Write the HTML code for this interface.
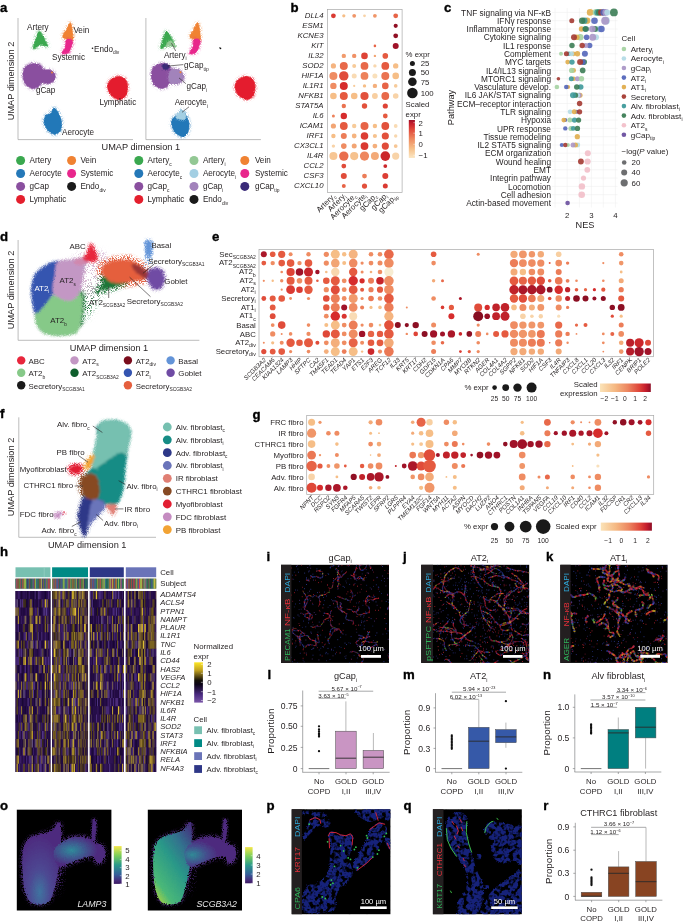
<!DOCTYPE html>
<html><head><meta charset="utf-8"><title>Figure</title>
<style>html,body{margin:0;padding:0;background:#fff}svg{display:block;will-change:transform}text{font-family:"Liberation Sans",sans-serif}</style>
</head><body>
<svg width="685" height="922" viewBox="0 0 685 922" fill="#231f20">
<defs>
<filter id="rough" x="-5%" y="-5%" width="110%" height="110%"><feTurbulence type="fractalNoise" baseFrequency="0.9" numOctaves="2" seed="3" result="n"/><feDisplacementMap in="SourceGraphic" in2="n" scale="2.2" xChannelSelector="R" yChannelSelector="G"/></filter>
<filter id="rough2" x="-5%" y="-5%" width="110%" height="110%"><feTurbulence type="fractalNoise" baseFrequency="0.9" numOctaves="2" seed="8" result="n"/><feDisplacementMap in="SourceGraphic" in2="n" scale="3.2" xChannelSelector="R" yChannelSelector="G" result="d"/><feGaussianBlur in="d" stdDeviation="0.35"/></filter>
<filter id="rough3" x="-5%" y="-5%" width="110%" height="110%"><feTurbulence type="fractalNoise" baseFrequency="0.9" numOctaves="2" seed="8" result="n"/><feDisplacementMap in="SourceGraphic" in2="n" scale="3.5" xChannelSelector="R" yChannelSelector="G" result="d"/><feGaussianBlur in="d" stdDeviation="0.8"/></filter>
<filter id="dust" x="-30%" y="-30%" width="160%" height="160%"><feTurbulence type="fractalNoise" baseFrequency="1.3" numOctaves="1" seed="5" result="n"/><feColorMatrix in="n" type="matrix" values="0 0 0 0 0 0 0 0 0 0 0 0 0 0 0 9 0 0 0 -4.1" result="m"/><feGaussianBlur in="SourceGraphic" stdDeviation="1.6" result="b"/><feComposite in="b" in2="m" operator="in"/></filter>
<filter id="dust2" x="-30%" y="-30%" width="160%" height="160%"><feTurbulence type="fractalNoise" baseFrequency="1.4" numOctaves="1" seed="11" result="n"/><feColorMatrix in="n" type="matrix" values="0 0 0 0 0 0 0 0 0 0 0 0 0 0 0 9 0 0 0 -4.9" result="m"/><feGaussianBlur in="SourceGraphic" stdDeviation="3" result="b"/><feComposite in="b" in2="m" operator="in"/></filter>
<filter id="rough4" x="-5%" y="-5%" width="110%" height="110%"><feTurbulence type="fractalNoise" baseFrequency="0.9" numOctaves="2" seed="8" result="n"/><feGaussianBlur in="SourceGraphic" stdDeviation="1.3" result="b"/><feDisplacementMap in="b" in2="n" scale="3" xChannelSelector="R" yChannelSelector="G" result="d"/><feGaussianBlur in="d" stdDeviation="0.5"/></filter>
<filter id="patch" x="-5%" y="-5%" width="110%" height="110%"><feTurbulence type="fractalNoise" baseFrequency="0.22" numOctaves="2" seed="2" result="n"/><feColorMatrix in="n" type="matrix" values="0 0 0 0 0 0 0 0 0 0 0 0 0 0 0 6 0 0 0 -2.1" result="m"/><feTurbulence type="fractalNoise" baseFrequency="0.9" numOctaves="2" seed="8" result="n2"/><feDisplacementMap in="SourceGraphic" in2="n2" scale="3" xChannelSelector="R" yChannelSelector="G" result="d"/><feComposite in="d" in2="m" operator="in" result="c"/><feGaussianBlur in="c" stdDeviation="0.4"/></filter>
<filter id="blur1" x="-10%" y="-10%" width="120%" height="120%"><feTurbulence type="fractalNoise" baseFrequency="0.9" numOctaves="2" seed="4" result="n"/><feDisplacementMap in="SourceGraphic" in2="n" scale="3" xChannelSelector="R" yChannelSelector="G" result="d"/><feGaussianBlur in="d" stdDeviation="0.7"/></filter>
<linearGradient id="orrdV" x1="0" y1="1" x2="0" y2="0"><stop offset="0" stop-color="#fbe7c4"/><stop offset="0.25" stop-color="#f6be87"/><stop offset="0.5" stop-color="#ee8a60"/><stop offset="0.75" stop-color="#e0483a"/><stop offset="0.9" stop-color="#c8202e"/><stop offset="1" stop-color="#9c1028"/></linearGradient>
<linearGradient id="orrdH" x1="0" y1="0" x2="1" y2="0"><stop offset="0" stop-color="#fbe3b8"/><stop offset="0.3" stop-color="#f5b882"/><stop offset="0.55" stop-color="#ec8560"/><stop offset="0.78" stop-color="#de4238"/><stop offset="0.9" stop-color="#c41c2c"/><stop offset="1" stop-color="#8e0e26"/></linearGradient>
<linearGradient id="heatV" x1="0" y1="0" x2="0" y2="1"><stop offset="0" stop-color="#fde725"/><stop offset="0.2" stop-color="#c0a020"/><stop offset="0.45" stop-color="#141008"/><stop offset="0.55" stop-color="#0c0418"/><stop offset="0.8" stop-color="#4a2a80"/><stop offset="1" stop-color="#7a55a8"/></linearGradient>
<linearGradient id="virV" x1="0" y1="0" x2="0" y2="1"><stop offset="0" stop-color="#f4e64a"/><stop offset="0.25" stop-color="#7ccf5a"/><stop offset="0.5" stop-color="#2a9a8a"/><stop offset="0.75" stop-color="#35609a"/><stop offset="0.92" stop-color="#482a7a"/><stop offset="1" stop-color="#3a1a62"/></linearGradient>
<radialGradient id="oA" cx="0.45" cy="0.85" r="0.7"><stop offset="0" stop-color="#3f74a0"/><stop offset="0.4" stop-color="#4d4892"/><stop offset="1" stop-color="#4e2a7e"/></radialGradient>
<radialGradient id="oB" cx="0.35" cy="0.45" r="0.5"><stop offset="0" stop-color="#2f8a9a"/><stop offset="0.5" stop-color="#3f5a90"/><stop offset="1" stop-color="#4e2a7e"/></radialGradient>
<linearGradient id="oC" x1="0.9" y1="0" x2="0.2" y2="1"><stop offset="0" stop-color="#45327e"/><stop offset="0.25" stop-color="#32708e"/><stop offset="0.5" stop-color="#2a9888"/><stop offset="0.85" stop-color="#4ab878"/><stop offset="1" stop-color="#a0d048"/></linearGradient>
<radialGradient id="oD" cx="0.15" cy="0.6" r="0.5"><stop offset="0" stop-color="#2f8a96"/><stop offset="0.6" stop-color="#454a8c"/><stop offset="1" stop-color="#4e2a7e"/></radialGradient>
</defs>
<text x="0" y="11.5" font-size="13.2" font-weight="bold" fill="#000" stroke="#000" stroke-width="0.35">a</text>
<line x1="18.0" y1="18.0" x2="18.0" y2="139.6" stroke="#a0a0a0" stroke-width="0.7"/>
<line x1="18.0" y1="139.6" x2="133.0" y2="139.6" stroke="#a0a0a0" stroke-width="0.7"/>
<line x1="145.9" y1="18.0" x2="145.9" y2="139.6" stroke="#a0a0a0" stroke-width="0.7"/>
<line x1="145.9" y1="139.6" x2="260.9" y2="139.6" stroke="#a0a0a0" stroke-width="0.7"/>
<g>
<polygon points="38.8,31.5 36.2,38.0 33.2,48.3 36.8,46.8 40.5,44.6 44.5,45.6 47.8,46.2 45.0,40.5 41.8,34.5" fill="#3aa84f" stroke="#3aa84f" stroke-width="2.2" stroke-linejoin="round" filter="url(#dust)"/>
<path d="M38.8 31.5C37.9 32.1 37.1 35.2 36.2 38.0C35.3 40.8 33.1 46.8 33.2 48.3C33.3 49.8 35.6 47.4 36.8 46.8C38.0 46.2 39.2 44.8 40.5 44.6C41.8 44.4 43.3 45.3 44.5 45.6C45.7 45.9 47.7 47.1 47.8 46.2C47.9 45.4 46.0 42.5 45.0 40.5C44.0 38.5 42.8 36.0 41.8 34.5C40.8 33.0 39.7 30.9 38.8 31.5Z" fill="#3aa84f" filter="url(#rough)" stroke="#3aa84f" stroke-width="0.6"/>
<polygon points="69.8,22.8 67.0,29.0 62.5,36.5 66.0,39.0 72.5,40.5 72.5,33.0 71.5,26.0" fill="#f08232" stroke="#f08232" stroke-width="2.2" stroke-linejoin="round" filter="url(#dust)"/>
<path d="M69.8 22.8C69.0 23.3 68.2 26.7 67.0 29.0C65.8 31.3 62.7 34.8 62.5 36.5C62.3 38.2 64.3 38.3 66.0 39.0C67.7 39.7 71.4 41.5 72.5 40.5C73.6 39.5 72.7 35.4 72.5 33.0C72.3 30.6 72.0 27.7 71.5 26.0C71.0 24.3 70.5 22.3 69.8 22.8Z" fill="#f08232" filter="url(#rough)" stroke="#f08232" stroke-width="0.6"/>
<polygon points="66.5,39.5 72.5,40.5 71.5,46.0 68.5,52.5 62.0,53.5 65.5,47.0" fill="#e8268c" stroke="#e8268c" stroke-width="2.2" stroke-linejoin="round" filter="url(#dust)"/>
<path d="M66.5 39.5C67.7 38.4 71.7 39.4 72.5 40.5C73.3 41.6 72.2 44.0 71.5 46.0C70.8 48.0 70.1 51.2 68.5 52.5C66.9 53.8 62.5 54.4 62.0 53.5C61.5 52.6 64.8 49.3 65.5 47.0C66.2 44.7 65.3 40.6 66.5 39.5Z" fill="#e8268c" filter="url(#rough)" stroke="#e8268c" stroke-width="0.6"/>
<polygon points="118.0,76.5 125.0,79.0 127.5,87.0 125.5,96.0 119.0,99.5 111.0,95.0 107.5,87.0 110.5,80.0" fill="#e41f2d" stroke="#e41f2d" stroke-width="2.2" stroke-linejoin="round" filter="url(#dust)"/>
<path d="M118.0 76.5C120.4 76.3 123.4 77.2 125.0 79.0C126.6 80.8 127.4 84.2 127.5 87.0C127.6 89.8 126.9 93.9 125.5 96.0C124.1 98.1 121.4 99.7 119.0 99.5C116.6 99.3 112.9 97.1 111.0 95.0C109.1 92.9 107.6 89.5 107.5 87.0C107.4 84.5 108.8 81.8 110.5 80.0C112.2 78.2 115.6 76.7 118.0 76.5Z" fill="#e41f2d" filter="url(#rough)" stroke="#e41f2d" stroke-width="0.6"/>
<polygon points="54.0,108.0 58.5,113.0 61.5,122.0 60.0,131.0 54.5,134.2 47.5,130.0 44.0,121.0 46.5,115.0 50.5,113.5" fill="#2478b8" stroke="#2478b8" stroke-width="2.2" stroke-linejoin="round" filter="url(#dust)"/>
<path d="M54.0 108.0C55.3 107.9 57.2 110.7 58.5 113.0C59.8 115.3 61.2 119.0 61.5 122.0C61.8 125.0 61.2 129.0 60.0 131.0C58.8 133.0 56.6 134.4 54.5 134.2C52.4 134.0 49.2 132.2 47.5 130.0C45.8 127.8 44.2 123.5 44.0 121.0C43.8 118.5 45.4 116.2 46.5 115.0C47.6 113.8 49.2 114.7 50.5 113.5C51.8 112.3 52.7 108.1 54.0 108.0Z" fill="#2478b8" filter="url(#rough)" stroke="#2478b8" stroke-width="0.6"/>
<polygon points="23.0,75.0 25.5,67.0 33.0,63.5 40.0,65.0 43.0,69.5 50.0,70.0 54.8,74.0 54.0,80.5 48.0,83.5 42.0,82.5 38.0,87.0 32.0,88.3 25.5,84.0" fill="#8a4f9f" stroke="#8a4f9f" stroke-width="2.2" stroke-linejoin="round" filter="url(#dust)"/>
<path d="M23.0 75.0C23.0 72.2 23.8 68.9 25.5 67.0C27.2 65.1 30.6 63.8 33.0 63.5C35.4 63.2 38.3 64.0 40.0 65.0C41.7 66.0 41.3 68.7 43.0 69.5C44.7 70.3 48.0 69.2 50.0 70.0C52.0 70.8 54.1 72.2 54.8 74.0C55.5 75.8 55.1 78.9 54.0 80.5C52.9 82.1 50.0 83.2 48.0 83.5C46.0 83.8 43.7 81.9 42.0 82.5C40.3 83.1 39.7 86.0 38.0 87.0C36.3 88.0 34.1 88.8 32.0 88.3C29.9 87.8 27.0 86.2 25.5 84.0C24.0 81.8 23.0 77.8 23.0 75.0Z" fill="#8a4f9f" filter="url(#rough)" stroke="#8a4f9f" stroke-width="0.6"/>
<circle cx="52.0" cy="72.5" r="0.90" fill="#f08232"/>
<polygon points="166.3,31.5 163.7,38.0 160.7,48.3 164.3,46.8 168.0,44.6 172.0,45.6 175.3,46.2 172.5,40.5 169.3,34.5" fill="#3aa84f" stroke="#3aa84f" stroke-width="2.2" stroke-linejoin="round" filter="url(#dust)"/>
<path d="M166.3 31.5C165.4 32.1 164.6 35.2 163.7 38.0C162.8 40.8 160.6 46.8 160.7 48.3C160.8 49.8 163.1 47.4 164.3 46.8C165.5 46.2 166.7 44.8 168.0 44.6C169.3 44.4 170.8 45.3 172.0 45.6C173.2 45.9 175.2 47.1 175.3 46.2C175.4 45.4 173.5 42.5 172.5 40.5C171.5 38.5 170.3 36.0 169.3 34.5C168.3 33.0 167.2 30.9 166.3 31.5Z" fill="#3aa84f" filter="url(#rough)" stroke="#3aa84f" stroke-width="0.6"/>
<polygon points="168.0,42.5 171.5,41.0 175.3,46.2 170.5,45.0 166.5,47.0" fill="#93c894" stroke="#93c894" stroke-width="2.2" stroke-linejoin="round" filter="url(#dust)"/>
<path d="M168.0 42.5C168.8 41.5 170.3 40.4 171.5 41.0C172.7 41.6 175.5 45.5 175.3 46.2C175.1 46.9 172.0 44.9 170.5 45.0C169.0 45.1 166.9 47.4 166.5 47.0C166.1 46.6 167.2 43.5 168.0 42.5Z" fill="#93c894" filter="url(#rough)" stroke="#93c894" stroke-width="0.6"/>
<polygon points="197.3,22.8 194.5,29.0 190.0,36.5 193.5,39.0 200.0,40.5 200.0,33.0 199.0,26.0" fill="#f08232" stroke="#f08232" stroke-width="2.2" stroke-linejoin="round" filter="url(#dust)"/>
<path d="M197.3 22.8C196.5 23.3 195.7 26.7 194.5 29.0C193.3 31.3 190.2 34.8 190.0 36.5C189.8 38.2 191.8 38.3 193.5 39.0C195.2 39.7 198.9 41.5 200.0 40.5C201.1 39.5 200.2 35.4 200.0 33.0C199.8 30.6 199.4 27.7 199.0 26.0C198.6 24.3 198.0 22.3 197.3 22.8Z" fill="#f08232" filter="url(#rough)" stroke="#f08232" stroke-width="0.6"/>
<polygon points="194.0,39.5 200.0,40.5 199.0,46.0 196.0,52.5 189.5,53.5 193.0,47.0" fill="#e8268c" stroke="#e8268c" stroke-width="2.2" stroke-linejoin="round" filter="url(#dust)"/>
<path d="M194.0 39.5C195.2 38.4 199.2 39.4 200.0 40.5C200.8 41.6 199.7 44.0 199.0 46.0C198.3 48.0 197.6 51.2 196.0 52.5C194.4 53.8 190.0 54.4 189.5 53.5C189.0 52.6 192.2 49.3 193.0 47.0C193.8 44.7 192.8 40.6 194.0 39.5Z" fill="#e8268c" filter="url(#rough)" stroke="#e8268c" stroke-width="0.6"/>
<polygon points="245.5,76.5 252.5,79.0 255.0,87.0 253.0,96.0 246.5,99.5 238.5,95.0 235.0,87.0 238.0,80.0" fill="#e41f2d" stroke="#e41f2d" stroke-width="2.2" stroke-linejoin="round" filter="url(#dust)"/>
<path d="M245.5 76.5C247.9 76.3 250.9 77.2 252.5 79.0C254.1 80.8 254.9 84.2 255.0 87.0C255.1 89.8 254.4 93.9 253.0 96.0C251.6 98.1 248.9 99.7 246.5 99.5C244.1 99.3 240.4 97.1 238.5 95.0C236.6 92.9 235.1 89.5 235.0 87.0C234.9 84.5 236.2 81.8 238.0 80.0C239.8 78.2 243.1 76.7 245.5 76.5Z" fill="#e41f2d" filter="url(#rough)" stroke="#e41f2d" stroke-width="0.6"/>
<polygon points="181.5,110.3 186.0,115.3 189.0,124.3 187.5,133.3 182.0,136.5 175.0,132.3 171.5,123.3 174.0,117.3 178.0,115.8" fill="#2478b8" stroke="#2478b8" stroke-width="2.2" stroke-linejoin="round" filter="url(#dust)"/>
<path d="M181.5 110.3C182.8 110.2 184.8 113.0 186.0 115.3C187.2 117.6 188.8 121.3 189.0 124.3C189.2 127.3 188.7 131.3 187.5 133.3C186.3 135.3 184.1 136.7 182.0 136.5C179.9 136.3 176.8 134.5 175.0 132.3C173.2 130.1 171.7 125.8 171.5 123.3C171.3 120.8 172.9 118.5 174.0 117.3C175.1 116.0 176.8 117.0 178.0 115.8C179.2 114.6 180.2 110.4 181.5 110.3Z" fill="#2478b8" filter="url(#rough)" stroke="#2478b8" stroke-width="0.6"/>
<polygon points="181.5,110.3 185.5,114.8 184.5,119.3 178.5,118.8 176.5,116.8" fill="#a3cfe3" stroke="#a3cfe3" stroke-width="2.2" stroke-linejoin="round" filter="url(#dust)"/>
<path d="M181.5 110.3C183.0 110.0 185.0 113.3 185.5 114.8C186.0 116.3 185.7 118.6 184.5 119.3C183.3 120.0 179.8 119.2 178.5 118.8C177.2 118.4 176.0 118.2 176.5 116.8C177.0 115.4 180.0 110.6 181.5 110.3Z" fill="#a3cfe3" filter="url(#rough)" stroke="#a3cfe3" stroke-width="0.6"/>
<polygon points="151.3,75.0 153.8,67.0 161.3,63.5 168.3,65.0 171.3,69.5 178.3,70.0 183.1,74.0 182.3,80.5 176.3,83.5 170.3,82.5 166.3,87.0 160.3,88.3 153.8,84.0" fill="#8a4f9f" stroke="#8a4f9f" stroke-width="2.2" stroke-linejoin="round" filter="url(#dust)"/>
<path d="M151.3 75.0C151.3 72.2 152.1 68.9 153.8 67.0C155.5 65.1 158.9 63.8 161.3 63.5C163.7 63.2 166.6 64.0 168.3 65.0C170.0 66.0 169.6 68.7 171.3 69.5C173.0 70.3 176.3 69.2 178.3 70.0C180.3 70.8 182.4 72.2 183.1 74.0C183.8 75.8 183.4 78.9 182.3 80.5C181.2 82.1 178.3 83.2 176.3 83.5C174.3 83.8 172.0 81.9 170.3 82.5C168.6 83.1 168.0 86.0 166.3 87.0C164.6 88.0 162.4 88.8 160.3 88.3C158.2 87.8 155.3 86.2 153.8 84.0C152.3 81.8 151.3 77.8 151.3 75.0Z" fill="#8a4f9f" filter="url(#rough)" stroke="#8a4f9f" stroke-width="0.6"/>
<polygon points="171.3,70.0 178.3,70.0 183.1,74.0 182.3,80.5 176.3,83.5 170.3,82.5 168.8,76.0" fill="#a283bb" stroke="#a283bb" stroke-width="2.2" stroke-linejoin="round" filter="url(#dust)"/>
<path d="M171.3 70.0C172.9 69.0 176.3 69.3 178.3 70.0C180.3 70.7 182.4 72.2 183.1 74.0C183.8 75.8 183.4 78.9 182.3 80.5C181.2 82.1 178.3 83.2 176.3 83.5C174.3 83.8 171.6 83.8 170.3 82.5C169.1 81.2 168.6 78.1 168.8 76.0C169.0 73.9 169.7 71.0 171.3 70.0Z" fill="#a283bb" filter="url(#rough)" stroke="#a283bb" stroke-width="0.6"/>
<polygon points="163.3,64.5 167.8,64.8 168.8,68.0 165.3,69.5 162.8,67.5" fill="#3a2a78" stroke="#3a2a78" stroke-width="2.2" stroke-linejoin="round" filter="url(#dust)"/>
<path d="M163.3 64.5C164.1 64.0 166.9 64.2 167.8 64.8C168.7 65.4 169.2 67.2 168.8 68.0C168.4 68.8 166.3 69.6 165.3 69.5C164.3 69.4 163.1 68.3 162.8 67.5C162.5 66.7 162.5 65.0 163.3 64.5Z" fill="#3a2a78" filter="url(#rough)" stroke="#3a2a78" stroke-width="0.6"/>
<circle cx="180.5" cy="72.2" r="1.00" fill="#f08232"/>
</g>
<circle cx="92.5" cy="48.2" r="0.80" fill="#111"/>
<circle cx="220.5" cy="48.4" r="0.80" fill="#111"/>
<circle cx="219.7" cy="47.7" r="0.50" fill="#111"/>
<text x="27.0" y="29.8" font-size="8.15" >Artery</text>
<text x="73.4" y="32.8" font-size="8.15" >Vein</text>
<text x="52.0" y="60.2" font-size="8.15" >Systemic</text>
<text x="94.0" y="51.9" font-size="8.15" >Endo<tspan font-size="4.9" dy="2.4">div</tspan></text>
<text x="35.9" y="92.8" font-size="8.15" >gCap</text>
<text x="99.5" y="105.4" font-size="8.15" >Lymphatic</text>
<text x="62.0" y="135.3" font-size="8.15" >Aerocyte</text>
<text x="163.9" y="57.7" font-size="8.15" >Artery<tspan font-size="4.9" dy="2.4">i</tspan></text>
<text x="184.0" y="68.2" font-size="8.15" >gCap<tspan font-size="4.9" dy="2.4">tip</tspan></text>
<text x="186.5" y="89.1" font-size="8.15" >gCap<tspan font-size="4.9" dy="2.4">i</tspan></text>
<text x="174.7" y="105.4" font-size="8.15" >Aerocyte<tspan font-size="4.9" dy="2.4">i</tspan></text>
<line x1="171.5" y1="43.2" x2="175.7" y2="51.0" stroke="#231f20" stroke-width="0.6"/>
<line x1="167.7" y1="66.1" x2="183.3" y2="64.6" stroke="#231f20" stroke-width="0.6"/>
<line x1="179.0" y1="77.9" x2="185.8" y2="83.7" stroke="#231f20" stroke-width="0.6"/>
<line x1="189.0" y1="106.8" x2="182.0" y2="112.3" stroke="#231f20" stroke-width="0.6"/>
<text x="10.6" y="0.4" font-size="1" ></text>
<text transform="translate(13.6 81) rotate(-90)" text-anchor="middle" font-size="9.2">UMAP dimension 2</text>
<text x="140.8" y="149.8" text-anchor="middle" font-size="9.2">UMAP dimension 1</text>
<circle cx="20.6" cy="160.5" r="4.50" fill="#3aa84f"/>
<text x="29.6" y="163.4" font-size="8.15" >Artery</text>
<circle cx="71.6" cy="160.5" r="4.50" fill="#f08232"/>
<text x="80.4" y="163.4" font-size="8.15" >Vein</text>
<circle cx="20.6" cy="173.5" r="4.50" fill="#2478b8"/>
<text x="29.6" y="176.4" font-size="8.15" >Aerocyte</text>
<circle cx="71.6" cy="173.5" r="4.50" fill="#e8268c"/>
<text x="80.4" y="176.4" font-size="8.15" >Systemic</text>
<circle cx="20.6" cy="186.4" r="4.50" fill="#8a4f9f"/>
<text x="29.6" y="189.3" font-size="8.15" >gCap</text>
<circle cx="71.6" cy="186.4" r="4.50" fill="#1a1a1a"/>
<text x="80.4" y="189.3" font-size="8.15" >Endo<tspan font-size="4.9" dy="2.4">div</tspan></text>
<circle cx="20.6" cy="199.4" r="4.50" fill="#e41f2d"/>
<text x="29.6" y="202.3" font-size="8.15" >Lymphatic</text>
<circle cx="138.8" cy="160.5" r="4.50" fill="#3aa84f"/>
<text x="147.6" y="163.4" font-size="8.15" >Artery<tspan font-size="4.9" dy="2.4">c</tspan></text>
<circle cx="194.0" cy="160.5" r="4.50" fill="#93c894"/>
<text x="202.9" y="163.4" font-size="8.15" >Artery<tspan font-size="4.9" dy="2.4">i</tspan></text>
<circle cx="244.8" cy="160.5" r="4.50" fill="#f08232"/>
<text x="254.9" y="163.4" font-size="8.15" >Vein</text>
<circle cx="138.8" cy="173.5" r="4.50" fill="#2478b8"/>
<text x="147.6" y="176.4" font-size="8.15" >Aerocyte<tspan font-size="4.9" dy="2.4">c</tspan></text>
<circle cx="194.0" cy="173.5" r="4.50" fill="#a3cfe3"/>
<text x="202.9" y="176.4" font-size="8.15" >Aerocyte<tspan font-size="4.9" dy="2.4">i</tspan></text>
<circle cx="244.8" cy="173.5" r="4.50" fill="#e8268c"/>
<text x="254.9" y="176.4" font-size="8.15" >Systemic</text>
<circle cx="138.8" cy="186.4" r="4.50" fill="#8a4f9f"/>
<text x="147.6" y="189.3" font-size="8.15" >gCap<tspan font-size="4.9" dy="2.4">c</tspan></text>
<circle cx="194.0" cy="186.4" r="4.50" fill="#a283bb"/>
<text x="202.9" y="189.3" font-size="8.15" >gCap<tspan font-size="4.9" dy="2.4">i</tspan></text>
<circle cx="244.8" cy="186.4" r="4.50" fill="#3a2a78"/>
<text x="254.9" y="189.3" font-size="8.15" >gCap<tspan font-size="4.9" dy="2.4">tip</tspan></text>
<circle cx="138.8" cy="199.4" r="4.50" fill="#e41f2d"/>
<text x="147.6" y="202.3" font-size="8.15" >Lymphatic</text>
<circle cx="194.0" cy="199.4" r="4.50" fill="#1a1a1a"/>
<text x="202.9" y="202.3" font-size="8.15" >Endo<tspan font-size="4.9" dy="2.4">div</tspan></text>
<text x="290.5" y="11.5" font-size="13.2" font-weight="bold" fill="#000" stroke="#000" stroke-width="0.35">b</text>
<rect x="327.5" y="9.4" width="74.6" height="183.0" fill="none" stroke="#a8a8a8" stroke-width="0.7" />
<text x="323.5" y="18.0" font-size="7.8" text-anchor="end" font-style="italic" >DLL4</text>
<circle cx="333.4" cy="15.8" r="2.40" fill="#da3a32"/>
<circle cx="343.8" cy="15.8" r="1.60" fill="#f6be87"/>
<circle cx="354.2" cy="15.8" r="1.90" fill="#f09669"/>
<circle cx="364.5" cy="15.8" r="1.40" fill="#f8d3a8"/>
<circle cx="374.9" cy="15.8" r="1.90" fill="#f09669"/>
<circle cx="395.7" cy="15.8" r="2.40" fill="#e76447"/>
<text x="323.5" y="28.0" font-size="7.8" text-anchor="end" font-style="italic" >ESM1</text>
<circle cx="395.7" cy="25.8" r="2.10" fill="#911024"/>
<text x="323.5" y="38.0" font-size="7.8" text-anchor="end" font-style="italic" >KCNE3</text>
<circle cx="395.7" cy="35.8" r="2.40" fill="#911024"/>
<text x="323.5" y="48.1" font-size="7.8" text-anchor="end" font-style="italic" >KIT</text>
<circle cx="374.9" cy="45.9" r="1.30" fill="#e76447"/>
<circle cx="395.7" cy="45.9" r="3.00" fill="#a01228"/>
<text x="323.5" y="58.1" font-size="7.8" text-anchor="end" font-style="italic" >IL32</text>
<circle cx="343.8" cy="55.9" r="2.20" fill="#f19b6d"/>
<circle cx="354.2" cy="55.9" r="2.20" fill="#f09166"/>
<circle cx="364.5" cy="55.9" r="3.30" fill="#de4336"/>
<circle cx="374.9" cy="55.9" r="1.20" fill="#f2a574"/>
<circle cx="385.3" cy="55.9" r="2.80" fill="#e55a40"/>
<text x="323.5" y="68.1" font-size="7.8" text-anchor="end" font-style="italic" >SOD2</text>
<circle cx="333.4" cy="65.9" r="2.60" fill="#f5b480"/>
<circle cx="343.8" cy="65.9" r="4.00" fill="#e8694a"/>
<circle cx="354.2" cy="65.9" r="2.00" fill="#f7cb9a"/>
<circle cx="364.5" cy="65.9" r="3.90" fill="#e8694a"/>
<circle cx="374.9" cy="65.9" r="1.70" fill="#f8d7ae"/>
<circle cx="385.3" cy="65.9" r="3.90" fill="#e55a40"/>
<circle cx="395.7" cy="65.9" r="2.70" fill="#f6be87"/>
<text x="323.5" y="78.1" font-size="7.8" text-anchor="end" font-style="italic" >HIF1A</text>
<circle cx="333.4" cy="75.9" r="4.00" fill="#ef8c62"/>
<circle cx="343.8" cy="75.9" r="4.70" fill="#e04c3a"/>
<circle cx="354.2" cy="75.9" r="2.50" fill="#f9dbb4"/>
<circle cx="364.5" cy="75.9" r="3.90" fill="#ed825b"/>
<circle cx="374.9" cy="75.9" r="2.50" fill="#f9e0bb"/>
<circle cx="385.3" cy="75.9" r="4.00" fill="#ea7351"/>
<circle cx="395.7" cy="75.9" r="3.30" fill="#f6be87"/>
<text x="323.5" y="88.1" font-size="7.8" text-anchor="end" font-style="italic" >IL1R1</text>
<circle cx="333.4" cy="85.9" r="3.20" fill="#ef8c62"/>
<circle cx="343.8" cy="85.9" r="4.00" fill="#d62c2c"/>
<circle cx="354.2" cy="85.9" r="1.10" fill="#f7cb9a"/>
<circle cx="364.5" cy="85.9" r="1.70" fill="#f6be87"/>
<circle cx="374.9" cy="85.9" r="2.20" fill="#f4af7c"/>
<circle cx="385.3" cy="85.9" r="3.30" fill="#e76447"/>
<circle cx="395.7" cy="85.9" r="1.80" fill="#f7cb9a"/>
<text x="323.5" y="98.2" font-size="7.8" text-anchor="end" font-style="italic" >NFKB1</text>
<circle cx="333.4" cy="96.0" r="3.30" fill="#f6be87"/>
<circle cx="343.8" cy="96.0" r="4.00" fill="#e55a40"/>
<circle cx="354.2" cy="96.0" r="3.30" fill="#f6be87"/>
<circle cx="364.5" cy="96.0" r="4.10" fill="#e2513c"/>
<circle cx="374.9" cy="96.0" r="2.90" fill="#f8cfa1"/>
<circle cx="385.3" cy="96.0" r="3.90" fill="#e8694a"/>
<circle cx="395.7" cy="96.0" r="2.80" fill="#f8d3a8"/>
<text x="323.5" y="108.2" font-size="7.8" text-anchor="end" font-style="italic" >STAT5A</text>
<circle cx="343.8" cy="106.0" r="2.20" fill="#ea7351"/>
<circle cx="364.5" cy="106.0" r="2.70" fill="#e2513c"/>
<circle cx="385.3" cy="106.0" r="2.60" fill="#de4336"/>
<text x="323.5" y="118.2" font-size="7.8" text-anchor="end" font-style="italic" >IL6</text>
<circle cx="333.4" cy="116.0" r="1.50" fill="#ed825b"/>
<circle cx="343.8" cy="116.0" r="3.20" fill="#d62c2c"/>
<circle cx="385.3" cy="116.0" r="2.40" fill="#e55a40"/>
<text x="323.5" y="128.2" font-size="7.8" text-anchor="end" font-style="italic" >ICAM1</text>
<circle cx="333.4" cy="126.0" r="2.60" fill="#f2a574"/>
<circle cx="343.8" cy="126.0" r="3.90" fill="#e55a40"/>
<circle cx="354.2" cy="126.0" r="2.20" fill="#f7cb9a"/>
<circle cx="364.5" cy="126.0" r="4.00" fill="#e76447"/>
<circle cx="374.9" cy="126.0" r="2.20" fill="#f6be87"/>
<circle cx="385.3" cy="126.0" r="3.90" fill="#e2513c"/>
<circle cx="395.7" cy="126.0" r="1.90" fill="#f9dbb4"/>
<text x="323.5" y="138.2" font-size="7.8" text-anchor="end" font-style="italic" >IRF1</text>
<circle cx="333.4" cy="136.0" r="2.20" fill="#f6be87"/>
<circle cx="343.8" cy="136.0" r="3.00" fill="#ec7d58"/>
<circle cx="354.2" cy="136.0" r="2.40" fill="#f5b480"/>
<circle cx="364.5" cy="136.0" r="3.80" fill="#dc3e34"/>
<circle cx="374.9" cy="136.0" r="2.10" fill="#f6c28e"/>
<circle cx="385.3" cy="136.0" r="3.60" fill="#e2513c"/>
<circle cx="395.7" cy="136.0" r="1.70" fill="#f8d7ae"/>
<text x="323.5" y="148.3" font-size="7.8" text-anchor="end" font-style="italic" >CX3CL1</text>
<circle cx="333.4" cy="146.1" r="1.70" fill="#f8d3a8"/>
<circle cx="343.8" cy="146.1" r="2.80" fill="#ef8c62"/>
<circle cx="354.2" cy="146.1" r="2.50" fill="#f2a574"/>
<circle cx="364.5" cy="146.1" r="3.90" fill="#da3a32"/>
<circle cx="374.9" cy="146.1" r="2.40" fill="#f4af7c"/>
<circle cx="385.3" cy="146.1" r="3.60" fill="#e04c3a"/>
<circle cx="395.7" cy="146.1" r="1.90" fill="#f7c694"/>
<text x="323.5" y="158.3" font-size="7.8" text-anchor="end" font-style="italic" >IL4R</text>
<circle cx="333.4" cy="156.1" r="4.00" fill="#f7c694"/>
<circle cx="343.8" cy="156.1" r="4.70" fill="#e96e4e"/>
<circle cx="354.2" cy="156.1" r="4.10" fill="#f6c28e"/>
<circle cx="364.5" cy="156.1" r="4.60" fill="#ee875f"/>
<circle cx="374.9" cy="156.1" r="4.00" fill="#f3aa78"/>
<circle cx="385.3" cy="156.1" r="4.80" fill="#cb272b"/>
<circle cx="395.7" cy="156.1" r="3.60" fill="#f8d3a8"/>
<text x="323.5" y="168.3" font-size="7.8" text-anchor="end" font-style="italic" >CCL2</text>
<circle cx="343.8" cy="166.1" r="2.40" fill="#e04c3a"/>
<circle cx="385.3" cy="166.1" r="1.90" fill="#cb272b"/>
<text x="323.5" y="178.3" font-size="7.8" text-anchor="end" font-style="italic" >CSF3</text>
<circle cx="343.8" cy="176.1" r="3.00" fill="#e04c3a"/>
<circle cx="364.5" cy="176.1" r="2.40" fill="#ec7d58"/>
<circle cx="385.3" cy="176.1" r="3.00" fill="#dc3e34"/>
<text x="323.5" y="188.3" font-size="7.8" text-anchor="end" font-style="italic" >CXCL10</text>
<circle cx="343.8" cy="186.1" r="2.00" fill="#e76447"/>
<circle cx="364.5" cy="186.1" r="2.60" fill="#e2513c"/>
<circle cx="385.3" cy="186.1" r="2.50" fill="#da3a32"/>
<text transform="translate(335.9 196.5) rotate(-45)" text-anchor="end" font-size="7.8">Artery<tspan font-size="4.7" dy="1.7">c</tspan></text>
<text transform="translate(346.3 196.5) rotate(-45)" text-anchor="end" font-size="7.8">Artery<tspan font-size="4.7" dy="1.7">i</tspan></text>
<text transform="translate(356.7 196.5) rotate(-45)" text-anchor="end" font-size="7.8">Aerocyte<tspan font-size="4.7" dy="1.7">c</tspan></text>
<text transform="translate(367.0 196.5) rotate(-45)" text-anchor="end" font-size="7.8">Aerocyte<tspan font-size="4.7" dy="1.7">i</tspan></text>
<text transform="translate(377.4 196.5) rotate(-45)" text-anchor="end" font-size="7.8">gCap<tspan font-size="4.7" dy="1.7">c</tspan></text>
<text transform="translate(387.8 196.5) rotate(-45)" text-anchor="end" font-size="7.8">gCap<tspan font-size="4.7" dy="1.7">i</tspan></text>
<text transform="translate(398.2 196.5) rotate(-45)" text-anchor="end" font-size="7.8">gCap<tspan font-size="4.7" dy="1.7">tip</tspan></text>
<text x="405.6" y="56.8" font-size="7.8" >% expr</text>
<circle cx="412.4" cy="63.6" r="2.50" fill="#1a1a1a"/>
<text x="420.7" y="66.4" font-size="7.8" >25</text>
<circle cx="412.4" cy="72.6" r="3.50" fill="#1a1a1a"/>
<text x="420.7" y="75.4" font-size="7.8" >50</text>
<circle cx="412.4" cy="81.7" r="4.30" fill="#1a1a1a"/>
<text x="420.7" y="84.5" font-size="7.8" >75</text>
<circle cx="412.4" cy="93.0" r="5.30" fill="#1a1a1a"/>
<text x="420.7" y="95.8" font-size="7.8" >100</text>
<text x="405.6" y="107.3" font-size="7.8" >Scaled</text>
<text x="405.6" y="117.3" font-size="7.8" >expr</text>
<rect x="408.8" y="120.0" width="6.1" height="38.0" fill="url(#orrdV)" />
<line x1="413.4" y1="122.7" x2="414.9" y2="122.7" stroke="#fff" stroke-width="0.5"/>
<text x="418.6" y="125.5" font-size="7.8" >2</text>
<line x1="413.4" y1="133.2" x2="414.9" y2="133.2" stroke="#fff" stroke-width="0.5"/>
<text x="418.6" y="136.0" font-size="7.8" >1</text>
<line x1="413.4" y1="144.3" x2="414.9" y2="144.3" stroke="#fff" stroke-width="0.5"/>
<text x="418.6" y="147.1" font-size="7.8" >0</text>
<line x1="413.4" y1="155.3" x2="414.9" y2="155.3" stroke="#fff" stroke-width="0.5"/>
<text x="418.6" y="158.1" font-size="7.8" >−1</text>
<text x="444" y="11.5" font-size="13.2" font-weight="bold" fill="#000" stroke="#000" stroke-width="0.35">c</text>
<line x1="555.1" y1="8.0" x2="555.1" y2="207.5" stroke="#ececec" stroke-width="0.5"/>
<line x1="567.2" y1="8.0" x2="567.2" y2="207.5" stroke="#ececec" stroke-width="0.5"/>
<line x1="579.4" y1="8.0" x2="579.4" y2="207.5" stroke="#ececec" stroke-width="0.5"/>
<line x1="591.4" y1="8.0" x2="591.4" y2="207.5" stroke="#ececec" stroke-width="0.5"/>
<line x1="603.3" y1="8.0" x2="603.3" y2="207.5" stroke="#ececec" stroke-width="0.5"/>
<line x1="615.4" y1="8.0" x2="615.4" y2="207.5" stroke="#ececec" stroke-width="0.5"/>
<line x1="552.0" y1="12.4" x2="617.5" y2="12.4" stroke="#ececec" stroke-width="0.5"/>
<text x="551.0" y="15.5" font-size="8.3" text-anchor="end" >TNF signaling via NF-κB</text>
<line x1="552.0" y1="20.7" x2="617.5" y2="20.7" stroke="#ececec" stroke-width="0.5"/>
<text x="551.0" y="23.8" font-size="8.3" text-anchor="end" >IFNγ response</text>
<line x1="552.0" y1="29.0" x2="617.5" y2="29.0" stroke="#ececec" stroke-width="0.5"/>
<text x="551.0" y="32.1" font-size="8.3" text-anchor="end" >Inflammatory response</text>
<line x1="552.0" y1="37.3" x2="617.5" y2="37.3" stroke="#ececec" stroke-width="0.5"/>
<text x="551.0" y="40.3" font-size="8.3" text-anchor="end" >Cytokine signaling</text>
<line x1="552.0" y1="45.5" x2="617.5" y2="45.5" stroke="#ececec" stroke-width="0.5"/>
<text x="551.0" y="48.6" font-size="8.3" text-anchor="end" >IL1 response</text>
<line x1="552.0" y1="53.8" x2="617.5" y2="53.8" stroke="#ececec" stroke-width="0.5"/>
<text x="551.0" y="56.9" font-size="8.3" text-anchor="end" >Complement</text>
<line x1="552.0" y1="62.1" x2="617.5" y2="62.1" stroke="#ececec" stroke-width="0.5"/>
<text x="551.0" y="65.2" font-size="8.3" text-anchor="end" >MYC targets</text>
<line x1="552.0" y1="70.4" x2="617.5" y2="70.4" stroke="#ececec" stroke-width="0.5"/>
<text x="551.0" y="73.5" font-size="8.3" text-anchor="end" >IL4/IL13 signaling</text>
<line x1="552.0" y1="78.7" x2="617.5" y2="78.7" stroke="#ececec" stroke-width="0.5"/>
<text x="551.0" y="81.8" font-size="8.3" text-anchor="end" >MTORC1 signaling</text>
<line x1="552.0" y1="87.0" x2="617.5" y2="87.0" stroke="#ececec" stroke-width="0.5"/>
<text x="551.0" y="90.1" font-size="8.3" text-anchor="end" >Vasculature develop.</text>
<line x1="552.0" y1="95.2" x2="617.5" y2="95.2" stroke="#ececec" stroke-width="0.5"/>
<text x="551.0" y="98.3" font-size="8.3" text-anchor="end" >IL6 JAK/STAT signaling</text>
<line x1="552.0" y1="103.5" x2="617.5" y2="103.5" stroke="#ececec" stroke-width="0.5"/>
<text x="551.0" y="106.6" font-size="8.3" text-anchor="end" >ECM–receptor interaction</text>
<line x1="552.0" y1="111.8" x2="617.5" y2="111.8" stroke="#ececec" stroke-width="0.5"/>
<text x="551.0" y="114.9" font-size="8.3" text-anchor="end" >TLR signaling</text>
<line x1="552.0" y1="120.1" x2="617.5" y2="120.1" stroke="#ececec" stroke-width="0.5"/>
<text x="551.0" y="123.2" font-size="8.3" text-anchor="end" >Hypoxia</text>
<line x1="552.0" y1="128.4" x2="617.5" y2="128.4" stroke="#ececec" stroke-width="0.5"/>
<text x="551.0" y="131.5" font-size="8.3" text-anchor="end" >UPR response</text>
<line x1="552.0" y1="136.7" x2="617.5" y2="136.7" stroke="#ececec" stroke-width="0.5"/>
<text x="551.0" y="139.8" font-size="8.3" text-anchor="end" >Tissue remodeling</text>
<line x1="552.0" y1="145.0" x2="617.5" y2="145.0" stroke="#ececec" stroke-width="0.5"/>
<text x="551.0" y="148.0" font-size="8.3" text-anchor="end" >IL2 STAT5 signaling</text>
<line x1="552.0" y1="153.2" x2="617.5" y2="153.2" stroke="#ececec" stroke-width="0.5"/>
<text x="551.0" y="156.3" font-size="8.3" text-anchor="end" >ECM organization</text>
<line x1="552.0" y1="161.5" x2="617.5" y2="161.5" stroke="#ececec" stroke-width="0.5"/>
<text x="551.0" y="164.6" font-size="8.3" text-anchor="end" >Wound healing</text>
<line x1="552.0" y1="169.8" x2="617.5" y2="169.8" stroke="#ececec" stroke-width="0.5"/>
<text x="551.0" y="172.9" font-size="8.3" text-anchor="end" >EMT</text>
<line x1="552.0" y1="178.1" x2="617.5" y2="178.1" stroke="#ececec" stroke-width="0.5"/>
<text x="551.0" y="181.2" font-size="8.3" text-anchor="end" >Integrin pathway</text>
<line x1="552.0" y1="186.4" x2="617.5" y2="186.4" stroke="#ececec" stroke-width="0.5"/>
<text x="551.0" y="189.5" font-size="8.3" text-anchor="end" >Locomotion</text>
<line x1="552.0" y1="194.7" x2="617.5" y2="194.7" stroke="#ececec" stroke-width="0.5"/>
<text x="551.0" y="197.8" font-size="8.3" text-anchor="end" >Cell adhesion</text>
<line x1="552.0" y1="203.0" x2="617.5" y2="203.0" stroke="#ececec" stroke-width="0.5"/>
<text x="551.0" y="206.0" font-size="8.3" text-anchor="end" >Actin-based movement</text>
<circle cx="590.1" cy="12.4" r="3.30" fill="#e0ad4d" fill-opacity="0.9"/>
<circle cx="596.0" cy="12.4" r="3.30" fill="#a5d3a2" fill-opacity="0.9"/>
<circle cx="597.5" cy="12.4" r="3.20" fill="#3f9a9b" fill-opacity="0.9"/>
<circle cx="599.2" cy="12.4" r="3.20" fill="#3c7d55" fill-opacity="0.9"/>
<circle cx="601.3" cy="12.4" r="3.20" fill="#a43a32" fill-opacity="0.9"/>
<circle cx="603.6" cy="12.4" r="3.30" fill="#5466ba" fill-opacity="0.9"/>
<circle cx="605.7" cy="12.4" r="3.30" fill="#ab97c6" fill-opacity="0.9"/>
<circle cx="607.3" cy="12.4" r="3.00" fill="#b4dbe6" fill-opacity="0.9"/>
<circle cx="613.9" cy="12.4" r="3.90" fill="#3c7d55" fill-opacity="0.9"/>
<circle cx="571.8" cy="20.7" r="2.50" fill="#a43a32" fill-opacity="0.9"/>
<circle cx="586.0" cy="20.7" r="3.00" fill="#a5d3a2" fill-opacity="0.9"/>
<circle cx="587.3" cy="20.7" r="3.10" fill="#e0ad4d" fill-opacity="0.9"/>
<circle cx="584.4" cy="20.7" r="3.10" fill="#3f9a9b" fill-opacity="0.9"/>
<circle cx="582.2" cy="20.7" r="3.20" fill="#3c7d55" fill-opacity="0.9"/>
<circle cx="594.5" cy="20.7" r="3.30" fill="#5466ba" fill-opacity="0.9"/>
<circle cx="606.0" cy="20.7" r="3.90" fill="#b4dbe6" fill-opacity="0.9"/>
<circle cx="605.2" cy="20.7" r="4.00" fill="#ab97c6" fill-opacity="0.9"/>
<circle cx="581.5" cy="29.0" r="2.70" fill="#e0ad4d" fill-opacity="0.9"/>
<circle cx="586.8" cy="29.0" r="2.20" fill="#a43a32" fill-opacity="0.9"/>
<circle cx="585.8" cy="29.0" r="3.00" fill="#3f9a9b" fill-opacity="0.9"/>
<circle cx="585.3" cy="29.0" r="2.80" fill="#3c7d55" fill-opacity="0.9"/>
<circle cx="599.0" cy="29.0" r="3.20" fill="#b4dbe6" fill-opacity="0.9"/>
<circle cx="595.0" cy="29.0" r="3.00" fill="#3c7d55" fill-opacity="0.9"/>
<circle cx="592.4" cy="29.0" r="3.30" fill="#ab97c6" fill-opacity="0.9"/>
<circle cx="601.4" cy="29.0" r="3.30" fill="#5466ba" fill-opacity="0.9"/>
<circle cx="596.0" cy="37.3" r="3.00" fill="#b4dbe6" fill-opacity="0.9"/>
<circle cx="580.3" cy="37.3" r="3.20" fill="#a5d3a2" fill-opacity="0.9"/>
<circle cx="576.8" cy="37.3" r="2.80" fill="#e0ad4d" fill-opacity="0.9"/>
<circle cx="574.0" cy="37.3" r="3.00" fill="#a43a32" fill-opacity="0.9"/>
<circle cx="586.6" cy="37.3" r="2.80" fill="#5466ba" fill-opacity="0.9"/>
<circle cx="592.7" cy="37.3" r="3.50" fill="#ab97c6" fill-opacity="0.9"/>
<circle cx="572.0" cy="45.5" r="2.70" fill="#3c7d55" fill-opacity="0.9"/>
<circle cx="589.6" cy="45.5" r="2.80" fill="#5466ba" fill-opacity="0.9"/>
<circle cx="585.8" cy="45.5" r="2.50" fill="#ab97c6" fill-opacity="0.9"/>
<circle cx="582.2" cy="45.5" r="2.70" fill="#a43a32" fill-opacity="0.9"/>
<circle cx="561.0" cy="53.8" r="2.00" fill="#a5d3a2" fill-opacity="0.9"/>
<circle cx="568.9" cy="53.8" r="2.30" fill="#3f9a9b" fill-opacity="0.9"/>
<circle cx="566.4" cy="53.8" r="2.50" fill="#a43a32" fill-opacity="0.9"/>
<circle cx="573.5" cy="53.8" r="2.40" fill="#e0ad4d" fill-opacity="0.9"/>
<circle cx="571.5" cy="53.8" r="2.50" fill="#b4dbe6" fill-opacity="0.9"/>
<circle cx="577.4" cy="53.8" r="2.70" fill="#e0ad4d" fill-opacity="0.9"/>
<circle cx="584.9" cy="53.8" r="3.00" fill="#5466ba" fill-opacity="0.9"/>
<circle cx="567.7" cy="62.1" r="2.40" fill="#e0ad4d" fill-opacity="0.9"/>
<circle cx="572.0" cy="62.1" r="2.70" fill="#3f9a9b" fill-opacity="0.9"/>
<circle cx="584.2" cy="62.1" r="2.80" fill="#3c7d55" fill-opacity="0.9"/>
<circle cx="582.9" cy="62.1" r="2.80" fill="#5466ba" fill-opacity="0.9"/>
<circle cx="580.1" cy="62.1" r="3.00" fill="#a43a32" fill-opacity="0.9"/>
<circle cx="573.7" cy="70.4" r="2.30" fill="#e0ad4d" fill-opacity="0.9"/>
<circle cx="571.7" cy="70.4" r="2.70" fill="#a5d3a2" fill-opacity="0.9"/>
<circle cx="582.7" cy="70.4" r="2.80" fill="#3c7d55" fill-opacity="0.9"/>
<circle cx="558.4" cy="78.7" r="1.80" fill="#a43a32" fill-opacity="0.9"/>
<circle cx="573.7" cy="78.7" r="2.20" fill="#e0ad4d" fill-opacity="0.9"/>
<circle cx="571.3" cy="78.7" r="2.50" fill="#3f9a9b" fill-opacity="0.9"/>
<circle cx="577.4" cy="78.7" r="2.50" fill="#ab97c6" fill-opacity="0.9"/>
<circle cx="581.5" cy="78.7" r="2.70" fill="#a5d3a2" fill-opacity="0.9"/>
<circle cx="556.9" cy="87.0" r="2.30" fill="#a5d3a2" fill-opacity="0.9"/>
<circle cx="568.2" cy="87.0" r="2.00" fill="#e0ad4d" fill-opacity="0.9"/>
<circle cx="566.3" cy="87.0" r="2.30" fill="#5466ba" fill-opacity="0.9"/>
<circle cx="580.7" cy="87.0" r="2.80" fill="#3f9a9b" fill-opacity="0.9"/>
<circle cx="576.8" cy="87.0" r="2.80" fill="#3c7d55" fill-opacity="0.9"/>
<circle cx="580.1" cy="95.2" r="2.50" fill="#e0ad4d" fill-opacity="0.9"/>
<circle cx="579.1" cy="95.2" r="2.50" fill="#ab97c6" fill-opacity="0.9"/>
<circle cx="577.6" cy="95.2" r="2.50" fill="#b4dbe6" fill-opacity="0.9"/>
<circle cx="575.5" cy="95.2" r="2.60" fill="#3c7d55" fill-opacity="0.9"/>
<circle cx="573.0" cy="95.2" r="3.00" fill="#3f9a9b" fill-opacity="0.9"/>
<circle cx="579.6" cy="103.5" r="2.70" fill="#a43a32" fill-opacity="0.9"/>
<circle cx="570.1" cy="111.8" r="2.40" fill="#b4dbe6" fill-opacity="0.9"/>
<circle cx="576.8" cy="111.8" r="2.00" fill="#5466ba" fill-opacity="0.9"/>
<circle cx="574.3" cy="111.8" r="2.50" fill="#e0ad4d" fill-opacity="0.9"/>
<circle cx="579.6" cy="111.8" r="2.60" fill="#a43a32" fill-opacity="0.9"/>
<circle cx="565.3" cy="120.1" r="2.00" fill="#5466ba" fill-opacity="0.9"/>
<circle cx="563.8" cy="120.1" r="2.40" fill="#e0ad4d" fill-opacity="0.9"/>
<circle cx="569.9" cy="120.1" r="2.50" fill="#a5d3a2" fill-opacity="0.9"/>
<circle cx="574.5" cy="120.1" r="2.70" fill="#3f9a9b" fill-opacity="0.9"/>
<circle cx="578.6" cy="120.1" r="2.60" fill="#3c7d55" fill-opacity="0.9"/>
<circle cx="565.3" cy="128.4" r="2.20" fill="#5466ba" fill-opacity="0.9"/>
<circle cx="570.9" cy="128.4" r="2.50" fill="#a5d3a2" fill-opacity="0.9"/>
<circle cx="573.2" cy="128.4" r="2.40" fill="#3f9a9b" fill-opacity="0.9"/>
<circle cx="577.4" cy="128.4" r="2.70" fill="#3c7d55" fill-opacity="0.9"/>
<circle cx="577.3" cy="136.7" r="2.60" fill="#e0ad4d" fill-opacity="0.9"/>
<circle cx="561.8" cy="145.0" r="2.10" fill="#5466ba" fill-opacity="0.9"/>
<circle cx="567.9" cy="145.0" r="2.00" fill="#a5d3a2" fill-opacity="0.9"/>
<circle cx="565.3" cy="145.0" r="2.20" fill="#a43a32" fill-opacity="0.9"/>
<circle cx="577.8" cy="145.0" r="2.40" fill="#b4dbe6" fill-opacity="0.9"/>
<circle cx="575.5" cy="145.0" r="2.50" fill="#e0ad4d" fill-opacity="0.9"/>
<circle cx="573.0" cy="145.0" r="2.50" fill="#ab97c6" fill-opacity="0.9"/>
<circle cx="587.8" cy="153.2" r="3.00" fill="#f2bfc9" fill-opacity="0.9"/>
<circle cx="580.9" cy="161.5" r="2.90" fill="#a43a32" fill-opacity="0.9"/>
<circle cx="587.6" cy="161.5" r="3.10" fill="#f2bfc9" fill-opacity="0.9"/>
<circle cx="587.3" cy="169.8" r="2.90" fill="#f2bfc9" fill-opacity="0.9"/>
<circle cx="583.5" cy="178.1" r="2.60" fill="#f2bfc9" fill-opacity="0.9"/>
<circle cx="581.9" cy="186.4" r="3.20" fill="#f2bfc9" fill-opacity="0.9"/>
<circle cx="581.7" cy="194.7" r="3.30" fill="#f2bfc9" fill-opacity="0.9"/>
<circle cx="567.6" cy="203.0" r="2.30" fill="#6a4f9f" fill-opacity="0.9"/>
<text x="567.2" y="217.8" font-size="7.8" text-anchor="middle" >2</text>
<text x="591.3" y="217.8" font-size="7.8" text-anchor="middle" >3</text>
<text x="615.3" y="217.8" font-size="7.8" text-anchor="middle" >4</text>
<text x="585.0" y="228.3" font-size="9.2" text-anchor="middle" >NES</text>
<text transform="translate(453.6 107.5) rotate(-90)" text-anchor="middle" font-size="9.2">Pathway</text>
<text x="621.6" y="40.8" font-size="7.9" >Cell</text>
<circle cx="623.9" cy="49.0" r="2.30" fill="#a5d3a2" fill-opacity="0.95"/>
<text x="630.7" y="51.9" font-size="8.1" >Artery<tspan font-size="4.9" dy="2.4">i</tspan></text>
<circle cx="623.9" cy="58.5" r="2.30" fill="#b4dbe6" fill-opacity="0.95"/>
<text x="630.7" y="61.4" font-size="8.1" >Aerocyte<tspan font-size="4.9" dy="2.4">i</tspan></text>
<circle cx="623.9" cy="68.0" r="2.30" fill="#ab97c6" fill-opacity="0.95"/>
<text x="630.7" y="71.0" font-size="8.1" >gCap<tspan font-size="4.9" dy="2.4">i</tspan></text>
<circle cx="623.9" cy="77.6" r="2.30" fill="#5466ba" fill-opacity="0.95"/>
<text x="630.7" y="80.5" font-size="8.1" >AT2<tspan font-size="4.9" dy="2.4">i</tspan></text>
<circle cx="623.9" cy="87.1" r="2.30" fill="#e0ad4d" fill-opacity="0.95"/>
<text x="630.7" y="90.0" font-size="8.1" >AT1<tspan font-size="4.9" dy="2.4">i</tspan></text>
<circle cx="623.9" cy="96.6" r="2.30" fill="#a43a32" fill-opacity="0.95"/>
<text x="630.7" y="99.5" font-size="8.1" >Secretory<tspan font-size="4.9" dy="2.4">i</tspan></text>
<circle cx="623.9" cy="106.1" r="2.30" fill="#3f9a9b" fill-opacity="0.95"/>
<text x="630.7" y="109.0" font-size="8.1" >Alv. fibroblast<tspan font-size="4.9" dy="2.4">i</tspan></text>
<circle cx="623.9" cy="115.6" r="2.30" fill="#3c7d55" fill-opacity="0.95"/>
<text x="630.7" y="118.6" font-size="8.1" >Adv. fibroblast<tspan font-size="4.9" dy="2.4">i</tspan></text>
<circle cx="623.9" cy="125.2" r="2.30" fill="#f2bfc9" fill-opacity="0.95"/>
<text x="630.7" y="128.1" font-size="8.1" >AT2<tspan font-size="4.9" dy="2.4">s</tspan></text>
<circle cx="623.9" cy="134.7" r="2.30" fill="#6a4f9f" fill-opacity="0.95"/>
<text x="630.7" y="137.6" font-size="8.1" >gCap<tspan font-size="4.9" dy="2.4">tip</tspan></text>
<text x="621.6" y="154.2" font-size="7.9">−log(<tspan font-style="italic">P</tspan> value)</text>
<circle cx="624.2" cy="162.5" r="2.30" fill="#6d6e70"/>
<text x="631.5" y="165.3" font-size="7.9" >20</text>
<circle cx="624.2" cy="172.6" r="3.00" fill="#6d6e70"/>
<text x="631.5" y="175.4" font-size="7.9" >40</text>
<circle cx="624.2" cy="182.8" r="3.60" fill="#6d6e70"/>
<text x="631.5" y="185.6" font-size="7.9" >60</text>
<text x="0" y="241" font-size="13.2" font-weight="bold" fill="#000" stroke="#000" stroke-width="0.35">d</text>
<line x1="18.1" y1="240.0" x2="18.1" y2="340.3" stroke="#a0a0a0" stroke-width="0.7"/>
<line x1="18.1" y1="340.3" x2="199.4" y2="340.3" stroke="#a0a0a0" stroke-width="0.7"/>
<path d="M78.9 259.4L100.7 256.9L107.4 268.6L94.0 292.1L83.9 297.1L80.5 280.4Z" fill="#c397c4" stroke="#c397c4" stroke-width="10" stroke-linejoin="round" filter="url(#dust2)"/>
<path d="M80.5 292.1L94.0 280.4L100.7 292.1L87.2 315.6L81.9 315.6Z" fill="#1c7638" stroke="#1c7638" stroke-width="4" stroke-linejoin="round" filter="url(#dust2)"/>
<path d="M83.9 261.1L99.0 261.1L100.7 275.3L87.2 292.1L82.2 280.4Z" fill="#d8b8d0" stroke="#d8b8d0" stroke-width="12" stroke-linejoin="round" filter="url(#dust2)"/>
<path d="M57.4 262.6L70.5 259.9L78.9 259.1L84.6 260.2L82.6 275.3L79.5 292.4L72.1 300.2L63.8 300.0L55.0 295.5L52.5 288.8L54.7 275.3Z" fill="#c397c4" stroke="#c397c4" stroke-width="3" stroke-linejoin="round" filter="url(#dust)"/>
<path d="M36.1 312.2L48.7 299.7L56.2 294.6L63.8 298.8L72.1 299.2L78.5 292.4L82.2 298.8L81.2 319.0L76.2 332.4L58.7 335.4L43.6 332.7L36.6 324.0Z" fill="#86c988" stroke="#86c988" stroke-width="1.5" stroke-linejoin="round" filter="url(#dust)"/>
<path d="M76.3 292.1L84.2 293.8L83.9 308.9L82.2 324.0L78.9 325.7L77.2 308.9Z" fill="#1c7638" stroke="#1c7638" stroke-width="1.5" stroke-linejoin="round" filter="url(#dust)"/>
<path d="M38.9 270.3L50.3 262.9L59.7 262.2L57.0 275.3L54.7 288.8L49.0 299.8L36.1 313.3L32.4 300.5L31.5 288.8L34.1 277.0Z" fill="#3454b0" stroke="#3454b0" stroke-width="1.2" stroke-linejoin="round" filter="url(#dust)"/>
<path d="M90.1 244.8L92.6 245.5L95.0 251.8L97.7 258.6L94.0 261.2L86.4 260.6L83.9 258.6L87.6 252.7Z" fill="#e8263c" stroke="#e8263c" stroke-width="3" stroke-linejoin="round" filter="url(#dust)"/>
<path d="M104.0 265.2L113.5 261.1L128.6 259.9L140.0 265.2L148.0 273.4L144.2 278.9L134.7 280.8L123.0 282.9L111.6 281.9L104.0 276.6L101.3 270.5Z" fill="#e55f3e" stroke="#e55f3e" stroke-width="10" stroke-linejoin="round" filter="url(#dust)"/>
<path d="M102.1 278.5L109.7 276.6L123.9 282.5L113.5 287.2L104.0 289.5L98.7 290.7L103.6 282.9Z" fill="#1c7638" stroke="#1c7638" stroke-width="8" stroke-linejoin="round" filter="url(#dust)"/>
<path d="M156.2 267.9L162.4 271.3L164.7 278.5L161.7 286.9L155.6 289.5L150.7 285.3L147.2 277.8L149.5 270.5Z" fill="#6f4ba4" stroke="#6f4ba4" stroke-width="3" stroke-linejoin="round" filter="url(#dust)"/>
<path d="M145.3 242.5L149.1 240.9L151.8 242.5L151.0 253.5L148.4 258.4L146.1 251.6Z" fill="#6394d8" stroke="#6394d8" stroke-width="4" stroke-linejoin="round" filter="url(#dust)"/>
<path d="M146.1 253.5L150.5 255.4L149.5 268.6L145.3 269.6Z" fill="#6394d8" stroke="#6394d8" stroke-width="4" stroke-linejoin="round" filter="url(#dust2)"/>
<g filter="url(#rough4)">
<path d="M76.3 292.1C77.5 289.6 83.0 291.0 84.2 293.8C85.5 296.6 84.2 303.9 83.9 308.9C83.6 313.9 83.1 321.2 82.2 324.0C81.4 326.8 79.7 328.2 78.9 325.7C78.0 323.2 77.6 314.5 77.2 308.9C76.8 303.3 75.2 294.6 76.3 292.1Z" fill="#1c7638" fill-opacity="0.6"/>
<path d="M38.9 270.3C41.6 268.0 45.1 264.7 50.3 262.9C55.6 261.2 64.8 260.3 70.5 259.9C76.2 259.5 82.6 257.7 84.6 260.2C86.6 262.8 83.4 270.0 82.6 275.3C81.7 280.7 79.6 288.5 79.5 292.4C79.5 296.4 81.9 294.4 82.2 298.8C82.5 303.2 82.2 313.4 81.2 319.0C80.2 324.6 79.9 329.6 76.2 332.4C72.4 335.1 64.1 335.3 58.7 335.4C53.3 335.5 47.3 334.6 43.6 332.7C39.9 330.8 38.5 329.4 36.6 324.0C34.7 318.6 33.2 306.4 32.4 300.5C31.5 294.6 31.3 292.7 31.5 288.8C31.8 284.8 32.8 280.1 34.1 277.0C35.3 273.9 36.2 272.7 38.9 270.3Z" fill="#9fa8c0" />
<path d="M36.1 312.2C38.1 308.2 45.3 302.6 48.7 299.7C52.0 296.7 53.7 294.8 56.2 294.6C58.7 294.5 61.1 298.1 63.8 298.8C66.4 299.6 69.7 300.2 72.1 299.2C74.6 298.1 76.8 292.5 78.5 292.4C80.2 292.4 81.8 294.4 82.2 298.8C82.7 303.2 82.2 313.4 81.2 319.0C80.2 324.6 79.9 329.6 76.2 332.4C72.4 335.1 64.1 335.3 58.7 335.4C53.3 335.5 47.3 334.6 43.6 332.7C39.9 330.8 37.8 327.4 36.6 324.0C35.3 320.6 34.1 316.3 36.1 312.2Z" fill="#86c988" />
<path d="M38.9 270.3C41.6 268.0 46.9 264.3 50.3 262.9C53.8 261.6 58.6 260.2 59.7 262.2C60.9 264.3 57.9 270.9 57.0 275.3C56.2 279.8 56.0 284.7 54.7 288.8C53.4 292.8 52.1 295.7 49.0 299.8C45.9 303.9 38.8 313.1 36.1 313.3C33.3 313.4 33.1 304.6 32.4 300.5C31.6 296.4 31.3 292.7 31.5 288.8C31.8 284.8 32.8 280.1 34.1 277.0C35.3 273.9 36.2 272.7 38.9 270.3Z" fill="#3454b0" />
<path d="M57.4 262.6C60.0 260.0 66.9 260.5 70.5 259.9C74.0 259.3 76.5 259.0 78.9 259.1C81.2 259.1 83.9 257.5 84.6 260.2C85.2 262.9 83.4 270.0 82.6 275.3C81.7 280.7 81.3 288.3 79.5 292.4C77.8 296.6 74.8 298.9 72.1 300.2C69.5 301.4 66.6 300.8 63.8 300.0C60.9 299.2 56.9 297.3 55.0 295.5C53.2 293.6 52.6 292.1 52.5 288.8C52.5 285.4 53.9 279.7 54.7 275.3C55.5 271.0 54.8 265.2 57.4 262.6Z" fill="#c397c4" />
<path d="M73.8 260.6C74.9 259.3 81.3 257.4 83.9 257.2C86.5 257.0 88.9 258.1 89.3 259.2C89.6 260.3 87.9 263.0 85.9 263.9C83.9 264.9 79.2 265.5 77.2 264.9C75.2 264.4 72.7 261.9 73.8 260.6Z" fill="#d088ae" />
</g>
<g filter="url(#rough3)">
<path d="M90.1 244.8C90.9 243.6 91.8 244.3 92.6 245.5C93.4 246.6 94.1 249.7 95.0 251.8C95.8 254.0 97.8 257.0 97.7 258.6C97.5 260.1 95.8 260.9 94.0 261.2C92.1 261.6 88.1 261.0 86.4 260.6C84.7 260.1 83.7 259.9 83.9 258.6C84.1 257.2 86.5 255.0 87.6 252.7C88.6 250.4 89.3 246.0 90.1 244.8Z" fill="#e8263c" />
<path d="M102.1 278.5C103.1 277.5 106.0 275.9 109.7 276.6C113.3 277.3 123.3 280.7 123.9 282.5C124.5 284.3 116.8 286.1 113.5 287.2C110.1 288.4 106.4 288.9 104.0 289.5C101.5 290.1 98.7 291.8 98.7 290.7C98.6 289.5 103.0 284.9 103.6 282.9C104.2 280.9 101.1 279.6 102.1 278.5Z" fill="#1c7638" />
<path d="M104.0 265.2C106.0 263.6 109.4 261.9 113.5 261.1C117.6 260.2 124.2 259.2 128.6 259.9C133.1 260.6 136.8 263.0 140.0 265.2C143.3 267.5 147.3 271.1 148.0 273.4C148.7 275.7 146.4 277.7 144.2 278.9C142.0 280.1 138.3 280.1 134.7 280.8C131.2 281.5 126.8 282.7 123.0 282.9C119.1 283.1 114.7 283.0 111.6 281.9C108.4 280.9 105.7 278.5 104.0 276.6C102.3 274.7 101.3 272.4 101.3 270.5C101.3 268.6 102.0 266.8 104.0 265.2Z" fill="#e55f3e" />
<path d="M132.4 263.9C133.9 263.6 139.1 265.4 141.9 267.1C144.7 268.8 148.4 272.1 149.1 274.0C149.8 275.9 147.8 278.4 146.1 278.5C144.4 278.6 141.2 276.3 139.1 274.7C137.0 273.1 134.5 270.8 133.4 269.0C132.3 267.2 131.0 264.2 132.4 263.9Z" fill="#7a2430" fill-opacity="0.7"/>
<path d="M145.3 242.5C145.8 240.7 148.1 240.9 149.1 240.9C150.2 240.9 151.5 240.4 151.8 242.5C152.1 244.5 151.6 250.8 151.0 253.5C150.5 256.1 149.2 258.7 148.4 258.4C147.6 258.1 146.6 254.2 146.1 251.6C145.6 248.9 144.8 244.2 145.3 242.5Z" fill="#6394d8" />
<path d="M156.2 267.9C158.3 268.0 161.0 269.5 162.4 271.3C163.8 273.1 164.8 275.9 164.7 278.5C164.6 281.1 163.2 285.0 161.7 286.9C160.1 288.7 157.4 289.8 155.6 289.5C153.8 289.3 152.0 287.3 150.7 285.3C149.3 283.4 147.4 280.2 147.2 277.8C147.0 275.3 148.0 272.2 149.5 270.5C151.0 268.9 154.0 267.8 156.2 267.9Z" fill="#6f4ba4" />
</g>
<text x="69.6" y="249.1" font-size="7.9" >ABC</text>
<text x="59.6" y="283.4" font-size="7.9" >AT2<tspan font-size="4.7" dy="2.4">s</tspan></text>
<text x="34.4" y="290.8" font-size="7.9" fill="#fff" >AT2<tspan font-size="4.7" dy="2.4">i</tspan></text>
<text x="50.3" y="323.2" font-size="7.9" >AT2<tspan font-size="4.7" dy="2.4">b</tspan></text>
<text x="88.9" y="304.6" font-size="7.9" >AT2<tspan font-size="4.9" dy="2.4">SCGB3A2</tspan></text>
<text x="151.4" y="247.7" font-size="7.9" >Basal</text>
<text x="148.2" y="263.6" font-size="7.9" >Secretory<tspan font-size="4.9" dy="2.4">SCGB3A1</tspan></text>
<text x="164.3" y="284.3" font-size="7.9" >Goblet</text>
<text x="126.7" y="304.0" font-size="7.9" >Secretory<tspan font-size="4.9" dy="2.4">SCGB3A2</tspan></text>
<line x1="108.7" y1="286.7" x2="108.7" y2="298.0" stroke="#231f20" stroke-width="0.6"/>
<line x1="129.6" y1="277.2" x2="150.5" y2="296.7" stroke="#231f20" stroke-width="0.6"/>
<line x1="154.3" y1="263.9" x2="142.9" y2="273.4" stroke="#231f20" stroke-width="0.6"/>
<text transform="translate(13.6 290) rotate(-90)" text-anchor="middle" font-size="9.2">UMAP dimension 2</text>
<text x="109" y="350.7" text-anchor="middle" font-size="9.2">UMAP dimension 1</text>
<circle cx="21.2" cy="360.4" r="4.20" fill="#e8263c"/>
<text x="28.5" y="364.0" font-size="7.9" >ABC</text>
<circle cx="74.5" cy="360.4" r="4.20" fill="#c397c4"/>
<text x="82.3" y="364.0" font-size="7.9" >AT2<tspan font-size="5.0" dy="2.4">s</tspan></text>
<circle cx="127.9" cy="360.4" r="4.20" fill="#7a0c1c"/>
<text x="135.7" y="364.0" font-size="7.9" >AT2<tspan font-size="5.0" dy="2.4">div</tspan></text>
<circle cx="170.6" cy="360.4" r="4.20" fill="#6394d8"/>
<text x="178.3" y="364.0" font-size="7.9" >Basal</text>
<circle cx="21.2" cy="372.8" r="4.20" fill="#86c988"/>
<text x="28.5" y="376.4" font-size="7.9" >AT2<tspan font-size="5.0" dy="2.4">b</tspan></text>
<circle cx="74.5" cy="372.8" r="4.20" fill="#0f5f2d"/>
<text x="82.3" y="376.4" font-size="7.9" >AT2<tspan font-size="4.9" dy="2.4">SCGB3A2</tspan></text>
<circle cx="127.9" cy="372.8" r="4.20" fill="#3454b0"/>
<text x="135.7" y="376.4" font-size="7.9" >AT2<tspan font-size="5.0" dy="2.4">i</tspan></text>
<circle cx="170.6" cy="372.8" r="4.20" fill="#6f4ba4"/>
<text x="178.3" y="376.4" font-size="7.9" >Goblet</text>
<circle cx="21.2" cy="385.2" r="4.20" fill="#1a1a1a"/>
<text x="28.5" y="388.8" font-size="7.9" >Secretory<tspan font-size="4.9" dy="2.4">SCGB3A1</tspan></text>
<circle cx="127.9" cy="385.2" r="4.20" fill="#e55f3e"/>
<text x="135.7" y="388.8" font-size="7.9" >Secretory<tspan font-size="4.9" dy="2.4">SCGB3A2</tspan></text>
<text x="212" y="241" font-size="13.2" font-weight="bold" fill="#000" stroke="#000" stroke-width="0.35">e</text>
<rect x="259.0" y="249.5" width="394.6" height="107.2" fill="none" stroke="#a8a8a8" stroke-width="0.7" />
<text x="255.8" y="256.5" font-size="7.8" text-anchor="end" >Sec<tspan font-size="5.0" dy="2.3">SCGB3A2</tspan></text>
<text x="255.8" y="265.4" font-size="7.8" text-anchor="end" >AT2<tspan font-size="5.0" dy="2.3">SCGB3A2</tspan></text>
<text x="255.8" y="274.2" font-size="7.8" text-anchor="end" >AT2<tspan font-size="5.3" dy="2.3">b</tspan></text>
<text x="255.8" y="283.0" font-size="7.8" text-anchor="end" >AT2<tspan font-size="5.3" dy="2.3">s</tspan></text>
<text x="255.8" y="291.9" font-size="7.8" text-anchor="end" >AT2<tspan font-size="5.3" dy="2.3">i</tspan></text>
<text x="255.8" y="300.7" font-size="7.8" text-anchor="end" >Secretory<tspan font-size="5.3" dy="2.3">i</tspan></text>
<text x="255.8" y="309.6" font-size="7.8" text-anchor="end" >AT1<tspan font-size="5.3" dy="2.3">i</tspan></text>
<text x="255.8" y="318.4" font-size="7.8" text-anchor="end" >AT1<tspan font-size="5.3" dy="2.3">c</tspan></text>
<text x="255.8" y="327.9" font-size="7.8" text-anchor="end" >Basal</text>
<text x="255.8" y="336.7" font-size="7.8" text-anchor="end" >ABC</text>
<text x="255.8" y="345.0" font-size="7.8" text-anchor="end" >AT2<tspan font-size="5.3" dy="2.3">div</tspan></text>
<text x="255.8" y="353.8" font-size="7.8" text-anchor="end" >Secretory<tspan font-size="5.3" dy="2.3">div</tspan></text>
<circle cx="263.8" cy="254.3" r="3.00" fill="#ab1729"/>
<circle cx="263.8" cy="263.1" r="2.40" fill="#e55a40"/>
<circle cx="263.8" cy="280.8" r="1.10" fill="#ef8c62"/>
<circle cx="263.8" cy="298.5" r="2.40" fill="#e04c3a"/>
<circle cx="263.8" cy="342.8" r="1.00" fill="#ef8c62"/>
<circle cx="263.8" cy="351.6" r="2.60" fill="#e04c3a"/>
<circle cx="272.7" cy="254.3" r="2.80" fill="#e55a40"/>
<circle cx="272.7" cy="263.1" r="2.20" fill="#ef8c62"/>
<circle cx="272.7" cy="280.8" r="1.20" fill="#f6be87"/>
<circle cx="272.7" cy="298.5" r="3.00" fill="#e55a40"/>
<circle cx="272.7" cy="307.4" r="2.90" fill="#e55a40"/>
<circle cx="272.7" cy="316.2" r="2.90" fill="#e04c3a"/>
<circle cx="272.7" cy="325.1" r="1.90" fill="#ef8c62"/>
<circle cx="272.7" cy="333.9" r="2.60" fill="#ef8c62"/>
<circle cx="272.7" cy="342.8" r="1.60" fill="#f6be87"/>
<circle cx="272.7" cy="351.6" r="2.90" fill="#e55a40"/>
<circle cx="281.7" cy="254.3" r="3.60" fill="#e55a40"/>
<circle cx="281.7" cy="263.1" r="3.30" fill="#e55a40"/>
<circle cx="281.7" cy="272.0" r="1.30" fill="#ef8c62"/>
<circle cx="281.7" cy="280.8" r="1.70" fill="#ef8c62"/>
<circle cx="281.7" cy="289.7" r="1.10" fill="#ef8c62"/>
<circle cx="281.7" cy="298.5" r="3.30" fill="#e55a40"/>
<circle cx="281.7" cy="325.1" r="3.80" fill="#e04c3a"/>
<circle cx="281.7" cy="333.9" r="1.00" fill="#ef8c62"/>
<circle cx="281.7" cy="342.8" r="2.00" fill="#ef8c62"/>
<circle cx="281.7" cy="351.6" r="3.30" fill="#e55a40"/>
<circle cx="290.6" cy="254.3" r="2.00" fill="#ef8c62"/>
<circle cx="290.6" cy="263.1" r="3.80" fill="#e55a40"/>
<circle cx="290.6" cy="272.0" r="4.10" fill="#de4336"/>
<circle cx="290.6" cy="280.8" r="4.00" fill="#e55a40"/>
<circle cx="290.6" cy="289.7" r="4.40" fill="#da3a32"/>
<circle cx="290.6" cy="298.5" r="1.40" fill="#ef8c62"/>
<circle cx="290.6" cy="333.9" r="1.80" fill="#ef8c62"/>
<circle cx="290.6" cy="342.8" r="4.20" fill="#e55a40"/>
<circle cx="290.6" cy="351.6" r="1.60" fill="#ef8c62"/>
<circle cx="299.5" cy="263.1" r="2.20" fill="#ef8c62"/>
<circle cx="299.5" cy="272.0" r="3.80" fill="#a01228"/>
<circle cx="299.5" cy="280.8" r="2.80" fill="#ef8c62"/>
<circle cx="299.5" cy="289.7" r="3.30" fill="#da3a32"/>
<circle cx="299.5" cy="342.8" r="3.30" fill="#e55a40"/>
<circle cx="308.5" cy="254.3" r="2.20" fill="#ef8c62"/>
<circle cx="308.5" cy="263.1" r="3.80" fill="#e55a40"/>
<circle cx="308.5" cy="272.0" r="4.50" fill="#c6242b"/>
<circle cx="308.5" cy="280.8" r="4.00" fill="#e55a40"/>
<circle cx="308.5" cy="289.7" r="4.20" fill="#e55a40"/>
<circle cx="308.5" cy="298.5" r="1.60" fill="#ef8c62"/>
<circle cx="308.5" cy="325.1" r="1.80" fill="#ef8c62"/>
<circle cx="308.5" cy="333.9" r="2.10" fill="#ef8c62"/>
<circle cx="308.5" cy="342.8" r="4.50" fill="#e55a40"/>
<circle cx="308.5" cy="351.6" r="1.80" fill="#ef8c62"/>
<circle cx="317.4" cy="272.0" r="2.20" fill="#a01228"/>
<circle cx="317.4" cy="280.8" r="1.30" fill="#e55a40"/>
<circle cx="317.4" cy="342.8" r="2.00" fill="#e04c3a"/>
<circle cx="326.3" cy="254.3" r="2.60" fill="#ef8c62"/>
<circle cx="326.3" cy="263.1" r="2.60" fill="#ef8c62"/>
<circle cx="326.3" cy="272.0" r="1.30" fill="#f6be87"/>
<circle cx="326.3" cy="280.8" r="3.30" fill="#e55a40"/>
<circle cx="326.3" cy="289.7" r="2.60" fill="#ef8c62"/>
<circle cx="326.3" cy="298.5" r="3.30" fill="#e04c3a"/>
<circle cx="326.3" cy="307.4" r="3.20" fill="#e55a40"/>
<circle cx="326.3" cy="316.2" r="2.40" fill="#ef8c62"/>
<circle cx="326.3" cy="325.1" r="2.00" fill="#f6be87"/>
<circle cx="326.3" cy="333.9" r="3.70" fill="#df4838"/>
<circle cx="326.3" cy="342.8" r="2.40" fill="#ef8c62"/>
<circle cx="326.3" cy="351.6" r="2.40" fill="#f4af7c"/>
<circle cx="335.3" cy="254.3" r="4.50" fill="#f6be87"/>
<circle cx="335.3" cy="263.1" r="4.30" fill="#f2a574"/>
<circle cx="335.3" cy="272.0" r="4.20" fill="#f8d7ae"/>
<circle cx="335.3" cy="280.8" r="4.50" fill="#e55a40"/>
<circle cx="335.3" cy="289.7" r="4.50" fill="#e04c3a"/>
<circle cx="335.3" cy="298.5" r="4.50" fill="#ec7d58"/>
<circle cx="335.3" cy="307.4" r="4.50" fill="#ec7d58"/>
<circle cx="335.3" cy="316.2" r="4.70" fill="#d62c2c"/>
<circle cx="335.3" cy="325.1" r="4.50" fill="#f6be87"/>
<circle cx="335.3" cy="333.9" r="4.50" fill="#e55a40"/>
<circle cx="335.3" cy="342.8" r="4.50" fill="#f4af7c"/>
<circle cx="335.3" cy="351.6" r="4.50" fill="#f6be87"/>
<circle cx="344.2" cy="254.3" r="2.20" fill="#f6be87"/>
<circle cx="344.2" cy="263.1" r="2.00" fill="#f6be87"/>
<circle cx="344.2" cy="280.8" r="2.40" fill="#ef8c62"/>
<circle cx="344.2" cy="289.7" r="2.40" fill="#ef8c62"/>
<circle cx="344.2" cy="298.5" r="2.40" fill="#ef8c62"/>
<circle cx="344.2" cy="307.4" r="3.00" fill="#a01228"/>
<circle cx="344.2" cy="316.2" r="2.50" fill="#d93530"/>
<circle cx="344.2" cy="325.1" r="2.40" fill="#ef8c62"/>
<circle cx="344.2" cy="333.9" r="2.40" fill="#ef8c62"/>
<circle cx="344.2" cy="342.8" r="2.40" fill="#ef8c62"/>
<circle cx="344.2" cy="351.6" r="2.40" fill="#ec7d58"/>
<circle cx="353.2" cy="254.3" r="4.50" fill="#f5b480"/>
<circle cx="353.2" cy="263.1" r="4.30" fill="#ef8c62"/>
<circle cx="353.2" cy="272.0" r="4.20" fill="#e55a40"/>
<circle cx="353.2" cy="280.8" r="4.70" fill="#d62c2c"/>
<circle cx="353.2" cy="289.7" r="4.40" fill="#e55a40"/>
<circle cx="353.2" cy="298.5" r="4.50" fill="#f19b6d"/>
<circle cx="353.2" cy="307.4" r="4.30" fill="#ef8c62"/>
<circle cx="353.2" cy="316.2" r="4.00" fill="#f9dbb4"/>
<circle cx="353.2" cy="325.1" r="4.50" fill="#ec7d58"/>
<circle cx="353.2" cy="333.9" r="4.50" fill="#ef8c62"/>
<circle cx="353.2" cy="342.8" r="4.50" fill="#e76447"/>
<circle cx="353.2" cy="351.6" r="4.50" fill="#f6be87"/>
<circle cx="362.1" cy="263.1" r="1.60" fill="#ef8c62"/>
<circle cx="362.1" cy="272.0" r="1.50" fill="#ef8c62"/>
<circle cx="362.1" cy="280.8" r="2.60" fill="#d62c2c"/>
<circle cx="362.1" cy="289.7" r="2.00" fill="#e55a40"/>
<circle cx="362.1" cy="298.5" r="1.60" fill="#ef8c62"/>
<circle cx="362.1" cy="307.4" r="2.00" fill="#ec7d58"/>
<circle cx="362.1" cy="325.1" r="1.60" fill="#ef8c62"/>
<circle cx="362.1" cy="333.9" r="3.20" fill="#a01228"/>
<circle cx="362.1" cy="342.8" r="2.00" fill="#ef8c62"/>
<circle cx="362.1" cy="351.6" r="1.20" fill="#f6be87"/>
<circle cx="371.0" cy="254.3" r="2.30" fill="#ef8c62"/>
<circle cx="371.0" cy="263.1" r="2.40" fill="#ef8c62"/>
<circle cx="371.0" cy="272.0" r="1.30" fill="#f4af7c"/>
<circle cx="371.0" cy="280.8" r="3.00" fill="#ec7d58"/>
<circle cx="371.0" cy="289.7" r="2.60" fill="#ec7d58"/>
<circle cx="371.0" cy="298.5" r="2.80" fill="#eb7854"/>
<circle cx="371.0" cy="307.4" r="1.60" fill="#f6be87"/>
<circle cx="371.0" cy="325.1" r="2.30" fill="#ef8c62"/>
<circle cx="371.0" cy="333.9" r="3.20" fill="#e76447"/>
<circle cx="371.0" cy="342.8" r="3.30" fill="#e55a40"/>
<circle cx="371.0" cy="351.6" r="3.30" fill="#cb272b"/>
<circle cx="380.0" cy="254.3" r="2.30" fill="#ef8c62"/>
<circle cx="380.0" cy="263.1" r="2.50" fill="#ef8c62"/>
<circle cx="380.0" cy="272.0" r="2.30" fill="#ef8c62"/>
<circle cx="380.0" cy="280.8" r="3.80" fill="#c6242b"/>
<circle cx="380.0" cy="289.7" r="3.10" fill="#e55a40"/>
<circle cx="380.0" cy="298.5" r="2.30" fill="#ef8c62"/>
<circle cx="380.0" cy="307.4" r="1.80" fill="#f6be87"/>
<circle cx="380.0" cy="325.1" r="1.30" fill="#f6be87"/>
<circle cx="380.0" cy="333.9" r="3.20" fill="#e55a40"/>
<circle cx="380.0" cy="342.8" r="3.40" fill="#e55a40"/>
<circle cx="380.0" cy="351.6" r="2.10" fill="#ef8c62"/>
<circle cx="388.9" cy="254.3" r="4.80" fill="#e8694a"/>
<circle cx="388.9" cy="263.1" r="4.80" fill="#ef8c62"/>
<circle cx="388.9" cy="272.0" r="4.60" fill="#f7ecd2"/>
<circle cx="388.9" cy="280.8" r="4.80" fill="#ef8c62"/>
<circle cx="388.9" cy="289.7" r="4.80" fill="#ef8c62"/>
<circle cx="388.9" cy="298.5" r="4.80" fill="#e55a40"/>
<circle cx="388.9" cy="307.4" r="4.70" fill="#ec7d58"/>
<circle cx="388.9" cy="316.2" r="4.60" fill="#f5b480"/>
<circle cx="388.9" cy="325.1" r="4.80" fill="#e2513c"/>
<circle cx="388.9" cy="333.9" r="4.80" fill="#e55a40"/>
<circle cx="388.9" cy="342.8" r="4.80" fill="#f3aa78"/>
<circle cx="388.9" cy="351.6" r="4.80" fill="#eb7854"/>
<circle cx="397.8" cy="325.1" r="3.00" fill="#8c0f23"/>
<circle cx="406.8" cy="307.4" r="1.00" fill="#ef8c62"/>
<circle cx="406.8" cy="325.1" r="2.10" fill="#8c0f23"/>
<circle cx="406.8" cy="333.9" r="1.20" fill="#ef8c62"/>
<circle cx="415.7" cy="325.1" r="3.20" fill="#8c0f23"/>
<circle cx="415.7" cy="333.9" r="2.30" fill="#de4336"/>
<circle cx="424.6" cy="333.9" r="3.00" fill="#8c0f23"/>
<circle cx="433.6" cy="254.3" r="2.80" fill="#e55a40"/>
<circle cx="433.6" cy="263.1" r="2.30" fill="#ef8c62"/>
<circle cx="433.6" cy="280.8" r="1.70" fill="#f3aa78"/>
<circle cx="433.6" cy="298.5" r="2.30" fill="#ef8c62"/>
<circle cx="433.6" cy="325.1" r="2.50" fill="#ef8c62"/>
<circle cx="433.6" cy="333.9" r="3.60" fill="#a01228"/>
<circle cx="433.6" cy="342.8" r="2.30" fill="#ef8c62"/>
<circle cx="433.6" cy="351.6" r="2.50" fill="#ec7d58"/>
<circle cx="442.5" cy="280.8" r="1.50" fill="#e8694a"/>
<circle cx="442.5" cy="307.4" r="1.80" fill="#da3a32"/>
<circle cx="442.5" cy="333.9" r="2.50" fill="#a01228"/>
<circle cx="442.5" cy="342.8" r="1.80" fill="#e8694a"/>
<circle cx="451.4" cy="307.4" r="2.60" fill="#e55a40"/>
<circle cx="451.4" cy="316.2" r="3.00" fill="#d62c2c"/>
<circle cx="451.4" cy="333.9" r="3.70" fill="#ab1729"/>
<circle cx="460.4" cy="298.5" r="1.50" fill="#ab1729"/>
<circle cx="460.4" cy="333.9" r="1.80" fill="#cb272b"/>
<circle cx="460.4" cy="351.6" r="1.40" fill="#da3a32"/>
<circle cx="469.3" cy="333.9" r="2.80" fill="#8c0f23"/>
<circle cx="469.3" cy="351.6" r="1.60" fill="#e55a40"/>
<circle cx="478.2" cy="254.3" r="1.50" fill="#ef8c62"/>
<circle cx="478.2" cy="307.4" r="4.00" fill="#e04c3a"/>
<circle cx="478.2" cy="316.2" r="5.00" fill="#870e22"/>
<circle cx="478.2" cy="325.1" r="1.60" fill="#ef8c62"/>
<circle cx="478.2" cy="333.9" r="3.00" fill="#ec7d58"/>
<circle cx="478.2" cy="342.8" r="1.80" fill="#ef8c62"/>
<circle cx="478.2" cy="351.6" r="1.60" fill="#ef8c62"/>
<circle cx="487.2" cy="307.4" r="2.60" fill="#d62c2c"/>
<circle cx="487.2" cy="316.2" r="2.80" fill="#961026"/>
<circle cx="487.2" cy="333.9" r="1.30" fill="#ef8c62"/>
<circle cx="496.1" cy="307.4" r="3.80" fill="#c0222a"/>
<circle cx="496.1" cy="316.2" r="3.90" fill="#c0222a"/>
<circle cx="496.1" cy="333.9" r="3.00" fill="#e55a40"/>
<circle cx="505.0" cy="307.4" r="4.30" fill="#c0222a"/>
<circle cx="505.0" cy="316.2" r="4.50" fill="#c0222a"/>
<circle cx="505.0" cy="333.9" r="3.60" fill="#e55a40"/>
<circle cx="514.0" cy="254.3" r="3.60" fill="#f3aa78"/>
<circle cx="514.0" cy="263.1" r="4.20" fill="#ec7d58"/>
<circle cx="514.0" cy="272.0" r="3.50" fill="#f3aa78"/>
<circle cx="514.0" cy="280.8" r="4.40" fill="#e55a40"/>
<circle cx="514.0" cy="289.7" r="4.70" fill="#c0222a"/>
<circle cx="514.0" cy="298.5" r="4.20" fill="#e55a40"/>
<circle cx="514.0" cy="307.4" r="2.80" fill="#f6be87"/>
<circle cx="514.0" cy="325.1" r="3.90" fill="#ef8c62"/>
<circle cx="514.0" cy="333.9" r="4.20" fill="#ef8c62"/>
<circle cx="514.0" cy="342.8" r="4.00" fill="#ef8c62"/>
<circle cx="514.0" cy="351.6" r="3.60" fill="#f3aa78"/>
<circle cx="522.9" cy="254.3" r="3.90" fill="#f09669"/>
<circle cx="522.9" cy="263.1" r="3.90" fill="#ef8c62"/>
<circle cx="522.9" cy="272.0" r="3.20" fill="#f6be87"/>
<circle cx="522.9" cy="280.8" r="4.00" fill="#e76447"/>
<circle cx="522.9" cy="289.7" r="4.50" fill="#ab1729"/>
<circle cx="522.9" cy="298.5" r="4.20" fill="#e04c3a"/>
<circle cx="522.9" cy="307.4" r="3.50" fill="#ef8c62"/>
<circle cx="522.9" cy="316.2" r="2.80" fill="#f8d3a8"/>
<circle cx="522.9" cy="325.1" r="3.70" fill="#f09669"/>
<circle cx="522.9" cy="333.9" r="4.20" fill="#f09669"/>
<circle cx="522.9" cy="342.8" r="4.00" fill="#ef8c62"/>
<circle cx="522.9" cy="351.6" r="3.60" fill="#f3aa78"/>
<circle cx="531.9" cy="254.3" r="3.20" fill="#f09669"/>
<circle cx="531.9" cy="263.1" r="3.80" fill="#ef8c62"/>
<circle cx="531.9" cy="272.0" r="3.30" fill="#ef8c62"/>
<circle cx="531.9" cy="280.8" r="4.20" fill="#e55a40"/>
<circle cx="531.9" cy="289.7" r="4.70" fill="#ab1729"/>
<circle cx="531.9" cy="298.5" r="3.80" fill="#eb7854"/>
<circle cx="531.9" cy="307.4" r="3.00" fill="#f4af7c"/>
<circle cx="531.9" cy="316.2" r="1.80" fill="#f8d3a8"/>
<circle cx="531.9" cy="325.1" r="3.50" fill="#f09669"/>
<circle cx="531.9" cy="333.9" r="3.80" fill="#f09669"/>
<circle cx="531.9" cy="342.8" r="4.00" fill="#ec7d58"/>
<circle cx="531.9" cy="351.6" r="3.20" fill="#f3aa78"/>
<circle cx="540.8" cy="254.3" r="3.20" fill="#f3aa78"/>
<circle cx="540.8" cy="263.1" r="3.60" fill="#ef8c62"/>
<circle cx="540.8" cy="272.0" r="3.40" fill="#ef8c62"/>
<circle cx="540.8" cy="280.8" r="4.20" fill="#e04c3a"/>
<circle cx="540.8" cy="289.7" r="4.70" fill="#ab1729"/>
<circle cx="540.8" cy="298.5" r="3.50" fill="#f3aa78"/>
<circle cx="540.8" cy="307.4" r="3.40" fill="#f09669"/>
<circle cx="540.8" cy="316.2" r="2.20" fill="#f8d3a8"/>
<circle cx="540.8" cy="325.1" r="3.40" fill="#f09669"/>
<circle cx="540.8" cy="333.9" r="4.00" fill="#eb7854"/>
<circle cx="540.8" cy="342.8" r="4.00" fill="#eb7854"/>
<circle cx="540.8" cy="351.6" r="3.20" fill="#f3aa78"/>
<circle cx="549.7" cy="263.1" r="1.00" fill="#e55a40"/>
<circle cx="549.7" cy="280.8" r="1.80" fill="#e55a40"/>
<circle cx="549.7" cy="289.7" r="2.90" fill="#8c0f23"/>
<circle cx="549.7" cy="298.5" r="1.80" fill="#e04c3a"/>
<circle cx="549.7" cy="342.8" r="0.80" fill="#e55a40"/>
<circle cx="558.7" cy="254.3" r="2.80" fill="#f8cfa1"/>
<circle cx="558.7" cy="263.1" r="3.30" fill="#ef8c62"/>
<circle cx="558.7" cy="272.0" r="3.00" fill="#ec7d58"/>
<circle cx="558.7" cy="280.8" r="3.80" fill="#eb7854"/>
<circle cx="558.7" cy="289.7" r="4.20" fill="#d62c2c"/>
<circle cx="558.7" cy="298.5" r="3.20" fill="#ef8c62"/>
<circle cx="558.7" cy="307.4" r="3.00" fill="#ef8c62"/>
<circle cx="558.7" cy="316.2" r="1.60" fill="#f9e0bb"/>
<circle cx="558.7" cy="325.1" r="3.60" fill="#e8694a"/>
<circle cx="558.7" cy="333.9" r="3.60" fill="#ec7d58"/>
<circle cx="558.7" cy="342.8" r="3.60" fill="#ec7d58"/>
<circle cx="558.7" cy="351.6" r="3.00" fill="#f3aa78"/>
<circle cx="567.6" cy="263.1" r="1.70" fill="#ec7d58"/>
<circle cx="567.6" cy="280.8" r="1.90" fill="#ec7d58"/>
<circle cx="567.6" cy="289.7" r="2.60" fill="#c0222a"/>
<circle cx="567.6" cy="298.5" r="2.50" fill="#c0222a"/>
<circle cx="567.6" cy="307.4" r="1.60" fill="#ec7d58"/>
<circle cx="567.6" cy="333.9" r="2.20" fill="#ec7d58"/>
<circle cx="567.6" cy="342.8" r="1.20" fill="#ef8c62"/>
<circle cx="576.5" cy="280.8" r="1.30" fill="#ef8c62"/>
<circle cx="576.5" cy="289.7" r="1.80" fill="#e55a40"/>
<circle cx="576.5" cy="298.5" r="3.30" fill="#8c0f23"/>
<circle cx="576.5" cy="325.1" r="1.60" fill="#e8694a"/>
<circle cx="576.5" cy="333.9" r="0.90" fill="#ef8c62"/>
<circle cx="585.5" cy="289.7" r="1.60" fill="#e76447"/>
<circle cx="585.5" cy="298.5" r="3.00" fill="#8c0f23"/>
<circle cx="585.5" cy="325.1" r="2.00" fill="#e55a40"/>
<circle cx="594.4" cy="289.7" r="1.60" fill="#d62c2c"/>
<circle cx="594.4" cy="298.5" r="2.00" fill="#961026"/>
<circle cx="603.3" cy="263.1" r="1.10" fill="#ef8c62"/>
<circle cx="603.3" cy="280.8" r="1.30" fill="#ef8c62"/>
<circle cx="603.3" cy="289.7" r="2.10" fill="#e55a40"/>
<circle cx="603.3" cy="298.5" r="2.50" fill="#8c0f23"/>
<circle cx="603.3" cy="333.9" r="1.40" fill="#ef8c62"/>
<circle cx="603.3" cy="342.8" r="1.40" fill="#ef8c62"/>
<circle cx="603.3" cy="351.6" r="0.90" fill="#ef8c62"/>
<circle cx="612.3" cy="307.4" r="2.70" fill="#8c0f23"/>
<circle cx="612.3" cy="316.2" r="1.60" fill="#e04c3a"/>
<circle cx="612.3" cy="333.9" r="2.00" fill="#e76447"/>
<circle cx="621.2" cy="254.3" r="2.30" fill="#ef8c62"/>
<circle cx="621.2" cy="263.1" r="2.30" fill="#f09669"/>
<circle cx="621.2" cy="272.0" r="1.40" fill="#f6be87"/>
<circle cx="621.2" cy="280.8" r="2.50" fill="#f3aa78"/>
<circle cx="621.2" cy="289.7" r="2.60" fill="#ec7d58"/>
<circle cx="621.2" cy="298.5" r="3.00" fill="#e55a40"/>
<circle cx="621.2" cy="307.4" r="3.40" fill="#8c0f23"/>
<circle cx="621.2" cy="316.2" r="1.60" fill="#f6be87"/>
<circle cx="621.2" cy="325.1" r="2.50" fill="#ec7d58"/>
<circle cx="621.2" cy="333.9" r="2.80" fill="#ef8c62"/>
<circle cx="621.2" cy="342.8" r="2.30" fill="#f3aa78"/>
<circle cx="621.2" cy="351.6" r="2.30" fill="#f09669"/>
<circle cx="630.1" cy="342.8" r="4.00" fill="#bb1f2a"/>
<circle cx="630.1" cy="351.6" r="4.00" fill="#b61c2a"/>
<circle cx="639.1" cy="342.8" r="4.60" fill="#cb272b"/>
<circle cx="639.1" cy="351.6" r="4.70" fill="#a01228"/>
<circle cx="648.0" cy="342.8" r="3.00" fill="#df4838"/>
<circle cx="648.0" cy="351.6" r="3.50" fill="#a01228"/>
<text transform="translate(266.4 360.3) rotate(-45)" text-anchor="end" font-size="6.2" font-style="italic">SCGB3A2</text>
<text transform="translate(275.3 360.3) rotate(-45)" text-anchor="end" font-size="6.2" font-style="italic">CEACAM6</text>
<text transform="translate(284.3 360.3) rotate(-45)" text-anchor="end" font-size="6.2" font-style="italic">KIAA1324</text>
<text transform="translate(293.2 360.3) rotate(-45)" text-anchor="end" font-size="6.2" font-style="italic">LAMP3</text>
<text transform="translate(302.1 360.3) rotate(-45)" text-anchor="end" font-size="6.2" font-style="italic">HHIP</text>
<text transform="translate(311.1 360.3) rotate(-45)" text-anchor="end" font-size="6.2" font-style="italic">SFTPC</text>
<text transform="translate(320.0 360.3) rotate(-45)" text-anchor="end" font-size="6.2" font-style="italic">CA2</text>
<text transform="translate(328.9 360.3) rotate(-45)" text-anchor="end" font-size="6.2" font-style="italic">TM4SF1</text>
<text transform="translate(337.9 360.3) rotate(-45)" text-anchor="end" font-size="6.2" font-style="italic">TEAD1</text>
<text transform="translate(346.8 360.3) rotate(-45)" text-anchor="end" font-size="6.2" font-style="italic">TEAD4</text>
<text transform="translate(355.8 360.3) rotate(-45)" text-anchor="end" font-size="6.2" font-style="italic">YAP1</text>
<text transform="translate(364.7 360.3) rotate(-45)" text-anchor="end" font-size="6.2" font-style="italic">ETS1</text>
<text transform="translate(373.6 360.3) rotate(-45)" text-anchor="end" font-size="6.2" font-style="italic">E2F3</text>
<text transform="translate(382.6 360.3) rotate(-45)" text-anchor="end" font-size="6.2" font-style="italic">AREG</text>
<text transform="translate(391.5 360.3) rotate(-45)" text-anchor="end" font-size="6.2" font-style="italic">TCF12</text>
<text transform="translate(400.4 360.3) rotate(-45)" text-anchor="end" font-size="6.2" font-style="italic">IL33</text>
<text transform="translate(409.4 360.3) rotate(-45)" text-anchor="end" font-size="6.2" font-style="italic">KRT5</text>
<text transform="translate(418.3 360.3) rotate(-45)" text-anchor="end" font-size="6.2" font-style="italic">KRT17</text>
<text transform="translate(427.2 360.3) rotate(-45)" text-anchor="end" font-size="6.2" font-style="italic">CDH2</text>
<text transform="translate(436.2 360.3) rotate(-45)" text-anchor="end" font-size="6.2" font-style="italic">GDF15</text>
<text transform="translate(445.1 360.3) rotate(-45)" text-anchor="end" font-size="6.2" font-style="italic">CDKN1A</text>
<text transform="translate(454.0 360.3) rotate(-45)" text-anchor="end" font-size="6.2" font-style="italic">CPA6</text>
<text transform="translate(463.0 360.3) rotate(-45)" text-anchor="end" font-size="6.2" font-style="italic">MMP7</text>
<text transform="translate(471.9 360.3) rotate(-45)" text-anchor="end" font-size="6.2" font-style="italic">MYO3B</text>
<text transform="translate(480.8 360.3) rotate(-45)" text-anchor="end" font-size="6.2" font-style="italic">RTKN2</text>
<text transform="translate(489.8 360.3) rotate(-45)" text-anchor="end" font-size="6.2" font-style="italic">AGER</text>
<text transform="translate(498.7 360.3) rotate(-45)" text-anchor="end" font-size="6.2" font-style="italic">COL4A1</text>
<text transform="translate(507.6 360.3) rotate(-45)" text-anchor="end" font-size="6.2" font-style="italic">COL4A2</text>
<text transform="translate(516.6 360.3) rotate(-45)" text-anchor="end" font-size="6.2" font-style="italic">SGPP2</text>
<text transform="translate(525.5 360.3) rotate(-45)" text-anchor="end" font-size="6.2" font-style="italic">NFKB1</text>
<text transform="translate(534.5 360.3) rotate(-45)" text-anchor="end" font-size="6.2" font-style="italic">SOD2</text>
<text transform="translate(543.4 360.3) rotate(-45)" text-anchor="end" font-size="6.2" font-style="italic">HIF1A</text>
<text transform="translate(552.3 360.3) rotate(-45)" text-anchor="end" font-size="6.2" font-style="italic">CSF3</text>
<text transform="translate(561.3 360.3) rotate(-45)" text-anchor="end" font-size="6.2" font-style="italic">IL4R</text>
<text transform="translate(570.2 360.3) rotate(-45)" text-anchor="end" font-size="6.2" font-style="italic">TNFAIP3</text>
<text transform="translate(579.1 360.3) rotate(-45)" text-anchor="end" font-size="6.2" font-style="italic">CXCL8</text>
<text transform="translate(588.1 360.3) rotate(-45)" text-anchor="end" font-size="6.2" font-style="italic">CXCL1</text>
<text transform="translate(597.0 360.3) rotate(-45)" text-anchor="end" font-size="6.2" font-style="italic">CCL20</text>
<text transform="translate(605.9 360.3) rotate(-45)" text-anchor="end" font-size="6.2" font-style="italic">CXCL3</text>
<text transform="translate(614.9 360.3) rotate(-45)" text-anchor="end" font-size="6.2" font-style="italic">IL32</text>
<text transform="translate(623.8 360.3) rotate(-45)" text-anchor="end" font-size="6.2" font-style="italic">IRF1</text>
<text transform="translate(632.7 360.3) rotate(-45)" text-anchor="end" font-size="6.2" font-style="italic">CENPK</text>
<text transform="translate(641.7 360.3) rotate(-45)" text-anchor="end" font-size="6.2" font-style="italic">BRIP1</text>
<text transform="translate(650.6 360.3) rotate(-45)" text-anchor="end" font-size="6.2" font-style="italic">POLE2</text>
<text x="464.4" y="390.4" font-size="7.8" >% expr</text>
<circle cx="494.6" cy="387.6" r="2.30" fill="#1a1a1a"/>
<text x="494.6" y="401.1" font-size="6.7" text-anchor="middle" >25</text>
<circle cx="505.7" cy="387.6" r="3.40" fill="#1a1a1a"/>
<text x="505.7" y="401.1" font-size="6.7" text-anchor="middle" >50</text>
<circle cx="517.5" cy="387.6" r="4.20" fill="#1a1a1a"/>
<text x="517.5" y="401.1" font-size="6.7" text-anchor="middle" >75</text>
<circle cx="531.6" cy="387.6" r="5.00" fill="#1a1a1a"/>
<text x="531.6" y="401.1" font-size="6.7" text-anchor="middle" >100</text>
<text x="597.7" y="387.4" font-size="7.8" text-anchor="end" >Scaled</text>
<text x="597.7" y="396.2" font-size="7.8" text-anchor="end" >expression</text>
<rect x="600.0" y="383.5" width="50.8" height="8.5" fill="url(#orrdH)" />
<text x="604.4" y="401.1" font-size="6.7" text-anchor="middle" >−2</text>
<text x="614.8" y="401.1" font-size="6.7" text-anchor="middle" >−1</text>
<text x="624.9" y="401.1" font-size="6.7" text-anchor="middle" >0</text>
<text x="635.0" y="401.1" font-size="6.7" text-anchor="middle" >1</text>
<text x="645.0" y="401.1" font-size="6.7" text-anchor="middle" >2</text>
<text x="0" y="417.5" font-size="13.2" font-weight="bold" fill="#000" stroke="#000" stroke-width="0.35">f</text>
<line x1="18.8" y1="417.3" x2="18.8" y2="537.3" stroke="#a0a0a0" stroke-width="0.7"/>
<line x1="18.8" y1="537.3" x2="156.0" y2="537.3" stroke="#a0a0a0" stroke-width="0.7"/>
<path d="M98.9 423.9L103.3 420.5L116.5 420.2L125.3 423.2L130.0 429.0L130.4 436.4L128.2 448.1L125.6 455.7L119.4 453.9L113.6 456.9L104.8 462.7L97.5 468.9L92.3 465.6L93.4 453.9L96.7 439.3L98.2 429.0Z" fill="#76c0b0" stroke="#76c0b0" stroke-width="1.2" stroke-linejoin="round" filter="url(#dust)"/>
<path d="M125.6 455.1L125.0 468.6L123.8 483.2L120.9 496.4L116.5 504.0L110.6 504.0L104.8 499.6L99.8 495.2L96.9 486.1L95.4 475.9L97.2 468.3L104.8 462.1L113.6 456.3L119.4 453.3Z" fill="#168c85" stroke="#168c85" stroke-width="1.2" stroke-linejoin="round" filter="url(#dust)"/>
<path d="M81.4 478.8L85.7 474.4L93.4 474.1L97.8 478.8L99.5 489.1L98.6 496.7L94.5 499.6L87.2 498.4L82.8 493.7L80.6 486.1Z" fill="#874a24" stroke="#874a24" stroke-width="6" stroke-linejoin="round" filter="url(#dust)"/>
<path d="M68.9 468.6L72.6 465.6L78.4 464.9L82.1 467.8L79.9 472.2L74.8 473.7L71.1 472.2Z" fill="#e21f32" stroke="#e21f32" stroke-width="5" stroke-linejoin="round" filter="url(#dust)"/>
<path d="M84.0 497.6L91.9 499.0L89.7 509.6L88.2 521.3L86.5 531.5L84.3 535.9L81.4 530.1L79.2 522.7L78.4 515.4L80.6 505.2Z" fill="#2d3888" stroke="#2d3888" stroke-width="3" stroke-linejoin="round" filter="url(#dust)"/>
<path d="M90.1 498.7L98.9 499.9L105.1 503.7L103.3 509.6L97.5 515.4L91.6 522.7L87.5 527.1L87.8 518.3L89.0 509.6Z" fill="#6a74ba" stroke="#6a74ba" stroke-width="3" stroke-linejoin="round" filter="url(#dust)"/>
<path d="M107.0 505.2L115.8 504.9L115.0 511.0L112.8 514.7L109.9 511.0Z" fill="#e07f74" stroke="#e07f74" stroke-width="3" stroke-linejoin="round" filter="url(#dust)"/>
<path d="M92.3 455.4L94.8 456.9L91.9 464.5L87.9 468.9L84.3 467.8L86.5 462.7L89.4 458.3Z" fill="#f2a334" stroke="#f2a334" stroke-width="4" stroke-linejoin="round" filter="url(#dust)"/>
<path d="M55.0 514.2L59.4 512.5L62.3 513.4L59.4 516.9L55.7 517.8Z" fill="#c58cc1" stroke="#c58cc1" stroke-width="3" stroke-linejoin="round" filter="url(#dust)"/>
<g filter="url(#rough3)">
<path d="M98.9 423.9C102.2 420.7 111.3 419.4 116.5 420.2C121.7 421.1 128.0 424.4 130.0 429.0C131.9 433.7 129.0 441.5 128.2 448.1C127.4 454.7 126.2 460.5 125.0 468.6C123.8 476.6 122.8 490.5 120.9 496.4C119.0 502.3 116.5 502.8 113.6 504.0C110.6 505.2 107.0 504.2 103.3 503.7C99.7 503.2 94.8 501.8 91.6 500.8C88.4 499.8 85.7 500.3 84.3 497.8C82.8 495.4 82.8 489.8 82.8 486.1C82.8 482.5 82.7 479.3 84.3 475.9C85.9 472.5 90.3 471.7 92.3 465.6C94.4 459.5 95.6 446.2 96.7 439.3C97.8 432.3 95.6 427.1 98.9 423.9Z" fill="#168c85" />
<path d="M84.3 497.3C87.3 496.3 95.5 498.2 98.9 499.3C102.4 500.4 105.3 501.0 105.1 503.7C104.8 506.4 100.4 511.5 97.5 515.4C94.5 519.3 89.7 523.7 87.5 527.1C85.3 530.5 85.7 536.6 84.3 535.9C82.9 535.2 80.1 526.2 79.2 522.7C78.2 519.3 78.2 518.3 78.4 515.4C78.7 512.5 79.6 508.2 80.6 505.2C81.6 502.1 81.2 498.2 84.3 497.3Z" fill="#4a54a0" />
<path d="M98.9 423.9C99.8 422.5 100.4 421.2 103.3 420.5C106.2 419.9 112.8 419.8 116.5 420.2C120.2 420.7 123.0 421.7 125.3 423.2C127.5 424.6 129.1 426.8 130.0 429.0C130.8 431.2 130.7 433.2 130.4 436.4C130.1 439.5 129.0 444.8 128.2 448.1C127.4 451.3 127.0 454.7 125.6 455.7C124.1 456.7 121.4 453.7 119.4 453.9C117.4 454.1 116.0 455.4 113.6 456.9C111.1 458.3 107.5 460.7 104.8 462.7C102.1 464.7 99.5 468.4 97.5 468.9C95.4 469.3 93.0 468.1 92.3 465.6C91.7 463.1 92.6 458.3 93.4 453.9C94.1 449.5 95.9 443.4 96.7 439.3C97.5 435.1 97.8 431.6 98.2 429.0C98.6 426.5 98.1 425.3 98.9 423.9Z" fill="#76c0b0" />
<path d="M125.6 455.1C126.5 457.6 125.3 463.9 125.0 468.6C124.7 473.3 124.5 478.6 123.8 483.2C123.1 487.8 122.1 492.9 120.9 496.4C119.7 499.8 118.2 502.7 116.5 504.0C114.8 505.3 112.6 504.7 110.6 504.0C108.7 503.3 106.6 501.1 104.8 499.6C103.0 498.1 101.1 497.5 99.8 495.2C98.5 493.0 97.6 489.4 96.9 486.1C96.1 482.9 95.4 478.9 95.4 475.9C95.5 472.9 95.6 470.6 97.2 468.3C98.7 466.0 102.0 464.1 104.8 462.1C107.5 460.1 111.1 457.7 113.6 456.3C116.0 454.8 117.4 453.5 119.4 453.3C121.4 453.1 124.6 452.6 125.6 455.1Z" fill="#168c85" />
<path d="M92.3 455.4C93.2 455.1 94.9 455.3 94.8 456.9C94.8 458.4 93.0 462.5 91.9 464.5C90.7 466.5 89.2 468.3 87.9 468.9C86.7 469.4 84.5 468.9 84.3 467.8C84.0 466.8 85.6 464.3 86.5 462.7C87.3 461.1 88.4 459.5 89.4 458.3C90.4 457.1 91.4 455.6 92.3 455.4Z" fill="#f2a334" />
<path d="M90.1 498.7C91.8 497.1 96.4 499.1 98.9 499.9C101.4 500.7 104.3 502.1 105.1 503.7C105.8 505.3 104.6 507.6 103.3 509.6C102.0 511.5 99.4 513.2 97.5 515.4C95.5 517.6 93.3 520.8 91.6 522.7C89.9 524.7 88.1 527.9 87.5 527.1C86.9 526.4 87.6 521.3 87.8 518.3C88.0 515.4 88.6 512.8 89.0 509.6C89.4 506.3 88.5 500.3 90.1 498.7Z" fill="#6a74ba" />
<path d="M84.0 497.6C85.9 496.5 90.9 497.0 91.9 499.0C92.8 501.0 90.3 505.9 89.7 509.6C89.1 513.3 88.8 517.6 88.2 521.3C87.7 524.9 87.1 529.1 86.5 531.5C85.8 534.0 85.1 536.2 84.3 535.9C83.4 535.7 82.2 532.3 81.4 530.1C80.5 527.9 79.6 525.2 79.2 522.7C78.7 520.3 78.2 518.3 78.4 515.4C78.7 512.5 79.7 508.1 80.6 505.2C81.5 502.2 82.1 498.6 84.0 497.6Z" fill="#2d3888" />
<path d="M81.4 478.8C82.2 476.9 83.7 475.2 85.7 474.4C87.7 473.6 91.4 473.4 93.4 474.1C95.4 474.9 96.7 476.3 97.8 478.8C98.8 481.3 99.4 486.1 99.5 489.1C99.7 492.0 99.5 494.9 98.6 496.7C97.8 498.4 96.4 499.3 94.5 499.6C92.6 499.9 89.2 499.4 87.2 498.4C85.3 497.5 83.9 495.8 82.8 493.7C81.7 491.7 80.9 488.6 80.6 486.1C80.4 483.6 80.5 480.8 81.4 478.8Z" fill="#874a24" />
<path d="M107.0 505.2C108.0 504.1 114.4 503.9 115.8 504.9C117.1 505.9 115.5 509.4 115.0 511.0C114.5 512.7 113.7 514.7 112.8 514.7C112.0 514.7 110.9 512.6 109.9 511.0C108.9 509.4 106.0 506.2 107.0 505.2Z" fill="#e07f74" />
<path d="M68.9 468.6C69.2 467.5 71.0 466.2 72.6 465.6C74.2 465.0 76.8 464.5 78.4 464.9C80.0 465.3 81.8 466.6 82.1 467.8C82.3 469.1 81.1 471.2 79.9 472.2C78.7 473.2 76.2 473.7 74.8 473.7C73.3 473.7 72.1 473.1 71.1 472.2C70.1 471.4 68.7 469.7 68.9 468.6Z" fill="#e21f32" />
<path d="M55.0 514.2C55.6 513.4 58.2 512.6 59.4 512.5C60.6 512.3 62.3 512.6 62.3 513.4C62.3 514.1 60.5 516.1 59.4 516.9C58.3 517.6 56.5 518.2 55.7 517.8C55.0 517.3 54.4 515.1 55.0 514.2Z" fill="#c58cc1" />
</g>
<path d="M63.8 512.5L65.5 512.2L65.2 514.2L63.5 514.2Z" fill="#e21f32" stroke="#e21f32" stroke-width="2" stroke-linejoin="round" filter="url(#dust)"/>
<text x="57.1" y="427.4" font-size="7.9" >Alv. fibro<tspan font-size="4.7" dy="2.4">c</tspan></text>
<text x="56.6" y="455.3" font-size="7.9" >PB fibro</text>
<text x="19.8" y="471.5" font-size="7.9" >Myofibroblast</text>
<text x="23.6" y="488.3" font-size="7.9" >CTHRC1 fibro</text>
<text x="19.8" y="517.3" font-size="7.9" >FDC fibro</text>
<text x="41.4" y="533.4" font-size="7.9" >Adv. fibro<tspan font-size="4.7" dy="2.4">c</tspan></text>
<text x="126.5" y="488.8" font-size="7.9" >Alv. fibro<tspan font-size="4.7" dy="2.4">i</tspan></text>
<text x="124.6" y="511.7" font-size="7.9" >IR fibro</text>
<text x="104.1" y="525.5" font-size="7.9" >Adv. fibro<tspan font-size="4.7" dy="2.4">i</tspan></text>
<line x1="92.8" y1="426.0" x2="102.4" y2="432.5" stroke="#231f20" stroke-width="0.6"/>
<line x1="78.3" y1="455.4" x2="88.0" y2="462.2" stroke="#231f20" stroke-width="0.6"/>
<line x1="74.7" y1="486.0" x2="83.1" y2="486.0" stroke="#231f20" stroke-width="0.6"/>
<line x1="71.8" y1="526.5" x2="80.7" y2="521.7" stroke="#231f20" stroke-width="0.6"/>
<line x1="118.6" y1="480.7" x2="125.3" y2="484.3" stroke="#231f20" stroke-width="0.6"/>
<line x1="115.2" y1="508.9" x2="123.4" y2="508.9" stroke="#231f20" stroke-width="0.6"/>
<line x1="96.4" y1="514.5" x2="103.1" y2="520.5" stroke="#231f20" stroke-width="0.6"/>
<text transform="translate(13.6 477) rotate(-90)" text-anchor="middle" font-size="9.2">UMAP dimension 2</text>
<text x="87.2" y="547.9" text-anchor="middle" font-size="9.2">UMAP dimension 1</text>
<circle cx="167.3" cy="427.0" r="4.40" fill="#76c0b0"/>
<text x="175.7" y="429.8" font-size="7.9" >Alv. fibroblast<tspan font-size="4.7" dy="2.4">c</tspan></text>
<circle cx="167.3" cy="439.8" r="4.40" fill="#168c85"/>
<text x="175.7" y="442.7" font-size="7.9" >Alv. fibroblast<tspan font-size="4.7" dy="2.4">i</tspan></text>
<circle cx="167.3" cy="452.7" r="4.40" fill="#2d3888"/>
<text x="175.7" y="455.5" font-size="7.9" >Adv. fibroblast<tspan font-size="4.7" dy="2.4">c</tspan></text>
<circle cx="167.3" cy="465.5" r="4.40" fill="#6a74ba"/>
<text x="175.7" y="468.3" font-size="7.9" >Alv. fibroblast<tspan font-size="4.7" dy="2.4">i</tspan></text>
<circle cx="167.3" cy="478.3" r="4.40" fill="#e07f74"/>
<text x="175.7" y="481.2" font-size="7.9" >IR fibroblast</text>
<circle cx="167.3" cy="491.1" r="4.40" fill="#874a24"/>
<text x="175.7" y="494.0" font-size="7.9" >CTHRC1 fibroblast</text>
<circle cx="167.3" cy="504.0" r="4.40" fill="#e21f32"/>
<text x="175.7" y="506.8" font-size="7.9" >Myofibroblast</text>
<circle cx="167.3" cy="516.8" r="4.40" fill="#c58cc1"/>
<text x="175.7" y="519.7" font-size="7.9" >FDC fibroblast</text>
<circle cx="167.3" cy="529.6" r="4.40" fill="#f2a334"/>
<text x="175.7" y="532.5" font-size="7.9" >PB fibroblast</text>
<text x="252.5" y="419" font-size="13.2" font-weight="bold" fill="#000" stroke="#000" stroke-width="0.35">g</text>
<rect x="306.7" y="415.6" width="347.0" height="78.8" fill="none" stroke="#a8a8a8" stroke-width="0.7" />
<text x="303.5" y="425.1" font-size="7.8" text-anchor="end" >FRC fibro</text>
<text x="303.5" y="436.0" font-size="7.8" text-anchor="end" >IR fibro</text>
<text x="303.5" y="446.9" font-size="7.8" text-anchor="end" >CTHRC1 fibro</text>
<text x="303.5" y="457.9" font-size="7.8" text-anchor="end" >Myofibro</text>
<text x="303.5" y="468.8" font-size="7.8" text-anchor="end" >PB fibro</text>
<text x="303.5" y="479.7" font-size="7.8" text-anchor="end" >Adv. fibro</text>
<text x="303.5" y="490.6" font-size="7.8" text-anchor="end" >Alv. fibro</text>
<circle cx="311.6" cy="422.3" r="3.50" fill="#f6be87"/>
<circle cx="311.6" cy="433.2" r="4.60" fill="#f09669"/>
<circle cx="311.6" cy="444.1" r="3.80" fill="#f6be87"/>
<circle cx="311.6" cy="455.1" r="4.40" fill="#eb7854"/>
<circle cx="311.6" cy="466.0" r="5.20" fill="#e76447"/>
<circle cx="311.6" cy="476.9" r="3.30" fill="#f8d3a8"/>
<circle cx="311.6" cy="487.8" r="5.00" fill="#df4838"/>
<circle cx="320.0" cy="422.3" r="1.60" fill="#f09669"/>
<circle cx="320.0" cy="455.1" r="1.20" fill="#f09669"/>
<circle cx="320.0" cy="466.0" r="2.60" fill="#e55a40"/>
<circle cx="320.0" cy="487.8" r="3.00" fill="#d62c2c"/>
<circle cx="328.4" cy="433.2" r="2.30" fill="#ef8c62"/>
<circle cx="328.4" cy="466.0" r="1.90" fill="#ef8c62"/>
<circle cx="328.4" cy="487.8" r="3.20" fill="#ab1729"/>
<circle cx="336.9" cy="433.2" r="2.50" fill="#ef8c62"/>
<circle cx="336.9" cy="444.1" r="1.80" fill="#f6be87"/>
<circle cx="336.9" cy="455.1" r="2.00" fill="#ef8c62"/>
<circle cx="336.9" cy="466.0" r="2.80" fill="#f09669"/>
<circle cx="336.9" cy="476.9" r="1.40" fill="#f6be87"/>
<circle cx="336.9" cy="487.8" r="3.90" fill="#ab1729"/>
<circle cx="345.3" cy="466.0" r="1.40" fill="#e55a40"/>
<circle cx="345.3" cy="487.8" r="2.30" fill="#ab1729"/>
<circle cx="353.7" cy="476.9" r="3.10" fill="#911024"/>
<circle cx="362.1" cy="466.0" r="2.20" fill="#e55a40"/>
<circle cx="362.1" cy="476.9" r="3.00" fill="#c0222a"/>
<circle cx="370.6" cy="422.3" r="2.10" fill="#f3aa78"/>
<circle cx="370.6" cy="433.2" r="1.50" fill="#f6be87"/>
<circle cx="370.6" cy="444.1" r="2.40" fill="#ef8c62"/>
<circle cx="370.6" cy="455.1" r="0.80" fill="#f6be87"/>
<circle cx="370.6" cy="466.0" r="2.80" fill="#ef8c62"/>
<circle cx="370.6" cy="476.9" r="3.80" fill="#ab1729"/>
<circle cx="370.6" cy="487.8" r="1.80" fill="#f3aa78"/>
<circle cx="379.0" cy="422.3" r="3.30" fill="#ef8c62"/>
<circle cx="379.0" cy="433.2" r="0.90" fill="#f6be87"/>
<circle cx="379.0" cy="444.1" r="2.30" fill="#f3aa78"/>
<circle cx="379.0" cy="455.1" r="1.90" fill="#f3aa78"/>
<circle cx="379.0" cy="466.0" r="3.40" fill="#ef8c62"/>
<circle cx="379.0" cy="476.9" r="4.70" fill="#ab1729"/>
<circle cx="379.0" cy="487.8" r="1.80" fill="#f6be87"/>
<circle cx="387.4" cy="476.9" r="1.90" fill="#911024"/>
<circle cx="395.8" cy="466.0" r="1.00" fill="#c0222a"/>
<circle cx="404.2" cy="466.0" r="2.40" fill="#a01228"/>
<circle cx="412.7" cy="422.3" r="1.80" fill="#f3aa78"/>
<circle cx="412.7" cy="433.2" r="1.60" fill="#f3aa78"/>
<circle cx="412.7" cy="444.1" r="1.60" fill="#f6be87"/>
<circle cx="412.7" cy="455.1" r="3.30" fill="#eb7854"/>
<circle cx="412.7" cy="466.0" r="4.80" fill="#ab1729"/>
<circle cx="412.7" cy="476.9" r="2.30" fill="#f09669"/>
<circle cx="421.1" cy="422.3" r="4.50" fill="#e76447"/>
<circle cx="421.1" cy="433.2" r="2.30" fill="#f6be87"/>
<circle cx="421.1" cy="444.1" r="1.90" fill="#f7c694"/>
<circle cx="421.1" cy="455.1" r="3.20" fill="#f09669"/>
<circle cx="421.1" cy="466.0" r="4.50" fill="#e04c3a"/>
<circle cx="421.1" cy="476.9" r="3.30" fill="#ef8c62"/>
<circle cx="421.1" cy="487.8" r="2.10" fill="#f6be87"/>
<circle cx="429.5" cy="422.3" r="3.20" fill="#f8cfa1"/>
<circle cx="429.5" cy="433.2" r="3.80" fill="#f6be87"/>
<circle cx="429.5" cy="444.1" r="4.00" fill="#f6be87"/>
<circle cx="429.5" cy="455.1" r="5.80" fill="#e04c3a"/>
<circle cx="429.5" cy="466.0" r="6.30" fill="#e55a40"/>
<circle cx="429.5" cy="476.9" r="4.30" fill="#f3aa78"/>
<circle cx="429.5" cy="487.8" r="5.00" fill="#f09669"/>
<circle cx="437.9" cy="455.1" r="2.00" fill="#a01228"/>
<circle cx="446.4" cy="422.3" r="2.70" fill="#ef8c62"/>
<circle cx="446.4" cy="444.1" r="2.40" fill="#ef8c62"/>
<circle cx="446.4" cy="455.1" r="3.50" fill="#c0222a"/>
<circle cx="446.4" cy="476.9" r="0.90" fill="#f6be87"/>
<circle cx="454.8" cy="422.3" r="2.20" fill="#f6be87"/>
<circle cx="454.8" cy="433.2" r="2.80" fill="#f3aa78"/>
<circle cx="454.8" cy="444.1" r="3.00" fill="#eb7854"/>
<circle cx="454.8" cy="455.1" r="3.70" fill="#c0222a"/>
<circle cx="454.8" cy="466.0" r="3.00" fill="#ef8c62"/>
<circle cx="454.8" cy="476.9" r="2.00" fill="#f6be87"/>
<circle cx="454.8" cy="487.8" r="2.00" fill="#f6be87"/>
<circle cx="463.2" cy="444.1" r="1.30" fill="#ef8c62"/>
<circle cx="463.2" cy="455.1" r="2.80" fill="#c0222a"/>
<circle cx="463.2" cy="466.0" r="2.10" fill="#eb7854"/>
<circle cx="471.6" cy="455.1" r="1.30" fill="#a01228"/>
<circle cx="480.0" cy="455.1" r="3.30" fill="#911024"/>
<circle cx="488.5" cy="444.1" r="1.80" fill="#ef8c62"/>
<circle cx="488.5" cy="455.1" r="3.70" fill="#a01228"/>
<circle cx="496.9" cy="455.1" r="3.40" fill="#a01228"/>
<circle cx="505.3" cy="444.1" r="2.30" fill="#911024"/>
<circle cx="513.7" cy="444.1" r="4.00" fill="#a01228"/>
<circle cx="522.2" cy="422.3" r="1.60" fill="#f6be87"/>
<circle cx="522.2" cy="433.2" r="2.30" fill="#f6be87"/>
<circle cx="522.2" cy="444.1" r="4.90" fill="#a01228"/>
<circle cx="522.2" cy="455.1" r="3.30" fill="#ef8c62"/>
<circle cx="522.2" cy="466.0" r="2.90" fill="#f09669"/>
<circle cx="522.2" cy="476.9" r="3.40" fill="#ef8c62"/>
<circle cx="522.2" cy="487.8" r="2.50" fill="#f3aa78"/>
<circle cx="530.6" cy="444.1" r="3.20" fill="#a01228"/>
<circle cx="539.0" cy="444.1" r="3.70" fill="#a01228"/>
<circle cx="539.0" cy="476.9" r="1.50" fill="#ef8c62"/>
<circle cx="547.4" cy="422.3" r="3.40" fill="#e8694a"/>
<circle cx="547.4" cy="433.2" r="3.00" fill="#ec7d58"/>
<circle cx="547.4" cy="444.1" r="3.20" fill="#e8694a"/>
<circle cx="547.4" cy="476.9" r="2.50" fill="#e8694a"/>
<circle cx="547.4" cy="487.8" r="1.50" fill="#f3aa78"/>
<circle cx="555.8" cy="433.2" r="2.10" fill="#a01228"/>
<circle cx="564.3" cy="433.2" r="2.60" fill="#a01228"/>
<circle cx="572.7" cy="422.3" r="2.10" fill="#ef8c62"/>
<circle cx="572.7" cy="433.2" r="3.50" fill="#ab1729"/>
<circle cx="572.7" cy="444.1" r="1.40" fill="#f6be87"/>
<circle cx="572.7" cy="466.0" r="0.90" fill="#f6be87"/>
<circle cx="572.7" cy="476.9" r="2.30" fill="#ef8c62"/>
<circle cx="572.7" cy="487.8" r="1.50" fill="#f3aa78"/>
<circle cx="581.1" cy="422.3" r="1.00" fill="#ef8c62"/>
<circle cx="581.1" cy="433.2" r="2.60" fill="#ab1729"/>
<circle cx="589.5" cy="422.3" r="0.90" fill="#ef8c62"/>
<circle cx="589.5" cy="433.2" r="3.00" fill="#ab1729"/>
<circle cx="589.5" cy="444.1" r="1.60" fill="#f3aa78"/>
<circle cx="589.5" cy="476.9" r="1.40" fill="#ef8c62"/>
<circle cx="589.5" cy="487.8" r="1.30" fill="#ef8c62"/>
<circle cx="597.9" cy="422.3" r="3.40" fill="#ef8c62"/>
<circle cx="597.9" cy="433.2" r="4.80" fill="#d62c2c"/>
<circle cx="597.9" cy="444.1" r="3.20" fill="#f3aa78"/>
<circle cx="597.9" cy="455.1" r="1.60" fill="#f6be87"/>
<circle cx="597.9" cy="466.0" r="1.60" fill="#f9e0bb"/>
<circle cx="597.9" cy="476.9" r="3.20" fill="#ef8c62"/>
<circle cx="597.9" cy="487.8" r="3.20" fill="#ef8c62"/>
<circle cx="606.4" cy="433.2" r="2.00" fill="#a01228"/>
<circle cx="614.8" cy="422.3" r="2.20" fill="#911024"/>
<circle cx="623.2" cy="422.3" r="3.20" fill="#911024"/>
<circle cx="631.6" cy="422.3" r="3.00" fill="#a01228"/>
<circle cx="640.1" cy="422.3" r="2.40" fill="#a01228"/>
<circle cx="648.5" cy="422.3" r="3.00" fill="#d62c2c"/>
<circle cx="648.5" cy="433.2" r="2.70" fill="#e55a40"/>
<circle cx="648.5" cy="476.9" r="1.60" fill="#ef8c62"/>
<text transform="translate(314.2 498) rotate(-45)" text-anchor="end" font-size="6.2" font-style="italic">NPNT</text>
<text transform="translate(322.6 498) rotate(-45)" text-anchor="end" font-size="6.2" font-style="italic">DCC</text>
<text transform="translate(331.0 498) rotate(-45)" text-anchor="end" font-size="6.2" font-style="italic">RSPO2</text>
<text transform="translate(339.5 498) rotate(-45)" text-anchor="end" font-size="6.2" font-style="italic">SYN3</text>
<text transform="translate(347.9 498) rotate(-45)" text-anchor="end" font-size="6.2" font-style="italic">FGFR4</text>
<text transform="translate(356.3 498) rotate(-45)" text-anchor="end" font-size="6.2" font-style="italic">MFAP5</text>
<text transform="translate(364.7 498) rotate(-45)" text-anchor="end" font-size="6.2" font-style="italic">SCARA5</text>
<text transform="translate(373.2 498) rotate(-45)" text-anchor="end" font-size="6.2" font-style="italic">TWIST2</text>
<text transform="translate(381.6 498) rotate(-45)" text-anchor="end" font-size="6.2" font-style="italic">LEPR</text>
<text transform="translate(390.0 498) rotate(-45)" text-anchor="end" font-size="6.2" font-style="italic">SFRP2</text>
<text transform="translate(398.4 498) rotate(-45)" text-anchor="end" font-size="6.2" font-style="italic">LGR5</text>
<text transform="translate(406.8 498) rotate(-45)" text-anchor="end" font-size="6.2" font-style="italic">PLPPR4</text>
<text transform="translate(415.3 498) rotate(-45)" text-anchor="end" font-size="6.2" font-style="italic">EYA4</text>
<text transform="translate(423.7 498) rotate(-45)" text-anchor="end" font-size="6.2" font-style="italic">TMEM132C</text>
<text transform="translate(432.1 498) rotate(-45)" text-anchor="end" font-size="6.2" font-style="italic">FGF14</text>
<text transform="translate(440.5 498) rotate(-45)" text-anchor="end" font-size="6.2" font-style="italic">WNT5A</text>
<text transform="translate(449.0 498) rotate(-45)" text-anchor="end" font-size="6.2" font-style="italic">MYH11</text>
<text transform="translate(457.4 498) rotate(-45)" text-anchor="end" font-size="6.2" font-style="italic">ACTA2</text>
<text transform="translate(465.8 498) rotate(-45)" text-anchor="end" font-size="6.2" font-style="italic">ASPN</text>
<text transform="translate(474.2 498) rotate(-45)" text-anchor="end" font-size="6.2" font-style="italic">MYOCD</text>
<text transform="translate(482.6 498) rotate(-45)" text-anchor="end" font-size="6.2" font-style="italic">DACH2</text>
<text transform="translate(491.1 498) rotate(-45)" text-anchor="end" font-size="6.2" font-style="italic">LUZP2</text>
<text transform="translate(499.5 498) rotate(-45)" text-anchor="end" font-size="6.2" font-style="italic">ANO4</text>
<text transform="translate(507.9 498) rotate(-45)" text-anchor="end" font-size="6.2" font-style="italic">CTHRC1</text>
<text transform="translate(516.3 498) rotate(-45)" text-anchor="end" font-size="6.2" font-style="italic">POSTN</text>
<text transform="translate(524.8 498) rotate(-45)" text-anchor="end" font-size="6.2" font-style="italic">COL1A1</text>
<text transform="translate(533.2 498) rotate(-45)" text-anchor="end" font-size="6.2" font-style="italic">INHBA</text>
<text transform="translate(541.6 498) rotate(-45)" text-anchor="end" font-size="6.2" font-style="italic">TSPAN5</text>
<text transform="translate(550.0 498) rotate(-45)" text-anchor="end" font-size="6.2" font-style="italic">VEGFA</text>
<text transform="translate(558.4 498) rotate(-45)" text-anchor="end" font-size="6.2" font-style="italic">CCL19</text>
<text transform="translate(566.9 498) rotate(-45)" text-anchor="end" font-size="6.2" font-style="italic">CXCL10</text>
<text transform="translate(575.3 498) rotate(-45)" text-anchor="end" font-size="6.2" font-style="italic">IRF1</text>
<text transform="translate(583.7 498) rotate(-45)" text-anchor="end" font-size="6.2" font-style="italic">CD40</text>
<text transform="translate(592.1 498) rotate(-45)" text-anchor="end" font-size="6.2" font-style="italic">CCL2</text>
<text transform="translate(600.5 498) rotate(-45)" text-anchor="end" font-size="6.2" font-style="italic">ICAM1</text>
<text transform="translate(609.0 498) rotate(-45)" text-anchor="end" font-size="6.2" font-style="italic">IL32</text>
<text transform="translate(617.4 498) rotate(-45)" text-anchor="end" font-size="6.2" font-style="italic">FDCSP</text>
<text transform="translate(625.8 498) rotate(-45)" text-anchor="end" font-size="6.2" font-style="italic">CR1</text>
<text transform="translate(634.2 498) rotate(-45)" text-anchor="end" font-size="6.2" font-style="italic">CR2</text>
<text transform="translate(642.7 498) rotate(-45)" text-anchor="end" font-size="6.2" font-style="italic">CXCL13</text>
<text transform="translate(651.1 498) rotate(-45)" text-anchor="end" font-size="6.2" font-style="italic">IL34</text>
<text x="464.0" y="529.0" font-size="7.8" >% expr</text>
<circle cx="494.5" cy="526.6" r="3.60" fill="#1a1a1a"/>
<text x="494.5" y="542.6" font-size="6.7" text-anchor="middle" >25</text>
<circle cx="509.5" cy="526.6" r="4.90" fill="#1a1a1a"/>
<text x="509.5" y="542.6" font-size="6.7" text-anchor="middle" >50</text>
<circle cx="525.7" cy="526.6" r="5.90" fill="#1a1a1a"/>
<text x="525.7" y="542.6" font-size="6.7" text-anchor="middle" >75</text>
<circle cx="543.2" cy="526.6" r="7.30" fill="#1a1a1a"/>
<text x="543.2" y="542.6" font-size="6.7" text-anchor="middle" >100</text>
<text x="555.4" y="529.0" font-size="7.8" >Scaled expr</text>
<rect x="600.8" y="522.6" width="51.1" height="8.1" fill="url(#orrdH)" />
<text x="608.1" y="542.6" font-size="6.7" text-anchor="middle" >−1</text>
<text x="621.4" y="542.6" font-size="6.7" text-anchor="middle" >0</text>
<text x="635.1" y="542.6" font-size="6.7" text-anchor="middle" >1</text>
<text x="647.8" y="542.6" font-size="6.7" text-anchor="middle" >2</text>
<text x="0" y="556" font-size="13.2" font-weight="bold" fill="#000" stroke="#000" stroke-width="0.35">h</text>
<rect x="15.5" y="567.3" width="34.9" height="9.9" fill="#78c0b1" />
<line x1="44.2" y1="567.3" x2="44.2" y2="577.2" stroke="#a5d8cc" stroke-width="0.5"/>
<rect x="15.5" y="591.0" width="34.9" height="181.0" fill="#260e48" />
<rect x="15.5" y="578.7" width="34.9" height="9.9" fill="#4a5a5a" />
<rect x="15.5" y="578.7" width="0.6" height="9.9" fill="#2e6b4f" />
<rect x="16.0" y="578.7" width="0.8" height="9.9" fill="#d04848" />
<rect x="16.7" y="578.7" width="0.7" height="9.9" fill="#4a5a9a" />
<rect x="17.3" y="578.7" width="0.6" height="9.9" fill="#a05a3a" />
<rect x="17.8" y="578.7" width="1.1" height="9.9" fill="#8a4a3a" />
<rect x="18.8" y="578.7" width="1.1" height="9.9" fill="#6a8a3a" />
<rect x="19.8" y="578.7" width="0.6" height="9.9" fill="#2e6b4f" />
<rect x="20.3" y="578.7" width="0.6" height="9.9" fill="#d04848" />
<rect x="20.8" y="578.7" width="0.7" height="9.9" fill="#7a4a8a" />
<rect x="21.4" y="578.7" width="1.1" height="9.9" fill="#2e6b4f" />
<rect x="22.4" y="578.7" width="1.1" height="9.9" fill="#d04848" />
<rect x="23.4" y="578.7" width="1.1" height="9.9" fill="#6a8a3a" />
<rect x="24.4" y="578.7" width="0.7" height="9.9" fill="#d0c040" />
<rect x="25.0" y="578.7" width="1.1" height="9.9" fill="#8ab84a" />
<rect x="26.0" y="578.7" width="0.6" height="9.9" fill="#2e6b4f" />
<rect x="26.5" y="578.7" width="0.7" height="9.9" fill="#4a7a6a" />
<rect x="27.1" y="578.7" width="0.9" height="9.9" fill="#3a3a6a" />
<rect x="27.9" y="578.7" width="0.8" height="9.9" fill="#4a5a9a" />
<rect x="28.6" y="578.7" width="0.7" height="9.9" fill="#2e6b4f" />
<rect x="29.2" y="578.7" width="0.8" height="9.9" fill="#8a4a3a" />
<rect x="29.9" y="578.7" width="0.6" height="9.9" fill="#6a8a3a" />
<rect x="30.4" y="578.7" width="0.6" height="9.9" fill="#3a3a6a" />
<rect x="30.9" y="578.7" width="0.8" height="9.9" fill="#1e6a5a" />
<rect x="31.6" y="578.7" width="0.8" height="9.9" fill="#2e6b4f" />
<rect x="32.3" y="578.7" width="0.6" height="9.9" fill="#4a7a6a" />
<rect x="32.8" y="578.7" width="0.9" height="9.9" fill="#7a4a8a" />
<rect x="33.6" y="578.7" width="0.6" height="9.9" fill="#3a6a8a" />
<rect x="34.1" y="578.7" width="0.9" height="9.9" fill="#8a4a3a" />
<rect x="34.9" y="578.7" width="1.1" height="9.9" fill="#8ab84a" />
<rect x="35.9" y="578.7" width="1.1" height="9.9" fill="#3a6a8a" />
<rect x="36.9" y="578.7" width="0.8" height="9.9" fill="#1e6a5a" />
<rect x="37.6" y="578.7" width="0.7" height="9.9" fill="#4a7a6a" />
<rect x="38.2" y="578.7" width="0.6" height="9.9" fill="#2e6b4f" />
<rect x="38.7" y="578.7" width="0.7" height="9.9" fill="#2e6b4f" />
<rect x="39.3" y="578.7" width="0.8" height="9.9" fill="#8a4a3a" />
<rect x="40.0" y="578.7" width="0.7" height="9.9" fill="#9a3a5a" />
<rect x="40.6" y="578.7" width="0.6" height="9.9" fill="#6a8a3a" />
<rect x="41.1" y="578.7" width="0.8" height="9.9" fill="#d0c040" />
<rect x="41.8" y="578.7" width="0.8" height="9.9" fill="#4a5a9a" />
<rect x="42.5" y="578.7" width="0.8" height="9.9" fill="#3a3a6a" />
<rect x="43.2" y="578.7" width="0.7" height="9.9" fill="#a05a3a" />
<rect x="43.8" y="578.7" width="0.8" height="9.9" fill="#4a7a6a" />
<rect x="44.5" y="578.7" width="0.6" height="9.9" fill="#1e6a5a" />
<rect x="45.0" y="578.7" width="0.7" height="9.9" fill="#7a4a8a" />
<rect x="45.6" y="578.7" width="0.7" height="9.9" fill="#4a5a9a" />
<rect x="46.2" y="578.7" width="0.9" height="9.9" fill="#6a8a3a" />
<rect x="47.0" y="578.7" width="0.8" height="9.9" fill="#3a6a8a" />
<rect x="47.7" y="578.7" width="1.1" height="9.9" fill="#d04848" />
<rect x="48.7" y="578.7" width="0.8" height="9.9" fill="#9a3a5a" />
<rect x="49.4" y="578.7" width="0.6" height="9.9" fill="#d04848" />
<rect x="49.9" y="578.7" width="0.5" height="9.9" fill="#2e6b4f" />
<rect x="52.1" y="567.3" width="35.9" height="9.9" fill="#008a85" />
<rect x="52.1" y="591.0" width="35.9" height="181.0" fill="#260e48" />
<rect x="52.1" y="578.7" width="35.9" height="9.9" fill="#4a5a5a" />
<rect x="52.1" y="578.7" width="0.6" height="9.9" fill="#d0c040" />
<rect x="52.6" y="578.7" width="0.6" height="9.9" fill="#2e6b4f" />
<rect x="53.1" y="578.7" width="0.7" height="9.9" fill="#d04848" />
<rect x="53.7" y="578.7" width="1.1" height="9.9" fill="#4a7a6a" />
<rect x="54.7" y="578.7" width="0.8" height="9.9" fill="#9a3a5a" />
<rect x="55.4" y="578.7" width="1.1" height="9.9" fill="#a05a3a" />
<rect x="56.4" y="578.7" width="0.9" height="9.9" fill="#4a5a9a" />
<rect x="57.2" y="578.7" width="1.1" height="9.9" fill="#4a5a9a" />
<rect x="58.2" y="578.7" width="0.7" height="9.9" fill="#9a3a5a" />
<rect x="58.8" y="578.7" width="0.7" height="9.9" fill="#2e6b4f" />
<rect x="59.4" y="578.7" width="0.6" height="9.9" fill="#1e6a5a" />
<rect x="59.9" y="578.7" width="0.8" height="9.9" fill="#7a4a8a" />
<rect x="60.6" y="578.7" width="0.8" height="9.9" fill="#1e6a5a" />
<rect x="61.3" y="578.7" width="1.1" height="9.9" fill="#4a5a9a" />
<rect x="62.3" y="578.7" width="0.8" height="9.9" fill="#4a7a6a" />
<rect x="63.0" y="578.7" width="0.8" height="9.9" fill="#8ab84a" />
<rect x="63.7" y="578.7" width="1.1" height="9.9" fill="#8ab84a" />
<rect x="64.7" y="578.7" width="1.1" height="9.9" fill="#3a6a8a" />
<rect x="65.7" y="578.7" width="0.6" height="9.9" fill="#4a5a9a" />
<rect x="66.2" y="578.7" width="0.9" height="9.9" fill="#3a6a8a" />
<rect x="67.0" y="578.7" width="0.6" height="9.9" fill="#8ab84a" />
<rect x="67.5" y="578.7" width="0.7" height="9.9" fill="#4a7a6a" />
<rect x="68.1" y="578.7" width="0.7" height="9.9" fill="#d04848" />
<rect x="68.7" y="578.7" width="0.7" height="9.9" fill="#4a7a6a" />
<rect x="69.3" y="578.7" width="0.8" height="9.9" fill="#9a3a5a" />
<rect x="70.0" y="578.7" width="0.7" height="9.9" fill="#2e6b4f" />
<rect x="70.6" y="578.7" width="0.9" height="9.9" fill="#d0c040" />
<rect x="71.4" y="578.7" width="0.7" height="9.9" fill="#1e6a5a" />
<rect x="72.0" y="578.7" width="0.8" height="9.9" fill="#a05a3a" />
<rect x="72.7" y="578.7" width="0.9" height="9.9" fill="#6a8a3a" />
<rect x="73.5" y="578.7" width="0.9" height="9.9" fill="#8a4a3a" />
<rect x="74.3" y="578.7" width="0.6" height="9.9" fill="#6a8a3a" />
<rect x="74.8" y="578.7" width="1.1" height="9.9" fill="#4a7a6a" />
<rect x="75.8" y="578.7" width="0.8" height="9.9" fill="#4a7a6a" />
<rect x="76.5" y="578.7" width="0.8" height="9.9" fill="#d0c040" />
<rect x="77.2" y="578.7" width="0.9" height="9.9" fill="#3a3a6a" />
<rect x="78.0" y="578.7" width="1.1" height="9.9" fill="#2e6b4f" />
<rect x="79.0" y="578.7" width="0.6" height="9.9" fill="#4a7a6a" />
<rect x="79.5" y="578.7" width="0.9" height="9.9" fill="#a05a3a" />
<rect x="80.3" y="578.7" width="0.8" height="9.9" fill="#9a3a5a" />
<rect x="81.0" y="578.7" width="0.6" height="9.9" fill="#2e6b4f" />
<rect x="81.5" y="578.7" width="1.1" height="9.9" fill="#6a8a3a" />
<rect x="82.5" y="578.7" width="0.7" height="9.9" fill="#6a8a3a" />
<rect x="83.1" y="578.7" width="0.7" height="9.9" fill="#d0c040" />
<rect x="83.7" y="578.7" width="0.8" height="9.9" fill="#3a3a6a" />
<rect x="84.4" y="578.7" width="0.8" height="9.9" fill="#3a3a6a" />
<rect x="85.1" y="578.7" width="1.1" height="9.9" fill="#1e6a5a" />
<rect x="86.1" y="578.7" width="0.7" height="9.9" fill="#1e6a5a" />
<rect x="86.7" y="578.7" width="0.9" height="9.9" fill="#2e6b4f" />
<rect x="87.5" y="578.7" width="0.6" height="9.9" fill="#3a6a8a" />
<rect x="89.8" y="567.3" width="34.0" height="9.9" fill="#2e3787" />
<rect x="89.8" y="591.0" width="34.0" height="181.0" fill="#260e48" />
<rect x="89.8" y="578.7" width="34.0" height="9.9" fill="#4a5a5a" />
<rect x="89.8" y="578.7" width="0.7" height="9.9" fill="#4a5a9a" />
<rect x="90.4" y="578.7" width="0.6" height="9.9" fill="#8a4a3a" />
<rect x="90.9" y="578.7" width="0.6" height="9.9" fill="#4a5a9a" />
<rect x="91.4" y="578.7" width="0.9" height="9.9" fill="#a05a3a" />
<rect x="92.2" y="578.7" width="0.9" height="9.9" fill="#4a5a9a" />
<rect x="93.0" y="578.7" width="0.6" height="9.9" fill="#4a5a9a" />
<rect x="93.5" y="578.7" width="0.9" height="9.9" fill="#9a3a5a" />
<rect x="94.3" y="578.7" width="0.9" height="9.9" fill="#3a6a8a" />
<rect x="95.1" y="578.7" width="1.1" height="9.9" fill="#3a6a8a" />
<rect x="96.1" y="578.7" width="0.9" height="9.9" fill="#1e6a5a" />
<rect x="96.9" y="578.7" width="0.7" height="9.9" fill="#d0c040" />
<rect x="97.5" y="578.7" width="1.1" height="9.9" fill="#6a8a3a" />
<rect x="98.5" y="578.7" width="1.1" height="9.9" fill="#9a3a5a" />
<rect x="99.5" y="578.7" width="0.9" height="9.9" fill="#6a8a3a" />
<rect x="100.3" y="578.7" width="0.8" height="9.9" fill="#d04848" />
<rect x="101.0" y="578.7" width="0.7" height="9.9" fill="#6a8a3a" />
<rect x="101.6" y="578.7" width="1.1" height="9.9" fill="#2e6b4f" />
<rect x="102.6" y="578.7" width="1.1" height="9.9" fill="#d0c040" />
<rect x="103.6" y="578.7" width="0.7" height="9.9" fill="#4a7a6a" />
<rect x="104.2" y="578.7" width="1.1" height="9.9" fill="#8ab84a" />
<rect x="105.2" y="578.7" width="0.9" height="9.9" fill="#3a6a8a" />
<rect x="106.0" y="578.7" width="1.1" height="9.9" fill="#1e6a5a" />
<rect x="107.0" y="578.7" width="0.8" height="9.9" fill="#2e6b4f" />
<rect x="107.7" y="578.7" width="0.6" height="9.9" fill="#1e6a5a" />
<rect x="108.2" y="578.7" width="0.9" height="9.9" fill="#4a7a6a" />
<rect x="109.0" y="578.7" width="0.8" height="9.9" fill="#8a4a3a" />
<rect x="109.7" y="578.7" width="1.1" height="9.9" fill="#d0c040" />
<rect x="110.7" y="578.7" width="0.6" height="9.9" fill="#4a5a9a" />
<rect x="111.2" y="578.7" width="1.1" height="9.9" fill="#9a3a5a" />
<rect x="112.2" y="578.7" width="0.8" height="9.9" fill="#d0c040" />
<rect x="112.9" y="578.7" width="1.1" height="9.9" fill="#8a4a3a" />
<rect x="113.9" y="578.7" width="1.1" height="9.9" fill="#3a6a8a" />
<rect x="114.9" y="578.7" width="1.1" height="9.9" fill="#8a4a3a" />
<rect x="115.9" y="578.7" width="0.7" height="9.9" fill="#d0c040" />
<rect x="116.5" y="578.7" width="0.6" height="9.9" fill="#a05a3a" />
<rect x="117.0" y="578.7" width="1.1" height="9.9" fill="#2e6b4f" />
<rect x="118.0" y="578.7" width="1.1" height="9.9" fill="#8ab84a" />
<rect x="119.0" y="578.7" width="1.1" height="9.9" fill="#2e6b4f" />
<rect x="120.0" y="578.7" width="0.8" height="9.9" fill="#7a4a8a" />
<rect x="120.7" y="578.7" width="0.6" height="9.9" fill="#d0c040" />
<rect x="121.2" y="578.7" width="0.9" height="9.9" fill="#7a4a8a" />
<rect x="122.0" y="578.7" width="0.9" height="9.9" fill="#1e6a5a" />
<rect x="122.8" y="578.7" width="0.8" height="9.9" fill="#6a8a3a" />
<rect x="123.5" y="578.7" width="0.4" height="9.9" fill="#2e6b4f" />
<rect x="125.8" y="567.3" width="30.4" height="9.9" fill="#6a74b8" />
<rect x="125.8" y="591.0" width="30.4" height="181.0" fill="#260e48" />
<rect x="125.8" y="578.7" width="30.4" height="9.9" fill="#4a5a5a" />
<rect x="125.8" y="578.7" width="1.1" height="9.9" fill="#9a3a5a" />
<rect x="126.8" y="578.7" width="0.9" height="9.9" fill="#7a4a8a" />
<rect x="127.6" y="578.7" width="0.8" height="9.9" fill="#4a5a9a" />
<rect x="128.3" y="578.7" width="0.9" height="9.9" fill="#a05a3a" />
<rect x="129.1" y="578.7" width="0.6" height="9.9" fill="#8a4a3a" />
<rect x="129.6" y="578.7" width="0.9" height="9.9" fill="#8a4a3a" />
<rect x="130.4" y="578.7" width="0.7" height="9.9" fill="#2e6b4f" />
<rect x="131.0" y="578.7" width="0.7" height="9.9" fill="#d04848" />
<rect x="131.6" y="578.7" width="0.7" height="9.9" fill="#8a4a3a" />
<rect x="132.2" y="578.7" width="0.7" height="9.9" fill="#1e6a5a" />
<rect x="132.8" y="578.7" width="1.1" height="9.9" fill="#9a3a5a" />
<rect x="133.8" y="578.7" width="0.7" height="9.9" fill="#d04848" />
<rect x="134.4" y="578.7" width="1.1" height="9.9" fill="#8a4a3a" />
<rect x="135.4" y="578.7" width="0.9" height="9.9" fill="#4a7a6a" />
<rect x="136.2" y="578.7" width="0.9" height="9.9" fill="#8ab84a" />
<rect x="137.0" y="578.7" width="0.7" height="9.9" fill="#4a7a6a" />
<rect x="137.6" y="578.7" width="0.7" height="9.9" fill="#d04848" />
<rect x="138.2" y="578.7" width="0.9" height="9.9" fill="#4a5a9a" />
<rect x="139.0" y="578.7" width="1.1" height="9.9" fill="#d04848" />
<rect x="140.0" y="578.7" width="0.8" height="9.9" fill="#8ab84a" />
<rect x="140.7" y="578.7" width="1.1" height="9.9" fill="#d0c040" />
<rect x="141.7" y="578.7" width="0.7" height="9.9" fill="#8ab84a" />
<rect x="142.3" y="578.7" width="0.9" height="9.9" fill="#8a4a3a" />
<rect x="143.1" y="578.7" width="0.8" height="9.9" fill="#6a8a3a" />
<rect x="143.8" y="578.7" width="0.9" height="9.9" fill="#4a5a9a" />
<rect x="144.6" y="578.7" width="0.9" height="9.9" fill="#d0c040" />
<rect x="145.4" y="578.7" width="0.9" height="9.9" fill="#7a4a8a" />
<rect x="146.2" y="578.7" width="1.1" height="9.9" fill="#4a7a6a" />
<rect x="147.2" y="578.7" width="0.9" height="9.9" fill="#2e6b4f" />
<rect x="148.0" y="578.7" width="0.7" height="9.9" fill="#9a3a5a" />
<rect x="148.6" y="578.7" width="0.9" height="9.9" fill="#2e6b4f" />
<rect x="149.4" y="578.7" width="0.9" height="9.9" fill="#6a8a3a" />
<rect x="150.2" y="578.7" width="0.6" height="9.9" fill="#2e6b4f" />
<rect x="150.7" y="578.7" width="0.8" height="9.9" fill="#1e6a5a" />
<rect x="151.4" y="578.7" width="1.1" height="9.9" fill="#4a5a9a" />
<rect x="152.4" y="578.7" width="1.1" height="9.9" fill="#4a7a6a" />
<rect x="153.4" y="578.7" width="0.7" height="9.9" fill="#8ab84a" />
<rect x="154.0" y="578.7" width="0.9" height="9.9" fill="#d0c040" />
<rect x="154.8" y="578.7" width="0.8" height="9.9" fill="#d0c040" />
<rect x="155.5" y="578.7" width="0.7" height="9.9" fill="#6a8a3a" />
<path d="M15.5 591.0h1.08v8.28h-1.08zM19.4 591.0h0.88v8.28h-0.88zM20.2 591.0h1.08v8.28h-1.08zM22.0 591.0h1.38v8.28h-1.38zM24.6 591.0h1.38v8.28h-1.38zM27.7 591.0h0.88v8.28h-0.88zM28.5 591.0h0.88v8.28h-0.88zM41.5 591.0h0.68v8.28h-0.68zM42.1 591.0h1.38v8.28h-1.38zM43.4 591.0h1.38v8.28h-1.38zM46.0 591.0h1.08v8.28h-1.08zM21.2 599.2h0.88v8.28h-0.88zM33.9 599.2h0.88v8.28h-0.88zM37.4 599.2h0.68v8.28h-0.68zM38.0 599.2h0.68v8.28h-0.68zM43.4 599.2h1.38v8.28h-1.38zM49.2 599.2h1.08v8.28h-1.08zM19.4 607.5h0.88v8.28h-0.88zM22.0 607.5h1.38v8.28h-1.38zM36.8 607.5h0.68v8.28h-0.68zM41.5 607.5h0.68v8.28h-0.68zM42.1 607.5h1.38v8.28h-1.38zM16.5 615.7h1.38v8.28h-1.38zM18.8 615.7h0.68v8.28h-0.68zM19.4 615.7h0.88v8.28h-0.88zM20.2 615.7h1.08v8.28h-1.08zM22.0 615.7h1.38v8.28h-1.38zM28.5 615.7h0.88v8.28h-0.88zM33.9 615.7h0.88v8.28h-0.88zM38.0 615.7h0.68v8.28h-0.68zM47.0 615.7h0.68v8.28h-0.68zM16.5 623.9h1.38v8.28h-1.38zM20.2 623.9h1.08v8.28h-1.08zM24.6 623.9h1.38v8.28h-1.38zM34.7 623.9h0.88v8.28h-0.88zM38.6 623.9h0.88v8.28h-0.88zM40.2 623.9h1.38v8.28h-1.38zM49.2 623.9h1.08v8.28h-1.08zM50.2 623.9h0.28v8.28h-0.28zM15.5 632.1h1.08v8.28h-1.08zM21.2 632.1h0.88v8.28h-0.88zM32.9 632.1h1.08v8.28h-1.08zM33.9 632.1h0.88v8.28h-0.88zM34.7 632.1h0.88v8.28h-0.88zM35.5 632.1h1.38v8.28h-1.38zM40.2 632.1h1.38v8.28h-1.38zM43.4 632.1h1.38v8.28h-1.38zM46.0 632.1h1.08v8.28h-1.08zM47.0 632.1h0.68v8.28h-0.68zM47.6 632.1h0.68v8.28h-0.68zM20.2 640.4h1.08v8.28h-1.08zM25.9 640.4h0.88v8.28h-0.88zM33.9 640.4h0.88v8.28h-0.88zM34.7 640.4h0.88v8.28h-0.88zM43.4 640.4h1.38v8.28h-1.38zM50.2 640.4h0.28v8.28h-0.28zM22.0 648.6h1.38v8.28h-1.38zM34.7 648.6h0.88v8.28h-0.88zM43.4 648.6h1.38v8.28h-1.38zM46.0 648.6h1.08v8.28h-1.08zM48.2 648.6h1.08v8.28h-1.08zM27.7 656.8h0.88v8.28h-0.88zM29.3 656.8h1.08v8.28h-1.08zM32.9 656.8h1.08v8.28h-1.08zM38.0 656.8h0.68v8.28h-0.68zM43.4 656.8h1.38v8.28h-1.38zM47.6 656.8h0.68v8.28h-0.68zM50.2 656.8h0.28v8.28h-0.28zM16.5 665.0h1.38v8.28h-1.38zM18.8 665.0h0.68v8.28h-0.68zM19.4 665.0h0.88v8.28h-0.88zM21.2 665.0h0.88v8.28h-0.88zM26.7 665.0h1.08v8.28h-1.08zM31.6 665.0h1.38v8.28h-1.38zM33.9 665.0h0.88v8.28h-0.88zM36.8 665.0h0.68v8.28h-0.68zM41.5 665.0h0.68v8.28h-0.68zM49.2 665.0h1.08v8.28h-1.08zM16.5 673.3h1.38v8.28h-1.38zM26.7 673.3h1.08v8.28h-1.08zM29.3 673.3h1.08v8.28h-1.08zM33.9 673.3h0.88v8.28h-0.88zM38.6 673.3h0.88v8.28h-0.88zM48.2 673.3h1.08v8.28h-1.08zM22.0 681.5h1.38v8.28h-1.38zM39.4 681.5h0.88v8.28h-0.88zM50.2 681.5h0.28v8.28h-0.28zM16.5 689.7h1.38v8.28h-1.38zM18.8 689.7h0.68v8.28h-0.68zM26.7 689.7h1.08v8.28h-1.08zM27.7 689.7h0.88v8.28h-0.88zM30.3 689.7h1.38v8.28h-1.38zM41.5 689.7h0.68v8.28h-0.68zM17.8 698.0h1.08v8.28h-1.08zM18.8 698.0h0.68v8.28h-0.68zM20.2 698.0h1.08v8.28h-1.08zM21.2 698.0h0.88v8.28h-0.88zM24.6 698.0h1.38v8.28h-1.38zM28.5 698.0h0.88v8.28h-0.88zM29.3 698.0h1.08v8.28h-1.08zM31.6 698.0h1.38v8.28h-1.38zM38.6 698.0h0.88v8.28h-0.88zM43.4 698.0h1.38v8.28h-1.38zM46.0 698.0h1.08v8.28h-1.08zM47.0 698.0h0.68v8.28h-0.68zM49.2 698.0h1.08v8.28h-1.08zM15.5 706.2h1.08v8.28h-1.08zM17.8 706.2h1.08v8.28h-1.08zM19.4 706.2h0.88v8.28h-0.88zM35.5 706.2h1.38v8.28h-1.38zM40.2 706.2h1.38v8.28h-1.38zM41.5 706.2h0.68v8.28h-0.68zM19.4 714.4h0.88v8.28h-0.88zM21.2 714.4h0.88v8.28h-0.88zM26.7 714.4h1.08v8.28h-1.08zM34.7 714.4h0.88v8.28h-0.88zM39.4 714.4h0.88v8.28h-0.88zM50.2 714.4h0.28v8.28h-0.28zM29.3 722.6h1.08v8.28h-1.08zM33.9 722.6h0.88v8.28h-0.88zM42.1 722.6h1.38v8.28h-1.38zM43.4 722.6h1.38v8.28h-1.38zM32.9 730.9h1.08v8.28h-1.08zM41.5 730.9h0.68v8.28h-0.68zM48.2 730.9h1.08v8.28h-1.08zM15.5 739.1h1.08v8.28h-1.08zM20.2 739.1h1.08v8.28h-1.08zM21.2 739.1h0.88v8.28h-0.88zM27.7 739.1h0.88v8.28h-0.88zM33.9 739.1h0.88v8.28h-0.88zM50.2 739.1h0.28v8.28h-0.28zM15.5 747.3h1.08v8.28h-1.08zM21.2 747.3h0.88v8.28h-0.88zM26.7 747.3h1.08v8.28h-1.08zM33.9 747.3h0.88v8.28h-0.88zM22.0 755.5h1.38v8.28h-1.38zM39.4 755.5h0.88v8.28h-0.88zM47.6 755.5h0.68v8.28h-0.68zM15.5 763.8h1.08v8.28h-1.08zM26.7 763.8h1.08v8.28h-1.08zM41.5 763.8h0.68v8.28h-0.68zM42.1 763.8h1.38v8.28h-1.38zM57.2 591.0h1.38v8.28h-1.38zM66.1 591.0h0.68v8.28h-0.68zM66.7 591.0h1.08v8.28h-1.08zM69.3 591.0h1.08v8.28h-1.08zM70.3 591.0h0.88v8.28h-0.88zM77.3 591.0h0.68v8.28h-0.68zM55.2 599.2h0.68v8.28h-0.68zM65.1 599.2h1.08v8.28h-1.08zM80.6 599.2h0.88v8.28h-0.88zM69.3 607.5h1.08v8.28h-1.08zM78.7 607.5h1.38v8.28h-1.38zM84.7 607.5h1.08v8.28h-1.08zM52.7 615.7h0.68v8.28h-0.68zM56.4 615.7h0.88v8.28h-0.88zM57.2 615.7h1.38v8.28h-1.38zM62.5 615.7h0.88v8.28h-0.88zM77.3 615.7h0.68v8.28h-0.68zM78.7 615.7h1.38v8.28h-1.38zM83.5 615.7h0.68v8.28h-0.68zM52.1 623.9h0.68v8.28h-0.68zM71.1 623.9h0.68v8.28h-0.68zM82.2 623.9h1.38v8.28h-1.38zM83.5 623.9h0.68v8.28h-0.68zM62.5 632.1h0.88v8.28h-0.88zM70.3 632.1h0.88v8.28h-0.88zM83.5 632.1h0.68v8.28h-0.68zM84.1 632.1h0.68v8.28h-0.68zM65.1 640.4h1.08v8.28h-1.08zM66.1 640.4h0.68v8.28h-0.68zM70.3 640.4h0.88v8.28h-0.88zM76.7 640.4h0.68v8.28h-0.68zM87.6 640.4h0.48v8.28h-0.48zM55.8 648.6h0.68v8.28h-0.68zM80.6 648.6h0.88v8.28h-0.88zM84.1 648.6h0.68v8.28h-0.68zM62.5 656.8h0.88v8.28h-0.88zM68.7 656.8h0.68v8.28h-0.68zM74.0 656.8h0.88v8.28h-0.88zM77.3 656.8h0.68v8.28h-0.68zM82.2 656.8h1.38v8.28h-1.38zM84.7 656.8h1.08v8.28h-1.08zM77.3 665.0h0.68v8.28h-0.68zM84.7 665.0h1.08v8.28h-1.08zM52.1 673.3h0.68v8.28h-0.68zM62.5 673.3h0.88v8.28h-0.88zM70.3 673.3h0.88v8.28h-0.88zM56.4 681.5h0.88v8.28h-0.88zM66.7 681.5h1.08v8.28h-1.08zM67.7 681.5h1.08v8.28h-1.08zM84.1 681.5h0.68v8.28h-0.68zM86.3 681.5h1.38v8.28h-1.38zM68.7 689.7h0.68v8.28h-0.68zM77.3 689.7h0.68v8.28h-0.68zM84.1 689.7h0.68v8.28h-0.68zM84.7 689.7h1.08v8.28h-1.08zM66.7 698.0h1.08v8.28h-1.08zM76.7 698.0h0.68v8.28h-0.68zM82.2 698.0h1.38v8.28h-1.38zM70.3 706.2h0.88v8.28h-0.88zM71.1 706.2h0.68v8.28h-0.68zM82.2 706.2h1.38v8.28h-1.38zM86.3 706.2h1.38v8.28h-1.38zM87.6 706.2h0.48v8.28h-0.48zM86.3 714.4h1.38v8.28h-1.38zM87.6 714.4h0.48v8.28h-0.48zM77.9 722.6h0.88v8.28h-0.88zM78.7 722.6h1.38v8.28h-1.38zM82.2 722.6h1.38v8.28h-1.38zM86.3 722.6h1.38v8.28h-1.38zM65.1 730.9h1.08v8.28h-1.08zM71.1 730.9h0.68v8.28h-0.68zM57.2 739.1h1.38v8.28h-1.38zM74.8 739.1h1.38v8.28h-1.38zM60.4 747.3h1.38v8.28h-1.38zM80.6 747.3h0.88v8.28h-0.88zM60.4 755.5h1.38v8.28h-1.38zM76.1 755.5h0.68v8.28h-0.68zM78.7 755.5h1.38v8.28h-1.38zM80.6 755.5h0.88v8.28h-0.88zM61.7 763.8h0.88v8.28h-0.88zM62.5 763.8h0.88v8.28h-0.88zM68.7 763.8h0.68v8.28h-0.68zM74.8 763.8h1.38v8.28h-1.38zM92.6 591.0h0.68v8.28h-0.68zM109.2 591.0h1.08v8.28h-1.08zM117.1 591.0h0.88v8.28h-0.88zM119.2 591.0h0.88v8.28h-0.88zM120.6 591.0h1.08v8.28h-1.08zM90.8 599.2h1.08v8.28h-1.08zM92.6 599.2h0.68v8.28h-0.68zM97.1 599.2h0.88v8.28h-0.88zM97.9 599.2h0.68v8.28h-0.68zM98.5 599.2h1.08v8.28h-1.08zM100.1 599.2h1.08v8.28h-1.08zM101.1 599.2h1.38v8.28h-1.38zM105.4 599.2h1.08v8.28h-1.08zM115.3 599.2h0.88v8.28h-0.88zM120.6 599.2h1.08v8.28h-1.08zM123.0 599.2h0.88v8.28h-0.88zM110.8 607.5h0.68v8.28h-0.68zM111.4 607.5h0.88v8.28h-0.88zM119.2 607.5h0.88v8.28h-0.88zM90.8 615.7h1.08v8.28h-1.08zM98.5 615.7h1.08v8.28h-1.08zM103.8 615.7h0.68v8.28h-0.68zM108.2 615.7h1.08v8.28h-1.08zM111.4 615.7h0.88v8.28h-0.88zM114.3 615.7h1.08v8.28h-1.08zM117.1 615.7h0.88v8.28h-0.88zM92.6 623.9h0.68v8.28h-0.68zM103.8 623.9h0.68v8.28h-0.68zM110.2 623.9h0.68v8.28h-0.68zM120.6 623.9h1.08v8.28h-1.08zM95.2 632.1h0.68v8.28h-0.68zM102.4 632.1h0.68v8.28h-0.68zM105.4 632.1h1.08v8.28h-1.08zM106.4 632.1h0.88v8.28h-0.88zM113.0 632.1h1.38v8.28h-1.38zM115.3 632.1h0.88v8.28h-0.88zM122.2 632.1h0.88v8.28h-0.88zM91.8 640.4h0.88v8.28h-0.88zM95.8 640.4h1.38v8.28h-1.38zM107.2 640.4h1.08v8.28h-1.08zM114.3 640.4h1.08v8.28h-1.08zM123.0 640.4h0.88v8.28h-0.88zM92.6 648.6h0.68v8.28h-0.68zM95.2 648.6h0.68v8.28h-0.68zM99.5 648.6h0.68v8.28h-0.68zM106.4 648.6h0.88v8.28h-0.88zM110.8 648.6h0.68v8.28h-0.68zM121.6 648.6h0.68v8.28h-0.68zM123.0 648.6h0.88v8.28h-0.88zM89.8 656.8h1.08v8.28h-1.08zM95.2 656.8h0.68v8.28h-0.68zM99.5 656.8h0.68v8.28h-0.68zM110.2 656.8h0.68v8.28h-0.68zM114.3 656.8h1.08v8.28h-1.08zM115.3 656.8h0.88v8.28h-0.88zM116.1 656.8h1.08v8.28h-1.08zM120.0 656.8h0.68v8.28h-0.68zM123.0 656.8h0.88v8.28h-0.88zM92.6 665.0h0.68v8.28h-0.68zM94.2 665.0h1.08v8.28h-1.08zM115.3 665.0h0.88v8.28h-0.88zM89.8 673.3h1.08v8.28h-1.08zM98.5 673.3h1.08v8.28h-1.08zM102.4 673.3h0.68v8.28h-0.68zM121.6 673.3h0.68v8.28h-0.68zM89.8 681.5h1.08v8.28h-1.08zM90.8 681.5h1.08v8.28h-1.08zM99.5 681.5h0.68v8.28h-0.68zM116.1 681.5h1.08v8.28h-1.08zM121.6 681.5h0.68v8.28h-0.68zM99.5 689.7h0.68v8.28h-0.68zM100.1 689.7h1.08v8.28h-1.08zM112.2 689.7h0.88v8.28h-0.88zM116.1 689.7h1.08v8.28h-1.08zM117.1 689.7h0.88v8.28h-0.88zM90.8 698.0h1.08v8.28h-1.08zM92.6 698.0h0.68v8.28h-0.68zM94.2 698.0h1.08v8.28h-1.08zM98.5 698.0h1.08v8.28h-1.08zM99.5 698.0h0.68v8.28h-0.68zM110.8 698.0h0.68v8.28h-0.68zM112.2 698.0h0.88v8.28h-0.88zM117.9 698.0h1.38v8.28h-1.38zM90.8 706.2h1.08v8.28h-1.08zM92.6 706.2h0.68v8.28h-0.68zM94.2 706.2h1.08v8.28h-1.08zM95.2 706.2h0.68v8.28h-0.68zM95.8 706.2h1.38v8.28h-1.38zM98.5 706.2h1.08v8.28h-1.08zM103.8 706.2h0.68v8.28h-0.68zM109.2 706.2h1.08v8.28h-1.08zM115.3 706.2h0.88v8.28h-0.88zM119.2 706.2h0.88v8.28h-0.88zM91.8 714.4h0.88v8.28h-0.88zM93.2 714.4h1.08v8.28h-1.08zM94.2 714.4h1.08v8.28h-1.08zM97.1 714.4h0.88v8.28h-0.88zM110.8 714.4h0.68v8.28h-0.68zM113.0 714.4h1.38v8.28h-1.38zM120.6 714.4h1.08v8.28h-1.08zM121.6 714.4h0.68v8.28h-0.68zM94.2 722.6h1.08v8.28h-1.08zM109.2 722.6h1.08v8.28h-1.08zM116.1 722.6h1.08v8.28h-1.08zM117.1 722.6h0.88v8.28h-0.88zM117.9 722.6h1.38v8.28h-1.38zM120.0 722.6h0.68v8.28h-0.68zM121.6 722.6h0.68v8.28h-0.68zM95.2 730.9h0.68v8.28h-0.68zM99.5 730.9h0.68v8.28h-0.68zM110.8 730.9h0.68v8.28h-0.68zM102.4 739.1h0.68v8.28h-0.68zM103.8 739.1h0.68v8.28h-0.68zM105.4 739.1h1.08v8.28h-1.08zM109.2 739.1h1.08v8.28h-1.08zM110.8 739.1h0.68v8.28h-0.68zM117.9 739.1h1.38v8.28h-1.38zM92.6 747.3h0.68v8.28h-0.68zM93.2 747.3h1.08v8.28h-1.08zM100.1 747.3h1.08v8.28h-1.08zM105.4 747.3h1.08v8.28h-1.08zM110.8 747.3h0.68v8.28h-0.68zM111.4 747.3h0.88v8.28h-0.88zM113.0 747.3h1.38v8.28h-1.38zM119.2 747.3h0.88v8.28h-0.88zM121.6 747.3h0.68v8.28h-0.68zM102.4 755.5h0.68v8.28h-0.68zM111.4 755.5h0.88v8.28h-0.88zM113.0 755.5h1.38v8.28h-1.38zM117.1 755.5h0.88v8.28h-0.88zM122.2 755.5h0.88v8.28h-0.88zM92.6 763.8h0.68v8.28h-0.68zM95.2 763.8h0.68v8.28h-0.68zM103.0 763.8h0.88v8.28h-0.88zM104.4 763.8h1.08v8.28h-1.08zM106.4 763.8h0.88v8.28h-0.88zM111.4 763.8h0.88v8.28h-0.88zM112.2 763.8h0.88v8.28h-0.88zM113.0 763.8h1.38v8.28h-1.38zM115.3 763.8h0.88v8.28h-0.88zM116.1 763.8h1.08v8.28h-1.08zM121.6 763.8h0.68v8.28h-0.68zM127.1 591.0h0.68v8.28h-0.68zM131.6 591.0h0.88v8.28h-0.88zM145.2 591.0h0.68v8.28h-0.68zM147.1 591.0h0.68v8.28h-0.68zM151.2 591.0h1.38v8.28h-1.38zM127.1 599.2h0.68v8.28h-0.68zM129.5 599.2h1.38v8.28h-1.38zM133.2 599.2h0.68v8.28h-0.68zM135.4 599.2h1.38v8.28h-1.38zM138.0 599.2h1.38v8.28h-1.38zM145.8 599.2h1.38v8.28h-1.38zM147.1 599.2h0.68v8.28h-0.68zM148.3 599.2h1.38v8.28h-1.38zM150.4 599.2h0.88v8.28h-0.88zM125.8 607.5h1.38v8.28h-1.38zM128.7 607.5h0.88v8.28h-0.88zM132.4 607.5h0.88v8.28h-0.88zM133.8 607.5h0.68v8.28h-0.68zM145.8 607.5h1.38v8.28h-1.38zM130.8 615.7h0.88v8.28h-0.88zM135.4 615.7h1.38v8.28h-1.38zM136.7 615.7h1.38v8.28h-1.38zM145.8 615.7h1.38v8.28h-1.38zM147.1 615.7h0.68v8.28h-0.68zM150.4 615.7h0.88v8.28h-0.88zM127.1 648.6h0.68v8.28h-0.68zM131.6 648.6h0.88v8.28h-0.88zM132.4 648.6h0.88v8.28h-0.88zM133.2 648.6h0.68v8.28h-0.68zM145.2 648.6h0.68v8.28h-0.68zM145.8 648.6h1.38v8.28h-1.38zM150.4 648.6h0.88v8.28h-0.88zM153.5 648.6h1.08v8.28h-1.08zM136.7 656.8h1.38v8.28h-1.38zM152.5 656.8h1.08v8.28h-1.08zM155.8 656.8h0.48v8.28h-0.48zM132.4 665.0h0.88v8.28h-0.88zM138.0 665.0h1.38v8.28h-1.38zM147.1 665.0h0.68v8.28h-0.68zM147.7 665.0h0.68v8.28h-0.68zM151.2 665.0h1.38v8.28h-1.38zM155.8 665.0h0.48v8.28h-0.48zM136.7 673.3h1.38v8.28h-1.38zM142.9 673.3h1.38v8.28h-1.38zM147.1 673.3h0.68v8.28h-0.68zM149.6 673.3h0.88v8.28h-0.88zM127.1 681.5h0.68v8.28h-0.68zM134.4 681.5h1.08v8.28h-1.08zM142.9 681.5h1.38v8.28h-1.38zM145.8 681.5h1.38v8.28h-1.38zM147.1 681.5h0.68v8.28h-0.68zM153.5 681.5h1.08v8.28h-1.08zM154.5 681.5h1.38v8.28h-1.38zM136.7 689.7h1.38v8.28h-1.38zM138.0 689.7h1.38v8.28h-1.38zM155.8 689.7h0.48v8.28h-0.48zM127.1 698.0h0.68v8.28h-0.68zM139.3 698.0h1.38v8.28h-1.38zM145.2 698.0h0.68v8.28h-0.68zM147.1 698.0h0.68v8.28h-0.68zM155.8 698.0h0.48v8.28h-0.48zM130.8 706.2h0.88v8.28h-0.88zM136.7 706.2h1.38v8.28h-1.38zM144.2 706.2h1.08v8.28h-1.08zM145.8 706.2h1.38v8.28h-1.38zM125.8 714.4h1.38v8.28h-1.38zM127.1 714.4h0.68v8.28h-0.68zM132.4 714.4h0.88v8.28h-0.88zM134.4 714.4h1.08v8.28h-1.08zM136.7 714.4h1.38v8.28h-1.38zM149.6 714.4h0.88v8.28h-0.88zM135.4 722.6h1.38v8.28h-1.38zM142.9 722.6h1.38v8.28h-1.38zM147.1 722.6h0.68v8.28h-0.68zM152.5 722.6h1.08v8.28h-1.08zM155.8 722.6h0.48v8.28h-0.48zM127.1 730.9h0.68v8.28h-0.68zM138.0 730.9h1.38v8.28h-1.38zM150.4 730.9h0.88v8.28h-0.88zM151.2 730.9h1.38v8.28h-1.38zM154.5 730.9h1.38v8.28h-1.38zM134.4 739.1h1.08v8.28h-1.08zM136.7 739.1h1.38v8.28h-1.38zM138.0 739.1h1.38v8.28h-1.38zM145.8 739.1h1.38v8.28h-1.38zM154.5 739.1h1.38v8.28h-1.38zM148.3 747.3h1.38v8.28h-1.38zM147.7 755.5h0.68v8.28h-0.68zM129.5 763.8h1.38v8.28h-1.38zM136.7 763.8h1.38v8.28h-1.38zM154.5 763.8h1.38v8.28h-1.38z" fill="#260e48"/>
<path d="M16.5 591.0h1.38v8.28h-1.38zM34.7 599.2h0.88v8.28h-0.88zM24.6 607.5h1.38v8.28h-1.38zM32.9 607.5h1.08v8.28h-1.08zM46.0 615.7h1.08v8.28h-1.08zM15.5 623.9h1.08v8.28h-1.08zM42.1 623.9h1.38v8.28h-1.38zM27.7 632.1h0.88v8.28h-0.88zM42.1 632.1h1.38v8.28h-1.38zM24.6 640.4h1.38v8.28h-1.38zM28.5 648.6h0.88v8.28h-0.88zM35.5 648.6h1.38v8.28h-1.38zM38.0 648.6h0.68v8.28h-0.68zM47.6 648.6h0.68v8.28h-0.68zM18.8 656.8h0.68v8.28h-0.68zM21.2 656.8h0.88v8.28h-0.88zM42.1 673.3h1.38v8.28h-1.38zM46.0 673.3h1.08v8.28h-1.08zM42.1 681.5h1.38v8.28h-1.38zM23.3 698.0h1.38v8.28h-1.38zM32.9 698.0h1.08v8.28h-1.08zM18.8 714.4h0.68v8.28h-0.68zM36.8 714.4h0.68v8.28h-0.68zM37.4 722.6h0.68v8.28h-0.68zM38.6 730.9h0.88v8.28h-0.88zM40.2 730.9h1.38v8.28h-1.38zM26.7 739.1h1.08v8.28h-1.08zM29.3 739.1h1.08v8.28h-1.08zM26.7 755.5h1.08v8.28h-1.08zM76.7 591.0h0.68v8.28h-0.68zM66.7 607.5h1.08v8.28h-1.08zM52.1 615.7h0.68v8.28h-0.68zM74.0 615.7h0.88v8.28h-0.88zM59.8 623.9h0.68v8.28h-0.68zM55.8 632.1h0.68v8.28h-0.68zM60.4 632.1h1.38v8.28h-1.38zM69.3 632.1h1.08v8.28h-1.08zM68.7 640.4h0.68v8.28h-0.68zM69.3 656.8h1.08v8.28h-1.08zM71.1 656.8h0.68v8.28h-0.68zM67.7 665.0h1.08v8.28h-1.08zM66.7 673.3h1.08v8.28h-1.08zM77.3 673.3h0.68v8.28h-0.68zM62.5 698.0h0.88v8.28h-0.88zM70.3 698.0h0.88v8.28h-0.88zM66.7 714.4h1.08v8.28h-1.08zM60.4 722.6h1.38v8.28h-1.38zM62.5 722.6h0.88v8.28h-0.88zM76.7 739.1h0.68v8.28h-0.68zM76.1 747.3h0.68v8.28h-0.68zM62.5 755.5h0.88v8.28h-0.88zM80.6 763.8h0.88v8.28h-0.88zM105.4 591.0h1.08v8.28h-1.08zM114.3 591.0h1.08v8.28h-1.08zM120.0 591.0h0.68v8.28h-0.68zM107.2 599.2h1.08v8.28h-1.08zM121.6 599.2h0.68v8.28h-0.68zM105.4 615.7h1.08v8.28h-1.08zM117.9 623.9h1.38v8.28h-1.38zM91.8 632.1h0.88v8.28h-0.88zM106.4 640.4h0.88v8.28h-0.88zM120.0 648.6h0.68v8.28h-0.68zM91.8 665.0h0.88v8.28h-0.88zM102.4 665.0h0.68v8.28h-0.68zM103.8 665.0h0.68v8.28h-0.68zM104.4 673.3h1.08v8.28h-1.08zM114.3 681.5h1.08v8.28h-1.08zM89.8 698.0h1.08v8.28h-1.08zM93.2 706.2h1.08v8.28h-1.08zM123.0 706.2h0.88v8.28h-0.88zM97.9 714.4h0.68v8.28h-0.68zM102.4 722.6h0.68v8.28h-0.68zM90.8 747.3h1.08v8.28h-1.08zM95.8 747.3h1.38v8.28h-1.38zM93.2 755.5h1.08v8.28h-1.08zM94.2 755.5h1.08v8.28h-1.08zM115.3 755.5h0.88v8.28h-0.88zM108.2 763.8h1.08v8.28h-1.08zM120.0 763.8h0.68v8.28h-0.68zM147.7 591.0h0.68v8.28h-0.68zM152.5 591.0h1.08v8.28h-1.08zM147.7 599.2h0.68v8.28h-0.68zM151.2 599.2h1.38v8.28h-1.38zM148.3 607.5h1.38v8.28h-1.38zM147.7 623.9h0.68v8.28h-0.68zM147.1 632.1h0.68v8.28h-0.68zM133.2 656.8h0.68v8.28h-0.68zM134.4 689.7h1.08v8.28h-1.08zM147.1 689.7h0.68v8.28h-0.68zM134.4 698.0h1.08v8.28h-1.08zM133.2 706.2h0.68v8.28h-0.68zM138.0 706.2h1.38v8.28h-1.38zM145.8 714.4h1.38v8.28h-1.38zM154.5 714.4h1.38v8.28h-1.38zM132.4 722.6h0.88v8.28h-0.88zM145.8 722.6h1.38v8.28h-1.38zM145.2 730.9h0.68v8.28h-0.68zM136.7 747.3h1.38v8.28h-1.38zM147.1 755.5h0.68v8.28h-0.68zM128.7 763.8h0.88v8.28h-0.88zM145.8 763.8h1.38v8.28h-1.38z" fill="#2a104c"/>
<path d="M17.8 591.0h1.08v8.28h-1.08zM25.9 591.0h0.88v8.28h-0.88zM29.3 591.0h1.08v8.28h-1.08zM36.8 591.0h0.68v8.28h-0.68zM38.6 591.0h0.88v8.28h-0.88zM50.2 591.0h0.28v8.28h-0.28zM15.5 599.2h1.08v8.28h-1.08zM28.5 599.2h0.88v8.28h-0.88zM31.6 599.2h1.38v8.28h-1.38zM25.9 607.5h0.88v8.28h-0.88zM28.5 607.5h0.88v8.28h-0.88zM35.5 607.5h1.38v8.28h-1.38zM44.7 607.5h1.38v8.28h-1.38zM21.2 615.7h0.88v8.28h-0.88zM32.9 615.7h1.08v8.28h-1.08zM41.5 615.7h0.68v8.28h-0.68zM27.7 623.9h0.88v8.28h-0.88zM35.5 623.9h1.38v8.28h-1.38zM38.0 623.9h0.68v8.28h-0.68zM41.5 623.9h0.68v8.28h-0.68zM47.6 623.9h0.68v8.28h-0.68zM44.7 632.1h1.38v8.28h-1.38zM49.2 632.1h1.08v8.28h-1.08zM15.5 640.4h1.08v8.28h-1.08zM19.4 640.4h0.88v8.28h-0.88zM40.2 640.4h1.38v8.28h-1.38zM46.0 640.4h1.08v8.28h-1.08zM20.2 648.6h1.08v8.28h-1.08zM26.7 648.6h1.08v8.28h-1.08zM39.4 648.6h0.88v8.28h-0.88zM40.2 648.6h1.38v8.28h-1.38zM49.2 648.6h1.08v8.28h-1.08zM50.2 648.6h0.28v8.28h-0.28zM31.6 656.8h1.38v8.28h-1.38zM41.5 656.8h0.68v8.28h-0.68zM46.0 656.8h1.08v8.28h-1.08zM47.0 656.8h0.68v8.28h-0.68zM27.7 665.0h0.88v8.28h-0.88zM46.0 665.0h1.08v8.28h-1.08zM27.7 673.3h0.88v8.28h-0.88zM50.2 673.3h0.28v8.28h-0.28zM20.2 681.5h1.08v8.28h-1.08zM34.7 681.5h0.88v8.28h-0.88zM36.8 681.5h0.68v8.28h-0.68zM19.4 689.7h0.88v8.28h-0.88zM21.2 689.7h0.88v8.28h-0.88zM24.6 689.7h1.38v8.28h-1.38zM49.2 689.7h1.08v8.28h-1.08zM15.5 698.0h1.08v8.28h-1.08zM19.4 698.0h0.88v8.28h-0.88zM20.2 706.2h1.08v8.28h-1.08zM27.7 706.2h0.88v8.28h-0.88zM28.5 706.2h0.88v8.28h-0.88zM36.8 706.2h0.68v8.28h-0.68zM44.7 706.2h1.38v8.28h-1.38zM17.8 714.4h1.08v8.28h-1.08zM20.2 714.4h1.08v8.28h-1.08zM22.0 722.6h1.38v8.28h-1.38zM49.2 722.6h1.08v8.28h-1.08zM18.8 730.9h0.68v8.28h-0.68zM20.2 730.9h1.08v8.28h-1.08zM25.9 730.9h0.88v8.28h-0.88zM26.7 730.9h1.08v8.28h-1.08zM29.3 730.9h1.08v8.28h-1.08zM33.9 730.9h0.88v8.28h-0.88zM43.4 730.9h1.38v8.28h-1.38zM38.0 739.1h0.68v8.28h-0.68zM44.7 739.1h1.38v8.28h-1.38zM22.0 747.3h1.38v8.28h-1.38zM32.9 747.3h1.08v8.28h-1.08zM35.5 747.3h1.38v8.28h-1.38zM42.1 747.3h1.38v8.28h-1.38zM19.4 755.5h0.88v8.28h-0.88zM20.2 755.5h1.08v8.28h-1.08zM23.3 755.5h1.38v8.28h-1.38zM33.9 755.5h0.88v8.28h-0.88zM38.6 755.5h0.88v8.28h-0.88zM50.2 755.5h0.28v8.28h-0.28zM22.0 763.8h1.38v8.28h-1.38zM25.9 763.8h0.88v8.28h-0.88zM27.7 763.8h0.88v8.28h-0.88zM34.7 763.8h0.88v8.28h-0.88zM38.6 763.8h0.88v8.28h-0.88zM39.4 763.8h0.88v8.28h-0.88zM46.0 763.8h1.08v8.28h-1.08zM48.2 763.8h1.08v8.28h-1.08zM70.3 599.2h0.88v8.28h-0.88zM62.5 607.5h0.88v8.28h-0.88zM66.1 607.5h0.68v8.28h-0.68zM68.7 607.5h0.68v8.28h-0.68zM76.1 607.5h0.68v8.28h-0.68zM69.3 615.7h1.08v8.28h-1.08zM70.3 615.7h0.88v8.28h-0.88zM86.3 615.7h1.38v8.28h-1.38zM60.4 623.9h1.38v8.28h-1.38zM61.7 623.9h0.88v8.28h-0.88zM62.5 623.9h0.88v8.28h-0.88zM66.7 623.9h1.08v8.28h-1.08zM67.7 623.9h1.08v8.28h-1.08zM76.7 623.9h0.68v8.28h-0.68zM77.3 640.4h0.68v8.28h-0.68zM80.6 640.4h0.88v8.28h-0.88zM83.5 640.4h0.68v8.28h-0.68zM86.3 640.4h1.38v8.28h-1.38zM60.4 648.6h1.38v8.28h-1.38zM61.7 648.6h0.88v8.28h-0.88zM84.7 648.6h1.08v8.28h-1.08zM53.3 656.8h0.68v8.28h-0.68zM61.7 665.0h0.88v8.28h-0.88zM74.0 665.0h0.88v8.28h-0.88zM84.1 673.3h0.68v8.28h-0.68zM60.4 681.5h1.38v8.28h-1.38zM66.1 681.5h0.68v8.28h-0.68zM70.3 681.5h0.88v8.28h-0.88zM80.6 681.5h0.88v8.28h-0.88zM52.1 689.7h0.68v8.28h-0.68zM60.4 689.7h1.38v8.28h-1.38zM66.7 689.7h1.08v8.28h-1.08zM71.7 689.7h1.38v8.28h-1.38zM83.5 689.7h0.68v8.28h-0.68zM57.2 706.2h1.38v8.28h-1.38zM60.4 706.2h1.38v8.28h-1.38zM77.3 706.2h0.68v8.28h-0.68zM83.5 714.4h0.68v8.28h-0.68zM84.7 714.4h1.08v8.28h-1.08zM74.0 722.6h0.88v8.28h-0.88zM69.3 730.9h1.08v8.28h-1.08zM71.7 730.9h1.38v8.28h-1.38zM80.6 730.9h0.88v8.28h-0.88zM53.3 739.1h0.68v8.28h-0.68zM71.1 739.1h0.68v8.28h-0.68zM71.1 747.3h0.68v8.28h-0.68zM52.7 755.5h0.68v8.28h-0.68zM52.7 763.8h0.68v8.28h-0.68zM76.1 763.8h0.68v8.28h-0.68zM83.5 763.8h0.68v8.28h-0.68zM86.3 763.8h1.38v8.28h-1.38zM95.2 591.0h0.68v8.28h-0.68zM97.9 591.0h0.68v8.28h-0.68zM101.1 591.0h1.38v8.28h-1.38zM102.4 591.0h0.68v8.28h-0.68zM108.2 591.0h1.08v8.28h-1.08zM110.2 591.0h0.68v8.28h-0.68zM116.1 591.0h1.08v8.28h-1.08zM110.2 599.2h0.68v8.28h-0.68zM110.8 599.2h0.68v8.28h-0.68zM114.3 599.2h1.08v8.28h-1.08zM91.8 607.5h0.88v8.28h-0.88zM103.0 607.5h0.88v8.28h-0.88zM105.4 607.5h1.08v8.28h-1.08zM112.2 607.5h0.88v8.28h-0.88zM114.3 607.5h1.08v8.28h-1.08zM117.9 607.5h1.38v8.28h-1.38zM120.6 607.5h1.08v8.28h-1.08zM93.2 615.7h1.08v8.28h-1.08zM103.0 615.7h0.88v8.28h-0.88zM110.2 615.7h0.68v8.28h-0.68zM110.8 615.7h0.68v8.28h-0.68zM120.6 615.7h1.08v8.28h-1.08zM99.5 623.9h0.68v8.28h-0.68zM113.0 623.9h1.38v8.28h-1.38zM119.2 623.9h0.88v8.28h-0.88zM122.2 623.9h0.88v8.28h-0.88zM92.6 632.1h0.68v8.28h-0.68zM94.2 632.1h1.08v8.28h-1.08zM98.5 632.1h1.08v8.28h-1.08zM99.5 632.1h0.68v8.28h-0.68zM116.1 632.1h1.08v8.28h-1.08zM103.8 640.4h0.68v8.28h-0.68zM110.8 640.4h0.68v8.28h-0.68zM115.3 640.4h0.88v8.28h-0.88zM117.9 640.4h1.38v8.28h-1.38zM120.6 640.4h1.08v8.28h-1.08zM93.2 648.6h1.08v8.28h-1.08zM97.1 648.6h0.88v8.28h-0.88zM97.9 648.6h0.68v8.28h-0.68zM103.0 648.6h0.88v8.28h-0.88zM109.2 648.6h1.08v8.28h-1.08zM90.8 656.8h1.08v8.28h-1.08zM94.2 656.8h1.08v8.28h-1.08zM100.1 656.8h1.08v8.28h-1.08zM103.0 656.8h0.88v8.28h-0.88zM113.0 656.8h1.38v8.28h-1.38zM122.2 656.8h0.88v8.28h-0.88zM95.2 665.0h0.68v8.28h-0.68zM112.2 665.0h0.88v8.28h-0.88zM119.2 665.0h0.88v8.28h-0.88zM120.6 665.0h1.08v8.28h-1.08zM97.1 673.3h0.88v8.28h-0.88zM99.5 673.3h0.68v8.28h-0.68zM105.4 673.3h1.08v8.28h-1.08zM107.2 673.3h1.08v8.28h-1.08zM111.4 673.3h0.88v8.28h-0.88zM95.2 681.5h0.68v8.28h-0.68zM98.5 681.5h1.08v8.28h-1.08zM105.4 681.5h1.08v8.28h-1.08zM111.4 681.5h0.88v8.28h-0.88zM115.3 681.5h0.88v8.28h-0.88zM119.2 681.5h0.88v8.28h-0.88zM91.8 689.7h0.88v8.28h-0.88zM109.2 689.7h1.08v8.28h-1.08zM114.3 689.7h1.08v8.28h-1.08zM120.6 689.7h1.08v8.28h-1.08zM104.4 698.0h1.08v8.28h-1.08zM107.2 698.0h1.08v8.28h-1.08zM108.2 698.0h1.08v8.28h-1.08zM120.6 698.0h1.08v8.28h-1.08zM121.6 698.0h0.68v8.28h-0.68zM105.4 706.2h1.08v8.28h-1.08zM111.4 714.4h0.88v8.28h-0.88zM123.0 714.4h0.88v8.28h-0.88zM91.8 722.6h0.88v8.28h-0.88zM92.6 722.6h0.68v8.28h-0.68zM108.2 722.6h1.08v8.28h-1.08zM122.2 722.6h0.88v8.28h-0.88zM94.2 730.9h1.08v8.28h-1.08zM105.4 730.9h1.08v8.28h-1.08zM113.0 730.9h1.38v8.28h-1.38zM94.2 739.1h1.08v8.28h-1.08zM111.4 739.1h0.88v8.28h-0.88zM116.1 739.1h1.08v8.28h-1.08zM89.8 747.3h1.08v8.28h-1.08zM95.2 747.3h0.68v8.28h-0.68zM103.0 747.3h0.88v8.28h-0.88zM106.4 747.3h0.88v8.28h-0.88zM108.2 747.3h1.08v8.28h-1.08zM114.3 747.3h1.08v8.28h-1.08zM115.3 747.3h0.88v8.28h-0.88zM123.0 747.3h0.88v8.28h-0.88zM97.9 755.5h0.68v8.28h-0.68zM98.5 755.5h1.08v8.28h-1.08zM103.0 755.5h0.88v8.28h-0.88zM106.4 755.5h0.88v8.28h-0.88zM110.2 755.5h0.68v8.28h-0.68zM110.8 755.5h0.68v8.28h-0.68zM117.9 755.5h1.38v8.28h-1.38zM121.6 755.5h0.68v8.28h-0.68zM123.0 755.5h0.88v8.28h-0.88zM97.9 763.8h0.68v8.28h-0.68zM103.8 763.8h0.68v8.28h-0.68zM105.4 763.8h1.08v8.28h-1.08zM119.2 763.8h0.88v8.28h-0.88zM125.8 591.0h1.38v8.28h-1.38zM132.4 591.0h0.88v8.28h-0.88zM142.9 591.0h1.38v8.28h-1.38zM148.3 591.0h1.38v8.28h-1.38zM125.8 599.2h1.38v8.28h-1.38zM132.4 599.2h0.88v8.28h-0.88zM139.3 599.2h1.38v8.28h-1.38zM127.1 607.5h0.68v8.28h-0.68zM129.5 607.5h1.38v8.28h-1.38zM133.2 607.5h0.68v8.28h-0.68zM135.4 607.5h1.38v8.28h-1.38zM142.9 607.5h1.38v8.28h-1.38zM133.2 615.7h0.68v8.28h-0.68zM125.8 623.9h1.38v8.28h-1.38zM129.5 623.9h1.38v8.28h-1.38zM128.7 632.1h0.88v8.28h-0.88zM129.5 632.1h1.38v8.28h-1.38zM150.4 632.1h0.88v8.28h-0.88zM136.7 640.4h1.38v8.28h-1.38zM151.2 648.6h1.38v8.28h-1.38zM154.5 648.6h1.38v8.28h-1.38zM125.8 656.8h1.38v8.28h-1.38zM145.8 656.8h1.38v8.28h-1.38zM147.7 656.8h0.68v8.28h-0.68zM127.1 665.0h0.68v8.28h-0.68zM136.7 665.0h1.38v8.28h-1.38zM128.7 673.3h0.88v8.28h-0.88zM125.8 681.5h1.38v8.28h-1.38zM135.4 681.5h1.38v8.28h-1.38zM136.7 681.5h1.38v8.28h-1.38zM125.8 689.7h1.38v8.28h-1.38zM131.6 689.7h0.88v8.28h-0.88zM135.4 689.7h1.38v8.28h-1.38zM154.5 689.7h1.38v8.28h-1.38zM130.8 698.0h0.88v8.28h-0.88zM132.4 698.0h0.88v8.28h-0.88zM154.5 698.0h1.38v8.28h-1.38zM133.8 706.2h0.68v8.28h-0.68zM135.4 714.4h1.38v8.28h-1.38zM139.3 722.6h1.38v8.28h-1.38zM151.2 722.6h1.38v8.28h-1.38zM139.3 730.9h1.38v8.28h-1.38zM145.8 730.9h1.38v8.28h-1.38zM153.5 730.9h1.08v8.28h-1.08zM133.8 739.1h0.68v8.28h-0.68zM147.7 739.1h0.68v8.28h-0.68zM155.8 739.1h0.48v8.28h-0.48zM133.8 747.3h0.68v8.28h-0.68zM145.8 747.3h1.38v8.28h-1.38zM127.1 755.5h0.68v8.28h-0.68zM136.7 755.5h1.38v8.28h-1.38zM138.0 755.5h1.38v8.28h-1.38zM145.2 755.5h0.68v8.28h-0.68zM133.8 763.8h0.68v8.28h-0.68zM155.8 763.8h0.48v8.28h-0.48z" fill="#3a1c64"/>
<path d="M18.8 591.0h0.68v8.28h-0.68zM38.6 599.2h0.88v8.28h-0.88zM42.1 599.2h1.38v8.28h-1.38zM34.7 607.5h0.88v8.28h-0.88zM23.3 632.1h1.38v8.28h-1.38zM36.8 632.1h0.68v8.28h-0.68zM26.7 640.4h1.08v8.28h-1.08zM32.9 640.4h1.08v8.28h-1.08zM15.5 648.6h1.08v8.28h-1.08zM16.5 656.8h1.38v8.28h-1.38zM15.5 673.3h1.08v8.28h-1.08zM18.8 673.3h0.68v8.28h-0.68zM23.3 673.3h1.38v8.28h-1.38zM25.9 681.5h0.88v8.28h-0.88zM27.7 722.6h0.88v8.28h-0.88zM38.0 722.6h0.68v8.28h-0.68zM46.0 722.6h1.08v8.28h-1.08zM15.5 730.9h1.08v8.28h-1.08zM19.4 730.9h0.88v8.28h-0.88zM38.0 730.9h0.68v8.28h-0.68zM25.9 755.5h0.88v8.28h-0.88zM30.3 755.5h1.38v8.28h-1.38zM33.9 763.8h0.88v8.28h-0.88zM57.2 599.2h1.38v8.28h-1.38zM67.7 607.5h1.08v8.28h-1.08zM69.3 623.9h1.08v8.28h-1.08zM84.7 632.1h1.08v8.28h-1.08zM84.1 640.4h0.68v8.28h-0.68zM52.1 648.6h0.68v8.28h-0.68zM83.5 648.6h0.68v8.28h-0.68zM86.3 648.6h1.38v8.28h-1.38zM52.1 656.8h0.68v8.28h-0.68zM57.2 656.8h1.38v8.28h-1.38zM76.1 656.8h0.68v8.28h-0.68zM62.5 665.0h0.88v8.28h-0.88zM76.7 665.0h0.68v8.28h-0.68zM60.4 673.3h1.38v8.28h-1.38zM61.7 673.3h0.88v8.28h-0.88zM64.3 673.3h0.88v8.28h-0.88zM69.3 673.3h1.08v8.28h-1.08zM58.5 681.5h1.38v8.28h-1.38zM61.7 698.0h0.88v8.28h-0.88zM68.7 714.4h0.68v8.28h-0.68zM69.3 714.4h1.08v8.28h-1.08zM69.3 722.6h1.08v8.28h-1.08zM62.5 739.1h0.88v8.28h-0.88zM61.7 747.3h0.88v8.28h-0.88zM77.3 747.3h0.68v8.28h-0.68zM77.3 755.5h0.68v8.28h-0.68zM91.8 591.0h0.88v8.28h-0.88zM100.1 591.0h1.08v8.28h-1.08zM122.2 591.0h0.88v8.28h-0.88zM99.5 599.2h0.68v8.28h-0.68zM103.8 599.2h0.68v8.28h-0.68zM109.2 599.2h1.08v8.28h-1.08zM119.2 599.2h0.88v8.28h-0.88zM93.2 607.5h1.08v8.28h-1.08zM106.4 607.5h0.88v8.28h-0.88zM113.0 607.5h1.38v8.28h-1.38zM123.0 607.5h0.88v8.28h-0.88zM102.4 615.7h0.68v8.28h-0.68zM115.3 615.7h0.88v8.28h-0.88zM95.8 632.1h1.38v8.28h-1.38zM98.5 640.4h1.08v8.28h-1.08zM91.8 648.6h0.88v8.28h-0.88zM103.8 648.6h0.68v8.28h-0.68zM109.2 665.0h1.08v8.28h-1.08zM120.0 665.0h0.68v8.28h-0.68zM119.2 673.3h0.88v8.28h-0.88zM123.0 673.3h0.88v8.28h-0.88zM108.2 681.5h1.08v8.28h-1.08zM120.0 689.7h0.68v8.28h-0.68zM95.2 698.0h0.68v8.28h-0.68zM113.0 698.0h1.38v8.28h-1.38zM107.2 706.2h1.08v8.28h-1.08zM99.5 739.1h0.68v8.28h-0.68zM94.2 747.3h1.08v8.28h-1.08zM102.4 747.3h0.68v8.28h-0.68zM100.1 755.5h1.08v8.28h-1.08zM123.0 763.8h0.88v8.28h-0.88zM147.1 607.5h0.68v8.28h-0.68zM142.9 623.9h1.38v8.28h-1.38zM134.4 648.6h1.08v8.28h-1.08zM130.8 673.3h0.88v8.28h-0.88zM135.4 673.3h1.38v8.28h-1.38zM155.8 681.5h0.48v8.28h-0.48zM133.8 689.7h0.68v8.28h-0.68zM133.2 698.0h0.68v8.28h-0.68zM134.4 730.9h1.08v8.28h-1.08zM136.7 730.9h1.38v8.28h-1.38zM147.1 730.9h0.68v8.28h-0.68zM150.4 763.8h0.88v8.28h-0.88z" fill="#46287a"/>
<path d="M21.2 591.0h0.88v8.28h-0.88zM26.7 591.0h1.08v8.28h-1.08zM30.3 591.0h1.38v8.28h-1.38zM32.9 591.0h1.08v8.28h-1.08zM33.9 591.0h0.88v8.28h-0.88zM35.5 591.0h1.38v8.28h-1.38zM37.4 591.0h0.68v8.28h-0.68zM44.7 591.0h1.38v8.28h-1.38zM47.6 591.0h0.68v8.28h-0.68zM17.8 599.2h1.08v8.28h-1.08zM25.9 599.2h0.88v8.28h-0.88zM26.7 599.2h1.08v8.28h-1.08zM32.9 599.2h1.08v8.28h-1.08zM36.8 599.2h0.68v8.28h-0.68zM39.4 599.2h0.88v8.28h-0.88zM50.2 599.2h0.28v8.28h-0.28zM38.6 607.5h0.88v8.28h-0.88zM39.4 607.5h0.88v8.28h-0.88zM40.2 607.5h1.38v8.28h-1.38zM36.8 615.7h0.68v8.28h-0.68zM48.2 615.7h1.08v8.28h-1.08zM18.8 623.9h0.68v8.28h-0.68zM19.4 623.9h0.88v8.28h-0.88zM26.7 623.9h1.08v8.28h-1.08zM46.0 623.9h1.08v8.28h-1.08zM16.5 632.1h1.38v8.28h-1.38zM20.2 632.1h1.08v8.28h-1.08zM26.7 632.1h1.08v8.28h-1.08zM48.2 632.1h1.08v8.28h-1.08zM22.0 640.4h1.38v8.28h-1.38zM41.5 640.4h0.68v8.28h-0.68zM27.7 648.6h0.88v8.28h-0.88zM32.9 648.6h1.08v8.28h-1.08zM44.7 648.6h1.38v8.28h-1.38zM20.2 656.8h1.08v8.28h-1.08zM34.7 656.8h0.88v8.28h-0.88zM17.8 665.0h1.08v8.28h-1.08zM25.9 665.0h0.88v8.28h-0.88zM32.9 665.0h1.08v8.28h-1.08zM37.4 665.0h0.68v8.28h-0.68zM42.1 665.0h1.38v8.28h-1.38zM21.2 673.3h0.88v8.28h-0.88zM22.0 673.3h1.38v8.28h-1.38zM40.2 673.3h1.38v8.28h-1.38zM19.4 681.5h0.88v8.28h-0.88zM35.5 681.5h1.38v8.28h-1.38zM43.4 681.5h1.38v8.28h-1.38zM46.0 681.5h1.08v8.28h-1.08zM33.9 689.7h0.88v8.28h-0.88zM39.4 689.7h0.88v8.28h-0.88zM42.1 689.7h1.38v8.28h-1.38zM48.2 689.7h1.08v8.28h-1.08zM50.2 689.7h0.28v8.28h-0.28zM22.0 698.0h1.38v8.28h-1.38zM33.9 698.0h0.88v8.28h-0.88zM41.5 698.0h0.68v8.28h-0.68zM42.1 698.0h1.38v8.28h-1.38zM24.6 706.2h1.38v8.28h-1.38zM34.7 706.2h0.88v8.28h-0.88zM46.0 706.2h1.08v8.28h-1.08zM16.5 714.4h1.38v8.28h-1.38zM27.7 714.4h0.88v8.28h-0.88zM46.0 714.4h1.08v8.28h-1.08zM47.0 714.4h0.68v8.28h-0.68zM49.2 714.4h1.08v8.28h-1.08zM19.4 722.6h0.88v8.28h-0.88zM40.2 722.6h1.38v8.28h-1.38zM48.2 722.6h1.08v8.28h-1.08zM16.5 730.9h1.38v8.28h-1.38zM46.0 739.1h1.08v8.28h-1.08zM16.5 747.3h1.38v8.28h-1.38zM18.8 747.3h0.68v8.28h-0.68zM20.2 747.3h1.08v8.28h-1.08zM25.9 747.3h0.88v8.28h-0.88zM43.4 747.3h1.38v8.28h-1.38zM48.2 747.3h1.08v8.28h-1.08zM49.2 747.3h1.08v8.28h-1.08zM32.9 755.5h1.08v8.28h-1.08zM34.7 755.5h0.88v8.28h-0.88zM46.0 755.5h1.08v8.28h-1.08zM20.2 763.8h1.08v8.28h-1.08zM47.6 763.8h0.68v8.28h-0.68zM52.7 591.0h0.68v8.28h-0.68zM83.5 591.0h0.68v8.28h-0.68zM77.3 599.2h0.68v8.28h-0.68zM87.6 599.2h0.48v8.28h-0.48zM60.4 607.5h1.38v8.28h-1.38zM76.7 607.5h0.68v8.28h-0.68zM82.2 615.7h1.38v8.28h-1.38zM65.1 623.9h1.08v8.28h-1.08zM52.7 632.1h0.68v8.28h-0.68zM68.7 632.1h0.68v8.28h-0.68zM77.3 632.1h0.68v8.28h-0.68zM60.4 640.4h1.38v8.28h-1.38zM62.5 640.4h0.88v8.28h-0.88zM77.3 648.6h0.68v8.28h-0.68zM66.7 656.8h1.08v8.28h-1.08zM70.3 656.8h0.88v8.28h-0.88zM71.7 656.8h1.38v8.28h-1.38zM76.7 656.8h0.68v8.28h-0.68zM76.7 673.3h0.68v8.28h-0.68zM61.7 681.5h0.88v8.28h-0.88zM76.7 681.5h0.68v8.28h-0.68zM71.1 689.7h0.68v8.28h-0.68zM65.1 698.0h1.08v8.28h-1.08zM84.1 698.0h0.68v8.28h-0.68zM52.7 714.4h0.68v8.28h-0.68zM59.8 714.4h0.68v8.28h-0.68zM52.7 722.6h0.68v8.28h-0.68zM77.3 722.6h0.68v8.28h-0.68zM84.7 722.6h1.08v8.28h-1.08zM77.3 730.9h0.68v8.28h-0.68zM84.7 730.9h1.08v8.28h-1.08zM86.3 730.9h1.38v8.28h-1.38zM84.1 739.1h0.68v8.28h-0.68zM86.3 739.1h1.38v8.28h-1.38zM55.8 747.3h0.68v8.28h-0.68zM57.2 747.3h1.38v8.28h-1.38zM86.3 747.3h1.38v8.28h-1.38zM57.2 755.5h1.38v8.28h-1.38zM61.7 755.5h0.88v8.28h-0.88zM66.7 755.5h1.08v8.28h-1.08zM71.1 755.5h0.68v8.28h-0.68zM69.3 763.8h1.08v8.28h-1.08zM97.1 591.0h0.88v8.28h-0.88zM110.8 591.0h0.68v8.28h-0.68zM123.0 591.0h0.88v8.28h-0.88zM93.2 599.2h1.08v8.28h-1.08zM104.4 599.2h1.08v8.28h-1.08zM112.2 599.2h0.88v8.28h-0.88zM122.2 599.2h0.88v8.28h-0.88zM95.8 607.5h1.38v8.28h-1.38zM98.5 607.5h1.08v8.28h-1.08zM102.4 607.5h0.68v8.28h-0.68zM117.1 607.5h0.88v8.28h-0.88zM120.0 607.5h0.68v8.28h-0.68zM121.6 607.5h0.68v8.28h-0.68zM89.8 615.7h1.08v8.28h-1.08zM97.1 615.7h0.88v8.28h-0.88zM113.0 615.7h1.38v8.28h-1.38zM93.2 623.9h1.08v8.28h-1.08zM94.2 623.9h1.08v8.28h-1.08zM105.4 623.9h1.08v8.28h-1.08zM110.8 623.9h0.68v8.28h-0.68zM116.1 623.9h1.08v8.28h-1.08zM121.6 623.9h0.68v8.28h-0.68zM89.8 632.1h1.08v8.28h-1.08zM111.4 632.1h0.88v8.28h-0.88zM92.6 640.4h0.68v8.28h-0.68zM99.5 640.4h0.68v8.28h-0.68zM100.1 640.4h1.08v8.28h-1.08zM105.4 640.4h1.08v8.28h-1.08zM113.0 640.4h1.38v8.28h-1.38zM116.1 640.4h1.08v8.28h-1.08zM122.2 640.4h0.88v8.28h-0.88zM119.2 648.6h0.88v8.28h-0.88zM120.6 648.6h1.08v8.28h-1.08zM105.4 656.8h1.08v8.28h-1.08zM112.2 656.8h0.88v8.28h-0.88zM117.1 656.8h0.88v8.28h-0.88zM111.4 665.0h0.88v8.28h-0.88zM116.1 665.0h1.08v8.28h-1.08zM115.3 673.3h0.88v8.28h-0.88zM92.6 681.5h0.68v8.28h-0.68zM97.9 681.5h0.68v8.28h-0.68zM120.6 681.5h1.08v8.28h-1.08zM89.8 689.7h1.08v8.28h-1.08zM102.4 689.7h0.68v8.28h-0.68zM105.4 689.7h1.08v8.28h-1.08zM121.6 689.7h0.68v8.28h-0.68zM91.8 698.0h0.88v8.28h-0.88zM95.8 698.0h1.38v8.28h-1.38zM97.9 698.0h0.68v8.28h-0.68zM103.8 698.0h0.68v8.28h-0.68zM99.5 706.2h0.68v8.28h-0.68zM103.0 706.2h0.88v8.28h-0.88zM111.4 706.2h0.88v8.28h-0.88zM95.2 714.4h0.68v8.28h-0.68zM99.5 714.4h0.68v8.28h-0.68zM106.4 714.4h0.88v8.28h-0.88zM104.4 722.6h1.08v8.28h-1.08zM105.4 722.6h1.08v8.28h-1.08zM110.2 722.6h0.68v8.28h-0.68zM115.3 722.6h0.88v8.28h-0.88zM91.8 730.9h0.88v8.28h-0.88zM103.0 730.9h0.88v8.28h-0.88zM91.8 739.1h0.88v8.28h-0.88zM95.2 739.1h0.68v8.28h-0.68zM110.2 739.1h0.68v8.28h-0.68zM113.0 739.1h1.38v8.28h-1.38zM119.2 739.1h0.88v8.28h-0.88zM121.6 739.1h0.68v8.28h-0.68zM91.8 747.3h0.88v8.28h-0.88zM116.1 747.3h1.08v8.28h-1.08zM120.0 747.3h0.68v8.28h-0.68zM120.6 747.3h1.08v8.28h-1.08zM90.8 755.5h1.08v8.28h-1.08zM91.8 755.5h0.88v8.28h-0.88zM92.6 755.5h0.68v8.28h-0.68zM95.8 755.5h1.38v8.28h-1.38zM107.2 755.5h1.08v8.28h-1.08zM116.1 755.5h1.08v8.28h-1.08zM91.8 763.8h0.88v8.28h-0.88zM94.2 763.8h1.08v8.28h-1.08zM98.5 763.8h1.08v8.28h-1.08zM99.5 763.8h0.68v8.28h-0.68zM135.4 591.0h1.38v8.28h-1.38zM136.7 591.0h1.38v8.28h-1.38zM142.9 599.2h1.38v8.28h-1.38zM154.5 599.2h1.38v8.28h-1.38zM139.3 607.5h1.38v8.28h-1.38zM147.7 607.5h0.68v8.28h-0.68zM150.4 607.5h0.88v8.28h-0.88zM155.8 607.5h0.48v8.28h-0.48zM127.1 615.7h0.68v8.28h-0.68zM133.2 623.9h0.68v8.28h-0.68zM145.2 632.1h0.68v8.28h-0.68zM128.7 640.4h0.88v8.28h-0.88zM134.4 640.4h1.08v8.28h-1.08zM145.8 640.4h1.38v8.28h-1.38zM147.1 640.4h0.68v8.28h-0.68zM135.4 648.6h1.38v8.28h-1.38zM136.7 648.6h1.38v8.28h-1.38zM139.3 648.6h1.38v8.28h-1.38zM142.9 648.6h1.38v8.28h-1.38zM148.3 648.6h1.38v8.28h-1.38zM131.6 656.8h0.88v8.28h-0.88zM132.4 656.8h0.88v8.28h-0.88zM135.4 656.8h1.38v8.28h-1.38zM142.9 656.8h1.38v8.28h-1.38zM153.5 656.8h1.08v8.28h-1.08zM128.7 665.0h0.88v8.28h-0.88zM139.3 665.0h1.38v8.28h-1.38zM148.3 665.0h1.38v8.28h-1.38zM125.8 673.3h1.38v8.28h-1.38zM132.4 673.3h0.88v8.28h-0.88zM133.2 673.3h0.68v8.28h-0.68zM133.8 673.3h0.68v8.28h-0.68zM145.2 681.5h0.68v8.28h-0.68zM148.3 681.5h1.38v8.28h-1.38zM153.5 689.7h1.08v8.28h-1.08zM142.9 698.0h1.38v8.28h-1.38zM127.1 706.2h0.68v8.28h-0.68zM134.4 706.2h1.08v8.28h-1.08zM127.7 714.4h1.08v8.28h-1.08zM130.8 714.4h0.88v8.28h-0.88zM133.8 714.4h0.68v8.28h-0.68zM150.4 714.4h0.88v8.28h-0.88zM130.8 722.6h0.88v8.28h-0.88zM155.8 730.9h0.48v8.28h-0.48zM127.1 739.1h0.68v8.28h-0.68zM131.6 739.1h0.88v8.28h-0.88zM135.4 739.1h1.38v8.28h-1.38zM135.4 747.3h1.38v8.28h-1.38zM147.1 747.3h0.68v8.28h-0.68zM153.5 747.3h1.08v8.28h-1.08zM145.8 755.5h1.38v8.28h-1.38zM147.7 763.8h0.68v8.28h-0.68zM153.5 763.8h1.08v8.28h-1.08z" fill="#190734"/>
<path d="M23.3 591.0h1.38v8.28h-1.38zM40.2 591.0h1.38v8.28h-1.38zM47.0 591.0h0.68v8.28h-0.68zM18.8 599.2h0.68v8.28h-0.68zM20.2 607.5h1.08v8.28h-1.08zM33.9 607.5h0.88v8.28h-0.88zM50.2 607.5h0.28v8.28h-0.28zM23.3 615.7h1.38v8.28h-1.38zM40.2 615.7h1.38v8.28h-1.38zM43.4 615.7h1.38v8.28h-1.38zM22.0 623.9h1.38v8.28h-1.38zM39.4 623.9h0.88v8.28h-0.88zM17.8 632.1h1.08v8.28h-1.08zM50.2 632.1h0.28v8.28h-0.28zM49.2 640.4h1.08v8.28h-1.08zM33.9 648.6h0.88v8.28h-0.88zM38.6 648.6h0.88v8.28h-0.88zM26.7 656.8h1.08v8.28h-1.08zM49.2 656.8h1.08v8.28h-1.08zM34.7 665.0h0.88v8.28h-0.88zM47.0 665.0h0.68v8.28h-0.68zM20.2 673.3h1.08v8.28h-1.08zM38.0 673.3h0.68v8.28h-0.68zM49.2 673.3h1.08v8.28h-1.08zM15.5 689.7h1.08v8.28h-1.08zM26.7 698.0h1.08v8.28h-1.08zM25.9 706.2h0.88v8.28h-0.88zM32.9 714.4h1.08v8.28h-1.08zM38.0 714.4h0.68v8.28h-0.68zM15.5 722.6h1.08v8.28h-1.08zM16.5 722.6h1.38v8.28h-1.38zM24.6 730.9h1.38v8.28h-1.38zM34.7 730.9h0.88v8.28h-0.88zM46.0 730.9h1.08v8.28h-1.08zM47.6 730.9h0.68v8.28h-0.68zM18.8 739.1h0.68v8.28h-0.68zM18.8 755.5h0.68v8.28h-0.68zM21.2 755.5h0.88v8.28h-0.88zM27.7 755.5h0.88v8.28h-0.88zM28.5 755.5h0.88v8.28h-0.88zM43.4 755.5h1.38v8.28h-1.38zM49.2 755.5h1.08v8.28h-1.08zM17.8 763.8h1.08v8.28h-1.08zM18.8 763.8h0.68v8.28h-0.68zM21.2 763.8h0.88v8.28h-0.88zM24.6 763.8h1.38v8.28h-1.38zM86.3 591.0h1.38v8.28h-1.38zM52.7 599.2h0.68v8.28h-0.68zM61.7 599.2h0.88v8.28h-0.88zM69.3 599.2h1.08v8.28h-1.08zM76.7 599.2h0.68v8.28h-0.68zM77.3 623.9h0.68v8.28h-0.68zM65.1 632.1h1.08v8.28h-1.08zM52.7 640.4h0.68v8.28h-0.68zM66.7 640.4h1.08v8.28h-1.08zM74.0 640.4h0.88v8.28h-0.88zM78.7 640.4h1.38v8.28h-1.38zM60.4 665.0h1.38v8.28h-1.38zM86.3 665.0h1.38v8.28h-1.38zM71.1 673.3h0.68v8.28h-0.68zM74.0 673.3h0.88v8.28h-0.88zM86.3 673.3h1.38v8.28h-1.38zM52.7 681.5h0.68v8.28h-0.68zM76.1 698.0h0.68v8.28h-0.68zM56.4 706.2h0.88v8.28h-0.88zM62.5 706.2h0.88v8.28h-0.88zM68.7 706.2h0.68v8.28h-0.68zM76.7 706.2h0.68v8.28h-0.68zM60.4 714.4h1.38v8.28h-1.38zM61.7 714.4h0.88v8.28h-0.88zM77.3 714.4h0.68v8.28h-0.68zM52.1 730.9h0.68v8.28h-0.68zM76.7 730.9h0.68v8.28h-0.68zM52.7 739.1h0.68v8.28h-0.68zM76.1 739.1h0.68v8.28h-0.68zM66.1 747.3h0.68v8.28h-0.68zM90.8 591.0h1.08v8.28h-1.08zM106.4 591.0h0.88v8.28h-0.88zM109.2 607.5h1.08v8.28h-1.08zM110.2 607.5h0.68v8.28h-0.68zM115.3 607.5h0.88v8.28h-0.88zM95.8 615.7h1.38v8.28h-1.38zM104.4 615.7h1.08v8.28h-1.08zM97.1 623.9h0.88v8.28h-0.88zM100.1 623.9h1.08v8.28h-1.08zM103.0 623.9h0.88v8.28h-0.88zM106.4 623.9h0.88v8.28h-0.88zM108.2 623.9h1.08v8.28h-1.08zM120.6 632.1h1.08v8.28h-1.08zM110.2 648.6h0.68v8.28h-0.68zM97.1 656.8h0.88v8.28h-0.88zM101.1 656.8h1.38v8.28h-1.38zM120.6 656.8h1.08v8.28h-1.08zM89.8 665.0h1.08v8.28h-1.08zM108.2 665.0h1.08v8.28h-1.08zM113.0 665.0h1.38v8.28h-1.38zM121.6 665.0h0.68v8.28h-0.68zM92.6 673.3h0.68v8.28h-0.68zM94.2 673.3h1.08v8.28h-1.08zM103.8 673.3h0.68v8.28h-0.68zM108.2 673.3h1.08v8.28h-1.08zM112.2 673.3h0.88v8.28h-0.88zM103.0 681.5h0.88v8.28h-0.88zM104.4 681.5h1.08v8.28h-1.08zM110.2 681.5h0.68v8.28h-0.68zM110.8 681.5h0.68v8.28h-0.68zM113.0 681.5h1.38v8.28h-1.38zM98.5 689.7h1.08v8.28h-1.08zM109.2 698.0h1.08v8.28h-1.08zM111.4 698.0h0.88v8.28h-0.88zM120.0 698.0h0.68v8.28h-0.68zM123.0 698.0h0.88v8.28h-0.88zM97.1 706.2h0.88v8.28h-0.88zM97.9 706.2h0.68v8.28h-0.68zM110.2 706.2h0.68v8.28h-0.68zM120.6 706.2h1.08v8.28h-1.08zM122.2 706.2h0.88v8.28h-0.88zM98.5 714.4h1.08v8.28h-1.08zM110.2 714.4h0.68v8.28h-0.68zM115.3 714.4h0.88v8.28h-0.88zM95.2 722.6h0.68v8.28h-0.68zM98.5 722.6h1.08v8.28h-1.08zM113.0 722.6h1.38v8.28h-1.38zM123.0 722.6h0.88v8.28h-0.88zM92.6 730.9h0.68v8.28h-0.68zM98.5 730.9h1.08v8.28h-1.08zM112.2 730.9h0.88v8.28h-0.88zM119.2 730.9h0.88v8.28h-0.88zM120.6 730.9h1.08v8.28h-1.08zM92.6 739.1h0.68v8.28h-0.68zM101.1 739.1h1.38v8.28h-1.38zM108.2 739.1h1.08v8.28h-1.08zM112.2 747.3h0.88v8.28h-0.88zM95.2 755.5h0.68v8.28h-0.68zM103.8 755.5h0.68v8.28h-0.68zM105.4 755.5h1.08v8.28h-1.08zM112.2 755.5h0.88v8.28h-0.88zM120.6 755.5h1.08v8.28h-1.08zM93.2 763.8h1.08v8.28h-1.08zM107.2 763.8h1.08v8.28h-1.08zM110.8 763.8h0.68v8.28h-0.68zM133.8 591.0h0.68v8.28h-0.68zM145.8 591.0h1.38v8.28h-1.38zM150.4 591.0h0.88v8.28h-0.88zM154.5 591.0h1.38v8.28h-1.38zM127.7 607.5h1.08v8.28h-1.08zM136.7 607.5h1.38v8.28h-1.38zM138.0 607.5h1.38v8.28h-1.38zM154.5 607.5h1.38v8.28h-1.38zM133.8 615.7h0.68v8.28h-0.68zM139.3 615.7h1.38v8.28h-1.38zM145.2 615.7h0.68v8.28h-0.68zM147.7 615.7h0.68v8.28h-0.68zM127.1 623.9h0.68v8.28h-0.68zM128.7 623.9h0.88v8.28h-0.88zM135.4 623.9h1.38v8.28h-1.38zM154.5 623.9h1.38v8.28h-1.38zM133.8 632.1h0.68v8.28h-0.68zM129.5 640.4h1.38v8.28h-1.38zM155.8 648.6h0.48v8.28h-0.48zM138.0 656.8h1.38v8.28h-1.38zM147.1 656.8h0.68v8.28h-0.68zM148.3 656.8h1.38v8.28h-1.38zM150.4 656.8h0.88v8.28h-0.88zM142.9 665.0h1.38v8.28h-1.38zM129.5 673.3h1.38v8.28h-1.38zM155.8 673.3h0.48v8.28h-0.48zM128.7 681.5h0.88v8.28h-0.88zM133.8 681.5h0.68v8.28h-0.68zM147.7 681.5h0.68v8.28h-0.68zM150.4 681.5h0.88v8.28h-0.88zM128.7 706.2h0.88v8.28h-0.88zM140.6 706.2h1.08v8.28h-1.08zM147.7 706.2h0.68v8.28h-0.68zM148.3 706.2h1.38v8.28h-1.38zM154.5 706.2h1.38v8.28h-1.38zM155.8 714.4h0.48v8.28h-0.48zM133.8 722.6h0.68v8.28h-0.68zM129.5 730.9h1.38v8.28h-1.38zM133.2 730.9h0.68v8.28h-0.68zM150.4 739.1h0.88v8.28h-0.88zM139.3 747.3h1.38v8.28h-1.38zM147.7 747.3h0.68v8.28h-0.68zM127.1 763.8h0.68v8.28h-0.68z" fill="#301454"/>
<path d="M31.6 591.0h1.38v8.28h-1.38zM49.2 591.0h1.08v8.28h-1.08zM19.4 599.2h0.88v8.28h-0.88zM27.7 599.2h0.88v8.28h-0.88zM35.5 599.2h1.38v8.28h-1.38zM40.2 599.2h1.38v8.28h-1.38zM48.2 599.2h1.08v8.28h-1.08zM21.2 607.5h0.88v8.28h-0.88zM23.3 607.5h1.38v8.28h-1.38zM26.7 607.5h1.08v8.28h-1.08zM27.7 607.5h0.88v8.28h-0.88zM47.0 607.5h0.68v8.28h-0.68zM48.2 607.5h1.08v8.28h-1.08zM49.2 607.5h1.08v8.28h-1.08zM15.5 615.7h1.08v8.28h-1.08zM26.7 615.7h1.08v8.28h-1.08zM27.7 615.7h0.88v8.28h-0.88zM34.7 615.7h0.88v8.28h-0.88zM38.6 615.7h0.88v8.28h-0.88zM42.1 615.7h1.38v8.28h-1.38zM49.2 615.7h1.08v8.28h-1.08zM50.2 615.7h0.28v8.28h-0.28zM21.2 623.9h0.88v8.28h-0.88zM25.9 623.9h0.88v8.28h-0.88zM32.9 623.9h1.08v8.28h-1.08zM33.9 623.9h0.88v8.28h-0.88zM37.4 623.9h0.68v8.28h-0.68zM43.4 623.9h1.38v8.28h-1.38zM22.0 632.1h1.38v8.28h-1.38zM38.6 632.1h0.88v8.28h-0.88zM39.4 632.1h0.88v8.28h-0.88zM18.8 640.4h0.68v8.28h-0.68zM29.3 640.4h1.08v8.28h-1.08zM38.0 640.4h0.68v8.28h-0.68zM38.6 640.4h0.88v8.28h-0.88zM42.1 640.4h1.38v8.28h-1.38zM47.6 640.4h0.68v8.28h-0.68zM16.5 648.6h1.38v8.28h-1.38zM36.8 648.6h0.68v8.28h-0.68zM37.4 648.6h0.68v8.28h-0.68zM22.0 656.8h1.38v8.28h-1.38zM25.9 656.8h0.88v8.28h-0.88zM36.8 656.8h0.68v8.28h-0.68zM22.0 665.0h1.38v8.28h-1.38zM23.3 665.0h1.38v8.28h-1.38zM29.3 665.0h1.08v8.28h-1.08zM35.5 665.0h1.38v8.28h-1.38zM38.0 665.0h0.68v8.28h-0.68zM44.7 665.0h1.38v8.28h-1.38zM47.6 665.0h0.68v8.28h-0.68zM19.4 673.3h0.88v8.28h-0.88zM32.9 673.3h1.08v8.28h-1.08zM34.7 673.3h0.88v8.28h-0.88zM39.4 673.3h0.88v8.28h-0.88zM41.5 673.3h0.68v8.28h-0.68zM43.4 673.3h1.38v8.28h-1.38zM16.5 681.5h1.38v8.28h-1.38zM27.7 681.5h0.88v8.28h-0.88zM38.6 681.5h0.88v8.28h-0.88zM41.5 681.5h0.68v8.28h-0.68zM47.6 681.5h0.68v8.28h-0.68zM48.2 681.5h1.08v8.28h-1.08zM22.0 689.7h1.38v8.28h-1.38zM25.9 689.7h0.88v8.28h-0.88zM28.5 689.7h0.88v8.28h-0.88zM34.7 689.7h0.88v8.28h-0.88zM35.5 689.7h1.38v8.28h-1.38zM38.0 689.7h0.68v8.28h-0.68zM43.4 689.7h1.38v8.28h-1.38zM46.0 689.7h1.08v8.28h-1.08zM47.6 689.7h0.68v8.28h-0.68zM25.9 698.0h0.88v8.28h-0.88zM34.7 698.0h0.88v8.28h-0.88zM38.0 698.0h0.68v8.28h-0.68zM47.6 698.0h0.68v8.28h-0.68zM22.0 706.2h1.38v8.28h-1.38zM23.3 706.2h1.38v8.28h-1.38zM26.7 706.2h1.08v8.28h-1.08zM30.3 706.2h1.38v8.28h-1.38zM32.9 706.2h1.08v8.28h-1.08zM33.9 706.2h0.88v8.28h-0.88zM38.0 706.2h0.68v8.28h-0.68zM39.4 706.2h0.88v8.28h-0.88zM42.1 706.2h1.38v8.28h-1.38zM43.4 706.2h1.38v8.28h-1.38zM49.2 706.2h1.08v8.28h-1.08zM15.5 714.4h1.08v8.28h-1.08zM22.0 714.4h1.38v8.28h-1.38zM33.9 714.4h0.88v8.28h-0.88zM38.6 714.4h0.88v8.28h-0.88zM40.2 714.4h1.38v8.28h-1.38zM41.5 714.4h0.68v8.28h-0.68zM48.2 714.4h1.08v8.28h-1.08zM17.8 722.6h1.08v8.28h-1.08zM23.3 722.6h1.38v8.28h-1.38zM32.9 722.6h1.08v8.28h-1.08zM34.7 722.6h0.88v8.28h-0.88zM35.5 722.6h1.38v8.28h-1.38zM50.2 722.6h0.28v8.28h-0.28zM21.2 730.9h0.88v8.28h-0.88zM27.7 730.9h0.88v8.28h-0.88zM35.5 730.9h1.38v8.28h-1.38zM47.0 730.9h0.68v8.28h-0.68zM49.2 730.9h1.08v8.28h-1.08zM50.2 730.9h0.28v8.28h-0.28zM19.4 739.1h0.88v8.28h-0.88zM22.0 739.1h1.38v8.28h-1.38zM25.9 739.1h0.88v8.28h-0.88zM32.9 739.1h1.08v8.28h-1.08zM43.4 739.1h1.38v8.28h-1.38zM47.6 739.1h0.68v8.28h-0.68zM48.2 739.1h1.08v8.28h-1.08zM49.2 739.1h1.08v8.28h-1.08zM31.6 747.3h1.38v8.28h-1.38zM34.7 747.3h0.88v8.28h-0.88zM36.8 747.3h0.68v8.28h-0.68zM38.6 747.3h0.88v8.28h-0.88zM40.2 747.3h1.38v8.28h-1.38zM50.2 747.3h0.28v8.28h-0.28zM15.5 755.5h1.08v8.28h-1.08zM24.6 755.5h1.38v8.28h-1.38zM29.3 763.8h1.08v8.28h-1.08zM32.9 763.8h1.08v8.28h-1.08zM47.0 763.8h0.68v8.28h-0.68zM50.2 763.8h0.28v8.28h-0.28zM61.7 591.0h0.88v8.28h-0.88zM84.7 591.0h1.08v8.28h-1.08zM60.4 599.2h1.38v8.28h-1.38zM82.2 599.2h1.38v8.28h-1.38zM86.3 599.2h1.38v8.28h-1.38zM77.3 607.5h0.68v8.28h-0.68zM86.3 607.5h1.38v8.28h-1.38zM60.4 615.7h1.38v8.28h-1.38zM66.7 615.7h1.08v8.28h-1.08zM76.7 615.7h0.68v8.28h-0.68zM68.7 623.9h0.68v8.28h-0.68zM70.3 623.9h0.88v8.28h-0.88zM74.8 623.9h1.38v8.28h-1.38zM76.1 623.9h0.68v8.28h-0.68zM78.7 623.9h1.38v8.28h-1.38zM86.3 623.9h1.38v8.28h-1.38zM86.3 632.1h1.38v8.28h-1.38zM61.7 640.4h0.88v8.28h-0.88zM67.7 640.4h1.08v8.28h-1.08zM82.2 640.4h1.38v8.28h-1.38zM62.5 648.6h0.88v8.28h-0.88zM66.1 648.6h0.68v8.28h-0.68zM69.3 648.6h1.08v8.28h-1.08zM71.1 648.6h0.68v8.28h-0.68zM71.7 648.6h1.38v8.28h-1.38zM76.7 648.6h0.68v8.28h-0.68zM52.7 656.8h0.68v8.28h-0.68zM61.7 656.8h0.88v8.28h-0.88zM65.1 656.8h1.08v8.28h-1.08zM83.5 656.8h0.68v8.28h-0.68zM86.3 656.8h1.38v8.28h-1.38zM52.7 665.0h0.68v8.28h-0.68zM57.2 665.0h1.38v8.28h-1.38zM65.1 665.0h1.08v8.28h-1.08zM52.7 673.3h0.68v8.28h-0.68zM76.1 673.3h0.68v8.28h-0.68zM78.7 673.3h1.38v8.28h-1.38zM77.3 681.5h0.68v8.28h-0.68zM82.2 681.5h1.38v8.28h-1.38zM83.5 681.5h0.68v8.28h-0.68zM65.1 689.7h1.08v8.28h-1.08zM69.3 689.7h1.08v8.28h-1.08zM70.3 689.7h0.88v8.28h-0.88zM76.7 689.7h0.68v8.28h-0.68zM86.3 689.7h1.38v8.28h-1.38zM60.4 698.0h1.38v8.28h-1.38zM66.1 698.0h0.68v8.28h-0.68zM69.3 698.0h1.08v8.28h-1.08zM71.1 698.0h0.68v8.28h-0.68zM80.6 698.0h0.88v8.28h-0.88zM86.3 698.0h1.38v8.28h-1.38zM61.7 706.2h0.88v8.28h-0.88zM69.3 706.2h1.08v8.28h-1.08zM76.1 706.2h0.68v8.28h-0.68zM78.7 706.2h1.38v8.28h-1.38zM62.5 714.4h0.88v8.28h-0.88zM70.3 714.4h0.88v8.28h-0.88zM76.7 714.4h0.68v8.28h-0.68zM82.2 714.4h1.38v8.28h-1.38zM57.2 722.6h1.38v8.28h-1.38zM61.7 722.6h0.88v8.28h-0.88zM70.3 722.6h0.88v8.28h-0.88zM60.4 730.9h1.38v8.28h-1.38zM62.5 730.9h0.88v8.28h-0.88zM70.3 730.9h0.88v8.28h-0.88zM76.1 730.9h0.68v8.28h-0.68zM78.7 730.9h1.38v8.28h-1.38zM83.5 730.9h0.68v8.28h-0.68zM52.1 739.1h0.68v8.28h-0.68zM60.4 739.1h1.38v8.28h-1.38zM61.7 739.1h0.88v8.28h-0.88zM66.1 739.1h0.68v8.28h-0.68zM66.7 739.1h1.08v8.28h-1.08zM69.3 739.1h1.08v8.28h-1.08zM77.3 739.1h0.68v8.28h-0.68zM82.2 739.1h1.38v8.28h-1.38zM69.3 747.3h1.08v8.28h-1.08zM70.3 747.3h0.88v8.28h-0.88zM76.7 747.3h0.68v8.28h-0.68zM82.2 747.3h1.38v8.28h-1.38zM83.5 747.3h0.68v8.28h-0.68zM84.7 747.3h1.08v8.28h-1.08zM52.1 755.5h0.68v8.28h-0.68zM53.3 755.5h0.68v8.28h-0.68zM69.3 755.5h1.08v8.28h-1.08zM76.7 755.5h0.68v8.28h-0.68zM83.5 755.5h0.68v8.28h-0.68zM60.4 763.8h1.38v8.28h-1.38zM65.1 763.8h1.08v8.28h-1.08zM77.3 763.8h0.68v8.28h-0.68zM78.7 763.8h1.38v8.28h-1.38zM87.6 763.8h0.48v8.28h-0.48zM94.2 591.0h1.08v8.28h-1.08zM103.0 591.0h0.88v8.28h-0.88zM103.8 591.0h0.68v8.28h-0.68zM107.2 591.0h1.08v8.28h-1.08zM111.4 591.0h0.88v8.28h-0.88zM121.6 591.0h0.68v8.28h-0.68zM94.2 599.2h1.08v8.28h-1.08zM95.2 599.2h0.68v8.28h-0.68zM95.8 599.2h1.38v8.28h-1.38zM113.0 599.2h1.38v8.28h-1.38zM116.1 599.2h1.08v8.28h-1.08zM94.2 607.5h1.08v8.28h-1.08zM95.2 607.5h0.68v8.28h-0.68zM97.9 607.5h0.68v8.28h-0.68zM99.5 607.5h0.68v8.28h-0.68zM108.2 607.5h1.08v8.28h-1.08zM91.8 615.7h0.88v8.28h-0.88zM92.6 615.7h0.68v8.28h-0.68zM94.2 615.7h1.08v8.28h-1.08zM95.2 615.7h0.68v8.28h-0.68zM99.5 615.7h0.68v8.28h-0.68zM100.1 615.7h1.08v8.28h-1.08zM106.4 615.7h0.88v8.28h-0.88zM116.1 615.7h1.08v8.28h-1.08zM91.8 623.9h0.88v8.28h-0.88zM95.2 623.9h0.68v8.28h-0.68zM97.9 623.9h0.68v8.28h-0.68zM102.4 623.9h0.68v8.28h-0.68zM109.2 623.9h1.08v8.28h-1.08zM97.9 632.1h0.68v8.28h-0.68zM103.0 632.1h0.88v8.28h-0.88zM103.8 632.1h0.68v8.28h-0.68zM108.2 632.1h1.08v8.28h-1.08zM110.2 632.1h0.68v8.28h-0.68zM110.8 632.1h0.68v8.28h-0.68zM117.9 632.1h1.38v8.28h-1.38zM119.2 632.1h0.88v8.28h-0.88zM121.6 632.1h0.68v8.28h-0.68zM90.8 640.4h1.08v8.28h-1.08zM94.2 640.4h1.08v8.28h-1.08zM95.2 640.4h0.68v8.28h-0.68zM101.1 640.4h1.38v8.28h-1.38zM103.0 640.4h0.88v8.28h-0.88zM109.2 640.4h1.08v8.28h-1.08zM110.2 640.4h0.68v8.28h-0.68zM111.4 640.4h0.88v8.28h-0.88zM112.2 640.4h0.88v8.28h-0.88zM119.2 640.4h0.88v8.28h-0.88zM94.2 648.6h1.08v8.28h-1.08zM105.4 648.6h1.08v8.28h-1.08zM108.2 648.6h1.08v8.28h-1.08zM111.4 648.6h0.88v8.28h-0.88zM114.3 648.6h1.08v8.28h-1.08zM115.3 648.6h0.88v8.28h-0.88zM117.9 648.6h1.38v8.28h-1.38zM91.8 656.8h0.88v8.28h-0.88zM92.6 656.8h0.68v8.28h-0.68zM97.9 656.8h0.68v8.28h-0.68zM102.4 656.8h0.68v8.28h-0.68zM103.8 656.8h0.68v8.28h-0.68zM108.2 656.8h1.08v8.28h-1.08zM110.8 656.8h0.68v8.28h-0.68zM111.4 656.8h0.88v8.28h-0.88zM121.6 656.8h0.68v8.28h-0.68zM90.8 665.0h1.08v8.28h-1.08zM98.5 665.0h1.08v8.28h-1.08zM99.5 665.0h0.68v8.28h-0.68zM103.0 665.0h0.88v8.28h-0.88zM107.2 665.0h1.08v8.28h-1.08zM90.8 673.3h1.08v8.28h-1.08zM91.8 673.3h0.88v8.28h-0.88zM93.2 673.3h1.08v8.28h-1.08zM95.2 673.3h0.68v8.28h-0.68zM106.4 673.3h0.88v8.28h-0.88zM109.2 673.3h1.08v8.28h-1.08zM110.2 673.3h0.68v8.28h-0.68zM110.8 673.3h0.68v8.28h-0.68zM113.0 673.3h1.38v8.28h-1.38zM116.1 673.3h1.08v8.28h-1.08zM120.6 673.3h1.08v8.28h-1.08zM91.8 681.5h0.88v8.28h-0.88zM94.2 681.5h1.08v8.28h-1.08zM109.2 681.5h1.08v8.28h-1.08zM117.9 681.5h1.38v8.28h-1.38zM123.0 681.5h0.88v8.28h-0.88zM93.2 689.7h1.08v8.28h-1.08zM94.2 689.7h1.08v8.28h-1.08zM95.2 689.7h0.68v8.28h-0.68zM95.8 689.7h1.38v8.28h-1.38zM103.0 689.7h0.88v8.28h-0.88zM103.8 689.7h0.68v8.28h-0.68zM110.2 689.7h0.68v8.28h-0.68zM110.8 689.7h0.68v8.28h-0.68zM113.0 689.7h1.38v8.28h-1.38zM115.3 689.7h0.88v8.28h-0.88zM117.9 689.7h1.38v8.28h-1.38zM93.2 698.0h1.08v8.28h-1.08zM101.1 698.0h1.38v8.28h-1.38zM102.4 698.0h0.68v8.28h-0.68zM103.0 698.0h0.88v8.28h-0.88zM105.4 698.0h1.08v8.28h-1.08zM106.4 698.0h0.88v8.28h-0.88zM114.3 698.0h1.08v8.28h-1.08zM119.2 698.0h0.88v8.28h-0.88zM122.2 698.0h0.88v8.28h-0.88zM91.8 706.2h0.88v8.28h-0.88zM100.1 706.2h1.08v8.28h-1.08zM101.1 706.2h1.38v8.28h-1.38zM110.8 706.2h0.68v8.28h-0.68zM113.0 706.2h1.38v8.28h-1.38zM114.3 706.2h1.08v8.28h-1.08zM116.1 706.2h1.08v8.28h-1.08zM117.1 706.2h0.88v8.28h-0.88zM89.8 714.4h1.08v8.28h-1.08zM92.6 714.4h0.68v8.28h-0.68zM103.0 714.4h0.88v8.28h-0.88zM105.4 714.4h1.08v8.28h-1.08zM108.2 714.4h1.08v8.28h-1.08zM116.1 714.4h1.08v8.28h-1.08zM95.8 722.6h1.38v8.28h-1.38zM99.5 722.6h0.68v8.28h-0.68zM101.1 722.6h1.38v8.28h-1.38zM106.4 722.6h0.88v8.28h-0.88zM89.8 730.9h1.08v8.28h-1.08zM95.8 730.9h1.38v8.28h-1.38zM109.2 730.9h1.08v8.28h-1.08zM110.2 730.9h0.68v8.28h-0.68zM115.3 730.9h0.88v8.28h-0.88zM116.1 730.9h1.08v8.28h-1.08zM121.6 730.9h0.68v8.28h-0.68zM123.0 730.9h0.88v8.28h-0.88zM98.5 739.1h1.08v8.28h-1.08zM103.0 739.1h0.88v8.28h-0.88zM115.3 739.1h0.88v8.28h-0.88zM120.6 739.1h1.08v8.28h-1.08zM97.9 747.3h0.68v8.28h-0.68zM109.2 747.3h1.08v8.28h-1.08zM122.2 747.3h0.88v8.28h-0.88zM99.5 755.5h0.68v8.28h-0.68zM101.1 755.5h1.38v8.28h-1.38zM109.2 755.5h1.08v8.28h-1.08zM119.2 755.5h0.88v8.28h-0.88zM97.1 763.8h0.88v8.28h-0.88zM102.4 763.8h0.68v8.28h-0.68zM110.2 763.8h0.68v8.28h-0.68zM117.1 763.8h0.88v8.28h-0.88zM120.6 763.8h1.08v8.28h-1.08zM128.7 591.0h0.88v8.28h-0.88zM129.5 591.0h1.38v8.28h-1.38zM133.2 591.0h0.68v8.28h-0.68zM153.5 591.0h1.08v8.28h-1.08zM136.7 599.2h1.38v8.28h-1.38zM145.2 599.2h0.68v8.28h-0.68zM155.8 599.2h0.48v8.28h-0.48zM134.4 607.5h1.08v8.28h-1.08zM153.5 607.5h1.08v8.28h-1.08zM125.8 615.7h1.38v8.28h-1.38zM128.7 615.7h0.88v8.28h-0.88zM129.5 615.7h1.38v8.28h-1.38zM131.6 615.7h0.88v8.28h-0.88zM138.0 615.7h1.38v8.28h-1.38zM132.4 623.9h0.88v8.28h-0.88zM133.8 623.9h0.68v8.28h-0.68zM134.4 623.9h1.08v8.28h-1.08zM136.7 623.9h1.38v8.28h-1.38zM145.8 623.9h1.38v8.28h-1.38zM147.1 623.9h0.68v8.28h-0.68zM125.8 632.1h1.38v8.28h-1.38zM136.7 632.1h1.38v8.28h-1.38zM142.9 632.1h1.38v8.28h-1.38zM145.8 632.1h1.38v8.28h-1.38zM147.7 640.4h0.68v8.28h-0.68zM125.8 648.6h1.38v8.28h-1.38zM127.1 656.8h0.68v8.28h-0.68zM129.5 656.8h1.38v8.28h-1.38zM130.8 656.8h0.88v8.28h-0.88zM154.5 656.8h1.38v8.28h-1.38zM127.7 665.0h1.08v8.28h-1.08zM130.8 665.0h0.88v8.28h-0.88zM133.8 665.0h0.68v8.28h-0.68zM135.4 665.0h1.38v8.28h-1.38zM145.8 665.0h1.38v8.28h-1.38zM149.6 665.0h0.88v8.28h-0.88zM150.4 665.0h0.88v8.28h-0.88zM154.5 665.0h1.38v8.28h-1.38zM145.8 673.3h1.38v8.28h-1.38zM147.7 673.3h0.68v8.28h-0.68zM154.5 673.3h1.38v8.28h-1.38zM138.0 681.5h1.38v8.28h-1.38zM149.6 681.5h0.88v8.28h-0.88zM127.1 689.7h0.68v8.28h-0.68zM128.7 689.7h0.88v8.28h-0.88zM130.8 689.7h0.88v8.28h-0.88zM132.4 689.7h0.88v8.28h-0.88zM145.8 689.7h1.38v8.28h-1.38zM148.3 689.7h1.38v8.28h-1.38zM125.8 698.0h1.38v8.28h-1.38zM145.8 698.0h1.38v8.28h-1.38zM147.7 698.0h0.68v8.28h-0.68zM151.2 706.2h1.38v8.28h-1.38zM155.8 706.2h0.48v8.28h-0.48zM147.1 714.4h0.68v8.28h-0.68zM147.7 714.4h0.68v8.28h-0.68zM125.8 722.6h1.38v8.28h-1.38zM127.1 722.6h0.68v8.28h-0.68zM128.7 722.6h0.88v8.28h-0.88zM136.7 722.6h1.38v8.28h-1.38zM147.7 722.6h0.68v8.28h-0.68zM132.4 730.9h0.88v8.28h-0.88zM128.7 739.1h0.88v8.28h-0.88zM132.4 739.1h0.88v8.28h-0.88zM147.1 739.1h0.68v8.28h-0.68zM151.2 739.1h1.38v8.28h-1.38zM130.8 747.3h0.88v8.28h-0.88zM134.4 747.3h1.08v8.28h-1.08zM150.4 747.3h0.88v8.28h-0.88zM154.5 747.3h1.38v8.28h-1.38zM155.8 747.3h0.48v8.28h-0.48zM133.8 755.5h0.68v8.28h-0.68zM154.5 755.5h1.38v8.28h-1.38zM131.6 763.8h0.88v8.28h-0.88zM132.4 763.8h0.88v8.28h-0.88zM133.2 763.8h0.68v8.28h-0.68zM139.3 763.8h1.38v8.28h-1.38zM145.2 763.8h0.68v8.28h-0.68zM147.1 763.8h0.68v8.28h-0.68z" fill="#200a3e"/>
<path d="M34.7 591.0h0.88v8.28h-0.88zM39.4 591.0h0.88v8.28h-0.88zM48.2 591.0h1.08v8.28h-1.08zM22.0 599.2h1.38v8.28h-1.38zM18.8 607.5h0.68v8.28h-0.68zM47.6 607.5h0.68v8.28h-0.68zM17.8 623.9h1.08v8.28h-1.08zM48.2 623.9h1.08v8.28h-1.08zM24.6 632.1h1.38v8.28h-1.38zM29.3 632.1h1.08v8.28h-1.08zM27.7 640.4h0.88v8.28h-0.88zM39.4 640.4h0.88v8.28h-0.88zM18.8 648.6h0.68v8.28h-0.68zM19.4 648.6h0.88v8.28h-0.88zM15.5 656.8h1.08v8.28h-1.08zM17.8 656.8h1.08v8.28h-1.08zM33.9 656.8h0.88v8.28h-0.88zM44.7 656.8h1.38v8.28h-1.38zM20.2 665.0h1.08v8.28h-1.08zM24.6 665.0h1.38v8.28h-1.38zM28.5 665.0h0.88v8.28h-0.88zM40.2 665.0h1.38v8.28h-1.38zM28.5 673.3h0.88v8.28h-0.88zM17.8 681.5h1.08v8.28h-1.08zM26.7 681.5h1.08v8.28h-1.08zM32.9 681.5h1.08v8.28h-1.08zM38.0 681.5h0.68v8.28h-0.68zM40.2 689.7h1.38v8.28h-1.38zM40.2 698.0h1.38v8.28h-1.38zM50.2 698.0h0.28v8.28h-0.28zM18.8 706.2h0.68v8.28h-0.68zM38.6 706.2h0.88v8.28h-0.88zM28.5 714.4h0.88v8.28h-0.88zM43.4 714.4h1.38v8.28h-1.38zM20.2 722.6h1.08v8.28h-1.08zM38.6 722.6h0.88v8.28h-0.88zM41.5 722.6h0.68v8.28h-0.68zM22.0 730.9h1.38v8.28h-1.38zM40.2 739.1h1.38v8.28h-1.38zM19.4 747.3h0.88v8.28h-0.88zM24.6 747.3h1.38v8.28h-1.38zM35.5 755.5h1.38v8.28h-1.38zM42.1 755.5h1.38v8.28h-1.38zM30.3 763.8h1.38v8.28h-1.38zM43.4 763.8h1.38v8.28h-1.38zM60.4 591.0h1.38v8.28h-1.38zM57.2 623.9h1.38v8.28h-1.38zM61.7 632.1h0.88v8.28h-0.88zM66.1 632.1h0.68v8.28h-0.68zM74.8 656.8h1.38v8.28h-1.38zM70.3 665.0h0.88v8.28h-0.88zM65.1 673.3h1.08v8.28h-1.08zM83.5 673.3h0.68v8.28h-0.68zM62.5 681.5h0.88v8.28h-0.88zM71.7 681.5h1.38v8.28h-1.38zM62.5 689.7h0.88v8.28h-0.88zM52.7 698.0h0.68v8.28h-0.68zM77.3 698.0h0.68v8.28h-0.68zM55.8 706.2h0.68v8.28h-0.68zM66.1 706.2h0.68v8.28h-0.68zM66.7 722.6h1.08v8.28h-1.08zM70.3 739.1h0.88v8.28h-0.88zM66.7 747.3h1.08v8.28h-1.08zM86.3 755.5h1.38v8.28h-1.38zM66.7 763.8h1.08v8.28h-1.08zM98.5 591.0h1.08v8.28h-1.08zM99.5 591.0h0.68v8.28h-0.68zM89.8 607.5h1.08v8.28h-1.08zM97.9 615.7h0.68v8.28h-0.68zM109.2 615.7h1.08v8.28h-1.08zM119.2 615.7h0.88v8.28h-0.88zM121.6 615.7h0.68v8.28h-0.68zM111.4 623.9h0.88v8.28h-0.88zM114.3 632.1h1.08v8.28h-1.08zM102.4 640.4h0.68v8.28h-0.68zM120.0 640.4h0.68v8.28h-0.68zM121.6 640.4h0.68v8.28h-0.68zM93.2 656.8h1.08v8.28h-1.08zM98.5 656.8h1.08v8.28h-1.08zM105.4 665.0h1.08v8.28h-1.08zM117.9 673.3h1.38v8.28h-1.38zM122.2 673.3h0.88v8.28h-0.88zM107.2 689.7h1.08v8.28h-1.08zM115.3 698.0h0.88v8.28h-0.88zM116.1 698.0h1.08v8.28h-1.08zM117.1 698.0h0.88v8.28h-0.88zM108.2 706.2h1.08v8.28h-1.08zM121.6 706.2h0.68v8.28h-0.68zM95.8 714.4h1.38v8.28h-1.38zM100.1 714.4h1.08v8.28h-1.08zM119.2 714.4h0.88v8.28h-0.88zM106.4 730.9h0.88v8.28h-0.88zM107.2 730.9h1.08v8.28h-1.08zM117.9 730.9h1.38v8.28h-1.38zM114.3 739.1h1.08v8.28h-1.08zM97.1 755.5h0.88v8.28h-0.88zM133.8 599.2h0.68v8.28h-0.68zM131.6 607.5h0.88v8.28h-0.88zM142.9 615.7h1.38v8.28h-1.38zM127.1 632.1h0.68v8.28h-0.68zM133.8 648.6h0.68v8.28h-0.68zM133.8 656.8h0.68v8.28h-0.68zM127.1 673.3h0.68v8.28h-0.68zM151.2 673.3h1.38v8.28h-1.38zM132.4 681.5h0.88v8.28h-0.88zM133.8 698.0h0.68v8.28h-0.68zM125.8 706.2h1.38v8.28h-1.38zM133.2 722.6h0.68v8.28h-0.68zM130.8 730.9h0.88v8.28h-0.88zM147.7 730.9h0.68v8.28h-0.68zM133.2 739.1h0.68v8.28h-0.68zM132.4 747.3h0.88v8.28h-0.88zM142.9 755.5h1.38v8.28h-1.38zM155.8 755.5h0.48v8.28h-0.48z" fill="#4c2c7a"/>
<path d="M38.0 591.0h0.68v8.28h-0.68zM20.2 599.2h1.08v8.28h-1.08zM46.0 599.2h1.08v8.28h-1.08zM38.0 607.5h0.68v8.28h-0.68zM43.4 607.5h1.38v8.28h-1.38zM46.0 607.5h1.08v8.28h-1.08zM19.4 632.1h0.88v8.28h-0.88zM28.5 632.1h0.88v8.28h-0.88zM38.0 632.1h0.68v8.28h-0.68zM41.5 632.1h0.68v8.28h-0.68zM35.5 640.4h1.38v8.28h-1.38zM48.2 640.4h1.08v8.28h-1.08zM21.2 648.6h0.88v8.28h-0.88zM48.2 656.8h1.08v8.28h-1.08zM38.6 665.0h0.88v8.28h-0.88zM50.2 665.0h0.28v8.28h-0.28zM36.8 673.3h0.68v8.28h-0.68zM33.9 681.5h0.88v8.28h-0.88zM32.9 689.7h1.08v8.28h-1.08zM38.6 689.7h0.88v8.28h-0.88zM27.7 698.0h0.88v8.28h-0.88zM50.2 706.2h0.28v8.28h-0.28zM28.5 722.6h0.88v8.28h-0.88zM42.1 730.9h1.38v8.28h-1.38zM34.7 739.1h0.88v8.28h-0.88zM41.5 739.1h0.68v8.28h-0.68zM47.0 747.3h0.68v8.28h-0.68zM29.3 755.5h1.08v8.28h-1.08zM36.8 755.5h0.68v8.28h-0.68zM40.2 755.5h1.38v8.28h-1.38zM19.4 763.8h0.88v8.28h-0.88zM36.8 763.8h0.68v8.28h-0.68zM40.2 763.8h1.38v8.28h-1.38zM62.5 599.2h0.88v8.28h-0.88zM52.1 607.5h0.68v8.28h-0.68zM69.3 640.4h1.08v8.28h-1.08zM52.7 648.6h0.68v8.28h-0.68zM70.3 648.6h0.88v8.28h-0.88zM60.4 656.8h1.38v8.28h-1.38zM69.3 681.5h1.08v8.28h-1.08zM61.7 689.7h0.88v8.28h-0.88zM76.1 689.7h0.68v8.28h-0.68zM74.8 698.0h1.38v8.28h-1.38zM67.7 706.2h1.08v8.28h-1.08zM76.7 722.6h0.68v8.28h-0.68zM55.8 730.9h0.68v8.28h-0.68zM70.3 763.8h0.88v8.28h-0.88zM76.7 763.8h0.68v8.28h-0.68zM84.7 763.8h1.08v8.28h-1.08zM89.8 591.0h1.08v8.28h-1.08zM113.0 591.0h1.38v8.28h-1.38zM115.3 591.0h0.88v8.28h-0.88zM117.9 591.0h1.38v8.28h-1.38zM91.8 599.2h0.88v8.28h-0.88zM92.6 607.5h0.68v8.28h-0.68zM116.1 607.5h1.08v8.28h-1.08zM104.4 623.9h1.08v8.28h-1.08zM108.2 640.4h1.08v8.28h-1.08zM102.4 648.6h0.68v8.28h-0.68zM116.1 648.6h1.08v8.28h-1.08zM119.2 656.8h0.88v8.28h-0.88zM97.9 665.0h0.68v8.28h-0.68zM101.1 665.0h1.38v8.28h-1.38zM106.4 681.5h0.88v8.28h-0.88zM117.1 681.5h0.88v8.28h-0.88zM122.2 681.5h0.88v8.28h-0.88zM108.2 689.7h1.08v8.28h-1.08zM111.4 689.7h0.88v8.28h-0.88zM119.2 689.7h0.88v8.28h-0.88zM122.2 689.7h0.88v8.28h-0.88zM97.1 698.0h0.88v8.28h-0.88zM110.2 698.0h0.68v8.28h-0.68zM106.4 706.2h0.88v8.28h-0.88zM103.0 722.6h0.88v8.28h-0.88zM119.2 722.6h0.88v8.28h-0.88zM120.6 722.6h1.08v8.28h-1.08zM117.1 739.1h0.88v8.28h-0.88zM99.5 747.3h0.68v8.28h-0.68zM103.8 747.3h0.68v8.28h-0.68zM110.2 747.3h0.68v8.28h-0.68zM108.2 755.5h1.08v8.28h-1.08zM109.2 763.8h1.08v8.28h-1.08zM132.4 615.7h0.88v8.28h-0.88zM154.5 615.7h1.38v8.28h-1.38zM155.8 623.9h0.48v8.28h-0.48zM133.2 632.1h0.68v8.28h-0.68zM147.1 648.6h0.68v8.28h-0.68zM134.4 673.3h1.08v8.28h-1.08zM153.5 673.3h1.08v8.28h-1.08zM139.3 681.5h1.38v8.28h-1.38zM136.7 698.0h1.38v8.28h-1.38zM147.1 706.2h0.68v8.28h-0.68zM133.2 714.4h0.68v8.28h-0.68zM151.2 714.4h1.38v8.28h-1.38zM153.5 714.4h1.08v8.28h-1.08zM133.8 730.9h0.68v8.28h-0.68zM125.8 739.1h1.38v8.28h-1.38zM127.1 747.3h0.68v8.28h-0.68zM131.6 747.3h0.88v8.28h-0.88zM135.4 763.8h1.38v8.28h-1.38zM152.5 763.8h1.08v8.28h-1.08z" fill="#553a8a"/>
<path d="M16.5 599.2h1.38v8.28h-1.38zM41.5 648.6h0.68v8.28h-0.68zM23.3 681.5h1.38v8.28h-1.38zM23.3 689.7h1.38v8.28h-1.38zM35.5 698.0h1.38v8.28h-1.38zM47.6 706.2h0.68v8.28h-0.68zM29.3 714.4h1.08v8.28h-1.08zM47.6 722.6h0.68v8.28h-0.68zM31.6 739.1h1.38v8.28h-1.38zM28.5 747.3h0.88v8.28h-0.88zM44.7 755.5h1.38v8.28h-1.38zM68.7 599.2h0.68v8.28h-0.68zM53.3 607.5h0.68v8.28h-0.68zM71.1 607.5h0.68v8.28h-0.68zM80.6 607.5h0.88v8.28h-0.88zM63.3 632.1h1.08v8.28h-1.08zM58.5 648.6h1.38v8.28h-1.38zM68.7 648.6h0.68v8.28h-0.68zM73.0 648.6h1.08v8.28h-1.08zM55.2 656.8h0.68v8.28h-0.68zM59.8 656.8h0.68v8.28h-0.68zM67.7 656.8h1.08v8.28h-1.08zM55.2 665.0h0.68v8.28h-0.68zM53.3 673.3h0.68v8.28h-0.68zM68.7 673.3h0.68v8.28h-0.68zM81.4 673.3h0.88v8.28h-0.88zM53.3 681.5h0.68v8.28h-0.68zM68.7 681.5h0.68v8.28h-0.68zM74.8 681.5h1.38v8.28h-1.38zM85.7 681.5h0.68v8.28h-0.68zM53.9 689.7h1.38v8.28h-1.38zM58.5 689.7h1.38v8.28h-1.38zM73.0 698.0h1.08v8.28h-1.08zM58.5 706.2h1.38v8.28h-1.38zM59.8 706.2h0.68v8.28h-0.68zM73.0 706.2h1.08v8.28h-1.08zM71.1 714.4h0.68v8.28h-0.68zM53.3 722.6h0.68v8.28h-0.68zM67.7 747.3h1.08v8.28h-1.08zM74.8 747.3h1.38v8.28h-1.38zM87.6 747.3h0.48v8.28h-0.48zM101.1 615.7h1.38v8.28h-1.38zM120.0 623.9h0.68v8.28h-0.68zM100.1 632.1h1.08v8.28h-1.08zM109.2 632.1h1.08v8.28h-1.08zM97.1 640.4h0.88v8.28h-0.88zM106.4 665.0h0.88v8.28h-0.88zM117.1 665.0h0.88v8.28h-0.88zM95.8 673.3h1.38v8.28h-1.38zM107.2 722.6h1.08v8.28h-1.08zM100.1 730.9h1.08v8.28h-1.08zM108.2 730.9h1.08v8.28h-1.08zM104.4 739.1h1.08v8.28h-1.08zM138.0 632.1h1.38v8.28h-1.38zM127.7 640.4h1.08v8.28h-1.08zM135.4 640.4h1.38v8.28h-1.38zM147.7 648.6h0.68v8.28h-0.68zM152.5 648.6h1.08v8.28h-1.08zM140.6 698.0h1.08v8.28h-1.08zM139.3 706.2h1.38v8.28h-1.38zM149.6 722.6h0.88v8.28h-0.88zM144.2 763.8h1.08v8.28h-1.08z" fill="#62507a"/>
<path d="M23.3 599.2h1.38v8.28h-1.38zM47.6 599.2h0.68v8.28h-0.68zM29.3 615.7h1.08v8.28h-1.08zM28.5 623.9h0.88v8.28h-0.88zM37.4 632.1h0.68v8.28h-0.68zM19.4 656.8h0.88v8.28h-0.88zM40.2 681.5h1.38v8.28h-1.38zM16.5 698.0h1.38v8.28h-1.38zM42.1 714.4h1.38v8.28h-1.38zM28.5 730.9h0.88v8.28h-0.88zM44.7 730.9h1.38v8.28h-1.38zM30.3 747.3h1.38v8.28h-1.38zM38.0 755.5h0.68v8.28h-0.68zM35.5 763.8h1.38v8.28h-1.38zM52.1 591.0h0.68v8.28h-0.68zM55.8 591.0h0.68v8.28h-0.68zM67.7 591.0h1.08v8.28h-1.08zM63.3 599.2h1.08v8.28h-1.08zM85.7 599.2h0.68v8.28h-0.68zM68.7 615.7h0.68v8.28h-0.68zM76.1 615.7h0.68v8.28h-0.68zM55.8 623.9h0.68v8.28h-0.68zM71.7 623.9h1.38v8.28h-1.38zM74.0 623.9h0.88v8.28h-0.88zM85.7 623.9h0.68v8.28h-0.68zM73.0 632.1h1.08v8.28h-1.08zM74.8 632.1h1.38v8.28h-1.38zM64.3 640.4h0.88v8.28h-0.88zM56.4 648.6h0.88v8.28h-0.88zM57.2 648.6h1.38v8.28h-1.38zM74.8 648.6h1.38v8.28h-1.38zM83.5 665.0h0.68v8.28h-0.68zM87.6 665.0h0.48v8.28h-0.48zM73.0 673.3h1.08v8.28h-1.08zM52.1 681.5h0.68v8.28h-0.68zM84.7 681.5h1.08v8.28h-1.08zM63.3 698.0h1.08v8.28h-1.08zM64.3 698.0h0.88v8.28h-0.88zM55.8 739.1h0.68v8.28h-0.68zM62.5 747.3h0.88v8.28h-0.88zM78.7 747.3h1.38v8.28h-1.38zM80.0 747.3h0.68v8.28h-0.68zM59.8 755.5h0.68v8.28h-0.68zM52.1 763.8h0.68v8.28h-0.68zM117.9 599.2h1.38v8.28h-1.38zM117.9 714.4h1.38v8.28h-1.38zM114.3 722.6h1.08v8.28h-1.08zM101.1 747.3h1.38v8.28h-1.38zM114.3 755.5h1.08v8.28h-1.08zM153.5 599.2h1.08v8.28h-1.08zM154.5 640.4h1.38v8.28h-1.38zM127.7 673.3h1.08v8.28h-1.08zM147.7 689.7h0.68v8.28h-0.68zM151.2 698.0h1.38v8.28h-1.38zM129.5 706.2h1.38v8.28h-1.38zM145.2 714.4h0.68v8.28h-0.68zM127.7 739.1h1.08v8.28h-1.08z" fill="#4a3a1a"/>
<path d="M24.6 599.2h1.38v8.28h-1.38zM29.3 599.2h1.08v8.28h-1.08zM25.9 648.6h0.88v8.28h-0.88zM39.4 656.8h0.88v8.28h-0.88zM40.2 656.8h1.38v8.28h-1.38zM37.4 673.3h0.68v8.28h-0.68zM42.1 739.1h1.38v8.28h-1.38zM17.8 747.3h1.08v8.28h-1.08zM44.7 747.3h1.38v8.28h-1.38zM53.9 599.2h1.38v8.28h-1.38zM80.0 599.2h0.68v8.28h-0.68zM87.6 607.5h0.48v8.28h-0.48zM55.8 615.7h0.68v8.28h-0.68zM59.8 615.7h0.68v8.28h-0.68zM67.7 615.7h1.08v8.28h-1.08zM56.4 623.9h0.88v8.28h-0.88zM53.9 632.1h1.38v8.28h-1.38zM57.2 632.1h1.38v8.28h-1.38zM65.1 648.6h1.08v8.28h-1.08zM64.3 665.0h0.88v8.28h-0.88zM71.1 665.0h0.68v8.28h-0.68zM77.9 665.0h0.88v8.28h-0.88zM85.7 665.0h0.68v8.28h-0.68zM64.3 681.5h0.88v8.28h-0.88zM57.2 689.7h1.38v8.28h-1.38zM74.0 689.7h0.88v8.28h-0.88zM84.1 706.2h0.68v8.28h-0.68zM71.1 722.6h0.68v8.28h-0.68zM66.1 730.9h0.68v8.28h-0.68zM67.7 730.9h1.08v8.28h-1.08zM68.7 739.1h0.68v8.28h-0.68zM59.8 747.3h0.68v8.28h-0.68zM68.7 747.3h0.68v8.28h-0.68zM70.3 755.5h0.88v8.28h-0.88zM74.0 755.5h0.88v8.28h-0.88zM53.3 763.8h0.68v8.28h-0.68zM58.5 763.8h1.38v8.28h-1.38zM82.2 763.8h1.38v8.28h-1.38zM103.0 599.2h0.88v8.28h-0.88zM97.1 607.5h0.88v8.28h-0.88zM107.2 607.5h1.08v8.28h-1.08zM122.2 665.0h0.88v8.28h-0.88zM101.1 714.4h1.38v8.28h-1.38zM103.8 714.4h0.68v8.28h-0.68zM100.1 722.6h1.08v8.28h-1.08zM144.2 615.7h1.08v8.28h-1.08zM132.4 640.4h0.88v8.28h-0.88zM133.2 640.4h0.68v8.28h-0.68zM129.5 648.6h1.38v8.28h-1.38zM148.3 673.3h1.38v8.28h-1.38zM140.6 689.7h1.08v8.28h-1.08zM138.0 722.6h1.38v8.28h-1.38zM125.8 755.5h1.38v8.28h-1.38zM141.6 755.5h1.38v8.28h-1.38zM148.3 755.5h1.38v8.28h-1.38z" fill="#3a2a14"/>
<path d="M30.3 599.2h1.38v8.28h-1.38zM47.0 599.2h0.68v8.28h-0.68zM37.4 615.7h0.68v8.28h-0.68zM47.0 623.9h0.68v8.28h-0.68zM18.8 632.1h0.68v8.28h-0.68zM25.9 632.1h0.88v8.28h-0.88zM36.8 640.4h0.68v8.28h-0.68zM35.5 656.8h1.38v8.28h-1.38zM31.6 681.5h1.38v8.28h-1.38zM37.4 681.5h0.68v8.28h-0.68zM37.4 706.2h0.68v8.28h-0.68zM24.6 722.6h1.38v8.28h-1.38zM44.7 722.6h1.38v8.28h-1.38zM17.8 739.1h1.08v8.28h-1.08zM47.0 739.1h0.68v8.28h-0.68zM27.7 747.3h0.88v8.28h-0.88zM41.5 747.3h0.68v8.28h-0.68zM16.5 755.5h1.38v8.28h-1.38zM41.5 755.5h0.68v8.28h-0.68zM80.0 591.0h0.68v8.28h-0.68zM77.9 599.2h0.88v8.28h-0.88zM64.3 607.5h0.88v8.28h-0.88zM53.3 615.7h0.68v8.28h-0.68zM65.1 615.7h1.08v8.28h-1.08zM53.9 623.9h1.38v8.28h-1.38zM81.4 623.9h0.88v8.28h-0.88zM77.9 632.1h0.88v8.28h-0.88zM85.7 632.1h0.68v8.28h-0.68zM53.3 640.4h0.68v8.28h-0.68zM55.2 640.4h0.68v8.28h-0.68zM56.4 640.4h0.88v8.28h-0.88zM74.8 640.4h1.38v8.28h-1.38zM64.3 656.8h0.88v8.28h-0.88zM66.1 665.0h0.68v8.28h-0.68zM55.8 673.3h0.68v8.28h-0.68zM85.7 673.3h0.68v8.28h-0.68zM55.2 681.5h0.68v8.28h-0.68zM73.0 681.5h1.08v8.28h-1.08zM76.1 681.5h0.68v8.28h-0.68zM77.9 681.5h0.88v8.28h-0.88zM55.2 689.7h0.68v8.28h-0.68zM82.2 689.7h1.38v8.28h-1.38zM55.2 698.0h0.68v8.28h-0.68zM53.3 706.2h0.68v8.28h-0.68zM80.0 706.2h0.68v8.28h-0.68zM53.9 714.4h1.38v8.28h-1.38zM55.2 714.4h0.68v8.28h-0.68zM56.4 714.4h0.88v8.28h-0.88zM57.2 714.4h1.38v8.28h-1.38zM67.7 722.6h1.08v8.28h-1.08zM55.2 730.9h0.68v8.28h-0.68zM66.7 730.9h1.08v8.28h-1.08zM63.3 739.1h1.08v8.28h-1.08zM52.7 747.3h0.68v8.28h-0.68zM53.9 747.3h1.38v8.28h-1.38zM80.0 755.5h0.68v8.28h-0.68zM59.8 763.8h0.68v8.28h-0.68zM64.3 763.8h0.88v8.28h-0.88zM67.7 763.8h1.08v8.28h-1.08zM101.1 607.5h1.38v8.28h-1.38zM112.2 623.9h0.88v8.28h-0.88zM89.8 648.6h1.08v8.28h-1.08zM95.8 648.6h1.38v8.28h-1.38zM98.5 648.6h1.08v8.28h-1.08zM112.2 648.6h0.88v8.28h-0.88zM110.8 665.0h0.68v8.28h-0.68zM100.1 673.3h1.08v8.28h-1.08zM102.4 681.5h0.68v8.28h-0.68zM102.4 706.2h0.68v8.28h-0.68zM107.2 714.4h1.08v8.28h-1.08zM117.1 714.4h0.88v8.28h-0.88zM114.3 730.9h1.08v8.28h-1.08zM90.8 739.1h1.08v8.28h-1.08zM97.9 739.1h0.68v8.28h-0.68zM100.1 739.1h1.08v8.28h-1.08zM106.4 739.1h0.88v8.28h-0.88zM112.2 739.1h0.88v8.28h-0.88zM123.0 739.1h0.88v8.28h-0.88zM89.8 763.8h1.08v8.28h-1.08zM95.8 763.8h1.38v8.28h-1.38zM127.7 623.9h1.08v8.28h-1.08zM130.8 632.1h0.88v8.28h-0.88zM131.6 632.1h0.88v8.28h-0.88zM139.3 632.1h1.38v8.28h-1.38zM149.6 632.1h0.88v8.28h-0.88zM133.8 640.4h0.68v8.28h-0.68zM149.6 656.8h0.88v8.28h-0.88zM152.5 665.0h1.08v8.28h-1.08zM130.8 681.5h0.88v8.28h-0.88zM141.6 689.7h1.38v8.28h-1.38zM145.2 689.7h0.68v8.28h-0.68zM150.4 689.7h0.88v8.28h-0.88zM127.7 698.0h1.08v8.28h-1.08zM142.9 714.4h1.38v8.28h-1.38zM138.0 747.3h1.38v8.28h-1.38zM144.2 755.5h1.08v8.28h-1.08zM140.6 763.8h1.08v8.28h-1.08z" fill="#94782a"/>
<path d="M41.5 599.2h0.68v8.28h-0.68zM23.3 623.9h1.38v8.28h-1.38zM29.3 623.9h1.08v8.28h-1.08zM36.8 623.9h0.68v8.28h-0.68zM23.3 640.4h1.38v8.28h-1.38zM28.5 640.4h0.88v8.28h-0.88zM47.0 640.4h0.68v8.28h-0.68zM31.6 648.6h1.38v8.28h-1.38zM30.3 665.0h1.38v8.28h-1.38zM24.6 681.5h1.38v8.28h-1.38zM37.4 689.7h0.68v8.28h-0.68zM30.3 698.0h1.38v8.28h-1.38zM16.5 706.2h1.38v8.28h-1.38zM35.5 714.4h1.38v8.28h-1.38zM44.7 714.4h1.38v8.28h-1.38zM36.8 722.6h0.68v8.28h-0.68zM36.8 730.9h0.68v8.28h-0.68zM46.0 747.3h1.08v8.28h-1.08zM53.9 591.0h1.38v8.28h-1.38zM74.0 591.0h0.88v8.28h-0.88zM81.4 591.0h0.88v8.28h-0.88zM85.7 591.0h0.68v8.28h-0.68zM87.6 591.0h0.48v8.28h-0.48zM64.3 599.2h0.88v8.28h-0.88zM52.7 607.5h0.68v8.28h-0.68zM57.2 607.5h1.38v8.28h-1.38zM65.1 607.5h1.08v8.28h-1.08zM80.0 607.5h0.68v8.28h-0.68zM55.2 632.1h0.68v8.28h-0.68zM53.3 648.6h0.68v8.28h-0.68zM53.9 656.8h1.38v8.28h-1.38zM81.4 656.8h0.88v8.28h-0.88zM73.0 665.0h1.08v8.28h-1.08zM76.1 665.0h0.68v8.28h-0.68zM81.4 665.0h0.88v8.28h-0.88zM56.4 673.3h0.88v8.28h-0.88zM57.2 673.3h1.38v8.28h-1.38zM87.6 673.3h0.48v8.28h-0.48zM57.2 681.5h1.38v8.28h-1.38zM80.0 681.5h0.68v8.28h-0.68zM85.7 689.7h0.68v8.28h-0.68zM87.6 689.7h0.48v8.28h-0.48zM55.8 698.0h0.68v8.28h-0.68zM56.4 698.0h0.88v8.28h-0.88zM57.2 698.0h1.38v8.28h-1.38zM78.7 698.0h1.38v8.28h-1.38zM74.0 706.2h0.88v8.28h-0.88zM81.4 706.2h0.88v8.28h-0.88zM85.7 706.2h0.68v8.28h-0.68zM58.5 714.4h1.38v8.28h-1.38zM67.7 714.4h1.08v8.28h-1.08zM71.7 714.4h1.38v8.28h-1.38zM80.0 714.4h0.68v8.28h-0.68zM84.1 714.4h0.68v8.28h-0.68zM55.8 722.6h0.68v8.28h-0.68zM65.1 722.6h1.08v8.28h-1.08zM57.2 730.9h1.38v8.28h-1.38zM63.3 730.9h1.08v8.28h-1.08zM74.0 730.9h0.88v8.28h-0.88zM80.0 730.9h0.68v8.28h-0.68zM80.6 739.1h0.88v8.28h-0.88zM85.7 747.3h0.68v8.28h-0.68zM56.4 755.5h0.88v8.28h-0.88zM68.7 755.5h0.68v8.28h-0.68zM77.9 755.5h0.88v8.28h-0.88zM81.4 755.5h0.88v8.28h-0.88zM84.1 755.5h0.68v8.28h-0.68zM56.4 763.8h0.88v8.28h-0.88zM57.2 763.8h1.38v8.28h-1.38zM77.9 763.8h0.88v8.28h-0.88zM84.1 763.8h0.68v8.28h-0.68zM108.2 599.2h1.08v8.28h-1.08zM90.8 607.5h1.08v8.28h-1.08zM120.0 615.7h0.68v8.28h-0.68zM122.2 615.7h0.88v8.28h-0.88zM123.0 615.7h0.88v8.28h-0.88zM89.8 623.9h1.08v8.28h-1.08zM95.8 623.9h1.38v8.28h-1.38zM101.1 623.9h1.38v8.28h-1.38zM123.0 623.9h0.88v8.28h-0.88zM117.1 632.1h0.88v8.28h-0.88zM93.2 640.4h1.08v8.28h-1.08zM104.4 640.4h1.08v8.28h-1.08zM109.2 656.8h1.08v8.28h-1.08zM89.8 706.2h1.08v8.28h-1.08zM89.8 722.6h1.08v8.28h-1.08zM90.8 722.6h1.08v8.28h-1.08zM93.2 722.6h1.08v8.28h-1.08zM93.2 730.9h1.08v8.28h-1.08zM97.9 730.9h0.68v8.28h-0.68zM97.1 739.1h0.88v8.28h-0.88zM97.1 747.3h0.88v8.28h-0.88zM98.5 747.3h1.08v8.28h-1.08zM120.0 755.5h0.68v8.28h-0.68zM101.1 763.8h1.38v8.28h-1.38zM117.9 763.8h1.38v8.28h-1.38zM140.6 591.0h1.08v8.28h-1.08zM144.2 591.0h1.08v8.28h-1.08zM128.7 599.2h0.88v8.28h-0.88zM144.2 599.2h1.08v8.28h-1.08zM130.8 607.5h0.88v8.28h-0.88zM145.2 607.5h0.68v8.28h-0.68zM152.5 615.7h1.08v8.28h-1.08zM153.5 623.9h1.08v8.28h-1.08zM132.4 632.1h0.88v8.28h-0.88zM141.6 632.1h1.38v8.28h-1.38zM148.3 632.1h1.38v8.28h-1.38zM125.8 640.4h1.38v8.28h-1.38zM141.6 640.4h1.38v8.28h-1.38zM128.7 648.6h0.88v8.28h-0.88zM131.6 665.0h0.88v8.28h-0.88zM145.2 665.0h0.68v8.28h-0.68zM133.2 681.5h0.68v8.28h-0.68zM152.5 689.7h1.08v8.28h-1.08zM129.5 698.0h1.38v8.28h-1.38zM152.5 706.2h1.08v8.28h-1.08zM129.5 714.4h1.38v8.28h-1.38zM144.2 714.4h1.08v8.28h-1.08zM152.5 714.4h1.08v8.28h-1.08zM150.4 722.6h0.88v8.28h-0.88zM127.7 730.9h1.08v8.28h-1.08zM128.7 730.9h0.88v8.28h-0.88zM144.2 730.9h1.08v8.28h-1.08zM149.6 730.9h0.88v8.28h-0.88zM142.9 739.1h1.38v8.28h-1.38zM141.6 747.3h1.38v8.28h-1.38z" fill="#5a4818"/>
<path d="M44.7 599.2h1.38v8.28h-1.38zM35.5 615.7h1.38v8.28h-1.38zM24.6 656.8h1.38v8.28h-1.38zM28.5 656.8h0.88v8.28h-0.88zM30.3 656.8h1.38v8.28h-1.38zM42.1 656.8h1.38v8.28h-1.38zM24.6 673.3h1.38v8.28h-1.38zM30.3 714.4h1.38v8.28h-1.38zM56.4 591.0h0.88v8.28h-0.88zM62.5 591.0h0.88v8.28h-0.88zM71.7 591.0h1.38v8.28h-1.38zM82.2 591.0h1.38v8.28h-1.38zM58.5 599.2h1.38v8.28h-1.38zM81.4 599.2h0.88v8.28h-0.88zM74.0 607.5h0.88v8.28h-0.88zM61.7 615.7h0.88v8.28h-0.88zM71.1 615.7h0.68v8.28h-0.68zM85.7 615.7h0.68v8.28h-0.68zM80.0 632.1h0.68v8.28h-0.68zM66.7 648.6h1.08v8.28h-1.08zM66.1 656.8h0.68v8.28h-0.68zM58.5 665.0h1.38v8.28h-1.38zM59.8 665.0h0.68v8.28h-0.68zM82.2 665.0h1.38v8.28h-1.38zM84.7 673.3h1.08v8.28h-1.08zM59.8 681.5h0.68v8.28h-0.68zM71.7 698.0h1.38v8.28h-1.38zM77.9 698.0h0.88v8.28h-0.88zM74.8 706.2h1.38v8.28h-1.38zM81.4 714.4h0.88v8.28h-0.88zM76.1 722.6h0.68v8.28h-0.68zM59.8 730.9h0.68v8.28h-0.68zM73.0 739.1h1.08v8.28h-1.08zM77.9 739.1h0.88v8.28h-0.88zM90.8 623.9h1.08v8.28h-1.08zM93.2 632.1h1.08v8.28h-1.08zM95.8 656.8h1.38v8.28h-1.38zM104.4 665.0h1.08v8.28h-1.08zM117.9 665.0h1.38v8.28h-1.38zM97.9 722.6h0.68v8.28h-0.68zM117.1 730.9h0.88v8.28h-0.88zM141.6 607.5h1.38v8.28h-1.38zM141.6 623.9h1.38v8.28h-1.38zM144.2 623.9h1.08v8.28h-1.08zM145.2 623.9h0.68v8.28h-0.68zM131.6 640.4h0.88v8.28h-0.88zM139.3 640.4h1.38v8.28h-1.38zM128.7 656.8h0.88v8.28h-0.88zM145.2 656.8h0.68v8.28h-0.68zM133.2 665.0h0.68v8.28h-0.68zM145.2 706.2h0.68v8.28h-0.68zM152.5 730.9h1.08v8.28h-1.08zM130.8 739.1h0.88v8.28h-0.88zM133.2 755.5h0.68v8.28h-0.68zM150.4 755.5h0.88v8.28h-0.88z" fill="#c8a82c"/>
<path d="M15.5 607.5h1.08v8.28h-1.08zM30.3 615.7h1.38v8.28h-1.38zM31.6 632.1h1.38v8.28h-1.38zM21.2 681.5h0.88v8.28h-0.88zM20.2 689.7h1.08v8.28h-1.08zM21.2 706.2h0.88v8.28h-0.88zM29.3 706.2h1.08v8.28h-1.08zM48.2 706.2h1.08v8.28h-1.08zM25.9 714.4h0.88v8.28h-0.88zM28.5 739.1h0.88v8.28h-0.88zM47.0 755.5h0.68v8.28h-0.68zM48.2 755.5h1.08v8.28h-1.08zM28.5 763.8h0.88v8.28h-0.88zM31.6 763.8h1.38v8.28h-1.38zM55.2 591.0h0.68v8.28h-0.68zM58.5 591.0h1.38v8.28h-1.38zM63.3 591.0h1.08v8.28h-1.08zM59.8 607.5h0.68v8.28h-0.68zM73.0 607.5h1.08v8.28h-1.08zM53.9 615.7h1.38v8.28h-1.38zM58.5 623.9h1.38v8.28h-1.38zM64.3 623.9h0.88v8.28h-0.88zM66.7 632.1h1.08v8.28h-1.08zM74.0 632.1h0.88v8.28h-0.88zM87.6 632.1h0.48v8.28h-0.48zM77.9 656.8h0.88v8.28h-0.88zM78.7 656.8h1.38v8.28h-1.38zM80.0 656.8h0.68v8.28h-0.68zM80.6 656.8h0.88v8.28h-0.88zM87.6 656.8h0.48v8.28h-0.48zM67.7 673.3h1.08v8.28h-1.08zM53.9 698.0h1.38v8.28h-1.38zM58.5 698.0h1.38v8.28h-1.38zM71.7 706.2h1.38v8.28h-1.38zM52.1 714.4h0.68v8.28h-0.68zM66.1 722.6h0.68v8.28h-0.68zM84.1 722.6h0.68v8.28h-0.68zM87.6 722.6h0.48v8.28h-0.48zM53.3 730.9h0.68v8.28h-0.68zM71.7 747.3h1.38v8.28h-1.38zM73.0 747.3h1.08v8.28h-1.08zM63.3 755.5h1.08v8.28h-1.08zM65.1 755.5h1.08v8.28h-1.08zM53.9 763.8h1.38v8.28h-1.38zM112.2 591.0h0.88v8.28h-0.88zM103.8 607.5h0.68v8.28h-0.68zM104.4 607.5h1.08v8.28h-1.08zM112.2 615.7h0.88v8.28h-0.88zM114.3 623.9h1.08v8.28h-1.08zM90.8 632.1h1.08v8.28h-1.08zM97.1 632.1h0.88v8.28h-0.88zM107.2 632.1h1.08v8.28h-1.08zM120.0 632.1h0.68v8.28h-0.68zM107.2 648.6h1.08v8.28h-1.08zM101.1 673.3h1.38v8.28h-1.38zM117.1 673.3h0.88v8.28h-0.88zM92.6 689.7h0.68v8.28h-0.68zM104.4 689.7h1.08v8.28h-1.08zM106.4 689.7h0.88v8.28h-0.88zM122.2 714.4h0.88v8.28h-0.88zM122.2 739.1h0.88v8.28h-0.88zM100.1 763.8h1.08v8.28h-1.08zM127.7 591.0h1.08v8.28h-1.08zM134.4 591.0h1.08v8.28h-1.08zM149.6 623.9h0.88v8.28h-0.88zM151.2 632.1h1.38v8.28h-1.38zM130.8 648.6h0.88v8.28h-0.88zM144.2 648.6h1.08v8.28h-1.08zM144.2 656.8h1.08v8.28h-1.08zM140.6 665.0h1.08v8.28h-1.08zM131.6 673.3h0.88v8.28h-0.88zM150.4 673.3h0.88v8.28h-0.88zM144.2 681.5h1.08v8.28h-1.08zM127.7 689.7h1.08v8.28h-1.08zM129.5 689.7h1.38v8.28h-1.38zM142.9 689.7h1.38v8.28h-1.38zM141.6 698.0h1.38v8.28h-1.38zM148.3 698.0h1.38v8.28h-1.38zM152.5 698.0h1.08v8.28h-1.08zM148.3 730.9h1.38v8.28h-1.38zM133.2 747.3h0.68v8.28h-0.68zM139.3 755.5h1.38v8.28h-1.38z" fill="#a48828"/>
<path d="M16.5 607.5h1.38v8.28h-1.38zM24.6 615.7h1.38v8.28h-1.38zM47.6 615.7h0.68v8.28h-0.68zM30.3 640.4h1.38v8.28h-1.38zM31.6 640.4h1.38v8.28h-1.38zM37.4 640.4h0.68v8.28h-0.68zM24.6 648.6h1.38v8.28h-1.38zM17.8 673.3h1.08v8.28h-1.08zM30.3 673.3h1.38v8.28h-1.38zM15.5 681.5h1.08v8.28h-1.08zM44.7 689.7h1.38v8.28h-1.38zM47.0 706.2h0.68v8.28h-0.68zM24.6 714.4h1.38v8.28h-1.38zM31.6 722.6h1.38v8.28h-1.38zM39.4 722.6h0.88v8.28h-0.88zM23.3 730.9h1.38v8.28h-1.38zM24.6 739.1h1.38v8.28h-1.38zM35.5 739.1h1.38v8.28h-1.38zM39.4 739.1h0.88v8.28h-0.88zM37.4 747.3h0.68v8.28h-0.68zM31.6 755.5h1.38v8.28h-1.38zM44.7 763.8h1.38v8.28h-1.38zM59.8 591.0h0.68v8.28h-0.68zM74.8 591.0h1.38v8.28h-1.38zM78.7 591.0h1.38v8.28h-1.38zM80.6 591.0h0.88v8.28h-0.88zM59.8 599.2h0.68v8.28h-0.68zM66.1 599.2h0.68v8.28h-0.68zM74.0 599.2h0.88v8.28h-0.88zM76.1 599.2h0.68v8.28h-0.68zM83.5 599.2h0.68v8.28h-0.68zM55.8 607.5h0.68v8.28h-0.68zM85.7 607.5h0.68v8.28h-0.68zM55.2 615.7h0.68v8.28h-0.68zM84.7 615.7h1.08v8.28h-1.08zM53.3 623.9h0.68v8.28h-0.68zM66.1 623.9h0.68v8.28h-0.68zM77.9 623.9h0.88v8.28h-0.88zM58.5 632.1h1.38v8.28h-1.38zM76.1 632.1h0.68v8.28h-0.68zM80.6 632.1h0.88v8.28h-0.88zM81.4 632.1h0.88v8.28h-0.88zM53.9 640.4h1.38v8.28h-1.38zM81.4 640.4h0.88v8.28h-0.88zM85.7 640.4h0.68v8.28h-0.68zM67.7 648.6h1.08v8.28h-1.08zM74.0 648.6h0.88v8.28h-0.88zM77.9 648.6h0.88v8.28h-0.88zM78.7 648.6h1.38v8.28h-1.38zM73.0 656.8h1.08v8.28h-1.08zM85.7 656.8h0.68v8.28h-0.68zM56.4 665.0h0.88v8.28h-0.88zM80.0 665.0h0.68v8.28h-0.68zM63.3 681.5h1.08v8.28h-1.08zM71.1 681.5h0.68v8.28h-0.68zM78.7 681.5h1.38v8.28h-1.38zM55.8 689.7h0.68v8.28h-0.68zM74.0 698.0h0.88v8.28h-0.88zM84.7 698.0h1.08v8.28h-1.08zM63.3 706.2h1.08v8.28h-1.08zM64.3 706.2h0.88v8.28h-0.88zM77.9 706.2h0.88v8.28h-0.88zM80.6 706.2h0.88v8.28h-0.88zM83.5 706.2h0.68v8.28h-0.68zM53.3 714.4h0.68v8.28h-0.68zM63.3 714.4h1.08v8.28h-1.08zM78.7 714.4h1.38v8.28h-1.38zM53.9 722.6h1.38v8.28h-1.38zM74.8 722.6h1.38v8.28h-1.38zM85.7 722.6h0.68v8.28h-0.68zM61.7 730.9h0.88v8.28h-0.88zM73.0 730.9h1.08v8.28h-1.08zM74.8 730.9h1.38v8.28h-1.38zM77.9 730.9h0.88v8.28h-0.88zM71.7 739.1h1.38v8.28h-1.38zM87.6 739.1h0.48v8.28h-0.48zM56.4 747.3h0.88v8.28h-0.88zM58.5 747.3h1.38v8.28h-1.38zM65.1 747.3h1.08v8.28h-1.08zM77.9 747.3h0.88v8.28h-0.88zM74.8 755.5h1.38v8.28h-1.38zM55.2 763.8h0.68v8.28h-0.68zM63.3 763.8h1.08v8.28h-1.08zM66.1 763.8h0.68v8.28h-0.68zM71.1 763.8h0.68v8.28h-0.68zM89.8 599.2h1.08v8.28h-1.08zM122.2 607.5h0.88v8.28h-0.88zM107.2 615.7h1.08v8.28h-1.08zM115.3 623.9h0.88v8.28h-0.88zM123.0 632.1h0.88v8.28h-0.88zM90.8 648.6h1.08v8.28h-1.08zM100.1 648.6h1.08v8.28h-1.08zM113.0 648.6h1.38v8.28h-1.38zM122.2 648.6h0.88v8.28h-0.88zM107.2 656.8h1.08v8.28h-1.08zM93.2 681.5h1.08v8.28h-1.08zM101.1 681.5h1.38v8.28h-1.38zM107.2 681.5h1.08v8.28h-1.08zM112.2 681.5h0.88v8.28h-0.88zM101.1 689.7h1.38v8.28h-1.38zM97.1 730.9h0.88v8.28h-0.88zM95.8 739.1h1.38v8.28h-1.38zM107.2 739.1h1.08v8.28h-1.08zM138.0 591.0h1.38v8.28h-1.38zM130.8 599.2h0.88v8.28h-0.88zM131.6 599.2h0.88v8.28h-0.88zM149.6 607.5h0.88v8.28h-0.88zM131.6 623.9h0.88v8.28h-0.88zM139.3 623.9h1.38v8.28h-1.38zM150.4 623.9h0.88v8.28h-0.88zM127.1 640.4h0.68v8.28h-0.68zM138.0 640.4h1.38v8.28h-1.38zM145.2 640.4h0.68v8.28h-0.68zM155.8 640.4h0.48v8.28h-0.48zM140.6 656.8h1.08v8.28h-1.08zM134.4 665.0h1.08v8.28h-1.08zM144.2 689.7h1.08v8.28h-1.08zM128.7 698.0h0.88v8.28h-0.88zM131.6 698.0h0.88v8.28h-0.88zM131.6 706.2h0.88v8.28h-0.88zM141.6 706.2h1.38v8.28h-1.38zM142.9 706.2h1.38v8.28h-1.38zM140.6 722.6h1.08v8.28h-1.08zM144.2 722.6h1.08v8.28h-1.08zM145.2 722.6h0.68v8.28h-0.68zM129.5 739.1h1.38v8.28h-1.38zM144.2 739.1h1.08v8.28h-1.08zM127.7 747.3h1.08v8.28h-1.08zM128.7 747.3h0.88v8.28h-0.88zM129.5 747.3h1.38v8.28h-1.38zM145.2 747.3h0.68v8.28h-0.68zM132.4 755.5h0.88v8.28h-0.88zM135.4 755.5h1.38v8.28h-1.38zM127.7 763.8h1.08v8.28h-1.08zM130.8 763.8h0.88v8.28h-0.88zM138.0 763.8h1.38v8.28h-1.38zM141.6 763.8h1.38v8.28h-1.38z" fill="#806a50"/>
<path d="M17.8 607.5h1.08v8.28h-1.08zM44.7 615.7h1.38v8.28h-1.38zM16.5 640.4h1.38v8.28h-1.38zM48.2 665.0h1.08v8.28h-1.08zM25.9 673.3h0.88v8.28h-0.88zM44.7 673.3h1.38v8.28h-1.38zM36.8 698.0h0.68v8.28h-0.68zM23.3 714.4h1.38v8.28h-1.38zM17.8 730.9h1.08v8.28h-1.08zM30.3 730.9h1.38v8.28h-1.38zM36.8 739.1h0.68v8.28h-0.68zM37.4 739.1h0.68v8.28h-0.68zM37.4 755.5h0.68v8.28h-0.68zM23.3 763.8h1.38v8.28h-1.38zM53.3 591.0h0.68v8.28h-0.68zM64.3 591.0h0.88v8.28h-0.88zM76.1 591.0h0.68v8.28h-0.68zM77.9 591.0h0.88v8.28h-0.88zM67.7 599.2h1.08v8.28h-1.08zM84.7 599.2h1.08v8.28h-1.08zM83.5 607.5h0.68v8.28h-0.68zM58.5 615.7h1.38v8.28h-1.38zM73.0 623.9h1.08v8.28h-1.08zM80.6 623.9h0.88v8.28h-0.88zM71.1 632.1h0.68v8.28h-0.68zM58.5 640.4h1.38v8.28h-1.38zM59.8 640.4h0.68v8.28h-0.68zM73.0 640.4h1.08v8.28h-1.08zM58.5 656.8h1.38v8.28h-1.38zM53.9 665.0h1.38v8.28h-1.38zM69.3 665.0h1.08v8.28h-1.08zM78.7 665.0h1.38v8.28h-1.38zM84.1 665.0h0.68v8.28h-0.68zM55.2 673.3h0.68v8.28h-0.68zM59.8 673.3h0.68v8.28h-0.68zM63.3 673.3h1.08v8.28h-1.08zM80.6 673.3h0.88v8.28h-0.88zM74.0 681.5h0.88v8.28h-0.88zM87.6 681.5h0.48v8.28h-0.48zM59.8 689.7h0.68v8.28h-0.68zM67.7 689.7h1.08v8.28h-1.08zM68.7 698.0h0.68v8.28h-0.68zM77.9 714.4h0.88v8.28h-0.88zM80.6 714.4h0.88v8.28h-0.88zM85.7 714.4h0.68v8.28h-0.68zM52.7 730.9h0.68v8.28h-0.68zM53.9 730.9h1.38v8.28h-1.38zM58.5 730.9h1.38v8.28h-1.38zM87.6 730.9h0.48v8.28h-0.48zM58.5 739.1h1.38v8.28h-1.38zM84.7 739.1h1.08v8.28h-1.08zM63.3 747.3h1.08v8.28h-1.08zM74.0 747.3h0.88v8.28h-0.88zM81.4 747.3h0.88v8.28h-0.88zM55.8 755.5h0.68v8.28h-0.68zM66.1 755.5h0.68v8.28h-0.68zM71.7 755.5h1.38v8.28h-1.38zM73.0 755.5h1.08v8.28h-1.08zM84.7 755.5h1.08v8.28h-1.08zM85.7 755.5h0.68v8.28h-0.68zM80.0 763.8h0.68v8.28h-0.68zM81.4 763.8h0.88v8.28h-0.88zM93.2 591.0h1.08v8.28h-1.08zM104.4 591.0h1.08v8.28h-1.08zM120.0 599.2h0.68v8.28h-0.68zM98.5 623.9h1.08v8.28h-1.08zM107.2 623.9h1.08v8.28h-1.08zM104.4 632.1h1.08v8.28h-1.08zM89.8 640.4h1.08v8.28h-1.08zM101.1 648.6h1.38v8.28h-1.38zM117.9 656.8h1.38v8.28h-1.38zM110.2 665.0h0.68v8.28h-0.68zM120.0 673.3h0.68v8.28h-0.68zM90.8 689.7h1.08v8.28h-1.08zM104.4 714.4h1.08v8.28h-1.08zM109.2 714.4h1.08v8.28h-1.08zM112.2 714.4h0.88v8.28h-0.88zM120.0 714.4h0.68v8.28h-0.68zM90.8 730.9h1.08v8.28h-1.08zM102.4 730.9h0.68v8.28h-0.68zM104.4 730.9h1.08v8.28h-1.08zM120.0 730.9h0.68v8.28h-0.68zM117.9 747.3h1.38v8.28h-1.38zM104.4 755.5h1.08v8.28h-1.08zM141.6 591.0h1.38v8.28h-1.38zM152.5 599.2h1.08v8.28h-1.08zM151.2 607.5h1.38v8.28h-1.38zM152.5 607.5h1.08v8.28h-1.08zM140.6 615.7h1.08v8.28h-1.08zM149.6 615.7h0.88v8.28h-0.88zM134.4 632.1h1.08v8.28h-1.08zM152.5 632.1h1.08v8.28h-1.08zM153.5 632.1h1.08v8.28h-1.08zM140.6 640.4h1.08v8.28h-1.08zM148.3 640.4h1.38v8.28h-1.38zM127.7 648.6h1.08v8.28h-1.08zM149.6 648.6h0.88v8.28h-0.88zM127.7 656.8h1.08v8.28h-1.08zM125.8 665.0h1.38v8.28h-1.38zM141.6 665.0h1.38v8.28h-1.38zM140.6 673.3h1.08v8.28h-1.08zM138.0 698.0h1.38v8.28h-1.38zM150.4 706.2h0.88v8.28h-0.88zM131.6 714.4h0.88v8.28h-0.88zM134.4 722.6h1.08v8.28h-1.08zM141.6 722.6h1.38v8.28h-1.38zM140.6 730.9h1.08v8.28h-1.08zM141.6 739.1h1.38v8.28h-1.38zM145.2 739.1h0.68v8.28h-0.68zM148.3 739.1h1.38v8.28h-1.38zM125.8 747.3h1.38v8.28h-1.38zM152.5 747.3h1.08v8.28h-1.08zM152.5 755.5h1.08v8.28h-1.08zM148.3 763.8h1.38v8.28h-1.38z" fill="#6a5418"/>
<path d="M29.3 607.5h1.08v8.28h-1.08zM31.6 607.5h1.38v8.28h-1.38zM37.4 607.5h0.68v8.28h-0.68zM44.7 623.9h1.38v8.28h-1.38zM21.2 640.4h0.88v8.28h-0.88zM29.3 648.6h1.08v8.28h-1.08zM30.3 648.6h1.38v8.28h-1.38zM38.6 656.8h0.88v8.28h-0.88zM39.4 665.0h0.88v8.28h-0.88zM47.6 673.3h0.68v8.28h-0.68zM28.5 681.5h0.88v8.28h-0.88zM30.3 681.5h1.38v8.28h-1.38zM47.0 681.5h0.68v8.28h-0.68zM49.2 681.5h1.08v8.28h-1.08zM29.3 689.7h1.08v8.28h-1.08zM31.6 689.7h1.38v8.28h-1.38zM36.8 689.7h0.68v8.28h-0.68zM44.7 698.0h1.38v8.28h-1.38zM48.2 698.0h1.08v8.28h-1.08zM18.8 722.6h0.68v8.28h-0.68zM21.2 722.6h0.88v8.28h-0.88zM25.9 722.6h0.88v8.28h-0.88zM30.3 722.6h1.38v8.28h-1.38zM47.0 722.6h0.68v8.28h-0.68zM37.4 730.9h0.68v8.28h-0.68zM39.4 730.9h0.88v8.28h-0.88zM16.5 739.1h1.38v8.28h-1.38zM38.6 739.1h0.88v8.28h-0.88zM29.3 747.3h1.08v8.28h-1.08zM38.0 747.3h0.68v8.28h-0.68zM39.4 747.3h0.88v8.28h-0.88zM37.4 763.8h0.68v8.28h-0.68zM49.2 763.8h1.08v8.28h-1.08zM68.7 591.0h0.68v8.28h-0.68zM84.1 591.0h0.68v8.28h-0.68zM56.4 599.2h0.88v8.28h-0.88zM66.7 599.2h1.08v8.28h-1.08zM71.1 599.2h0.68v8.28h-0.68zM71.7 599.2h1.38v8.28h-1.38zM78.7 599.2h1.38v8.28h-1.38zM84.1 599.2h0.68v8.28h-0.68zM53.9 607.5h1.38v8.28h-1.38zM61.7 607.5h0.88v8.28h-0.88zM63.3 607.5h1.08v8.28h-1.08zM70.3 607.5h0.88v8.28h-0.88zM71.7 607.5h1.38v8.28h-1.38zM82.2 607.5h1.38v8.28h-1.38zM63.3 615.7h1.08v8.28h-1.08zM66.1 615.7h0.68v8.28h-0.68zM74.8 615.7h1.38v8.28h-1.38zM80.0 615.7h0.68v8.28h-0.68zM80.6 615.7h0.88v8.28h-0.88zM81.4 615.7h0.88v8.28h-0.88zM84.1 615.7h0.68v8.28h-0.68zM87.6 615.7h0.48v8.28h-0.48zM80.0 623.9h0.68v8.28h-0.68zM67.7 632.1h1.08v8.28h-1.08zM71.7 632.1h1.38v8.28h-1.38zM76.7 632.1h0.68v8.28h-0.68zM78.7 632.1h1.38v8.28h-1.38zM82.2 632.1h1.38v8.28h-1.38zM57.2 640.4h1.38v8.28h-1.38zM71.1 640.4h0.68v8.28h-0.68zM71.7 640.4h1.38v8.28h-1.38zM76.1 640.4h0.68v8.28h-0.68zM77.9 640.4h0.88v8.28h-0.88zM84.7 640.4h1.08v8.28h-1.08zM55.2 648.6h0.68v8.28h-0.68zM59.8 648.6h0.68v8.28h-0.68zM63.3 648.6h1.08v8.28h-1.08zM64.3 648.6h0.88v8.28h-0.88zM80.0 648.6h0.68v8.28h-0.68zM81.4 648.6h0.88v8.28h-0.88zM82.2 648.6h1.38v8.28h-1.38zM85.7 648.6h0.68v8.28h-0.68zM55.8 656.8h0.68v8.28h-0.68zM56.4 656.8h0.88v8.28h-0.88zM63.3 656.8h1.08v8.28h-1.08zM53.3 665.0h0.68v8.28h-0.68zM66.7 665.0h1.08v8.28h-1.08zM74.8 665.0h1.38v8.28h-1.38zM80.6 665.0h0.88v8.28h-0.88zM66.1 673.3h0.68v8.28h-0.68zM71.7 673.3h1.38v8.28h-1.38zM74.8 673.3h1.38v8.28h-1.38zM53.9 681.5h1.38v8.28h-1.38zM55.8 681.5h0.68v8.28h-0.68zM65.1 681.5h1.08v8.28h-1.08zM81.4 681.5h0.88v8.28h-0.88zM52.7 689.7h0.68v8.28h-0.68zM63.3 689.7h1.08v8.28h-1.08zM64.3 689.7h0.88v8.28h-0.88zM66.1 689.7h0.68v8.28h-0.68zM74.8 689.7h1.38v8.28h-1.38zM77.9 689.7h0.88v8.28h-0.88zM80.0 689.7h0.68v8.28h-0.68zM80.6 689.7h0.88v8.28h-0.88zM81.4 689.7h0.88v8.28h-0.88zM52.1 698.0h0.68v8.28h-0.68zM53.3 698.0h0.68v8.28h-0.68zM80.0 698.0h0.68v8.28h-0.68zM81.4 698.0h0.88v8.28h-0.88zM83.5 698.0h0.68v8.28h-0.68zM87.6 698.0h0.48v8.28h-0.48zM53.9 706.2h1.38v8.28h-1.38zM84.7 706.2h1.08v8.28h-1.08zM64.3 714.4h0.88v8.28h-0.88zM66.1 714.4h0.68v8.28h-0.68zM73.0 714.4h1.08v8.28h-1.08zM74.8 714.4h1.38v8.28h-1.38zM52.1 722.6h0.68v8.28h-0.68zM55.2 722.6h0.68v8.28h-0.68zM59.8 722.6h0.68v8.28h-0.68zM63.3 722.6h1.08v8.28h-1.08zM64.3 722.6h0.88v8.28h-0.88zM68.7 722.6h0.68v8.28h-0.68zM73.0 722.6h1.08v8.28h-1.08zM80.0 722.6h0.68v8.28h-0.68zM80.6 722.6h0.88v8.28h-0.88zM83.5 722.6h0.68v8.28h-0.68zM64.3 730.9h0.88v8.28h-0.88zM81.4 730.9h0.88v8.28h-0.88zM84.1 730.9h0.68v8.28h-0.68zM85.7 730.9h0.68v8.28h-0.68zM56.4 739.1h0.88v8.28h-0.88zM59.8 739.1h0.68v8.28h-0.68zM65.1 739.1h1.08v8.28h-1.08zM80.0 739.1h0.68v8.28h-0.68zM81.4 739.1h0.88v8.28h-0.88zM83.5 739.1h0.68v8.28h-0.68zM52.1 747.3h0.68v8.28h-0.68zM55.2 747.3h0.68v8.28h-0.68zM64.3 747.3h0.88v8.28h-0.88zM84.1 747.3h0.68v8.28h-0.68zM64.3 755.5h0.88v8.28h-0.88zM67.7 755.5h1.08v8.28h-1.08zM82.2 755.5h1.38v8.28h-1.38zM87.6 755.5h0.48v8.28h-0.48zM55.8 763.8h0.68v8.28h-0.68zM73.0 763.8h1.08v8.28h-1.08zM102.4 599.2h0.68v8.28h-0.68zM106.4 599.2h0.88v8.28h-0.88zM111.4 599.2h0.88v8.28h-0.88zM117.1 599.2h0.88v8.28h-0.88zM117.9 615.7h1.38v8.28h-1.38zM101.1 632.1h1.38v8.28h-1.38zM112.2 632.1h0.88v8.28h-0.88zM97.9 640.4h0.68v8.28h-0.68zM117.1 640.4h0.88v8.28h-0.88zM117.1 648.6h0.88v8.28h-0.88zM104.4 656.8h1.08v8.28h-1.08zM93.2 665.0h1.08v8.28h-1.08zM95.8 665.0h1.38v8.28h-1.38zM97.1 665.0h0.88v8.28h-0.88zM100.1 665.0h1.08v8.28h-1.08zM114.3 665.0h1.08v8.28h-1.08zM114.3 673.3h1.08v8.28h-1.08zM97.1 681.5h0.88v8.28h-0.88zM97.1 689.7h0.88v8.28h-0.88zM97.9 689.7h0.68v8.28h-0.68zM123.0 689.7h0.88v8.28h-0.88zM100.1 698.0h1.08v8.28h-1.08zM102.4 714.4h0.68v8.28h-0.68zM114.3 714.4h1.08v8.28h-1.08zM97.1 722.6h0.88v8.28h-0.88zM103.8 722.6h0.68v8.28h-0.68zM111.4 722.6h0.88v8.28h-0.88zM112.2 722.6h0.88v8.28h-0.88zM103.8 730.9h0.68v8.28h-0.68zM111.4 730.9h0.88v8.28h-0.88zM107.2 747.3h1.08v8.28h-1.08zM90.8 763.8h1.08v8.28h-1.08zM130.8 591.0h0.88v8.28h-0.88zM139.3 591.0h1.38v8.28h-1.38zM155.8 591.0h0.48v8.28h-0.48zM134.4 599.2h1.08v8.28h-1.08zM140.6 599.2h1.08v8.28h-1.08zM141.6 599.2h1.38v8.28h-1.38zM140.6 607.5h1.08v8.28h-1.08zM127.7 615.7h1.08v8.28h-1.08zM141.6 615.7h1.38v8.28h-1.38zM148.3 615.7h1.38v8.28h-1.38zM151.2 615.7h1.38v8.28h-1.38zM148.3 623.9h1.38v8.28h-1.38zM151.2 623.9h1.38v8.28h-1.38zM152.5 623.9h1.08v8.28h-1.08zM135.4 632.1h1.38v8.28h-1.38zM140.6 632.1h1.08v8.28h-1.08zM149.6 640.4h0.88v8.28h-0.88zM150.4 640.4h0.88v8.28h-0.88zM151.2 640.4h1.38v8.28h-1.38zM152.5 640.4h1.08v8.28h-1.08zM153.5 640.4h1.08v8.28h-1.08zM140.6 648.6h1.08v8.28h-1.08zM141.6 648.6h1.38v8.28h-1.38zM141.6 656.8h1.38v8.28h-1.38zM151.2 656.8h1.38v8.28h-1.38zM139.3 673.3h1.38v8.28h-1.38zM141.6 673.3h1.38v8.28h-1.38zM145.2 673.3h0.68v8.28h-0.68zM131.6 681.5h0.88v8.28h-0.88zM140.6 681.5h1.08v8.28h-1.08zM141.6 681.5h1.38v8.28h-1.38zM133.2 689.7h0.68v8.28h-0.68zM139.3 689.7h1.38v8.28h-1.38zM144.2 698.0h1.08v8.28h-1.08zM150.4 698.0h0.88v8.28h-0.88zM135.4 706.2h1.38v8.28h-1.38zM149.6 706.2h0.88v8.28h-0.88zM153.5 706.2h1.08v8.28h-1.08zM138.0 714.4h1.38v8.28h-1.38zM139.3 714.4h1.38v8.28h-1.38zM140.6 714.4h1.08v8.28h-1.08zM141.6 714.4h1.38v8.28h-1.38zM129.5 722.6h1.38v8.28h-1.38zM131.6 722.6h0.88v8.28h-0.88zM153.5 722.6h1.08v8.28h-1.08zM125.8 730.9h1.38v8.28h-1.38zM142.9 730.9h1.38v8.28h-1.38zM139.3 739.1h1.38v8.28h-1.38zM152.5 739.1h1.08v8.28h-1.08zM144.2 747.3h1.08v8.28h-1.08zM149.6 747.3h0.88v8.28h-0.88zM131.6 755.5h0.88v8.28h-0.88zM153.5 755.5h1.08v8.28h-1.08zM125.8 763.8h1.38v8.28h-1.38zM149.6 763.8h0.88v8.28h-0.88z" fill="#7a6220"/>
<path d="M30.3 607.5h1.38v8.28h-1.38zM17.8 615.7h1.08v8.28h-1.08zM31.6 623.9h1.38v8.28h-1.38zM17.8 640.4h1.08v8.28h-1.08zM23.3 656.8h1.38v8.28h-1.38zM43.4 665.0h1.38v8.28h-1.38zM47.0 673.3h0.68v8.28h-0.68zM39.4 698.0h0.88v8.28h-0.88zM31.6 706.2h1.38v8.28h-1.38zM47.6 714.4h0.68v8.28h-0.68zM31.6 730.9h1.38v8.28h-1.38zM23.3 747.3h1.38v8.28h-1.38zM17.8 755.5h1.08v8.28h-1.08zM16.5 763.8h1.38v8.28h-1.38zM38.0 763.8h0.68v8.28h-0.68zM73.0 591.0h1.08v8.28h-1.08zM55.2 607.5h0.68v8.28h-0.68zM58.5 607.5h1.38v8.28h-1.38zM64.3 632.1h0.88v8.28h-0.88zM80.0 640.4h0.68v8.28h-0.68zM55.8 665.0h0.68v8.28h-0.68zM77.9 673.3h0.88v8.28h-0.88zM82.2 673.3h1.38v8.28h-1.38zM73.0 689.7h1.08v8.28h-1.08zM55.2 706.2h0.68v8.28h-0.68zM55.8 714.4h0.68v8.28h-0.68zM74.0 714.4h0.88v8.28h-0.88zM71.7 722.6h1.38v8.28h-1.38zM64.3 739.1h0.88v8.28h-0.88zM67.7 739.1h1.08v8.28h-1.08zM53.3 747.3h0.68v8.28h-0.68zM71.7 763.8h1.38v8.28h-1.38zM117.1 623.9h0.88v8.28h-0.88zM106.4 656.8h0.88v8.28h-0.88zM95.8 681.5h1.38v8.28h-1.38zM101.1 730.9h1.38v8.28h-1.38zM104.4 747.3h1.08v8.28h-1.08zM117.1 747.3h0.88v8.28h-0.88zM89.8 755.5h1.08v8.28h-1.08zM127.7 599.2h1.08v8.28h-1.08zM153.5 615.7h1.08v8.28h-1.08zM130.8 623.9h0.88v8.28h-0.88zM127.7 632.1h1.08v8.28h-1.08zM144.2 632.1h1.08v8.28h-1.08zM147.7 632.1h0.68v8.28h-0.68zM134.4 656.8h1.08v8.28h-1.08zM153.5 665.0h1.08v8.28h-1.08zM144.2 673.3h1.08v8.28h-1.08zM151.2 689.7h1.38v8.28h-1.38zM135.4 698.0h1.38v8.28h-1.38zM128.7 714.4h0.88v8.28h-0.88zM127.7 722.6h1.08v8.28h-1.08zM154.5 722.6h1.38v8.28h-1.38zM135.4 730.9h1.38v8.28h-1.38zM140.6 739.1h1.08v8.28h-1.08zM130.8 755.5h0.88v8.28h-0.88zM151.2 755.5h1.38v8.28h-1.38zM134.4 763.8h1.08v8.28h-1.08zM151.2 763.8h1.38v8.28h-1.38z" fill="#b89a2a"/>
<path d="M25.9 615.7h0.88v8.28h-0.88zM31.6 615.7h1.38v8.28h-1.38zM30.3 632.1h1.38v8.28h-1.38zM17.8 648.6h1.08v8.28h-1.08zM47.0 648.6h0.68v8.28h-0.68zM37.4 656.8h0.68v8.28h-0.68zM18.8 681.5h0.68v8.28h-0.68zM29.3 681.5h1.08v8.28h-1.08zM37.4 698.0h0.68v8.28h-0.68zM37.4 714.4h0.68v8.28h-0.68zM47.6 747.3h0.68v8.28h-0.68zM65.1 591.0h1.08v8.28h-1.08zM52.1 599.2h0.68v8.28h-0.68zM53.3 599.2h0.68v8.28h-0.68zM64.3 615.7h0.88v8.28h-0.88zM71.7 615.7h1.38v8.28h-1.38zM55.2 623.9h0.68v8.28h-0.68zM87.6 623.9h0.48v8.28h-0.48zM59.8 632.1h0.68v8.28h-0.68zM52.1 640.4h0.68v8.28h-0.68zM63.3 665.0h1.08v8.28h-1.08zM80.0 673.3h0.68v8.28h-0.68zM53.3 689.7h0.68v8.28h-0.68zM65.1 706.2h1.08v8.28h-1.08zM66.7 706.2h1.08v8.28h-1.08zM81.4 722.6h0.88v8.28h-0.88zM56.4 730.9h0.88v8.28h-0.88zM74.0 739.1h0.88v8.28h-0.88zM78.7 739.1h1.38v8.28h-1.38zM85.7 739.1h0.68v8.28h-0.68zM53.9 755.5h1.38v8.28h-1.38zM55.2 755.5h0.68v8.28h-0.68zM85.7 763.8h0.68v8.28h-0.68zM104.4 648.6h1.08v8.28h-1.08zM97.9 673.3h0.68v8.28h-0.68zM103.0 673.3h0.88v8.28h-0.88zM103.8 681.5h0.68v8.28h-0.68zM120.0 681.5h0.68v8.28h-0.68zM120.0 706.2h0.68v8.28h-0.68zM90.8 714.4h1.08v8.28h-1.08zM110.8 722.6h0.68v8.28h-0.68zM122.2 730.9h0.88v8.28h-0.88zM149.6 599.2h0.88v8.28h-0.88zM144.2 607.5h1.08v8.28h-1.08zM154.5 632.1h1.38v8.28h-1.38zM155.8 632.1h0.48v8.28h-0.48zM130.8 640.4h0.88v8.28h-0.88zM144.2 640.4h1.08v8.28h-1.08zM129.5 665.0h1.38v8.28h-1.38zM144.2 665.0h1.08v8.28h-1.08zM127.7 681.5h1.08v8.28h-1.08zM151.2 681.5h1.38v8.28h-1.38zM149.6 689.7h0.88v8.28h-0.88zM141.6 730.9h1.38v8.28h-1.38zM151.2 747.3h1.38v8.28h-1.38zM127.7 755.5h1.08v8.28h-1.08zM142.9 763.8h1.38v8.28h-1.38z" fill="#4a3450"/>
<path d="M39.4 615.7h0.88v8.28h-0.88zM30.3 623.9h1.38v8.28h-1.38zM44.7 640.4h1.38v8.28h-1.38zM35.5 673.3h1.38v8.28h-1.38zM44.7 681.5h1.38v8.28h-1.38zM17.8 689.7h1.08v8.28h-1.08zM74.8 607.5h1.38v8.28h-1.38zM77.9 607.5h0.88v8.28h-0.88zM77.9 615.7h0.88v8.28h-0.88zM52.7 623.9h0.68v8.28h-0.68zM84.1 623.9h0.68v8.28h-0.68zM84.7 623.9h1.08v8.28h-1.08zM55.8 640.4h0.68v8.28h-0.68zM63.3 640.4h1.08v8.28h-1.08zM53.9 648.6h1.38v8.28h-1.38zM52.1 665.0h0.68v8.28h-0.68zM53.9 673.3h1.38v8.28h-1.38zM56.4 689.7h0.88v8.28h-0.88zM67.7 698.0h1.08v8.28h-1.08zM85.7 698.0h0.68v8.28h-0.68zM65.1 714.4h1.08v8.28h-1.08zM55.2 739.1h0.68v8.28h-0.68zM74.0 763.8h0.88v8.28h-0.88zM95.8 591.0h1.38v8.28h-1.38zM123.0 665.0h0.88v8.28h-0.88zM100.1 681.5h1.08v8.28h-1.08zM112.2 706.2h0.88v8.28h-0.88zM117.9 706.2h1.38v8.28h-1.38zM122.2 763.8h0.88v8.28h-0.88zM138.0 623.9h1.38v8.28h-1.38zM140.6 623.9h1.08v8.28h-1.08zM142.9 640.4h1.38v8.28h-1.38zM138.0 648.6h1.38v8.28h-1.38zM139.3 656.8h1.38v8.28h-1.38zM138.0 673.3h1.38v8.28h-1.38zM152.5 681.5h1.08v8.28h-1.08zM131.6 730.9h0.88v8.28h-0.88zM149.6 739.1h0.88v8.28h-0.88zM128.7 755.5h0.88v8.28h-0.88zM149.6 755.5h0.88v8.28h-0.88z" fill="#dcbc34"/>
<path d="M23.3 648.6h1.38v8.28h-1.38zM42.1 648.6h1.38v8.28h-1.38zM15.5 665.0h1.08v8.28h-1.08zM31.6 673.3h1.38v8.28h-1.38zM47.0 689.7h0.68v8.28h-0.68zM31.6 714.4h1.38v8.28h-1.38zM26.7 722.6h1.08v8.28h-1.08zM23.3 739.1h1.38v8.28h-1.38zM30.3 739.1h1.38v8.28h-1.38zM71.1 591.0h0.68v8.28h-0.68zM55.8 599.2h0.68v8.28h-0.68zM73.0 599.2h1.08v8.28h-1.08zM74.8 599.2h1.38v8.28h-1.38zM56.4 607.5h0.88v8.28h-0.88zM81.4 607.5h0.88v8.28h-0.88zM84.1 607.5h0.68v8.28h-0.68zM73.0 615.7h1.08v8.28h-1.08zM63.3 623.9h1.08v8.28h-1.08zM52.1 632.1h0.68v8.28h-0.68zM53.3 632.1h0.68v8.28h-0.68zM56.4 632.1h0.88v8.28h-0.88zM76.1 648.6h0.68v8.28h-0.68zM87.6 648.6h0.48v8.28h-0.48zM84.1 656.8h0.68v8.28h-0.68zM68.7 665.0h0.68v8.28h-0.68zM71.7 665.0h1.38v8.28h-1.38zM58.5 673.3h1.38v8.28h-1.38zM78.7 689.7h1.38v8.28h-1.38zM59.8 698.0h0.68v8.28h-0.68zM52.1 706.2h0.68v8.28h-0.68zM52.7 706.2h0.68v8.28h-0.68zM76.1 714.4h0.68v8.28h-0.68zM56.4 722.6h0.88v8.28h-0.88zM58.5 722.6h1.38v8.28h-1.38zM68.7 730.9h0.68v8.28h-0.68zM82.2 730.9h1.38v8.28h-1.38zM53.9 739.1h1.38v8.28h-1.38zM58.5 755.5h1.38v8.28h-1.38zM100.1 607.5h1.08v8.28h-1.08zM104.4 706.2h1.08v8.28h-1.08zM89.8 739.1h1.08v8.28h-1.08zM93.2 739.1h1.08v8.28h-1.08zM120.0 739.1h0.68v8.28h-0.68zM114.3 763.8h1.08v8.28h-1.08zM149.6 591.0h0.88v8.28h-0.88zM134.4 615.7h1.08v8.28h-1.08zM155.8 615.7h0.48v8.28h-0.48zM152.5 673.3h1.08v8.28h-1.08zM129.5 681.5h1.38v8.28h-1.38zM149.6 698.0h0.88v8.28h-0.88zM153.5 698.0h1.08v8.28h-1.08zM127.7 706.2h1.08v8.28h-1.08zM132.4 706.2h0.88v8.28h-0.88zM148.3 714.4h1.38v8.28h-1.38zM148.3 722.6h1.38v8.28h-1.38zM153.5 739.1h1.08v8.28h-1.08zM140.6 747.3h1.08v8.28h-1.08zM142.9 747.3h1.38v8.28h-1.38zM129.5 755.5h1.38v8.28h-1.38zM134.4 755.5h1.08v8.28h-1.08zM140.6 755.5h1.08v8.28h-1.08z" fill="#5a4640"/>
<text x="160.2" y="575.3" font-size="7.8" >Cell</text>
<text x="160.2" y="586.3" font-size="7.8" >Subject</text>
<text x="160.2" y="597.0" font-size="7.6" font-style="italic" >ADAMTS4</text>
<text x="160.2" y="605.3" font-size="7.6" font-style="italic" >ACLS4</text>
<text x="160.2" y="613.6" font-size="7.6" font-style="italic" >PTPN1</text>
<text x="160.2" y="621.8" font-size="7.6" font-style="italic" >NAMPT</text>
<text x="160.2" y="630.1" font-size="7.6" font-style="italic" >PLAUR</text>
<text x="160.2" y="638.4" font-size="7.6" font-style="italic" >IL1R1</text>
<text x="160.2" y="646.7" font-size="7.6" font-style="italic" >TNC</text>
<text x="160.2" y="654.9" font-size="7.6" font-style="italic" >IL6</text>
<text x="160.2" y="663.2" font-size="7.6" font-style="italic" >CD44</text>
<text x="160.2" y="671.5" font-size="7.6" font-style="italic" >HAS2</text>
<text x="160.2" y="679.7" font-size="7.6" font-style="italic" >VEGFA</text>
<text x="160.2" y="688.0" font-size="7.6" font-style="italic" >CCL2</text>
<text x="160.2" y="696.3" font-size="7.6" font-style="italic" >HIF1A</text>
<text x="160.2" y="704.5" font-size="7.6" font-style="italic" >NFKB1</text>
<text x="160.2" y="712.8" font-size="7.6" font-style="italic" >IL6R</text>
<text x="160.2" y="721.1" font-size="7.6" font-style="italic" >IL4R</text>
<text x="160.2" y="729.4" font-size="7.6" font-style="italic" >SOD2</text>
<text x="160.2" y="737.6" font-size="7.6" font-style="italic" >STAT3</text>
<text x="160.2" y="745.9" font-size="7.6" font-style="italic" >IRF1</text>
<text x="160.2" y="754.2" font-size="7.6" font-style="italic" >NFKBIA</text>
<text x="160.2" y="762.4" font-size="7.6" font-style="italic" >RELA</text>
<text x="160.2" y="770.7" font-size="7.6" font-style="italic" >NF4A3</text>
<text x="193.6" y="649.2" font-size="7.8" >Normalized</text>
<text x="193.6" y="659.0" font-size="7.8" >expr</text>
<rect x="194.2" y="662.3" width="8.7" height="40.3" fill="url(#heatV)" />
<line x1="200.9" y1="664.3" x2="202.9" y2="664.3" stroke="#fff" stroke-width="0.5"/>
<text x="207.3" y="667.1" font-size="7.8" >2</text>
<line x1="200.9" y1="673.3" x2="202.9" y2="673.3" stroke="#fff" stroke-width="0.5"/>
<text x="207.3" y="676.1" font-size="7.8" >1</text>
<line x1="200.9" y1="682.3" x2="202.9" y2="682.3" stroke="#fff" stroke-width="0.5"/>
<text x="207.3" y="685.1" font-size="7.8" >0</text>
<line x1="200.9" y1="691.7" x2="202.9" y2="691.7" stroke="#fff" stroke-width="0.5"/>
<text x="207.3" y="694.5" font-size="7.8" >−1</text>
<line x1="200.9" y1="700.5" x2="202.9" y2="700.5" stroke="#fff" stroke-width="0.5"/>
<text x="207.3" y="703.3" font-size="7.8" >−2</text>
<text x="193.6" y="721.5" font-size="7.8" >Cell</text>
<rect x="194.2" y="726.3" width="7.8" height="7.8" fill="#78c0b1" />
<text x="206.6" y="733.0" font-size="7.8" >Alv. fibroblast<tspan font-size="4.7" dy="2.3">c</tspan></text>
<rect x="194.2" y="739.2" width="7.8" height="7.8" fill="#008a85" />
<text x="206.6" y="745.9" font-size="7.8" >Alv. fibroblast<tspan font-size="4.7" dy="2.3">i</tspan></text>
<rect x="194.2" y="752.2" width="7.8" height="7.8" fill="#6a74b8" />
<text x="206.6" y="758.9" font-size="7.8" >Adv. fibroblast<tspan font-size="4.7" dy="2.3">i</tspan></text>
<rect x="194.2" y="765.1" width="7.8" height="7.8" fill="#2e3787" />
<text x="206.6" y="771.8" font-size="7.8" >Adv. fibroblast<tspan font-size="4.7" dy="2.3">c</tspan></text>
<text x="266.5" y="560.5" font-size="13.2" font-weight="bold" fill="#000" stroke="#000" stroke-width="0.35">i</text>
<text x="403" y="560.5" font-size="13.2" font-weight="bold" fill="#000" stroke="#000" stroke-width="0.35">j</text>
<text x="546" y="560.5" font-size="13.2" font-weight="bold" fill="#000" stroke="#000" stroke-width="0.35">k</text>
<rect x="281.0" y="564.8" width="108.0" height="98.1" fill="#000" />
<rect x="281.0" y="564.8" width="10.4" height="98.1" fill="#231f20" />
<g clip-path="url(#clip1)"><clipPath id="clip1"><rect x="291.4" y="564.8" width="97.6" height="98.1"/></clipPath>
<path d="M305.2 647.1h.01M321.7 624.5h.01M303.6 592.0h.01M357.0 652.7h.01M318.6 597.0h.01M328.2 592.4h.01" stroke="#b0b030" stroke-width="0.8" stroke-linecap="round" fill="none" stroke-opacity="0.85"/>
<path d="M306.2 646.6h.01M337.4 580.4h.01M364.3 577.8h.01M365.9 603.2h.01M369.3 612.6h.01M359.5 578.6h.01M328.2 618.1h.01M329.2 617.6h.01M358.5 561.7h.01M353.5 563.6h.01M360.1 645.1h.01M364.3 642.4h.01M313.5 640.4h.01M348.1 609.2h.01M303.2 649.7h.01M329.8 588.2h.01M336.1 578.2h.01M305.6 595.7h.01M356.1 568.6h.01M356.4 567.6h.01M360.0 562.1h.01M316.4 596.0h.01M304.2 601.6h.01M303.6 614.2h.01M338.9 581.0h.01M338.5 570.5h.01M324.5 594.6h.01M377.3 645.0h.01M369.7 642.2h.01M331.6 635.0h.01" stroke="#c81e2e" stroke-width="1.1" stroke-linecap="round" fill="none" stroke-opacity="0.85"/>
<path d="M306.7 645.6h.01M405.4 600.5h.01M318.1 626.4h.01M330.5 617.8h.01M349.3 565.5h.01M355.8 642.6h.01M365.3 640.4h.01M367.1 635.3h.01M299.1 630.0h.01M303.7 635.8h.01M342.4 575.6h.01M309.2 617.5h.01M388.0 655.0h.01M394.2 662.8h.01M398.7 660.7h.01M299.6 639.7h.01M354.7 577.9h.01M362.1 564.2h.01M318.5 606.0h.01M306.5 617.6h.01M305.7 613.8h.01M338.1 588.5h.01M352.6 597.2h.01M355.0 651.9h.01M362.0 664.6h.01M363.2 579.7h.01M333.0 632.1h.01" stroke="#8a1a3a" stroke-width="1.1" stroke-linecap="round" fill="none" stroke-opacity="0.85"/>
<path d="M307.5 644.9h.01M341.0 610.6h.01M340.4 576.2h.01M368.8 607.2h.01M319.6 577.9h.01M317.0 626.2h.01M329.8 616.7h.01M360.0 635.6h.01M334.1 628.7h.01M299.9 637.6h.01M316.5 641.6h.01M318.2 642.6h.01M363.4 569.9h.01M361.2 570.2h.01M368.3 595.8h.01M374.6 596.8h.01M303.1 645.5h.01M300.6 642.0h.01M310.0 613.7h.01M306.8 603.6h.01M306.8 597.5h.01M292.7 631.9h.01M318.3 597.2h.01M304.7 616.2h.01M312.2 615.6h.01M338.2 585.3h.01M338.2 577.9h.01M338.0 571.5h.01M352.2 593.0h.01M357.9 653.4h.01M361.7 578.2h.01M329.2 643.5h.01M337.7 629.8h.01M337.4 603.0h.01M337.5 606.2h.01M340.0 609.7h.01M346.8 619.5h.01" stroke="#1e2a80" stroke-width="1.4" stroke-linecap="round" fill="none" stroke-opacity="0.85"/>
<path d="M308.5 645.0h.01M341.8 611.3h.01M319.2 570.5h.01M395.3 600.0h.01M325.2 619.5h.01M327.1 618.4h.01M329.9 633.7h.01M312.4 640.3h.01M314.6 640.6h.01M318.3 638.9h.01M317.4 634.7h.01M350.9 558.1h.01M353.7 612.1h.01M378.4 598.3h.01M373.2 599.7h.01M298.2 636.8h.01M353.9 574.7h.01M306.1 599.0h.01M312.0 617.8h.01M351.3 591.1h.01M352.9 651.4h.01M371.4 647.2h.01M371.9 642.3h.01M365.5 641.1h.01" stroke="#c81e2e" stroke-width="1.4" stroke-linecap="round" fill="none" stroke-opacity="0.85"/>
<path d="M309.6 644.8h.01M316.0 642.9h.01M338.7 579.0h.01M367.2 612.9h.01M318.5 577.6h.01M330.1 632.6h.01M369.9 566.1h.01M372.2 600.1h.01M335.8 563.5h.01M334.2 564.9h.01M292.9 633.0h.01M299.8 641.9h.01M300.1 642.9h.01M309.2 570.9h.01M312.7 596.9h.01M304.4 604.9h.01M368.4 648.3h.01M375.2 645.0h.01M366.6 641.4h.01M329.7 637.7h.01" stroke="#2a2a70" stroke-width="1.4" stroke-linecap="round" fill="none" stroke-opacity="0.85"/>
<path d="M310.7 644.6h.01M337.8 571.6h.01M340.1 575.1h.01M356.9 613.7h.01M316.7 576.4h.01M320.2 626.2h.01M323.7 620.9h.01M339.6 629.7h.01M352.5 564.0h.01M367.2 564.7h.01M365.0 568.4h.01M359.2 565.3h.01M355.0 558.2h.01M350.2 559.0h.01M372.4 597.3h.01M346.5 571.9h.01M310.7 614.6h.01M388.7 657.1h.01M389.7 659.0h.01M397.9 662.4h.01M296.1 628.7h.01M300.1 645.1h.01M309.2 580.9h.01M304.1 607.0h.01M358.7 654.2h.01M361.8 657.0h.01M355.5 578.8h.01M338.4 608.2h.01M353.2 621.0h.01" stroke="#a81a2a" stroke-width="1.1" stroke-linecap="round" fill="none" stroke-opacity="0.85"/>
<path d="M311.7 645.0h.01M367.2 600.2h.01M358.8 579.3h.01M393.3 602.6h.01M330.4 613.5h.01M330.4 612.4h.01M357.5 562.1h.01M297.2 630.7h.01M318.8 640.0h.01M369.2 565.3h.01M366.5 565.5h.01M364.2 569.2h.01M355.9 558.9h.01M354.0 558.0h.01M295.4 635.0h.01M298.7 637.7h.01M300.2 644.0h.01M355.5 570.7h.01M313.7 596.4h.01M305.6 616.9h.01M300.6 613.3h.01M351.2 600.0h.01M323.4 594.8h.01" stroke="#5a3a90" stroke-width="0.8" stroke-linecap="round" fill="none" stroke-opacity="0.85"/>
<path d="M312.8 645.0h.01M337.2 570.6h.01M356.3 611.6h.01M321.8 577.8h.01M329.3 614.9h.01M362.1 635.9h.01M366.3 638.5h.01M366.1 566.5h.01M356.4 560.8h.01M347.1 609.0h.01M299.2 640.6h.01M331.8 587.8h.01M388.3 656.1h.01M356.6 565.4h.01M362.9 565.0h.01M308.7 571.9h.01M349.0 600.4h.01M332.6 633.1h.01M345.4 617.8h.01M345.9 618.8h.01" stroke="#3a4ab8" stroke-width="0.8" stroke-linecap="round" fill="none" stroke-opacity="0.85"/>
<path d="M313.8 645.5h.01M340.0 577.2h.01M369.4 610.4h.01M369.4 611.5h.01M362.9 613.8h.01M356.9 610.7h.01M342.1 633.3h.01M341.5 632.4h.01M330.4 622.9h.01M331.1 619.9h.01M325.4 613.4h.01M347.2 565.6h.01M364.8 637.3h.01M357.9 645.1h.01M356.7 561.8h.01M358.6 607.9h.01M377.4 598.6h.01M371.2 599.6h.01M303.5 648.7h.01M328.8 587.8h.01M330.9 588.5h.01M332.9 584.8h.01M336.9 577.5h.01M337.9 577.0h.01M304.7 608.6h.01M305.2 607.6h.01M293.8 633.6h.01M319.6 603.1h.01M319.9 602.1h.01M312.3 616.7h.01M350.8 590.1h.01M347.1 599.6h.01M344.1 599.0h.01M327.2 592.9h.01M370.8 642.2h.01M338.0 607.2h.01" stroke="#c81e2e" stroke-width="0.8" stroke-linecap="round" fill="none" stroke-opacity="0.85"/>
<path d="M314.9 645.6h.01M316.0 644.0h.01M340.4 606.4h.01M366.1 602.1h.01M364.0 613.5h.01M357.7 609.9h.01M320.0 571.2h.01M398.4 600.6h.01M329.9 615.6h.01M330.9 625.0h.01M327.6 613.7h.01M363.5 637.5h.01M369.5 636.6h.01M350.3 563.6h.01M364.7 641.4h.01M298.3 630.7h.01M309.7 638.6h.01M370.6 568.2h.01M375.2 598.7h.01M374.3 599.3h.01M365.5 601.5h.01M369.3 596.3h.01M339.0 577.3h.01M309.1 613.1h.01M307.0 610.6h.01M390.0 660.1h.01M357.4 563.9h.01M304.4 602.7h.01M307.6 617.6h.01M337.7 586.3h.01M321.3 595.3h.01M354.2 577.1h.01M362.4 642.1h.01M334.7 630.9h.01M337.0 601.9h.01M343.8 611.7h.01" stroke="#e03040" stroke-width="1.4" stroke-linecap="round" fill="none" stroke-opacity="0.85"/>
<path d="M315.9 645.1h.01M342.3 612.3h.01M337.6 579.3h.01M367.7 599.2h.01M362.0 614.4h.01M317.1 570.8h.01M393.7 601.5h.01M403.5 601.5h.01M311.0 626.3h.01M330.9 611.4h.01M341.0 631.4h.01M363.0 636.5h.01M360.8 564.1h.01M336.1 629.3h.01M302.5 632.6h.01M315.6 641.0h.01M351.9 557.7h.01M338.8 565.3h.01M336.9 563.1h.01M300.0 637.6h.01M332.5 585.8h.01M306.1 604.4h.01M303.9 593.0h.01M293.0 628.9h.01M296.2 635.8h.01M354.6 576.8h.01M319.1 597.9h.01M304.6 609.2h.01M311.4 618.7h.01M351.9 592.0h.01M356.0 652.3h.01M364.0 580.6h.01M330.2 636.7h.01" stroke="#5a3a90" stroke-width="1.1" stroke-linecap="round" fill="none" stroke-opacity="0.85"/>
<path d="M315.4 642.0h.01M338.9 583.2h.01" stroke="#b0b030" stroke-width="1.1" stroke-linecap="round" fill="none" stroke-opacity="0.85"/>
<path d="M315.2 640.9h.01M366.1 613.3h.01M322.4 576.9h.01M312.4 577.0h.01M361.7 578.4h.01M387.7 609.0h.01M388.0 607.9h.01M390.9 604.7h.01M404.5 601.1h.01M359.9 565.7h.01M330.3 631.5h.01M361.2 645.2h.01M368.7 632.5h.01M307.8 635.9h.01M367.6 596.6h.01M299.7 636.5h.01M344.0 574.1h.01M354.4 572.6h.01M308.2 580.5h.01M305.3 599.7h.01M304.6 603.8h.01M309.8 613.8h.01M338.2 579.0h.01M337.9 576.8h.01M352.8 596.1h.01M347.9 600.3h.01M362.7 657.6h.01M367.3 648.7h.01M374.2 645.5h.01M328.1 640.4h.01M341.7 610.9h.01M348.9 620.2h.01" stroke="#3a4ab8" stroke-width="1.4" stroke-linecap="round" fill="none" stroke-opacity="0.85"/>
<path d="M315.7 639.9h.01M357.7 614.5h.01M356.5 612.7h.01M315.6 576.8h.01M310.6 575.8h.01M390.0 605.3h.01M396.4 599.8h.01M343.0 634.0h.01M330.4 624.0h.01M368.5 636.8h.01M355.7 563.2h.01M331.0 629.5h.01M295.0 630.8h.01M317.5 635.8h.01M358.0 563.6h.01M351.4 609.7h.01M333.8 580.5h.01M398.8 661.8h.01M314.3 595.5h.01M304.3 608.1h.01M337.7 575.7h.01M370.5 647.8h.01M374.1 642.5h.01M346.1 616.9h.01M352.1 620.9h.01" stroke="#2a3aa0" stroke-width="1.1" stroke-linecap="round" fill="none" stroke-opacity="0.85"/>
<path d="M315.7 638.8h.01M337.1 569.5h.01M322.8 622.7h.01M324.2 619.9h.01M356.7 562.8h.01M348.3 566.0h.01M330.4 630.4h.01M337.0 628.7h.01M356.7 559.7h.01M353.0 557.5h.01M358.8 606.9h.01M373.5 597.0h.01M303.8 647.6h.01M307.9 600.5h.01M306.3 596.5h.01M308.4 618.4h.01M308.8 613.4h.01M337.9 587.4h.01M339.1 596.6h.01M351.8 651.4h.01M363.0 660.7h.01M364.5 641.4h.01M337.3 605.2h.01" stroke="#2a3aa0" stroke-width="0.8" stroke-linecap="round" fill="none" stroke-opacity="0.85"/>
<path d="M341.3 603.9h.01M340.3 605.3h.01M341.1 607.3h.01M369.2 608.2h.01M361.0 614.7h.01M317.6 577.1h.01M389.3 606.2h.01M331.5 625.9h.01M359.0 635.2h.01M367.5 637.3h.01M303.3 633.3h.01M306.8 635.6h.01M359.8 568.6h.01M357.2 562.8h.01M354.7 611.6h.01M338.5 566.4h.01M337.9 563.4h.01M343.2 574.8h.01M308.5 612.1h.01M305.6 605.4h.01M304.6 593.8h.01M354.9 571.7h.01M309.3 619.0h.01M319.5 596.3h.01M372.4 646.7h.01M376.3 644.7h.01M368.7 642.0h.01" stroke="#5a3a90" stroke-width="1.4" stroke-linecap="round" fill="none" stroke-opacity="0.85"/>
<path d="M340.2 604.2h.01M322.7 574.9h.01M315.9 626.1h.01M319.2 626.5h.01M330.0 614.5h.01M365.9 639.5h.01M305.7 635.5h.01M366.6 601.8h.01M371.4 597.0h.01M333.4 581.5h.01M334.6 579.7h.01M308.5 619.6h.01M306.0 610.1h.01M391.1 661.8h.01M358.5 563.6h.01M307.7 596.3h.01M304.7 614.2h.01M337.9 589.5h.01M362.5 578.9h.01M333.7 631.2h.01M335.6 630.2h.01" stroke="#1e2a80" stroke-width="0.8" stroke-linecap="round" fill="none" stroke-opacity="0.85"/>
<path d="M341.0 608.4h.01M338.4 572.5h.01M366.7 601.1h.01M311.4 576.6h.01M391.8 604.0h.01M397.4 600.1h.01M314.0 627.1h.01M340.3 630.6h.01M326.5 613.6h.01M359.3 562.5h.01M351.4 564.0h.01M329.9 634.8h.01M358.3 640.6h.01M356.6 641.8h.01M366.4 637.4h.01M301.6 632.0h.01M300.5 640.3h.01M304.6 635.2h.01M318.0 637.9h.01M370.3 567.1h.01M360.4 569.5h.01M349.2 609.5h.01M376.3 598.5h.01M365.5 600.4h.01M366.4 598.5h.01M299.6 641.6h.01M333.0 582.6h.01M309.8 616.6h.01M310.0 615.5h.01M398.0 659.8h.01M292.4 629.8h.01M297.2 636.3h.01M355.7 569.7h.01M319.7 604.2h.01M319.6 601.1h.01M309.8 595.5h.01M306.8 613.7h.01M338.0 596.4h.01M361.8 662.5h.01M357.6 578.4h.01M328.1 639.3h.01M339.1 609.1h.01M353.0 624.1h.01" stroke="#a81a2a" stroke-width="1.4" stroke-linecap="round" fill="none" stroke-opacity="0.85"/>
<path d="M340.8 609.5h.01M369.4 609.3h.01M322.9 575.9h.01M360.6 578.2h.01M330.1 621.8h.01M354.6 563.6h.01M331.9 628.9h.01M368.3 564.6h.01M359.4 566.4h.01M332.5 566.1h.01M299.5 640.8h.01M304.3 605.9h.01M304.8 615.1h.01M310.9 614.2h.01M361.7 666.8h.01M350.4 575.0h.01M334.1 601.0h.01M335.2 600.8h.01" stroke="#2a2a70" stroke-width="1.1" stroke-linecap="round" fill="none" stroke-opacity="0.85"/>
<path d="M336.5 568.6h.01M365.1 613.7h.01M358.8 614.8h.01M318.2 570.9h.01M339.0 628.8h.01M337.9 628.8h.01M363.7 643.3h.01M300.2 630.4h.01M359.5 567.5h.01M350.3 609.6h.01M357.6 610.9h.01M369.3 600.1h.01M309.0 618.6h.01M305.4 606.5h.01M302.9 591.1h.01M397.3 663.3h.01M295.1 628.4h.01M292.2 630.9h.01M354.2 575.8h.01M307.3 579.9h.01M308.7 595.6h.01M359.0 576.8h.01M373.3 646.2h.01M375.2 642.8h.01M342.7 611.3h.01M345.4 613.1h.01M347.8 619.9h.01" stroke="#e03040" stroke-width="0.8" stroke-linecap="round" fill="none" stroke-opacity="0.85"/>
<path d="M338.7 573.5h.01M339.2 574.5h.01M394.4 600.7h.01M399.5 600.9h.01M400.2 601.7h.01M401.3 601.8h.01M312.9 627.4h.01M315.0 626.7h.01M336.9 629.1h.01M330.6 620.8h.01M331.0 618.8h.01M328.6 614.0h.01M349.6 564.4h.01M335.0 629.3h.01M363.1 644.3h.01M369.6 631.9h.01M349.1 559.1h.01M352.8 611.4h.01M355.7 612.0h.01M299.9 638.7h.01M301.0 633.6h.01M335.4 579.1h.01M345.0 573.5h.01M298.9 638.8h.01M354.7 579.0h.01M353.9 573.6h.01M307.7 613.1h.01M338.4 580.0h.01M342.1 598.1h.01M340.1 597.1h.01M325.5 594.3h.01M351.5 575.2h.01M353.4 576.3h.01M360.1 576.6h.01M341.0 610.1h.01" stroke="#e03040" stroke-width="1.1" stroke-linecap="round" fill="none" stroke-opacity="0.85"/>
<path d="M339.3 578.1h.01M322.7 572.7h.01M320.7 577.8h.01M402.4 601.8h.01M405.6 599.5h.01M320.9 625.3h.01M364.5 637.9h.01M359.0 639.7h.01M300.7 631.4h.01M296.1 630.7h.01M309.1 637.6h.01M311.4 639.8h.01M319.2 642.1h.01M319.0 641.0h.01M330.4 566.7h.01M307.2 602.6h.01M294.5 634.5h.01M361.8 563.1h.01M302.6 613.8h.01M353.0 595.0h.01M354.0 651.4h.01M356.6 578.9h.01M367.7 641.6h.01M328.2 641.4h.01M332.1 634.1h.01M350.0 620.4h.01" stroke="#1e2a80" stroke-width="1.1" stroke-linecap="round" fill="none" stroke-opacity="0.85"/>
<path d="M337.6 581.5h.01M368.1 606.3h.01M329.7 617.0h.01M352.2 610.5h.01M356.6 611.4h.01M370.1 599.3h.01M301.7 643.9h.01M301.4 642.8h.01M300.1 635.5h.01M333.0 583.7h.01M356.2 566.5h.01M317.3 596.7h.01M315.3 595.8h.01M311.6 596.6h.01M310.4 619.1h.01M339.0 582.1h.01M337.4 573.5h.01M373.0 642.4h.01" stroke="#2a2a70" stroke-width="0.8" stroke-linecap="round" fill="none" stroke-opacity="0.85"/>
<path d="M365.7 604.2h.01M366.2 605.2h.01M322.2 571.7h.01M335.2 627.7h.01M333.2 627.1h.01M346.9 564.5h.01M333.0 628.6h.01M293.0 629.8h.01M365.7 567.5h.01M365.8 599.4h.01M338.5 564.3h.01M331.4 566.2h.01M340.1 577.4h.01M305.0 609.6h.01M390.2 661.2h.01M395.1 663.3h.01M361.1 562.3h.01M319.6 598.9h.01M307.0 597.0h.01M301.7 613.1h.01M351.8 599.2h.01M341.1 597.7h.01M350.7 651.5h.01M363.5 659.7h.01M326.4 593.6h.01M328.7 642.4h.01M346.5 614.8h.01" stroke="#8a1a3a" stroke-width="0.8" stroke-linecap="round" fill="none" stroke-opacity="0.85"/>
<path d="M367.1 605.9h.01M368.2 612.8h.01M321.1 571.5h.01M392.7 603.5h.01M356.3 643.5h.01M300.5 636.7h.01M348.0 559.5h.01M370.3 596.8h.01M307.7 601.6h.01M307.6 598.3h.01M356.4 564.4h.01M319.2 605.2h.01M311.9 614.6h.01M352.8 593.9h.01M351.9 598.1h.01M350.1 600.4h.01M363.2 658.6h.01M330.8 635.8h.01M338.7 629.2h.01" stroke="#a81a2a" stroke-width="0.8" stroke-linecap="round" fill="none" stroke-opacity="0.85"/>
<path d="M359.9 614.8h.01M359.6 638.8h.01M367.0 597.5h.01M332.3 586.9h.01M310.8 595.9h.01M337.3 604.1h.01" stroke="#d07020" stroke-width="1.1" stroke-linecap="round" fill="none" stroke-opacity="0.85"/>
<path d="M322.7 573.8h.01M393.1 662.8h.01M322.4 595.2h.01" stroke="#b0b030" stroke-width="1.4" stroke-linecap="round" fill="none" stroke-opacity="0.85"/>
<path d="M314.5 576.7h.01M362.7 578.8h.01M335.9 628.5h.01M365.5 638.3h.01M360.6 638.4h.01M359.0 645.2h.01M362.2 644.9h.01M294.0 630.4h.01M299.3 638.5h.01M301.6 636.3h.01M358.6 609.0h.01M333.5 565.8h.01M303.6 646.5h.01M302.5 644.7h.01M299.9 639.8h.01M341.2 577.3h.01M307.8 611.3h.01M396.2 663.4h.01M359.1 562.7h.01M319.5 600.0h.01M304.7 600.7h.01M343.1 598.6h.01M362.0 665.7h.01M362.0 667.9h.01M361.0 577.4h.01M376.1 642.2h.01M361.7 642.9h.01" stroke="#3a4ab8" stroke-width="1.1" stroke-linecap="round" fill="none" stroke-opacity="0.85"/>
<path d="M313.5 576.9h.01M324.3 613.2h.01M361.0 636.0h.01M361.7 638.5h.01M357.3 641.0h.01M357.0 644.4h.01M367.8 634.5h.01M302.7 636.2h.01M362.3 570.3h.01M358.3 610.1h.01M367.4 601.1h.01M330.3 567.8h.01M300.9 634.7h.01M307.7 599.4h.01M392.0 662.5h.01M306.5 579.1h.01M346.2 598.9h.01M362.2 661.4h.01M354.8 578.0h.01M358.2 577.5h.01M369.4 648.0h.01M346.4 615.9h.01" stroke="#2a3aa0" stroke-width="1.4" stroke-linecap="round" fill="none" stroke-opacity="0.85"/>
<path d="M363.8 579.0h.01M363.8 637.8h.01M300.0 639.3h.01M335.0 564.3h.01" stroke="#d07020" stroke-width="1.4" stroke-linecap="round" fill="none" stroke-opacity="0.85"/>
<path d="M388.9 607.2h.01M323.7 622.0h.01M332.1 626.8h.01M329.7 615.9h.01M366.5 637.7h.01M360.9 565.2h.01M362.8 638.3h.01M366.8 636.4h.01M310.4 639.4h.01M317.1 642.5h.01M341.9 576.6h.01M345.6 572.6h.01M389.2 658.1h.01M306.8 598.1h.01M359.4 655.0h.01M360.8 656.6h.01M352.5 575.8h.01M336.7 630.2h.01M336.1 601.3h.01M346.4 613.7h.01M351.1 620.5h.01M353.4 622.1h.01M353.5 623.2h.01" stroke="#8a1a3a" stroke-width="1.4" stroke-linecap="round" fill="none" stroke-opacity="0.85"/>
<path d="M312.0 626.8h.01M368.2 633.5h.01" stroke="#40a040" stroke-width="0.8" stroke-linecap="round" fill="none" stroke-opacity="0.85"/>
<path d="M322.2 623.6h.01M318.0 636.8h.01M338.4 584.2h.01" stroke="#c8a020" stroke-width="0.8" stroke-linecap="round" fill="none" stroke-opacity="0.85"/>
<path d="M326.1 618.9h.01M358.8 564.3h.01M368.5 600.7h.01M305.4 594.6h.01M294.0 628.6h.01M344.5 612.5h.01" stroke="#d07020" stroke-width="0.8" stroke-linecap="round" fill="none" stroke-opacity="0.85"/>
<path d="M334.1 627.6h.01M308.7 636.6h.01M345.2 599.1h.01M320.2 595.5h.01M329.3 592.1h.01M328.9 638.5h.01" stroke="#40a040" stroke-width="1.1" stroke-linecap="round" fill="none" stroke-opacity="0.85"/>
<path d="M360.2 563.1h.01M337.5 572.4h.01" stroke="#40a040" stroke-width="1.4" stroke-linecap="round" fill="none" stroke-opacity="0.85"/>
<path d="M337.5 574.6h.01" stroke="#c8a020" stroke-width="1.1" stroke-linecap="round" fill="none" stroke-opacity="0.85"/>
<path d="M359.9 656.0h.01M361.8 663.6h.01M377.2 641.9h.01M363.4 641.6h.01" stroke="#c8a020" stroke-width="1.4" stroke-linecap="round" fill="none" stroke-opacity="0.85"/>
<path d="M383.9 661.6h.01M320.4 570.1h.01M371.1 618.6h.01M328.7 574.3h.01M349.7 584.4h.01M330.0 605.5h.01M307.9 596.4h.01M298.5 572.2h.01M338.0 581.8h.01M376.0 601.9h.01M310.8 589.3h.01M363.8 600.9h.01M306.6 584.5h.01M343.7 623.4h.01M332.4 628.3h.01M340.7 637.3h.01M382.4 566.5h.01M343.1 586.4h.01M368.6 634.9h.01M296.4 566.6h.01M337.8 639.7h.01M306.5 577.8h.01M367.9 599.1h.01M313.8 648.1h.01M318.4 635.7h.01M326.2 652.4h.01M351.7 599.6h.01M360.2 625.2h.01M335.5 653.9h.01M345.0 643.1h.01M320.2 655.0h.01M328.0 648.4h.01M297.4 636.3h.01M298.0 615.0h.01M340.5 652.9h.01M355.3 595.2h.01M304.7 573.1h.01M317.6 592.6h.01M297.4 637.9h.01M387.5 594.8h.01M322.9 646.5h.01M293.7 617.7h.01M309.9 565.6h.01M345.8 658.3h.01M346.5 644.6h.01M342.7 611.4h.01M373.1 656.4h.01M304.5 588.7h.01M368.5 573.1h.01M340.6 632.2h.01M310.9 632.1h.01M320.1 595.2h.01M335.5 569.1h.01M308.5 622.9h.01M376.9 632.9h.01M323.7 604.7h.01M364.2 628.9h.01M364.6 647.4h.01M311.1 575.8h.01M305.5 614.9h.01M364.0 615.8h.01" stroke="#3a4ab8" stroke-width="1.0" stroke-linecap="round" fill="none" stroke-opacity="0.8"/>
<path d="M376.0 643.5h.01M335.2 607.4h.01M375.7 635.4h.01M320.8 648.3h.01M333.5 650.3h.01M333.6 603.2h.01M324.3 600.6h.01M355.5 579.3h.01M381.4 580.6h.01M308.9 620.4h.01M348.9 642.8h.01M320.7 635.1h.01M364.3 625.8h.01M388.4 602.3h.01M341.4 571.8h.01M308.8 617.8h.01M372.8 626.1h.01M334.9 647.4h.01M379.6 591.4h.01M292.6 661.7h.01M353.6 577.8h.01M369.9 636.9h.01M355.0 583.5h.01M302.3 627.4h.01M328.0 573.5h.01M360.7 616.4h.01M292.5 575.2h.01M354.1 655.4h.01M358.7 602.9h.01M386.8 633.7h.01M304.6 634.2h.01M317.9 632.2h.01M319.2 650.0h.01M381.5 593.5h.01M294.9 660.0h.01M341.1 647.4h.01M320.2 573.9h.01M350.5 643.3h.01M350.1 652.3h.01M294.3 572.2h.01M297.4 662.8h.01M331.4 599.6h.01M335.4 597.5h.01M293.7 579.3h.01M347.2 613.8h.01M308.1 644.8h.01M387.4 594.2h.01M366.7 585.3h.01M297.9 569.0h.01M367.5 632.1h.01M299.4 581.6h.01M339.4 646.6h.01M362.9 605.4h.01" stroke="#1e2a80" stroke-width="1.0" stroke-linecap="round" fill="none" stroke-opacity="0.8"/>
<path d="M357.6 586.2h.01M291.6 568.0h.01M299.7 625.5h.01M357.0 616.6h.01M308.6 637.3h.01M317.2 625.4h.01M358.5 625.1h.01M322.9 607.9h.01M339.2 624.0h.01M316.7 571.2h.01M378.5 610.3h.01M292.4 643.9h.01M388.0 565.0h.01M388.0 573.3h.01M369.0 617.4h.01M333.5 578.6h.01M332.9 616.4h.01M295.8 640.9h.01M350.2 602.0h.01M306.4 654.9h.01M306.9 580.5h.01M353.8 585.1h.01M367.0 620.6h.01M339.2 597.3h.01M320.7 601.8h.01M353.9 574.4h.01M365.4 575.4h.01M387.4 595.1h.01M384.8 618.5h.01M295.8 575.2h.01" stroke="#e03040" stroke-width="1.0" stroke-linecap="round" fill="none" stroke-opacity="0.8"/>
<path d="M295.5 604.0h.01M328.2 620.4h.01M312.9 604.6h.01M305.8 626.8h.01M316.9 568.9h.01M348.0 578.7h.01M311.7 649.5h.01M312.9 574.2h.01M364.8 621.1h.01M357.3 658.0h.01M356.8 662.7h.01M366.1 569.6h.01M361.7 621.0h.01M292.6 639.2h.01M373.2 600.8h.01M361.8 645.1h.01M299.8 603.5h.01M319.2 622.1h.01M323.6 597.4h.01M388.9 660.7h.01M351.1 636.6h.01M377.1 577.3h.01M349.6 662.9h.01M304.4 606.6h.01M300.2 653.3h.01M378.8 587.4h.01M325.3 637.1h.01M359.1 608.7h.01M344.6 587.3h.01M313.0 655.2h.01M388.1 630.9h.01M378.3 587.1h.01M339.0 607.3h.01M326.4 596.0h.01M303.6 621.1h.01M331.4 650.0h.01M376.3 584.8h.01M324.4 592.1h.01M389.0 653.5h.01M366.0 567.2h.01M330.0 659.5h.01M296.1 646.2h.01M377.6 647.0h.01M327.9 653.8h.01M359.7 651.2h.01M386.2 623.6h.01M325.8 653.7h.01M360.0 637.8h.01M386.2 601.5h.01M365.7 611.9h.01M295.4 590.0h.01M309.3 645.4h.01" stroke="#2a3aa0" stroke-width="1.0" stroke-linecap="round" fill="none" stroke-opacity="0.8"/>
<path d="M346.8 593.9h.01M351.9 652.4h.01M361.7 639.4h.01M299.3 636.1h.01M302.4 587.3h.01M367.9 654.8h.01M380.3 607.8h.01M322.6 630.3h.01M321.3 581.8h.01M385.7 628.7h.01M350.1 596.6h.01M310.4 578.2h.01M292.2 643.1h.01M385.9 614.1h.01M319.3 610.4h.01M359.3 601.7h.01M294.4 659.8h.01M388.3 608.9h.01M325.8 575.5h.01M315.6 580.2h.01M303.1 607.1h.01M324.4 644.9h.01M388.9 570.9h.01M304.8 633.3h.01M301.5 565.3h.01M354.1 584.3h.01M331.6 610.6h.01M339.8 653.0h.01" stroke="#a81a2a" stroke-width="1.0" stroke-linecap="round" fill="none" stroke-opacity="0.8"/>
<path d="M367.6 631.6h.01M344.5 648.4h.01M347.9 591.8h.01M329.3 590.1h.01M340.1 584.8h.01M375.6 610.3h.01M341.9 565.6h.01M343.1 630.3h.01M322.2 642.7h.01M333.6 603.8h.01M313.4 594.6h.01M373.7 595.2h.01M357.1 568.5h.01M322.1 656.0h.01M368.8 612.1h.01M303.1 658.3h.01M366.3 591.3h.01M302.2 596.7h.01M294.5 592.7h.01M329.1 616.1h.01M291.4 595.1h.01M353.8 606.4h.01M318.7 577.1h.01M306.5 603.1h.01M355.8 625.4h.01M304.2 653.0h.01M373.7 580.2h.01M310.5 600.7h.01M327.6 584.8h.01M318.5 582.6h.01" stroke="#c81e2e" stroke-width="1.0" stroke-linecap="round" fill="none" stroke-opacity="0.8"/>
<path d="M351.6 659.5h.01M319.4 592.3h.01M317.6 647.6h.01M360.2 576.9h.01M292.7 601.3h.01M312.5 603.3h.01M350.8 592.5h.01M356.3 629.2h.01M332.8 585.8h.01M381.9 601.0h.01M354.6 595.8h.01M359.3 655.9h.01M361.5 589.3h.01M325.3 644.1h.01M299.0 623.5h.01M292.1 579.1h.01M385.5 629.1h.01M376.3 618.6h.01M320.0 611.3h.01M336.4 652.3h.01M357.5 593.0h.01M378.3 589.1h.01M368.7 573.6h.01M312.4 622.2h.01M373.4 572.1h.01M361.0 584.6h.01M314.2 641.8h.01M381.5 565.1h.01M327.4 585.3h.01M384.8 570.5h.01M360.0 592.2h.01M355.3 606.7h.01" stroke="#8a1a3a" stroke-width="1.0" stroke-linecap="round" fill="none" stroke-opacity="0.8"/>
<path d="M313.1 624.8h.01M312.8 649.1h.01M355.2 568.0h.01M367.4 599.7h.01M328.1 607.3h.01M346.4 582.9h.01M303.1 660.2h.01M366.1 577.6h.01M351.3 658.9h.01M346.1 655.8h.01M356.4 603.0h.01M295.6 647.5h.01M384.5 581.4h.01M370.2 587.9h.01M326.4 660.7h.01M295.0 643.0h.01M359.0 638.5h.01M315.6 628.0h.01M299.1 609.5h.01M382.9 634.1h.01M304.1 661.9h.01M362.0 647.9h.01M342.2 570.9h.01M309.9 598.8h.01M345.9 581.0h.01M291.5 657.4h.01M311.8 626.7h.01M337.2 571.8h.01M345.9 634.8h.01M359.0 638.4h.01M333.9 600.4h.01M294.3 606.9h.01M356.8 632.3h.01M300.9 640.6h.01M307.9 592.9h.01M337.4 607.2h.01M301.2 609.2h.01M367.2 646.5h.01M350.9 578.6h.01M356.8 580.5h.01M305.0 645.9h.01M344.9 656.7h.01M363.4 617.2h.01M310.8 600.6h.01M316.7 645.9h.01M363.4 621.9h.01M373.4 586.4h.01M362.2 573.9h.01M297.4 590.2h.01M294.2 618.2h.01M299.1 616.2h.01" stroke="#2a2a70" stroke-width="1.0" stroke-linecap="round" fill="none" stroke-opacity="0.8"/>
<path d="M315.8 614.5h.01M371.5 589.1h.01M356.0 575.1h.01M332.7 600.8h.01M372.6 570.1h.01M361.5 622.6h.01M306.2 653.1h.01M388.0 599.7h.01M311.3 633.3h.01M333.0 655.8h.01M308.8 579.2h.01M373.3 640.6h.01M318.9 659.9h.01M388.2 639.3h.01M340.1 602.6h.01M342.0 607.6h.01M309.5 591.2h.01M297.2 565.5h.01M313.1 648.4h.01M367.2 572.9h.01M358.5 655.6h.01M297.6 630.1h.01M323.4 647.1h.01M323.3 615.5h.01M384.3 578.5h.01M314.2 612.6h.01M387.8 578.3h.01M377.1 605.3h.01M384.7 649.5h.01M385.9 585.9h.01M312.2 659.0h.01M307.7 567.5h.01M293.1 627.4h.01M371.1 567.2h.01M299.5 600.3h.01M299.4 638.1h.01M340.8 603.0h.01M310.7 568.2h.01M313.4 580.1h.01M377.0 577.7h.01M305.9 640.0h.01M293.7 633.5h.01M320.5 578.1h.01M371.3 651.1h.01M369.4 602.5h.01M357.6 646.4h.01M362.5 579.9h.01M305.1 601.9h.01M374.4 621.1h.01M382.4 576.0h.01M332.4 620.3h.01M331.5 649.2h.01M322.2 574.3h.01" stroke="#5a3a90" stroke-width="1.0" stroke-linecap="round" fill="none" stroke-opacity="0.8"/>
</g>
<text transform="translate(289.5 661.0) rotate(-90)" font-size="7.9" fill="#2fb45a" textLength="32.3" lengthAdjust="spacingAndGlyphs">PECAM1</text>
<text transform="translate(289.5 625.9) rotate(-90)" font-size="7.9" fill="#e8303a" textLength="27.5" lengthAdjust="spacingAndGlyphs">NF-κB</text>
<text transform="translate(289.5 592.7) rotate(-90)" font-size="7.9" fill="#2ea8d8" textLength="19.9" lengthAdjust="spacingAndGlyphs">DAPI</text>
<text x="340.2" y="560.5" font-size="9.2" text-anchor="middle" >gCap<tspan font-size="5.5" dy="2.8">i</tspan></text>
<rect x="361.0" y="655.0" width="20.0" height="2.8" fill="#fff" />
<text x="371.0" y="651.4" font-size="7.6" text-anchor="middle" fill="#fff" >100 µm</text>
<rect x="421.2" y="564.8" width="108.0" height="98.1" fill="#000" />
<rect x="421.2" y="564.8" width="11.8" height="98.1" fill="#231f20" />
<g clip-path="url(#clip2)"><clipPath id="clip2"><rect x="433.0" y="564.8" width="96.2" height="98.1"/></clipPath>
<path d="M525.7 658.6h.01M523.6 635.4h.01M525.8 634.9h.01M543.9 626.9h.01M515.5 617.6h.01M515.9 584.6h.01M418.9 631.6h.01M480.0 652.0h.01M488.4 663.0h.01M454.0 594.1h.01M426.4 588.5h.01M491.6 616.4h.01M515.5 618.5h.01M511.0 621.5h.01M484.6 568.7h.01M482.2 587.6h.01M506.6 594.9h.01M519.9 659.1h.01M457.0 633.1h.01M443.6 627.5h.01M444.6 646.1h.01M503.8 599.8h.01M515.8 589.5h.01M509.9 643.8h.01M522.6 585.4h.01M463.8 636.1h.01M455.4 643.8h.01M445.5 631.3h.01M463.0 635.1h.01M528.6 659.1h.01M523.2 571.6h.01M527.8 612.9h.01M522.5 638.7h.01M489.5 626.4h.01M476.7 577.1h.01" stroke="#3a4ab8" stroke-width="1.3" stroke-linecap="round" fill="none" stroke-opacity="0.85"/>
<path d="M526.6 659.2h.01M524.2 587.4h.01M466.4 612.8h.01M488.5 652.2h.01M444.4 626.1h.01M443.9 580.6h.01M488.4 613.6h.01M481.2 658.7h.01M483.8 617.3h.01M510.5 622.2h.01M453.9 630.2h.01M452.3 644.7h.01M470.7 641.0h.01M530.9 665.2h.01M530.8 667.4h.01M465.0 590.9h.01M518.9 570.8h.01M496.6 641.0h.01M511.4 611.0h.01M539.8 606.0h.01M436.3 585.2h.01M426.0 594.6h.01M495.7 586.8h.01" stroke="#40a040" stroke-width="1.3" stroke-linecap="round" fill="none" stroke-opacity="0.85"/>
<path d="M527.6 659.7h.01M537.1 664.6h.01M511.2 650.6h.01M516.2 585.7h.01M436.2 623.5h.01M416.2 635.7h.01M415.2 641.0h.01M514.7 575.6h.01M487.4 613.2h.01M517.7 618.8h.01M485.7 673.8h.01M473.9 674.2h.01M427.6 629.0h.01M460.6 638.2h.01M495.9 665.3h.01M437.6 548.8h.01M483.6 597.0h.01M510.5 660.9h.01M435.6 586.0h.01M475.7 576.7h.01" stroke="#d07020" stroke-width="1.6" stroke-linecap="round" fill="none" stroke-opacity="0.85"/>
<path d="M528.5 660.3h.01M502.3 654.3h.01M520.9 587.4h.01M528.2 589.0h.01M433.8 625.7h.01M473.6 656.5h.01M446.2 596.7h.01M456.4 666.1h.01M471.8 645.8h.01M481.1 664.3h.01M495.7 674.1h.01M443.0 627.8h.01M449.9 570.7h.01M455.7 567.5h.01M446.3 591.4h.01M489.4 614.1h.01M501.7 624.2h.01M472.0 566.4h.01M499.6 650.1h.01M480.6 586.1h.01M507.7 644.4h.01M454.9 630.7h.01M435.1 630.2h.01M425.4 628.9h.01M504.6 597.8h.01M519.2 641.6h.01M508.9 644.3h.01M463.5 636.7h.01M532.4 615.8h.01M473.3 627.4h.01M462.2 634.3h.01M464.6 636.6h.01M465.3 637.5h.01M492.9 566.8h.01M439.1 562.4h.01M441.4 539.1h.01M509.6 660.3h.01M468.0 603.1h.01M464.8 596.3h.01M465.3 587.6h.01M509.3 619.1h.01M511.2 627.5h.01M510.4 569.2h.01M452.5 596.3h.01M532.3 598.7h.01M485.1 566.2h.01M479.2 563.7h.01M526.7 647.1h.01M431.4 591.0h.01M452.1 604.9h.01M458.2 610.9h.01M461.2 616.3h.01" stroke="#2a3aa0" stroke-width="1.3" stroke-linecap="round" fill="none" stroke-opacity="0.85"/>
<path d="M529.4 660.9h.01M536.0 664.5h.01M502.6 593.5h.01M517.7 632.8h.01M509.5 622.1h.01M517.2 616.2h.01M522.7 611.0h.01M518.7 587.6h.01M540.2 601.4h.01M466.2 625.2h.01M421.0 631.1h.01M420.0 631.3h.01M461.2 592.7h.01M449.5 661.1h.01M484.4 574.9h.01M496.1 675.2h.01M450.8 570.0h.01M451.8 569.6h.01M454.7 568.0h.01M521.0 581.3h.01M451.0 592.9h.01M483.4 611.5h.01M486.4 612.7h.01M499.5 625.1h.01M502.7 623.8h.01M502.7 630.2h.01M506.5 646.7h.01M493.0 640.8h.01M491.1 640.0h.01M487.6 672.8h.01M484.8 674.3h.01M478.3 673.9h.01M528.4 644.9h.01M516.0 661.0h.01M417.9 625.0h.01M522.6 586.1h.01M523.6 585.6h.01M513.0 642.9h.01M515.2 580.7h.01M520.8 584.0h.01M464.3 635.9h.01M532.4 618.2h.01M522.0 613.3h.01M549.2 616.0h.01M552.2 614.5h.01M552.9 611.5h.01M454.4 644.4h.01M449.8 631.9h.01M450.8 632.3h.01M456.2 632.2h.01M460.4 633.2h.01M495.0 566.1h.01M526.9 657.6h.01M498.8 587.6h.01M491.8 599.9h.01M484.7 601.0h.01M512.2 662.3h.01M508.5 568.2h.01M515.7 570.5h.01M520.0 570.7h.01M524.2 571.7h.01M512.7 608.8h.01M529.9 613.4h.01M498.4 603.8h.01M486.1 566.8h.01M455.2 629.1h.01M443.9 581.2h.01M439.2 583.7h.01M488.3 624.6h.01M450.1 604.1h.01" stroke="#e03040" stroke-width="1.3" stroke-linecap="round" fill="none" stroke-opacity="0.85"/>
<path d="M530.5 661.0h.01M503.9 652.8h.01M489.7 600.1h.01M493.7 596.5h.01M538.9 595.2h.01M460.5 619.1h.01M470.2 601.8h.01M434.8 625.1h.01M415.8 640.1h.01M414.3 643.0h.01M471.8 659.2h.01M483.0 652.0h.01M451.8 593.7h.01M452.3 664.5h.01M493.6 569.1h.01M477.9 663.7h.01M485.3 663.4h.01M491.4 664.3h.01M494.8 682.5h.01M443.2 584.9h.01M517.7 591.9h.01M439.7 589.6h.01M438.8 589.0h.01M488.4 569.9h.01M445.2 591.7h.01M494.6 621.0h.01M504.9 630.5h.01M509.2 629.9h.01M490.1 568.6h.01M487.9 569.0h.01M476.3 567.1h.01M511.6 641.3h.01M497.3 641.8h.01M510.5 591.1h.01M527.1 654.2h.01M520.9 658.6h.01M426.5 629.2h.01M505.5 597.1h.01M518.5 587.6h.01M523.6 643.8h.01M512.0 643.5h.01M511.0 643.8h.01M521.8 584.6h.01M466.8 633.8h.01M529.8 623.0h.01M536.4 617.4h.01M537.4 617.9h.01M548.1 616.1h.01M460.1 641.4h.01M503.4 559.5h.01M524.5 655.5h.01M534.2 671.6h.01M437.4 552.1h.01M492.9 600.2h.01M485.8 606.3h.01M512.2 630.6h.01M446.4 590.4h.01M445.8 589.5h.01M504.8 641.4h.01M521.5 611.3h.01M508.1 611.6h.01M510.3 611.2h.01M529.5 597.0h.01M495.7 565.8h.01M490.4 567.1h.01M526.3 650.3h.01M437.2 584.5h.01M482.9 579.4h.01M474.6 576.6h.01M472.4 576.4h.01M448.2 603.0h.01M458.9 611.7h.01M501.0 576.6h.01" stroke="#a81a2a" stroke-width="1.0" stroke-linecap="round" fill="none" stroke-opacity="0.85"/>
<path d="M531.6 661.3h.01M532.5 661.8h.01M506.6 623.1h.01M525.5 609.2h.01M526.3 588.0h.01M465.2 625.0h.01M423.2 630.9h.01M477.2 652.5h.01M449.6 594.0h.01M489.3 572.4h.01M481.4 653.6h.01M495.3 672.0h.01M495.6 673.1h.01M443.2 591.3h.01M519.6 579.6h.01M523.6 584.7h.01M435.9 587.6h.01M430.5 587.2h.01M489.5 570.1h.01M506.0 624.4h.01M483.2 661.3h.01M480.5 606.9h.01M504.9 611.9h.01M497.1 661.2h.01M489.2 669.9h.01M507.4 596.0h.01M507.0 645.5h.01M523.2 586.2h.01M467.8 633.4h.01M532.3 617.1h.01M535.3 617.2h.01M459.5 642.3h.01M458.3 632.8h.01M503.8 608.8h.01M485.0 602.0h.01M485.1 604.2h.01M489.5 610.0h.01M515.3 666.7h.01M465.7 599.4h.01M465.3 597.3h.01M465.3 586.5h.01M452.2 595.3h.01M443.2 581.3h.01M513.8 609.0h.01M522.3 613.3h.01M531.5 597.9h.01M538.9 604.1h.01M498.9 566.2h.01M526.1 652.5h.01M449.9 579.3h.01M434.9 586.9h.01M487.7 623.7h.01M492.5 586.2h.01M489.4 585.2h.01M463.7 621.1h.01M501.8 577.3h.01M496.7 575.6h.01M494.6 576.0h.01" stroke="#a81a2a" stroke-width="1.3" stroke-linecap="round" fill="none" stroke-opacity="0.85"/>
<path d="M533.4 662.6h.01M468.8 609.3h.01M474.8 654.7h.01M494.6 568.7h.01M475.7 647.0h.01M431.6 586.9h.01M479.7 569.8h.01M493.8 619.0h.01M483.8 662.2h.01M484.5 674.2h.01M503.4 647.9h.01M507.6 646.4h.01M511.4 634.1h.01M451.5 632.2h.01M454.1 641.3h.01M529.0 648.1h.01M529.0 649.2h.01M444.7 627.4h.01M505.3 603.7h.01M506.8 647.6h.01M454.2 638.1h.01M459.6 638.6h.01M492.7 664.8h.01M539.6 618.0h.01M547.1 616.5h.01M466.1 638.2h.01M533.6 670.7h.01M495.7 586.4h.01M512.6 569.4h.01M498.5 642.2h.01M525.7 612.6h.01M537.0 601.4h.01M483.1 565.4h.01M526.6 655.7h.01M454.1 578.3h.01M464.0 623.2h.01" stroke="#5a3a90" stroke-width="1.3" stroke-linecap="round" fill="none" stroke-opacity="0.85"/>
<path d="M534.1 663.3h.01M532.0 633.4h.01M522.0 587.4h.01M477.2 648.6h.01M466.5 644.7h.01M482.2 664.5h.01M443.8 581.7h.01M513.8 575.0h.01M493.1 618.0h.01M494.0 620.0h.01M484.1 664.4h.01M478.5 567.6h.01M451.7 636.6h.01M503.8 607.7h.01M524.5 656.1h.01M430.9 629.2h.01M429.8 629.0h.01M520.3 641.5h.01M486.3 663.4h.01M529.7 659.3h.01M492.8 610.5h.01M468.9 603.7h.01M511.4 614.1h.01M516.7 570.7h.01M443.6 585.7h.01M510.7 608.1h.01M456.4 631.0h.01M440.0 582.9h.01M494.6 586.6h.01M459.4 613.7h.01" stroke="#2a2a70" stroke-width="1.0" stroke-linecap="round" fill="none" stroke-opacity="0.85"/>
<path d="M535.1 663.9h.01M500.5 655.5h.01M498.3 593.6h.01M539.6 627.7h.01M536.4 593.2h.01M461.6 617.3h.01M483.4 656.2h.01M442.9 586.0h.01M513.0 620.5h.01M491.2 568.7h.01M475.2 567.1h.01M511.5 633.0h.01M499.5 641.8h.01M509.1 618.1h.01M488.8 671.0h.01M453.1 629.5h.01M450.1 628.4h.01M436.4 638.6h.01M511.3 592.3h.01M516.6 588.7h.01M516.3 581.0h.01M439.7 541.8h.01M487.5 600.2h.01M514.6 665.9h.01M465.6 598.3h.01M522.1 571.4h.01M536.9 614.7h.01M530.5 597.4h.01M497.9 565.8h.01M453.0 578.3h.01" stroke="#2a2a70" stroke-width="1.6" stroke-linecap="round" fill="none" stroke-opacity="0.85"/>
<path d="M538.0 665.2h.01M496.4 594.7h.01M510.9 620.4h.01M523.5 610.3h.01M517.7 587.2h.01M529.5 590.8h.01M532.1 592.7h.01M463.1 624.4h.01M433.0 626.4h.01M472.5 658.4h.01M473.1 657.5h.01M475.7 663.4h.01M444.9 625.1h.01M442.5 587.0h.01M522.8 589.0h.01M422.2 588.9h.01M510.0 622.8h.01M518.8 619.1h.01M512.7 638.2h.01M512.5 636.0h.01M491.3 623.3h.01M481.3 611.2h.01M480.7 609.1h.01M450.5 630.3h.01M452.1 638.7h.01M507.8 615.0h.01M506.0 598.1h.01M496.2 661.8h.01M471.9 674.9h.01M471.0 675.6h.01M442.7 640.2h.01M518.1 641.6h.01M504.3 576.0h.01M506.2 577.1h.01M511.2 579.3h.01M526.0 625.1h.01M528.9 623.5h.01M531.8 616.1h.01M543.9 617.3h.01M460.8 640.5h.01M453.4 644.5h.01M450.1 644.7h.01M508.1 551.5h.01M510.7 549.6h.01M531.2 660.9h.01M500.4 593.5h.01M496.8 586.8h.01M498.0 604.1h.01M495.8 601.6h.01M483.7 598.0h.01M484.6 599.9h.01M494.9 610.0h.01M514.1 664.9h.01M514.6 570.2h.01M445.1 588.6h.01M444.6 587.6h.01M502.7 641.7h.01M509.6 637.4h.01M507.4 608.1h.01M509.6 608.1h.01M514.9 608.9h.01M512.5 610.9h.01M454.8 628.1h.01M462.4 618.1h.01M464.1 622.1h.01M499.9 576.3h.01M490.5 577.5h.01" stroke="#8a1a3a" stroke-width="1.3" stroke-linecap="round" fill="none" stroke-opacity="0.85"/>
<path d="M539.1 665.5h.01M492.7 597.0h.01M540.7 627.6h.01M462.3 616.4h.01M486.3 652.0h.01M487.4 652.1h.01M503.5 575.6h.01M491.0 571.1h.01M486.1 658.0h.01M469.6 645.6h.01M447.4 591.6h.01M444.2 592.2h.01M500.9 624.9h.01M484.4 669.8h.01M482.8 678.3h.01M485.7 619.9h.01M483.4 616.3h.01M482.9 615.3h.01M476.3 579.7h.01M452.7 639.6h.01M508.8 617.0h.01M504.6 603.4h.01M446.2 650.2h.01M514.1 590.9h.01M517.3 581.5h.01M530.9 621.1h.01M542.8 617.2h.01M552.4 610.5h.01M472.4 628.0h.01M465.6 634.9h.01M461.7 638.5h.01M506.0 556.5h.01M493.6 585.9h.01M495.0 600.8h.01M465.2 588.7h.01M443.3 583.5h.01M506.3 607.9h.01M520.5 610.7h.01M499.8 605.4h.01M480.3 563.7h.01M453.4 623.1h.01M526.3 653.6h.01M503.9 577.9h.01" stroke="#3a4ab8" stroke-width="1.6" stroke-linecap="round" fill="none" stroke-opacity="0.85"/>
<path d="M512.3 650.5h.01M496.7 653.2h.01M499.4 593.5h.01M536.5 628.9h.01M508.7 622.8h.01M424.3 630.8h.01M463.6 594.9h.01M448.7 660.4h.01M476.8 663.6h.01M493.5 668.1h.01M442.7 590.3h.01M444.9 576.3h.01M449.1 591.7h.01M448.0 591.5h.01M481.9 570.1h.01M454.0 596.6h.01M496.3 622.4h.01M507.9 622.5h.01M484.4 666.5h.01M480.5 568.5h.01M470.0 564.0h.01M474.0 574.9h.01M473.3 570.6h.01M451.4 634.4h.01M505.6 644.0h.01M508.3 595.4h.01M527.3 583.4h.01M509.3 578.1h.01M552.2 609.5h.01M535.9 673.0h.01M537.9 673.9h.01M497.5 600.5h.01M437.6 551.0h.01M497.3 603.2h.01M493.8 610.1h.01M516.9 668.2h.01M529.6 572.8h.01M505.0 610.8h.01M519.7 611.4h.01M455.9 630.0h.01M491.0 628.0h.01M497.9 587.1h.01" stroke="#5a3a90" stroke-width="1.6" stroke-linecap="round" fill="none" stroke-opacity="0.85"/>
<path d="M510.1 650.8h.01M533.9 630.9h.01M516.8 586.5h.01M429.5 629.1h.01M482.0 651.6h.01M452.9 593.7h.01M451.5 663.7h.01M492.1 665.1h.01M492.8 666.0h.01M446.8 573.7h.01M516.7 576.3h.01M520.3 580.5h.01M523.3 586.9h.01M518.7 592.3h.01M497.7 624.0h.01M509.0 623.3h.01M510.8 622.1h.01M512.0 621.0h.01M483.9 663.3h.01M484.4 668.7h.01M484.3 673.1h.01M471.1 565.9h.01M508.5 645.9h.01M509.8 644.1h.01M511.9 635.1h.01M478.1 582.5h.01M476.0 578.7h.01M473.3 571.7h.01M508.4 616.0h.01M504.5 604.5h.01M506.2 597.0h.01M495.4 662.6h.01M490.1 669.3h.01M517.9 659.9h.01M434.1 629.7h.01M438.6 638.6h.01M523.2 642.7h.01M508.2 577.9h.01M524.2 588.2h.01M531.6 615.0h.01M489.5 664.0h.01M490.6 664.4h.01M497.0 664.8h.01M529.5 614.1h.01M530.5 614.6h.01M538.5 618.0h.01M541.7 617.4h.01M470.7 630.9h.01M468.0 632.6h.01M463.0 636.8h.01M440.0 631.2h.01M446.6 631.1h.01M461.5 633.5h.01M532.7 670.1h.01M437.2 553.2h.01M493.9 600.6h.01M490.6 610.2h.01M510.0 617.1h.01M517.8 570.9h.01M510.1 636.4h.01M503.0 609.8h.01M534.2 599.7h.01M542.4 607.8h.01M449.1 603.5h.01M453.9 606.1h.01M460.4 615.7h.01M495.6 575.6h.01" stroke="#e03040" stroke-width="1.6" stroke-linecap="round" fill="none" stroke-opacity="0.85"/>
<path d="M509.0 651.0h.01M507.9 651.3h.01M503.1 653.6h.01M495.5 595.2h.01M520.5 634.6h.01M531.2 634.1h.01M462.0 624.0h.01M431.2 627.7h.01M417.8 631.6h.01M416.1 639.0h.01M504.2 576.4h.01M502.2 572.6h.01M486.4 574.0h.01M487.4 662.8h.01M495.2 681.5h.01M440.8 632.6h.01M442.4 628.7h.01M442.6 589.2h.01M450.0 592.3h.01M450.3 592.9h.01M500.6 625.3h.01M489.0 568.7h.01M512.3 639.3h.01M459.5 645.1h.01M495.2 641.1h.01M498.2 660.8h.01M481.5 674.6h.01M527.7 644.0h.01M417.6 624.0h.01M444.9 647.2h.01M520.6 587.0h.01M528.0 624.1h.01M545.0 617.2h.01M444.4 631.2h.01M496.6 564.6h.01M544.4 674.3h.01M547.4 675.6h.01M440.4 564.2h.01M441.4 538.0h.01M511.4 661.5h.01M453.1 599.6h.01M503.7 641.4h.01M508.8 638.2h.01M502.1 607.8h.01M507.0 611.4h.01M516.8 610.0h.01M540.5 606.9h.01M523.2 639.6h.01M526.1 651.4h.01M480.8 578.7h.01" stroke="#2a3aa0" stroke-width="1.0" stroke-linecap="round" fill="none" stroke-opacity="0.85"/>
<path d="M506.9 651.7h.01M501.6 593.6h.01M540.2 600.3h.01M457.5 666.3h.01M444.6 577.4h.01M446.1 574.6h.01M449.2 571.6h.01M452.8 569.1h.01M507.1 630.4h.01M473.7 567.4h.01M454.6 642.3h.01M509.3 594.8h.01M525.3 613.3h.01M469.9 631.6h.01M449.2 645.3h.01M487.2 566.9h.01M459.5 612.6h.01M492.6 576.8h.01" stroke="#c8a020" stroke-width="1.6" stroke-linecap="round" fill="none" stroke-opacity="0.85"/>
<path d="M505.9 652.1h.01M496.1 652.3h.01M503.7 593.7h.01M534.7 630.2h.01M512.6 619.0h.01M520.8 612.2h.01M469.5 606.1h.01M430.4 628.5h.01M459.1 591.9h.01M455.9 592.5h.01M453.3 664.9h.01M492.6 569.6h.01M484.4 664.0h.01M496.2 677.4h.01M522.5 582.9h.01M424.3 589.1h.01M487.3 569.7h.01M484.4 672.0h.01M479.5 568.0h.01M500.5 649.5h.01M511.9 640.3h.01M481.7 612.2h.01M474.3 566.4h.01M451.5 633.3h.01M456.3 645.1h.01M498.4 641.7h.01M505.5 612.8h.01M482.6 674.6h.01M472.9 674.7h.01M527.6 653.2h.01M525.5 655.6h.01M441.4 627.6h.01M415.8 620.0h.01M440.7 639.3h.01M506.4 596.5h.01M524.1 644.8h.01M513.1 580.1h.01M481.9 663.1h.01M467.2 633.3h.01M462.1 637.5h.01M466.7 639.1h.01M468.6 640.2h.01M506.9 553.3h.01M536.8 673.6h.01M540.1 674.0h.01M500.1 590.5h.01M499.6 588.3h.01M438.7 561.4h.01M437.7 544.5h.01M487.7 608.8h.01M491.7 610.4h.01M509.3 620.2h.01M510.4 623.3h.01M509.4 568.8h.01M449.1 592.2h.01M497.5 641.7h.01M508.5 608.1h.01M519.6 610.2h.01M528.8 613.3h.01M536.2 600.7h.01M526.9 659.0h.01M449.0 579.9h.01M447.1 581.0h.01M464.3 626.4h.01" stroke="#e03040" stroke-width="1.0" stroke-linecap="round" fill="none" stroke-opacity="0.85"/>
<path d="M504.8 652.2h.01M499.5 655.1h.01M540.0 602.5h.01M469.5 605.0h.01M416.1 634.6h.01M441.7 629.6h.01M448.3 572.1h.01M494.0 573.1h.01M448.4 591.8h.01M501.7 625.3h.01M482.7 660.3h.01M482.5 569.2h.01M480.9 610.2h.01M481.0 605.9h.01M473.7 572.7h.01M508.7 644.9h.01M507.1 614.3h.01M504.1 606.6h.01M504.7 602.3h.01M508.9 592.5h.01M483.7 674.6h.01M522.8 657.4h.01M517.0 660.5h.01M440.3 627.5h.01M439.3 628.1h.01M419.4 626.6h.01M417.0 621.9h.01M444.1 641.8h.01M504.0 602.0h.01M519.6 587.3h.01M518.2 582.1h.01M484.1 663.0h.01M457.5 643.1h.01M441.1 631.1h.01M498.5 563.6h.01M522.4 653.0h.01M531.4 668.3h.01M498.1 599.6h.01M500.1 594.5h.01M439.8 563.3h.01M441.0 540.1h.01M502.9 608.1h.01M513.1 662.9h.01M521.1 570.8h.01M495.8 640.4h.01M522.5 611.7h.01M535.1 600.3h.01M496.8 565.8h.01M453.5 626.3h.01M451.9 578.3h.01M438.2 584.2h.01M434.4 587.9h.01M485.7 621.1h.01M456.0 608.6h.01" stroke="#c81e2e" stroke-width="1.0" stroke-linecap="round" fill="none" stroke-opacity="0.85"/>
<path d="M501.5 655.1h.01M496.0 651.2h.01M497.2 593.9h.01M514.9 631.1h.01M529.0 634.7h.01M532.8 632.6h.01M533.0 631.6h.01M546.1 626.9h.01M524.4 609.6h.01M526.5 608.8h.01M540.3 598.1h.01M539.7 603.6h.01M435.4 624.2h.01M450.7 593.9h.01M448.6 594.5h.01M451.0 662.7h.01M480.8 652.7h.01M483.3 664.3h.01M441.2 630.6h.01M447.3 622.9h.01M444.5 578.5h.01M518.0 578.1h.01M519.8 592.0h.01M452.0 593.2h.01M445.8 591.5h.01M442.6 591.1h.01M428.4 587.9h.01M482.9 570.0h.01M509.0 622.3h.01M506.0 630.6h.01M483.2 677.3h.01M476.9 580.7h.01M451.2 631.1h.01M455.5 644.3h.01M506.4 596.0h.01M490.7 668.3h.01M452.2 628.8h.01M433.0 629.4h.01M512.0 580.0h.01M457.5 638.8h.01M461.7 637.9h.01M466.0 634.5h.01M498.9 665.9h.01M443.3 631.4h.01M447.6 631.4h.01M457.2 632.7h.01M497.6 564.2h.01M501.4 562.0h.01M505.7 557.5h.01M508.8 550.7h.01M530.5 660.0h.01M543.3 674.1h.01M439.0 542.7h.01M484.5 598.8h.01M484.1 598.9h.01M485.2 603.1h.01M466.1 600.4h.01M509.3 618.0h.01M507.5 567.7h.01M452.6 597.4h.01M535.9 614.2h.01M515.7 610.2h.01M537.7 602.2h.01M453.3 625.2h.01M524.9 640.9h.01M526.2 643.9h.01M432.3 590.4h.01M459.7 614.8h.01" stroke="#a81a2a" stroke-width="1.6" stroke-linecap="round" fill="none" stroke-opacity="0.85"/>
<path d="M498.6 654.5h.01M497.6 653.9h.01M489.4 601.2h.01M518.6 633.4h.01M538.6 628.1h.01M527.3 588.4h.01M530.2 591.7h.01M539.6 596.1h.01M464.1 624.8h.01M416.7 631.8h.01M489.6 652.4h.01M462.1 593.2h.01M460.2 592.2h.01M447.8 595.2h.01M445.7 659.3h.01M491.9 570.4h.01M478.0 649.4h.01M480.1 663.9h.01M490.5 663.6h.01M496.3 679.6h.01M443.7 626.9h.01M446.6 623.7h.01M458.8 568.5h.01M438.0 588.2h.01M434.8 587.3h.01M427.3 588.1h.01M453.7 595.6h.01M443.3 592.7h.01M501.8 629.7h.01M481.4 569.1h.01M501.5 648.9h.01M509.2 645.1h.01M510.4 643.2h.01M480.5 608.0h.01M457.3 645.3h.01M506.1 613.6h.01M476.1 673.9h.01M528.3 652.3h.01M449.0 628.1h.01M442.5 627.5h.01M428.7 629.1h.01M416.6 620.9h.01M444.4 644.0h.01M510.5 593.0h.01M524.6 585.2h.01M526.3 583.7h.01M521.4 641.6h.01M456.4 638.5h.01M462.6 637.3h.01M483.0 663.0h.01M526.3 613.5h.01M527.4 613.6h.01M459.3 633.0h.01M463.8 635.9h.01M469.6 640.7h.01M526.1 656.9h.01M541.2 673.9h.01M546.4 675.1h.01M498.7 598.7h.01M499.6 596.7h.01M437.5 546.6h.01M437.4 545.5h.01M485.3 605.3h.01M467.3 602.3h.01M509.6 621.2h.01M512.0 629.5h.01M454.2 608.7h.01M443.4 584.6h.01M499.5 642.5h.01M527.3 596.9h.01M533.1 599.3h.01M543.5 607.9h.01M493.5 566.0h.01M521.4 638.4h.01M526.9 648.2h.01M477.8 577.3h.01M454.4 607.1h.01M462.6 619.2h.01M497.8 575.9h.01" stroke="#c81e2e" stroke-width="1.3" stroke-linecap="round" fill="none" stroke-opacity="0.85"/>
<path d="M489.2 602.3h.01M526.8 634.6h.01M537.5 628.4h.01M517.7 615.2h.01M538.2 594.3h.01M460.2 621.3h.01M469.7 602.8h.01M428.5 629.4h.01M414.1 644.1h.01M480.0 651.1h.01M484.1 652.3h.01M458.0 591.9h.01M446.9 595.9h.01M446.8 659.3h.01M455.4 665.7h.01M485.3 657.3h.01M493.2 667.0h.01M495.7 680.5h.01M445.6 624.3h.01M443.9 582.8h.01M444.2 579.6h.01M460.3 570.0h.01M513.0 574.2h.01M521.8 582.1h.01M522.9 587.9h.01M453.0 593.6h.01M484.0 570.0h.01M486.2 569.7h.01M490.3 614.7h.01M495.4 621.7h.01M500.9 629.0h.01M474.1 567.0h.01M488.6 621.4h.01M445.4 628.9h.01M511.1 647.1h.01M496.3 641.4h.01M492.0 640.7h.01M489.6 637.1h.01M510.8 623.2h.01M505.1 601.2h.01M509.6 591.7h.01M477.2 673.9h.01M528.6 650.2h.01M526.4 655.0h.01M455.8 631.4h.01M515.9 641.7h.01M514.8 641.7h.01M507.2 577.5h.01M458.6 638.9h.01M500.2 667.6h.01M474.2 626.8h.01M466.4 634.1h.01M438.9 631.1h.01M455.1 631.9h.01M467.6 639.8h.01M471.8 641.0h.01M490.7 566.3h.01M505.3 558.6h.01M527.7 658.4h.01M531.2 664.1h.01M499.9 589.4h.01M492.3 584.2h.01M441.4 536.9h.01M505.6 611.5h.01M486.8 608.1h.01M464.6 595.2h.01M510.6 616.2h.01M511.4 628.6h.01M523.6 611.9h.01M531.9 612.4h.01M534.0 613.1h.01M521.3 612.9h.01M492.6 566.5h.01M453.2 624.1h.01M526.0 642.8h.01M526.3 654.7h.01M427.6 593.2h.01M485.1 620.2h.01M490.2 627.3h.01M488.6 584.4h.01M473.5 576.6h.01M471.4 576.8h.01M464.0 624.3h.01M493.6 576.4h.01M491.6 577.2h.01" stroke="#8a1a3a" stroke-width="1.6" stroke-linecap="round" fill="none" stroke-opacity="0.85"/>
<path d="M490.2 599.2h.01M494.5 595.9h.01M540.3 599.2h.01M496.8 568.8h.01M474.0 645.7h.01M515.7 575.9h.01M425.4 589.0h.01M513.9 619.8h.01M504.5 643.8h.01M502.6 642.7h.01M475.0 673.9h.01M451.1 628.6h.01M441.7 639.8h.01M443.6 640.9h.01M455.3 638.3h.01M501.9 561.0h.01M506.3 554.3h.01M494.8 602.3h.01M516.1 667.5h.01M528.5 572.8h.01M442.8 581.2h.01M441.8 581.7h.01M490.4 585.6h.01" stroke="#c8a020" stroke-width="1.0" stroke-linecap="round" fill="none" stroke-opacity="0.85"/>
<path d="M491.0 598.4h.01M522.5 635.4h.01M530.1 634.3h.01M510.1 621.1h.01M513.6 618.6h.01M514.5 618.0h.01M519.8 587.5h.01M525.3 587.5h.01M535.3 593.2h.01M539.9 597.1h.01M481.1 651.0h.01M490.2 571.8h.01M487.4 573.6h.01M470.7 645.8h.01M436.9 588.1h.01M507.0 624.2h.01M505.8 622.6h.01M500.3 625.8h.01M479.9 657.0h.01M480.7 657.8h.01M470.5 565.0h.01M490.4 622.6h.01M482.3 614.3h.01M474.7 577.0h.01M449.7 629.5h.01M458.4 645.1h.01M510.3 646.4h.01M509.5 645.6h.01M489.9 638.2h.01M505.9 599.2h.01M507.3 594.0h.01M528.7 651.3h.01M423.3 628.5h.01M418.5 625.9h.01M503.8 600.9h.01M515.0 590.2h.01M525.4 584.4h.01M517.0 641.5h.01M506.9 646.6h.01M505.2 576.6h.01M514.2 580.3h.01M485.2 663.4h.01M524.2 613.5h.01M534.3 616.8h.01M451.2 644.6h.01M500.5 562.7h.01M500.0 606.6h.01M527.4 572.5h.01M452.7 605.9h.01M452.9 598.5h.01M505.9 641.2h.01M510.0 634.2h.01M534.9 613.8h.01M504.0 610.2h.01M489.3 567.1h.01M454.1 627.2h.01M523.9 640.4h.01M526.9 656.8h.01M446.0 581.1h.01M428.5 592.6h.01M492.0 628.5h.01M496.8 587.0h.01M491.4 586.1h.01M478.8 577.7h.01" stroke="#8a1a3a" stroke-width="1.0" stroke-linecap="round" fill="none" stroke-opacity="0.85"/>
<path d="M491.7 597.6h.01M469.6 603.9h.01M422.1 631.0h.01M447.8 659.8h.01M484.5 656.6h.01M461.1 570.8h.01M441.6 590.6h.01M502.8 625.3h.01M475.3 577.9h.01M473.1 569.5h.01M521.8 657.9h.01M493.7 665.1h.01M533.4 616.2h.01M451.9 632.3h.01M464.5 593.0h.01M443.0 582.4h.01M508.1 639.0h.01M502.5 608.8h.01M541.4 607.5h.01M488.3 567.1h.01M526.7 646.0h.01M486.8 583.2h.01M481.8 579.0h.01" stroke="#d07020" stroke-width="1.3" stroke-linecap="round" fill="none" stroke-opacity="0.85"/>
<path d="M500.5 593.5h.01M519.6 633.9h.01M463.9 614.9h.01M432.2 627.2h.01M425.4 630.6h.01M477.8 651.6h.01M462.9 594.1h.01M488.3 573.0h.01M479.4 651.1h.01M474.7 663.2h.01M457.7 568.4h.01M512.1 573.5h.01M491.2 571.5h.01M492.4 617.2h.01M514.5 618.9h.01M500.2 626.9h.01M484.1 675.3h.01M483.7 676.3h.01M486.8 568.8h.01M484.2 618.3h.01M474.5 565.3h.01M494.5 663.1h.01M493.5 663.7h.01M492.3 665.5h.01M480.4 674.4h.01M514.9 661.3h.01M420.4 627.2h.01M504.1 598.8h.01M523.6 587.3h.01M525.0 588.9h.01M522.9 624.1h.01M531.5 613.9h.01M452.9 632.1h.01M502.4 560.1h.01M507.5 552.5h.01M509.6 549.9h.01M523.2 653.8h.01M531.5 661.9h.01M495.6 601.6h.01M500.8 591.3h.01M499.1 605.9h.01M464.6 594.1h.01M511.0 625.3h.01M452.3 604.9h.01M451.4 594.5h.01M501.7 642.1h.01M524.7 612.1h.01M501.4 606.9h.01M509.2 611.5h.01M520.4 612.2h.01M525.6 641.8h.01M526.3 645.0h.01M526.8 657.9h.01M445.0 581.3h.01M433.8 588.8h.01M429.4 592.0h.01M485.0 581.9h.01M484.2 581.1h.01M455.2 607.8h.01" stroke="#c81e2e" stroke-width="1.6" stroke-linecap="round" fill="none" stroke-opacity="0.85"/>
<path d="M515.9 631.5h.01M474.3 655.7h.01M453.6 568.4h.01M503.8 624.9h.01M503.7 623.2h.01M489.5 622.0h.01M488.4 663.8h.01M469.1 632.4h.01M530.8 666.3h.01M438.1 560.5h.01M438.1 558.3h.01M504.4 609.7h.01M452.2 602.7h.01M483.6 618.7h.01" stroke="#c8a020" stroke-width="1.3" stroke-linecap="round" fill="none" stroke-opacity="0.85"/>
<path d="M516.8 632.1h.01M548.2 627.3h.01M426.4 630.3h.01M416.3 637.9h.01M485.2 652.2h.01M501.3 571.8h.01M497.7 569.4h.01M467.5 645.0h.01M520.8 591.6h.01M432.6 587.1h.01M485.1 570.0h.01M481.4 610.6h.01M482.4 679.3h.01M491.9 569.5h.01M502.5 648.4h.01M479.2 584.4h.01M474.3 575.9h.01M448.6 629.4h.01M512.2 647.5h.01M444.3 645.1h.01M522.4 642.0h.01M499.6 563.3h.01M535.1 672.2h.01M486.4 599.9h.01M466.8 601.3h.01M453.2 606.9h.01M444.1 586.6h.01M514.7 610.6h.01M494.6 566.0h.01M485.8 582.7h.01M489.4 577.5h.01" stroke="#1e2a80" stroke-width="1.3" stroke-linecap="round" fill="none" stroke-opacity="0.85"/>
<path d="M521.5 635.0h.01M547.1 627.1h.01M468.6 610.4h.01M468.9 608.3h.01M470.0 660.5h.01M521.7 591.0h.01M444.7 591.5h.01M440.6 590.3h.01M496.2 573.5h.01M510.0 621.9h.01M484.4 670.9h.01M422.2 628.3h.01M445.8 649.1h.01M512.0 591.5h.01M491.6 664.7h.01M546.0 616.9h.01M552.8 613.6h.01M464.7 635.5h.01M436.9 631.7h.01M437.0 554.3h.01M506.4 612.3h.01M490.7 599.9h.01M469.9 604.3h.01M510.0 635.3h.01M487.2 622.7h.01" stroke="#b0b030" stroke-width="1.0" stroke-linecap="round" fill="none" stroke-opacity="0.85"/>
<path d="M524.7 635.2h.01M535.7 629.6h.01M467.4 612.3h.01M468.1 611.4h.01M500.5 571.1h.01M486.9 658.8h.01M440.7 631.5h.01M448.3 621.0h.01M517.4 577.2h.01M523.4 583.6h.01M423.2 589.4h.01M451.3 593.4h.01M491.1 615.5h.01M504.5 647.5h.01M473.9 573.8h.01M447.5 629.2h.01M451.5 635.5h.01M490.4 639.2h.01M508.2 593.3h.01M511.4 590.4h.01M470.1 676.3h.01M456.4 632.2h.01M421.3 627.7h.01M513.8 642.2h.01M487.4 663.6h.01M498.0 665.2h.01M523.1 613.4h.01M553.1 612.6h.01M475.3 626.6h.01M448.3 646.0h.01M448.7 631.6h.01M493.9 566.4h.01M542.3 674.1h.01M440.3 540.9h.01M501.0 607.1h.01M496.5 602.4h.01M510.3 609.9h.01M511.0 612.0h.01M513.7 569.7h.01M516.0 608.6h.01M518.0 608.6h.01M506.0 611.3h.01M538.4 603.1h.01M539.1 605.2h.01M448.1 580.5h.01M433.1 589.6h.01M446.4 601.6h.01M457.2 610.4h.01M463.0 620.2h.01M464.2 625.3h.01" stroke="#2a2a70" stroke-width="1.3" stroke-linecap="round" fill="none" stroke-opacity="0.85"/>
<path d="M527.9 634.7h.01M518.7 614.6h.01M521.7 611.5h.01M460.6 622.3h.01M460.9 618.1h.01M415.8 632.5h.01M414.6 641.9h.01M457.0 592.1h.01M450.2 662.0h.01M496.2 676.3h.01M447.7 621.9h.01M442.6 588.1h.01M493.0 572.7h.01M503.8 630.4h.01M505.4 647.0h.01M473.3 568.4h.01M509.3 619.1h.01M504.3 610.9h.01M491.9 666.5h.01M502.2 575.4h.01M527.0 624.6h.01M499.5 666.7h.01M520.9 613.1h.01M551.2 615.1h.01M461.4 639.6h.01M525.1 656.4h.01M499.1 597.6h.01M437.6 549.9h.01M485.5 599.3h.01M513.7 663.8h.01M464.7 591.9h.01M465.4 585.4h.01M510.5 611.0h.01M449.9 593.0h.01M448.1 591.8h.01M509.9 633.1h.01M513.6 610.8h.01M482.2 564.7h.01M441.0 582.4h.01M493.6 586.2h.01M498.9 575.9h.01" stroke="#2a3aa0" stroke-width="1.6" stroke-linecap="round" fill="none" stroke-opacity="0.85"/>
<path d="M541.7 627.2h.01M467.3 625.5h.01M460.3 620.2h.01M416.3 636.8h.01M478.9 651.1h.01M455.0 593.0h.01M502.6 573.6h.01M498.7 569.9h.01M476.4 647.9h.01M472.9 645.7h.01M486.3 662.9h.01M489.5 663.1h.01M443.8 592.2h.01M446.9 591.5h.01M452.2 594.0h.01M497.1 623.1h.01M484.1 665.5h.01M481.9 613.3h.01M478.5 583.5h.01M453.3 640.6h.01M511.2 624.3h.01M529.1 647.0h.01M437.5 638.6h.01M444.4 642.9h.01M509.9 594.0h.01M517.6 588.1h.01M521.6 586.5h.01M520.0 583.3h.01M471.3 629.9h.01M437.8 631.1h.01M532.1 669.1h.01M437.5 557.4h.01M488.5 609.5h.01M510.9 615.1h.01M510.5 624.3h.01M452.4 601.7h.01M450.7 593.7h.01M500.6 642.4h.01M518.7 609.5h.01M526.7 612.7h.01M497.9 602.8h.01M479.8 578.2h.01M451.1 604.5h.01M462.1 617.1h.01" stroke="#1e2a80" stroke-width="1.6" stroke-linecap="round" fill="none" stroke-opacity="0.85"/>
<path d="M542.8 627.3h.01M545.0 626.9h.01M465.5 613.4h.01M470.6 600.8h.01M476.4 653.2h.01M482.6 655.5h.01M494.2 668.9h.01M480.8 569.9h.01M483.6 569.0h.01M501.7 642.1h.01M503.8 608.8h.01M504.3 605.5h.01M447.9 627.9h.01M439.7 638.9h.01M507.9 644.7h.01M465.0 635.0h.01M531.4 615.2h.01M491.8 566.5h.01M499.9 595.6h.01M437.6 547.7h.01M511.2 613.1h.01M510.1 622.2h.01M452.1 603.8h.01M447.1 591.2h.01M511.8 608.3h.01M533.0 612.7h.01M450.9 578.7h.01" stroke="#b0b030" stroke-width="1.6" stroke-linecap="round" fill="none" stroke-opacity="0.85"/>
<path d="M505.6 622.8h.01M515.2 583.7h.01M534.2 593.0h.01M463.1 615.7h.01M415.8 633.6h.01M445.3 597.4h.01M445.3 575.4h.01M462.0 571.3h.01M518.9 578.8h.01M523.3 585.8h.01M452.8 594.9h.01M504.8 622.9h.01M508.1 630.0h.01M504.0 609.9h.01M479.3 674.3h.01M514.0 662.0h.01M480.8 662.9h.01M498.6 605.0h.01M500.6 606.1h.01M500.0 566.6h.01M489.0 625.4h.01M456.7 609.4h.01" stroke="#b0b030" stroke-width="1.3" stroke-linecap="round" fill="none" stroke-opacity="0.85"/>
<path d="M507.7 623.3h.01M464.7 614.1h.01M427.5 629.9h.01M504.8 577.4h.01M499.6 570.4h.01M485.4 574.5h.01M440.8 633.7h.01M459.7 569.1h.01M522.3 590.0h.01M449.5 592.2h.01M482.3 611.2h.01M508.1 623.9h.01M516.6 618.5h.01M481.9 680.3h.01M477.4 567.2h.01M473.1 566.7h.01M505.5 600.2h.01M492.8 664.5h.01M424.4 628.5h.01M417.5 622.9h.01M504.6 603.0h.01M513.1 591.2h.01M503.3 575.6h.01M510.2 578.7h.01M524.0 624.3h.01M494.8 665.2h.01M442.2 631.3h.01M495.7 565.3h.01M504.4 559.1h.01M506.1 555.4h.01M523.8 654.7h.01M531.4 663.0h.01M500.6 592.4h.01M492.2 583.1h.01M436.7 555.3h.01M486.0 607.3h.01M526.4 572.2h.01M453.3 608.0h.01M517.0 608.2h.01M499.2 604.5h.01M528.4 596.8h.01M491.5 566.8h.01M453.0 622.0h.01M483.6 580.2h.01M488.4 577.9h.01" stroke="#3a4ab8" stroke-width="1.0" stroke-linecap="round" fill="none" stroke-opacity="0.85"/>
<path d="M511.7 619.7h.01M531.0 592.4h.01M537.4 593.5h.01M438.1 622.4h.01M437.1 622.9h.01M470.9 659.9h.01M443.6 591.5h.01M433.7 587.1h.01M495.1 573.4h.01M484.5 611.7h.01M498.5 624.8h.01M506.9 622.9h.01M500.5 628.0h.01M485.7 568.9h.01M486.6 620.6h.01M481.4 586.9h.01M479.8 585.3h.01M477.4 581.6h.01M500.6 641.8h.01M509.7 620.2h.01M491.3 667.4h.01M488.2 671.8h.01M446.8 627.7h.01M438.3 628.4h.01M519.2 582.6h.01M468.8 632.9h.01M530.5 622.1h.01M550.2 615.6h.01M471.9 629.0h.01M458.5 642.7h.01M438.2 543.5h.01M502.0 607.5h.01M489.6 600.0h.01M508.5 660.1h.01M511.2 626.4h.01M511.5 569.2h.01M530.9 612.9h.01M518.7 610.8h.01M484.0 566.0h.01M478.2 563.2h.01M486.5 621.9h.01M502.8 577.8h.01" stroke="#1e2a80" stroke-width="1.0" stroke-linecap="round" fill="none" stroke-opacity="0.85"/>
<path d="M516.5 617.0h.01M520.2 613.0h.01M475.7 654.1h.01M468.6 645.3h.01M443.4 583.8h.01M456.7 567.9h.01M504.9 624.6h.01M479.2 656.1h.01M446.5 628.8h.01M506.6 644.1h.01M503.5 643.3h.01M510.0 621.2h.01M486.8 673.5h.01M454.0 632.0h.01M545.4 674.9h.01M426.7 593.7h.01M447.3 602.3h.01M453.1 605.4h.01" stroke="#d07020" stroke-width="1.0" stroke-linecap="round" fill="none" stroke-opacity="0.85"/>
<path d="M519.5 613.9h.01M523.1 587.5h.01M492.0 572.2h.01M485.5 612.2h.01M481.9 659.6h.01M512.6 637.1h.01M455.1 643.2h.01M494.1 640.9h.01M518.9 659.5h.01M512.0 662.8h.01M445.7 627.5h.01M445.1 648.3h.01M532.0 619.2h.01M456.5 643.6h.01M496.6 601.1h.01M497.8 587.3h.01M494.6 586.2h.01M437.0 556.4h.01" stroke="#40a040" stroke-width="1.6" stroke-linecap="round" fill="none" stroke-opacity="0.85"/>
<path d="M528.9 589.9h.01M533.1 592.9h.01M468.4 625.7h.01M469.3 607.2h.01M454.0 593.4h.01M454.3 665.3h.01M478.6 650.3h.01M479.0 663.8h.01M494.5 670.0h.01M496.3 678.5h.01M447.4 572.8h.01M490.4 570.8h.01M484.4 667.6h.01M510.8 642.2h.01M484.9 619.1h.01M451.8 637.7h.01M523.5 656.7h.01M431.9 629.3h.01M524.9 624.8h.01M531.4 620.1h.01M528.5 613.7h.01M539.0 674.0h.01M492.7 585.2h.01M438.2 559.4h.01M505.0 610.6h.01M488.6 600.3h.01M465.1 589.8h.01M525.3 572.0h.01M452.9 600.7h.01M506.9 640.8h.01M497.3 601.9h.01M517.8 610.2h.01M481.2 564.2h.01M526.5 649.2h.01M430.4 591.4h.01M484.6 619.2h.01" stroke="#5a3a90" stroke-width="1.0" stroke-linecap="round" fill="none" stroke-opacity="0.85"/>
<path d="M461.3 623.2h.01M503.0 574.6h.01M495.7 568.6h.01M482.1 654.5h.01M475.0 646.2h.01M494.8 671.0h.01M429.5 587.6h.01M487.6 620.9h.01M528.8 645.9h.01M513.1 662.6h.01M540.7 617.7h.01M506.9 566.8h.01M507.7 640.0h.01M487.8 583.7h.01" stroke="#40a040" stroke-width="1.0" stroke-linecap="round" fill="none" stroke-opacity="0.85"/>
<path d="M455.9 607.3h.01M493.4 584.3h.01M471.7 580.4h.01M452.6 620.6h.01M442.9 621.1h.01M525.9 584.8h.01M470.1 623.9h.01M459.2 648.9h.01M462.5 613.3h.01M527.0 591.2h.01M467.4 596.4h.01M526.9 606.3h.01M460.3 604.8h.01M465.6 646.1h.01M448.5 597.6h.01M526.7 567.6h.01M525.9 639.7h.01M486.0 637.5h.01M466.4 612.3h.01M528.5 652.1h.01M518.7 634.6h.01M495.6 609.3h.01M471.4 651.5h.01M444.6 660.1h.01M514.0 587.9h.01M521.3 606.7h.01M520.9 626.4h.01M473.0 641.7h.01M433.3 657.0h.01M485.6 571.1h.01M492.3 582.4h.01M516.2 583.0h.01M443.1 610.6h.01M510.8 661.5h.01M484.3 638.3h.01M486.8 589.8h.01M439.8 609.3h.01M516.3 650.3h.01M442.5 654.5h.01M528.2 595.4h.01M499.3 636.9h.01M507.6 576.7h.01M522.1 623.9h.01M486.7 597.8h.01M462.8 638.5h.01M506.2 568.7h.01M491.7 621.7h.01M453.5 608.5h.01M459.8 650.3h.01M513.1 641.3h.01M466.6 581.7h.01M494.3 590.3h.01M478.0 602.2h.01M491.7 566.4h.01M440.3 569.8h.01M450.2 649.3h.01M515.1 602.8h.01M502.9 580.8h.01M514.8 613.1h.01M514.3 630.2h.01M466.9 658.8h.01M447.5 572.9h.01M478.9 590.6h.01M474.8 628.7h.01M458.5 566.8h.01M478.4 643.8h.01M522.7 646.2h.01M477.2 648.7h.01M507.1 634.4h.01M474.6 565.6h.01M489.0 589.9h.01M520.3 645.3h.01M483.1 655.3h.01M500.0 572.6h.01M525.4 581.8h.01M450.8 639.8h.01M460.1 619.4h.01M522.8 572.1h.01M484.8 641.4h.01M454.9 619.8h.01M526.5 614.2h.01M510.7 569.0h.01M446.3 592.7h.01M474.0 651.1h.01M454.7 571.2h.01M481.9 590.2h.01M448.0 614.9h.01M482.6 662.6h.01M470.2 589.0h.01M446.0 656.6h.01M476.7 624.0h.01M492.1 567.9h.01M504.8 595.6h.01M490.6 579.5h.01M464.4 593.2h.01" stroke="#3a4ab8" stroke-width="1.0" stroke-linecap="round" fill="none" stroke-opacity="0.8"/>
<path d="M503.7 614.6h.01M482.9 619.2h.01M503.0 605.0h.01M437.0 612.7h.01M493.3 632.6h.01M468.6 573.2h.01M504.4 601.8h.01M464.8 606.5h.01M455.3 589.4h.01M441.2 611.9h.01M486.3 649.2h.01M434.1 596.7h.01M472.6 626.1h.01M437.8 658.2h.01M458.9 577.2h.01M467.3 606.5h.01M528.7 623.0h.01M479.2 605.0h.01M515.9 618.2h.01M505.0 590.2h.01M525.0 639.4h.01M465.1 582.4h.01M489.3 655.3h.01M484.7 612.6h.01M487.5 618.7h.01M471.3 570.6h.01M478.6 662.5h.01M433.5 638.6h.01M527.5 629.2h.01M514.9 653.6h.01M451.0 631.8h.01M448.6 571.3h.01M442.7 638.5h.01M527.9 660.2h.01M512.0 592.7h.01M483.1 624.8h.01M449.2 648.1h.01M465.3 569.3h.01M522.1 599.0h.01M510.3 617.7h.01M499.3 616.8h.01M444.3 576.6h.01M446.2 566.4h.01M517.0 635.2h.01M436.4 629.7h.01M509.8 584.7h.01M485.5 642.8h.01M492.8 626.7h.01M484.7 630.1h.01M451.4 622.2h.01M492.5 651.7h.01M480.0 644.4h.01M477.8 618.5h.01M467.1 590.7h.01M517.2 596.5h.01M474.5 604.6h.01M448.0 594.4h.01M495.8 584.9h.01M450.7 600.1h.01M443.0 644.4h.01M476.8 590.5h.01M444.3 646.6h.01M456.6 645.2h.01M494.1 567.3h.01M485.5 633.9h.01M450.9 575.6h.01M471.6 596.9h.01M492.0 645.9h.01M509.8 585.7h.01M506.4 596.8h.01M526.4 626.9h.01M491.4 622.4h.01M504.1 566.0h.01M490.6 618.9h.01M460.5 611.6h.01M509.4 623.3h.01M502.1 645.1h.01M490.4 602.0h.01M484.7 584.0h.01M524.1 642.2h.01M433.6 581.0h.01M485.1 572.8h.01M523.3 645.7h.01" stroke="#5a3a90" stroke-width="1.0" stroke-linecap="round" fill="none" stroke-opacity="0.8"/>
<path d="M486.7 593.7h.01M475.3 633.0h.01M524.1 596.4h.01M509.0 627.9h.01M500.2 642.2h.01M490.1 612.8h.01M484.1 601.0h.01M448.5 578.2h.01M520.0 627.8h.01M495.0 605.7h.01M444.5 572.9h.01M439.2 633.3h.01M436.4 588.8h.01M465.7 646.5h.01M487.3 614.6h.01M493.8 659.8h.01M481.8 569.1h.01M448.0 593.4h.01M490.6 630.1h.01M508.6 643.3h.01M507.9 652.2h.01M513.8 623.1h.01M449.4 619.6h.01M516.4 625.0h.01M501.6 645.2h.01M453.2 652.9h.01M526.9 602.5h.01M454.1 644.1h.01M480.2 603.1h.01M468.8 612.8h.01M455.5 585.2h.01M462.5 589.2h.01M468.7 582.8h.01M500.4 584.6h.01M522.1 599.8h.01M508.6 608.5h.01M472.6 641.3h.01M511.8 613.0h.01M512.0 617.8h.01M493.3 647.1h.01M519.9 603.7h.01M481.9 570.8h.01M471.0 574.4h.01M474.8 576.7h.01M482.4 593.0h.01M509.9 570.8h.01M505.0 633.9h.01M463.4 628.3h.01M493.7 606.5h.01M513.2 637.6h.01M464.7 575.4h.01M477.0 615.1h.01M474.3 616.1h.01M461.2 578.9h.01M508.7 607.4h.01M493.1 646.1h.01M480.1 618.9h.01M506.9 593.1h.01M526.8 566.1h.01M458.7 589.3h.01M469.3 645.7h.01M492.1 650.9h.01M446.4 608.3h.01M475.2 637.3h.01M513.8 628.5h.01M448.9 659.5h.01M499.0 644.8h.01M466.7 656.0h.01M443.0 650.1h.01M480.9 573.8h.01M501.2 590.0h.01M443.4 626.6h.01M478.6 625.0h.01M447.7 618.4h.01M524.2 614.0h.01M464.5 581.9h.01M442.9 649.1h.01M517.8 605.5h.01M482.3 621.2h.01M438.5 613.0h.01M504.3 590.8h.01M485.2 658.2h.01M434.3 638.2h.01M475.0 642.8h.01M483.1 628.4h.01M502.6 631.9h.01M490.0 654.8h.01M482.9 607.0h.01M475.7 643.2h.01M438.5 576.4h.01M478.2 647.4h.01M491.7 627.1h.01M473.3 654.7h.01M480.7 576.4h.01M483.2 597.3h.01M489.8 612.4h.01M517.4 578.7h.01M473.5 579.1h.01M433.4 570.9h.01M478.4 611.0h.01M507.9 568.4h.01M500.4 589.5h.01M474.9 648.7h.01M471.3 602.4h.01M440.2 589.9h.01M448.9 598.8h.01M500.3 599.9h.01M516.0 638.6h.01M502.8 634.1h.01M493.9 582.7h.01M473.6 593.7h.01M472.6 573.5h.01M457.6 633.9h.01M526.6 566.2h.01M507.9 643.5h.01M461.3 589.1h.01M510.8 587.9h.01M508.0 599.5h.01M433.8 611.2h.01M506.6 576.6h.01M503.4 609.0h.01M466.2 625.3h.01M518.4 570.3h.01M467.4 642.8h.01M526.7 619.0h.01M461.5 618.4h.01M511.9 599.6h.01M452.7 617.8h.01" stroke="#2a3aa0" stroke-width="1.0" stroke-linecap="round" fill="none" stroke-opacity="0.8"/>
<path d="M497.9 650.5h.01M443.8 625.9h.01M488.4 629.9h.01M439.0 597.4h.01M491.9 618.4h.01M465.6 645.1h.01M495.8 596.7h.01M513.8 607.0h.01M501.2 634.5h.01M509.1 578.9h.01M437.0 638.7h.01M514.5 600.7h.01M524.7 632.1h.01M495.7 627.7h.01M463.5 617.4h.01M483.4 650.1h.01M528.8 649.7h.01M484.2 579.1h.01M496.9 635.9h.01M465.9 645.2h.01M480.8 636.4h.01M484.6 653.1h.01M474.6 572.6h.01M464.6 566.9h.01M444.7 567.0h.01M518.3 589.8h.01M523.7 572.4h.01M506.1 613.7h.01M462.0 653.4h.01M449.8 655.7h.01M480.1 640.1h.01M476.1 622.5h.01M504.2 585.8h.01M434.8 606.5h.01M476.0 636.7h.01M461.8 641.8h.01M461.4 637.8h.01M490.3 615.0h.01M493.4 648.2h.01M524.7 635.1h.01M455.3 565.2h.01M498.3 633.0h.01M513.1 620.6h.01M460.5 656.7h.01M504.7 625.3h.01" stroke="#c81e2e" stroke-width="1.0" stroke-linecap="round" fill="none" stroke-opacity="0.8"/>
<path d="M487.7 661.5h.01M446.2 586.5h.01M462.6 584.6h.01M512.0 565.2h.01M513.3 655.1h.01M494.8 565.6h.01M524.7 605.9h.01M469.7 643.6h.01M473.4 659.8h.01M522.7 575.4h.01M517.4 634.4h.01M493.9 574.3h.01M479.0 623.2h.01M495.8 575.5h.01M437.1 592.6h.01M515.9 604.6h.01M524.3 617.3h.01M465.3 578.4h.01M482.5 616.9h.01M526.5 604.3h.01M474.9 583.1h.01M446.7 604.5h.01M520.2 611.0h.01M469.0 660.7h.01M487.3 637.0h.01M436.5 641.4h.01M452.0 606.9h.01M436.1 614.0h.01M482.6 636.1h.01M490.3 576.4h.01M444.1 573.4h.01M513.5 570.6h.01M474.1 582.9h.01M516.2 646.7h.01M490.1 580.5h.01M504.9 615.2h.01M442.0 637.7h.01M484.6 614.4h.01M436.1 592.4h.01M468.1 650.1h.01M505.4 613.8h.01M455.9 582.8h.01M458.1 601.7h.01M504.6 636.2h.01M438.9 626.5h.01M480.8 607.2h.01M521.0 650.4h.01M481.9 603.6h.01M505.6 576.6h.01M527.4 636.0h.01M446.7 617.5h.01M522.0 655.9h.01M454.3 600.2h.01M511.5 577.9h.01M471.9 612.7h.01M466.8 609.6h.01M463.0 627.3h.01M479.5 575.9h.01M436.3 656.1h.01M517.2 658.5h.01M488.2 590.6h.01M513.4 643.5h.01M455.2 652.9h.01M498.9 619.2h.01M481.2 591.8h.01M504.1 619.8h.01M524.7 602.4h.01M521.1 609.8h.01M529.1 585.4h.01M497.7 660.6h.01M520.2 588.5h.01M447.8 585.2h.01M433.2 624.2h.01M483.2 613.4h.01M443.0 645.4h.01M480.2 579.5h.01M465.1 621.5h.01M477.4 644.0h.01M464.5 658.8h.01M478.4 591.4h.01M459.7 620.6h.01M516.1 658.0h.01M474.4 615.0h.01M433.6 595.1h.01M510.7 657.6h.01M515.6 578.6h.01M457.4 585.6h.01M528.2 635.0h.01M487.7 585.9h.01M457.5 644.6h.01M505.8 651.5h.01M520.6 565.9h.01M452.1 650.5h.01M466.7 586.7h.01M507.3 610.4h.01" stroke="#2a2a70" stroke-width="1.0" stroke-linecap="round" fill="none" stroke-opacity="0.8"/>
<path d="M439.4 636.4h.01M483.4 577.3h.01M512.5 644.3h.01M491.0 616.6h.01M475.1 659.9h.01M439.5 654.6h.01M498.9 630.9h.01M476.4 657.5h.01M495.4 631.9h.01M440.6 623.5h.01M495.3 611.8h.01M464.3 626.7h.01M526.2 572.0h.01M493.4 581.6h.01M492.7 631.7h.01M489.0 617.4h.01M474.1 601.7h.01M456.4 638.3h.01M443.6 632.2h.01M484.5 600.7h.01M509.9 599.1h.01M461.5 571.2h.01M494.4 629.9h.01M493.7 628.9h.01M506.6 601.6h.01M514.0 596.8h.01M512.9 656.4h.01M456.0 613.4h.01M467.2 611.7h.01M504.6 614.0h.01M447.2 595.8h.01M437.6 641.0h.01M452.4 573.1h.01M445.7 639.0h.01M485.3 596.5h.01M463.1 636.4h.01M477.5 567.4h.01M511.0 657.3h.01M455.6 574.9h.01M487.3 631.2h.01M491.0 567.7h.01M453.6 596.3h.01M448.8 591.4h.01M521.0 631.5h.01M440.8 577.4h.01M527.6 606.7h.01M483.8 568.3h.01M470.0 627.5h.01M461.0 565.8h.01M440.2 627.1h.01M525.5 628.7h.01M440.1 609.0h.01M488.2 568.7h.01" stroke="#a81a2a" stroke-width="1.0" stroke-linecap="round" fill="none" stroke-opacity="0.8"/>
<path d="M496.9 586.2h.01M448.2 580.1h.01M521.6 581.1h.01M466.6 615.4h.01M527.6 654.9h.01M466.8 601.7h.01M523.0 616.7h.01M499.0 573.5h.01M499.6 636.3h.01M501.3 567.2h.01M509.3 626.9h.01M440.2 593.3h.01M485.7 612.6h.01M491.4 576.4h.01M453.3 585.2h.01M464.9 617.8h.01M500.6 576.3h.01M484.7 603.2h.01M480.4 596.4h.01M515.9 597.9h.01M491.7 621.5h.01M475.8 569.2h.01M507.8 606.8h.01M434.1 614.6h.01M440.6 591.4h.01M482.1 597.8h.01M472.3 567.2h.01M494.1 629.3h.01M514.5 587.7h.01M478.7 581.9h.01M456.7 638.0h.01M466.5 592.5h.01M506.2 639.3h.01M466.6 588.9h.01M446.7 637.3h.01M471.4 657.1h.01M497.3 591.6h.01M444.0 603.7h.01M470.8 583.2h.01M490.1 581.6h.01M480.2 585.0h.01M477.0 621.3h.01M479.4 597.8h.01M525.5 597.7h.01M437.5 564.9h.01M502.1 576.9h.01M478.9 571.0h.01M485.4 576.5h.01M433.2 632.4h.01M454.4 576.9h.01M456.4 592.0h.01M434.5 581.0h.01M503.3 574.7h.01M472.3 635.1h.01M463.4 645.7h.01M485.8 569.4h.01M483.7 606.6h.01M478.0 606.6h.01M470.7 572.9h.01M451.2 579.3h.01M519.7 602.1h.01M471.9 656.7h.01M472.4 578.9h.01M457.3 592.9h.01M449.3 659.8h.01M510.7 643.7h.01M486.3 624.3h.01M498.8 580.0h.01M461.7 586.4h.01M496.6 611.0h.01M459.1 582.7h.01M497.4 623.6h.01M474.4 652.7h.01M465.5 615.1h.01M471.1 571.0h.01M451.4 639.7h.01M525.5 656.5h.01M498.2 570.0h.01M518.1 604.4h.01M521.7 583.5h.01M508.7 571.6h.01M464.1 633.1h.01M460.6 581.0h.01M500.5 654.1h.01M458.6 588.6h.01M466.4 624.0h.01M504.0 619.3h.01M445.8 638.4h.01M506.9 571.3h.01M440.7 643.2h.01M457.8 568.6h.01M472.6 604.5h.01M463.6 615.6h.01M489.0 630.0h.01M491.8 572.4h.01M452.3 569.4h.01M449.0 581.9h.01" stroke="#1e2a80" stroke-width="1.0" stroke-linecap="round" fill="none" stroke-opacity="0.8"/>
<path d="M447.7 577.9h.01M483.5 627.1h.01M504.0 566.0h.01M504.4 595.7h.01M441.7 653.8h.01M465.9 598.2h.01M438.9 618.4h.01M438.0 622.6h.01M456.6 633.8h.01M504.1 584.4h.01M433.9 579.9h.01M520.5 581.9h.01M475.3 650.6h.01M522.5 639.5h.01M525.7 631.0h.01M521.1 653.5h.01M453.6 569.6h.01M513.3 595.6h.01M451.9 578.0h.01M478.1 595.7h.01M456.0 646.6h.01M433.8 617.5h.01M453.2 623.9h.01M483.4 648.4h.01M481.2 646.6h.01M447.3 634.7h.01M507.9 604.3h.01M506.1 585.2h.01M437.2 574.7h.01M502.9 580.5h.01M442.7 579.6h.01M510.2 616.7h.01M445.0 572.4h.01M475.4 618.6h.01M442.2 605.3h.01" stroke="#8a1a3a" stroke-width="1.0" stroke-linecap="round" fill="none" stroke-opacity="0.8"/>
<path d="M454.5 619.3h.01M513.7 645.4h.01M512.6 599.4h.01M441.0 600.5h.01M480.6 660.8h.01M491.2 647.0h.01M516.9 645.6h.01M443.3 604.5h.01M460.8 598.2h.01M438.4 650.1h.01M492.1 585.9h.01M487.5 642.4h.01M465.7 639.2h.01M443.5 652.3h.01M481.7 617.9h.01M441.3 579.6h.01M517.4 651.4h.01M472.1 572.4h.01M490.4 567.8h.01M433.6 624.6h.01M522.4 661.5h.01M439.6 634.9h.01M472.0 609.4h.01M440.9 573.9h.01M518.8 583.7h.01M440.5 592.5h.01M463.5 570.1h.01M497.8 610.0h.01M435.9 575.3h.01M482.8 642.2h.01M480.4 646.2h.01M438.1 646.6h.01M477.0 587.5h.01M461.8 604.1h.01M509.7 639.8h.01M474.1 603.2h.01M494.9 622.7h.01M489.7 630.9h.01M504.8 652.5h.01M440.1 630.0h.01M527.6 642.2h.01M524.1 653.8h.01M437.2 593.4h.01M521.0 589.0h.01M453.5 623.8h.01" stroke="#e03040" stroke-width="1.0" stroke-linecap="round" fill="none" stroke-opacity="0.8"/>
</g>
<text transform="translate(431.1 661.0) rotate(-90)" font-size="7.9" fill="#2fb45a" textLength="35.1" lengthAdjust="spacingAndGlyphs">pSFTPC</text>
<text transform="translate(431.1 623.0) rotate(-90)" font-size="7.9" fill="#e8303a" textLength="26.5" lengthAdjust="spacingAndGlyphs">NF-κB</text>
<text transform="translate(431.1 592.7) rotate(-90)" font-size="7.9" fill="#2ea8d8" textLength="19.9" lengthAdjust="spacingAndGlyphs">DAPI</text>
<text x="479.4" y="560.5" font-size="9.2" text-anchor="middle" >AT2<tspan font-size="5.5" dy="2.8">i</tspan></text>
<rect x="503.0" y="655.0" width="19.5" height="2.8" fill="#fff" />
<text x="512.8" y="651.4" font-size="7.6" text-anchor="middle" fill="#fff" >100 µm</text>
<rect x="560.3" y="564.8" width="107.3" height="98.1" fill="#000" />
<rect x="560.3" y="564.8" width="10.3" height="98.1" fill="#231f20" />
<g clip-path="url(#clip3)"><clipPath id="clip3"><rect x="570.6" y="564.8" width="97.0" height="98.1"/></clipPath>
<path d="M593.5 619.3h.01M599.3 577.0h.01M659.6 663.5h.01M624.7 654.3h.01M646.3 653.1h.01M595.6 598.8h.01M594.1 596.1h.01M621.4 610.8h.01M648.3 607.8h.01M652.6 598.6h.01M648.5 612.6h.01M635.5 612.5h.01M642.8 605.7h.01M573.7 628.3h.01M572.1 613.7h.01M660.4 640.6h.01M656.8 654.3h.01M668.7 658.0h.01M638.3 665.5h.01M605.8 674.9h.01M613.1 686.7h.01M617.7 580.4h.01M611.5 585.0h.01M622.0 589.3h.01" stroke="#b0b030" stroke-width="1.8" stroke-linecap="round" fill="none" stroke-opacity="0.85"/>
<path d="M593.2 620.3h.01M606.4 589.0h.01M641.7 658.5h.01M636.9 656.5h.01M634.4 653.1h.01M655.8 662.0h.01M643.3 652.8h.01M595.7 597.7h.01M575.3 596.9h.01M613.1 604.6h.01M616.1 605.6h.01M618.1 633.6h.01M651.9 595.4h.01M643.0 604.6h.01M572.5 624.1h.01M649.0 595.2h.01M633.5 587.1h.01M634.3 669.6h.01M633.7 672.7h.01M641.6 653.3h.01M640.6 664.5h.01M598.1 669.2h.01M604.4 585.4h.01M609.4 607.6h.01" stroke="#40a040" stroke-width="2.2" stroke-linecap="round" fill="none" stroke-opacity="0.85"/>
<path d="M593.8 621.3h.01M663.8 620.9h.01M667.6 613.7h.01M668.2 611.7h.01M640.8 657.8h.01M659.0 577.8h.01M610.2 575.2h.01M646.2 594.0h.01M590.6 593.7h.01M586.6 594.4h.01M617.4 630.5h.01M619.3 635.4h.01M608.1 622.9h.01M609.2 630.3h.01M643.3 602.6h.01M637.3 665.9h.01M637.3 587.4h.01M610.8 689.1h.01M603.4 584.8h.01M609.6 585.8h.01M613.1 583.8h.01M630.1 592.8h.01M619.6 582.3h.01M611.2 579.0h.01M662.6 637.2h.01" stroke="#40a040" stroke-width="1.4" stroke-linecap="round" fill="none" stroke-opacity="0.85"/>
<path d="M594.3 622.3h.01M668.1 616.8h.01M599.1 588.2h.01M599.4 587.2h.01M642.8 658.6h.01M630.8 652.9h.01M639.9 595.6h.01M652.2 658.0h.01M657.4 663.4h.01M661.8 663.2h.01M669.8 664.5h.01M673.6 661.5h.01M634.0 661.2h.01M587.6 593.9h.01M617.1 579.3h.01M609.2 594.3h.01M607.1 600.0h.01M605.0 602.5h.01M604.6 603.6h.01M618.5 613.1h.01M610.3 637.1h.01M601.9 623.2h.01M653.6 610.9h.01M635.7 614.7h.01M602.9 572.5h.01M609.5 565.5h.01M650.0 597.2h.01M636.2 666.1h.01M640.1 657.2h.01M601.1 670.6h.01M612.8 684.6h.01M605.6 563.1h.01" stroke="#b0b030" stroke-width="2.2" stroke-linecap="round" fill="none" stroke-opacity="0.85"/>
<path d="M629.5 621.1h.01M622.6 614.3h.01M599.2 589.3h.01M599.0 586.2h.01M596.7 578.9h.01M601.5 576.9h.01M650.2 572.7h.01M655.4 574.4h.01M602.8 567.5h.01M566.4 646.7h.01M647.2 593.6h.01M561.3 604.8h.01M557.7 606.4h.01M556.6 606.5h.01M556.4 611.1h.01M628.5 654.8h.01M642.6 653.6h.01M648.4 653.6h.01M593.4 595.3h.01M616.2 606.2h.01M616.6 609.4h.01M607.6 622.0h.01M612.0 632.6h.01M600.1 624.2h.01M647.6 570.4h.01M652.1 597.6h.01M600.0 620.2h.01M651.6 611.4h.01M636.4 609.8h.01M643.6 603.7h.01M612.7 577.8h.01M644.2 593.8h.01M643.6 591.7h.01M641.5 589.1h.01M630.2 671.7h.01M616.9 565.0h.01M597.1 668.9h.01M611.3 693.2h.01M586.4 622.3h.01M625.5 621.5h.01M623.3 658.0h.01M621.9 581.0h.01M621.8 582.6h.01M615.6 581.5h.01M613.5 581.4h.01M612.7 580.6h.01M627.0 655.7h.01M655.9 639.7h.01M663.3 636.3h.01M613.2 609.5h.01" stroke="#8a1a3a" stroke-width="2.2" stroke-linecap="round" fill="none" stroke-opacity="0.85"/>
<path d="M628.7 620.4h.01M622.7 592.1h.01M629.4 589.7h.01M629.9 585.9h.01M664.7 620.2h.01M639.7 657.8h.01M631.5 663.8h.01M561.8 641.2h.01M673.4 660.5h.01M640.9 658.7h.01M653.6 576.5h.01M600.9 619.5h.01M654.7 611.0h.01M607.6 578.9h.01M574.5 631.2h.01M571.6 619.8h.01M571.3 616.1h.01M637.7 656.0h.01M635.5 588.6h.01M622.6 663.4h.01M593.9 569.0h.01M618.7 580.8h.01M617.3 613.0h.01" stroke="#c8a020" stroke-width="2.2" stroke-linecap="round" fill="none" stroke-opacity="0.85"/>
<path d="M627.7 619.8h.01M668.1 614.7h.01M609.6 593.3h.01M617.0 608.3h.01M609.5 564.4h.01M631.7 587.5h.01M624.3 662.1h.01M622.2 656.1h.01M613.9 610.3h.01" stroke="#2a2a70" stroke-width="1.4" stroke-linecap="round" fill="none" stroke-opacity="0.85"/>
<path d="M627.1 618.9h.01M625.7 591.6h.01M648.3 570.2h.01M606.7 571.3h.01M605.2 569.7h.01M571.4 646.6h.01M563.3 633.4h.01M640.9 595.2h.01M668.2 663.3h.01M620.1 656.2h.01M614.1 605.7h.01M613.1 601.6h.01M617.5 632.7h.01M608.6 635.7h.01M597.4 622.1h.01M642.6 607.9h.01M642.2 602.2h.01M607.4 580.0h.01M612.3 580.0h.01M608.4 573.6h.01M566.8 611.3h.01M646.9 594.9h.01M637.4 588.4h.01M632.5 586.7h.01M669.8 658.3h.01M607.1 676.6h.01M585.8 618.2h.01M629.7 612.3h.01M627.8 613.5h.01M620.6 662.6h.01M604.7 568.3h.01M616.6 580.0h.01M659.0 639.0h.01M615.7 611.7h.01" stroke="#a81a2a" stroke-width="2.2" stroke-linecap="round" fill="none" stroke-opacity="0.85"/>
<path d="M626.2 618.2h.01M623.9 615.9h.01M630.4 653.9h.01M646.6 568.9h.01M570.6 647.4h.01M562.9 644.3h.01M561.3 638.2h.01M556.0 616.4h.01M660.7 663.6h.01M621.5 654.5h.01M636.1 660.8h.01M572.3 596.4h.01M568.5 594.4h.01M613.2 603.7h.01M616.1 600.5h.01M616.8 610.4h.01M606.9 628.1h.01M599.3 624.9h.01M650.5 572.5h.01M651.3 604.7h.01M609.9 581.9h.01M612.0 577.0h.01M649.3 599.1h.01M665.3 654.1h.01M632.6 589.3h.01M641.1 661.4h.01M616.1 658.2h.01M595.0 569.1h.01M603.9 581.8h.01M631.2 648.3h.01" stroke="#a81a2a" stroke-width="1.8" stroke-linecap="round" fill="none" stroke-opacity="0.85"/>
<path d="M625.4 617.5h.01M658.1 579.8h.01M589.6 593.3h.01M608.5 577.0h.01M571.4 613.2h.01M644.8 594.7h.01M663.2 654.2h.01M664.3 653.9h.01M624.6 661.0h.01M612.1 609.2h.01" stroke="#5a3a90" stroke-width="1.4" stroke-linecap="round" fill="none" stroke-opacity="0.85"/>
<path d="M624.8 616.6h.01M616.7 590.9h.01M630.3 589.1h.01M600.4 576.8h.01M627.1 662.7h.01M615.6 580.9h.01M614.2 583.9h.01M612.9 587.6h.01M611.9 589.5h.01M666.0 656.2h.01M633.6 589.7h.01M612.0 579.7h.01M662.0 638.1h.01" stroke="#2a3aa0" stroke-width="2.2" stroke-linecap="round" fill="none" stroke-opacity="0.85"/>
<path d="M623.0 615.4h.01M667.6 618.9h.01M668.0 617.9h.01M638.9 657.1h.01M630.6 664.4h.01M612.3 574.8h.01M555.9 613.2h.01M669.2 663.5h.01M641.2 657.6h.01M583.4 595.1h.01M565.9 589.8h.01M618.8 615.3h.01M606.7 620.0h.01M651.6 572.6h.01M653.2 575.4h.01M599.3 621.0h.01M649.5 612.0h.01M572.4 621.9h.01M570.4 618.0h.01M657.4 639.5h.01M639.8 658.0h.01M641.5 659.5h.01M641.2 662.8h.01M631.5 589.1h.01M618.1 567.4h.01M612.7 683.5h.01M611.4 694.3h.01M617.6 662.2h.01M604.1 580.7h.01M615.1 584.7h.01M633.7 646.4h.01" stroke="#e03040" stroke-width="2.2" stroke-linecap="round" fill="none" stroke-opacity="0.85"/>
<path d="M621.6 613.9h.01M627.6 590.7h.01M597.7 582.0h.01M658.8 576.7h.01M658.7 578.8h.01M608.2 572.8h.01M607.4 572.1h.01M563.7 645.0h.01M562.4 643.3h.01M645.1 594.2h.01M564.1 605.9h.01M651.4 657.3h.01M673.7 663.7h.01M674.1 658.4h.01M626.8 653.6h.01M630.2 657.5h.01M640.2 659.6h.01M641.4 655.5h.01M644.3 652.4h.01M576.2 596.2h.01M617.7 597.9h.01M613.1 632.6h.01M611.3 636.6h.01M602.7 618.5h.01M611.9 581.0h.01M610.2 575.9h.01M576.4 613.7h.01M659.0 653.8h.01M666.8 657.0h.01M641.4 661.7h.01M641.4 587.2h.01M641.1 652.3h.01M640.3 656.2h.01M640.0 658.3h.01M641.1 663.5h.01M619.1 575.0h.01M617.9 565.4h.01M596.9 664.6h.01M599.1 669.7h.01M587.7 615.6h.01M628.7 612.8h.01M625.4 620.4h.01M610.1 652.4h.01M618.4 662.9h.01M605.2 567.3h.01M627.1 591.6h.01M628.6 584.7h.01M617.5 581.9h.01M662.7 635.4h.01" stroke="#c81e2e" stroke-width="1.8" stroke-linecap="round" fill="none" stroke-opacity="0.85"/>
<path d="M621.0 613.0h.01M636.0 655.9h.01M556.0 614.3h.01M617.4 607.3h.01M618.5 621.2h.01M607.2 626.2h.01M653.7 602.8h.01M641.2 651.2h.01M587.5 616.7h.01M609.2 651.8h.01M611.9 653.7h.01M615.6 579.7h.01M607.5 586.0h.01" stroke="#5a3a90" stroke-width="2.2" stroke-linecap="round" fill="none" stroke-opacity="0.85"/>
<path d="M619.9 613.1h.01M615.7 591.2h.01M561.4 637.1h.01M555.6 617.4h.01M622.5 654.0h.01M607.1 621.0h.01M608.6 627.2h.01M642.6 606.8h.01M649.6 596.2h.01M644.6 588.0h.01M634.6 589.2h.01M641.1 655.4h.01M640.4 660.5h.01M604.0 673.7h.01M657.0 639.9h.01" stroke="#1e2a80" stroke-width="1.4" stroke-linecap="round" fill="none" stroke-opacity="0.85"/>
<path d="M618.9 612.6h.01M628.3 657.5h.01M556.1 612.1h.01M674.0 662.6h.01M632.1 660.0h.01M637.0 660.1h.01M617.9 578.6h.01M609.3 595.4h.01M615.0 605.3h.01M617.2 631.6h.01M608.3 628.3h.01M652.2 573.4h.01M646.8 613.8h.01M639.7 609.4h.01M603.1 570.5h.01M607.4 575.1h.01M608.5 574.7h.01M609.3 571.8h.01M640.4 664.8h.01M640.5 586.6h.01M641.3 662.4h.01M611.6 688.4h.01M631.6 611.2h.01M626.4 616.2h.01M613.7 654.9h.01M616.6 660.3h.01M623.6 662.9h.01M620.7 582.4h.01M614.6 581.4h.01" stroke="#d07020" stroke-width="2.2" stroke-linecap="round" fill="none" stroke-opacity="0.85"/>
<path d="M604.6 587.8h.01M607.4 589.5h.01M630.4 588.0h.01M597.3 581.0h.01M632.6 651.6h.01M562.0 642.3h.01M560.2 604.5h.01M555.3 608.1h.01M620.7 655.3h.01M623.6 654.1h.01M584.5 594.9h.01M570.5 595.1h.01M619.3 619.2h.01M619.0 620.2h.01M618.0 628.4h.01M607.6 627.2h.01M652.8 574.4h.01M647.8 613.3h.01M608.3 578.1h.01M571.0 613.8h.01M574.3 613.3h.01M634.0 668.6h.01M636.5 588.2h.01M611.2 680.2h.01M613.0 681.3h.01M606.0 565.3h.01M627.2 651.6h.01M661.2 638.9h.01" stroke="#c81e2e" stroke-width="2.2" stroke-linecap="round" fill="none" stroke-opacity="0.85"/>
<path d="M605.5 588.4h.01M638.0 656.5h.01M647.3 569.7h.01M614.0 573.4h.01M643.1 595.1h.01M567.3 605.3h.01M556.3 615.3h.01M667.1 663.1h.01M672.9 664.4h.01M628.6 655.9h.01M631.1 658.1h.01M567.2 592.8h.01M566.0 590.9h.01M621.4 609.7h.01M613.7 602.7h.01M617.1 600.0h.01M619.7 618.2h.01M605.8 628.5h.01M649.7 606.1h.01M609.6 568.8h.01M572.0 615.2h.01M641.6 660.6h.01M596.4 663.6h.01M603.6 672.7h.01M607.9 677.4h.01M602.6 569.0h.01M622.9 580.7h.01M617.2 585.0h.01M615.7 657.8h.01" stroke="#40a040" stroke-width="1.8" stroke-linecap="round" fill="none" stroke-opacity="0.85"/>
<path d="M608.4 589.9h.01M623.7 592.5h.01M634.6 654.1h.01M628.7 664.1h.01M608.8 573.8h.01M562.2 640.2h.01M603.6 573.2h.01M574.1 630.2h.01M640.1 665.5h.01M618.4 566.4h.01M614.9 562.4h.01M585.5 620.3h.01M622.1 657.6h.01" stroke="#2a3aa0" stroke-width="1.8" stroke-linecap="round" fill="none" stroke-opacity="0.85"/>
<path d="M609.4 590.3h.01M630.4 586.9h.01M606.3 645.3h.01M561.9 635.0h.01M567.7 635.5h.01M653.0 658.8h.01M655.1 661.1h.01M631.5 659.1h.01M645.2 653.0h.01M595.0 596.8h.01M577.3 596.3h.01M617.6 599.0h.01M613.7 602.5h.01M618.8 625.4h.01M617.9 629.5h.01M606.2 619.0h.01M608.7 629.3h.01M609.5 636.4h.01M653.0 600.7h.01M598.4 621.7h.01M609.0 581.5h.01M570.6 616.9h.01M567.7 610.6h.01M659.4 640.3h.01M642.5 587.3h.01M616.1 657.1h.01M596.1 568.9h.01M619.7 581.2h.01M628.1 592.1h.01M630.9 593.6h.01M628.9 586.8h.01M626.3 656.5h.01M608.4 607.0h.01" stroke="#8a1a3a" stroke-width="1.4" stroke-linecap="round" fill="none" stroke-opacity="0.85"/>
<path d="M610.5 590.4h.01M665.7 619.8h.01M598.3 584.1h.01M627.5 659.5h.01M657.5 575.0h.01M555.9 609.0h.01M566.5 591.9h.01M612.4 586.6h.01M618.1 607.3h.01M614.6 602.0h.01M619.8 636.4h.01M609.9 632.3h.01M605.0 623.9h.01M609.1 575.6h.01M609.9 570.9h.01M609.6 566.6h.01M573.1 627.3h.01M667.8 657.4h.01M631.6 673.3h.01M599.3 569.2h.01M613.6 579.0h.01M619.9 587.0h.01M627.7 584.0h.01M618.8 657.3h.01M628.3 649.7h.01" stroke="#c8a020" stroke-width="1.4" stroke-linecap="round" fill="none" stroke-opacity="0.85"/>
<path d="M611.5 590.9h.01M614.7 591.7h.01M599.9 590.1h.01M598.2 583.0h.01M567.5 647.0h.01M567.1 634.6h.01M569.5 604.9h.01M562.2 605.5h.01M555.7 607.0h.01M574.3 597.3h.01M565.3 588.9h.01M612.6 588.6h.01M608.4 598.4h.01M617.0 606.2h.01M619.0 626.5h.01M601.2 624.0h.01M647.8 571.4h.01M652.4 604.5h.01M601.9 619.2h.01M636.5 616.5h.01M635.2 611.4h.01M604.5 568.9h.01M607.8 576.1h.01M566.7 613.3h.01M648.0 595.1h.01M645.8 595.1h.01M643.7 592.8h.01M660.0 654.1h.01M639.3 665.2h.01M635.5 667.0h.01M630.7 672.7h.01M608.8 678.0h.01M611.4 691.1h.01M625.8 618.4h.01M611.0 653.1h.01M612.0 584.0h.01M618.2 585.6h.01M621.1 591.3h.01M624.2 656.9h.01M632.2 647.9h.01M616.4 612.5h.01" stroke="#e03040" stroke-width="1.4" stroke-linecap="round" fill="none" stroke-opacity="0.85"/>
<path d="M612.5 591.3h.01M620.9 591.0h.01M627.9 658.5h.01M627.1 660.5h.01M607.3 645.0h.01M568.5 647.4h.01M642.0 595.2h.01M566.3 605.8h.01M639.1 659.6h.01M564.7 588.0h.01M616.3 580.1h.01M605.6 601.7h.01M618.5 614.2h.01M608.4 626.2h.01M610.9 632.6h.01M651.6 594.4h.01M606.7 574.3h.01M572.9 626.2h.01M639.4 588.5h.01M634.3 671.8h.01M624.2 660.0h.01M622.7 657.1h.01M616.8 658.0h.01M618.5 614.7h.01" stroke="#b0b030" stroke-width="1.4" stroke-linecap="round" fill="none" stroke-opacity="0.85"/>
<path d="M613.6 591.7h.01M626.5 590.9h.01M666.8 619.7h.01M653.4 573.7h.01M654.3 574.2h.01M644.1 594.6h.01M611.3 590.4h.01M649.4 572.7h.01M635.7 615.8h.01M575.4 613.4h.01M640.4 589.0h.01M632.7 673.0h.01M615.5 563.3h.01M626.2 617.3h.01M626.6 584.3h.01" stroke="#1e2a80" stroke-width="1.8" stroke-linecap="round" fill="none" stroke-opacity="0.85"/>
<path d="M617.8 590.8h.01M668.7 610.7h.01M669.8 608.9h.01M597.3 578.0h.01M635.3 655.0h.01M617.3 571.2h.01M648.2 593.0h.01M620.0 657.3h.01M618.2 623.4h.01M608.3 625.1h.01M649.1 607.0h.01M603.7 616.5h.01M603.8 569.7h.01M609.4 567.7h.01M574.4 629.1h.01M566.3 612.3h.01M650.1 598.3h.01M643.5 587.8h.01M641.6 650.2h.01M611.5 692.2h.01M586.0 621.3h.01M600.4 569.0h.01M616.1 585.0h.01" stroke="#d07020" stroke-width="1.4" stroke-linecap="round" fill="none" stroke-opacity="0.85"/>
<path d="M618.9 590.4h.01M618.3 570.8h.01M615.3 571.9h.01M565.2 605.7h.01M627.8 654.0h.01M610.7 591.4h.01M619.1 607.8h.01M617.1 606.9h.01M618.2 622.3h.01M618.8 634.5h.01M604.4 614.5h.01M652.5 610.9h.01M608.0 581.0h.01M612.6 578.9h.01M570.8 612.3h.01M612.9 654.2h.01M597.2 568.9h.01M605.4 562.0h.01M626.8 654.6h.01M627.8 650.7h.01" stroke="#d07020" stroke-width="1.8" stroke-linecap="round" fill="none" stroke-opacity="0.85"/>
<path d="M620.0 590.5h.01M658.4 575.6h.01M616.2 571.4h.01M572.3 646.0h.01M565.4 646.4h.01M563.1 606.1h.01M653.9 659.4h.01M658.5 663.5h.01M666.0 662.8h.01M579.3 595.5h.01M609.4 596.5h.01M613.2 603.5h.01M613.6 633.5h.01M604.4 615.6h.01M605.8 573.6h.01M572.0 614.1h.01M643.0 590.7h.01M636.3 588.5h.01M657.9 654.0h.01M670.9 658.3h.01M639.4 586.6h.01M619.1 573.9h.01M616.2 564.1h.01M615.4 561.4h.01M602.8 672.0h.01M605.0 674.2h.01M614.6 655.5h.01M622.8 654.1h.01M622.5 653.0h.01M608.6 586.3h.01M621.0 657.6h.01M625.3 656.9h.01M626.5 652.5h.01M633.0 647.2h.01" stroke="#e03040" stroke-width="1.8" stroke-linecap="round" fill="none" stroke-opacity="0.85"/>
<path d="M621.6 591.8h.01M633.5 651.1h.01M629.6 664.8h.01M573.4 645.9h.01M670.9 664.9h.01M647.3 653.5h.01M612.8 585.6h.01M612.3 636.0h.01M650.3 605.1h.01M611.0 581.5h.01M661.1 654.4h.01M640.1 659.4h.01M615.9 560.4h.01M627.0 614.1h.01M623.8 659.0h.01M622.2 655.0h.01M598.3 569.0h.01M621.4 590.3h.01M628.5 585.8h.01M623.5 584.0h.01M607.4 606.8h.01" stroke="#c8a020" stroke-width="1.8" stroke-linecap="round" fill="none" stroke-opacity="0.85"/>
<path d="M624.8 592.3h.01M634.2 652.0h.01M648.7 571.3h.01M649.3 572.2h.01M609.2 574.8h.01M561.8 639.2h.01M663.8 662.8h.01M671.9 665.0h.01M641.4 656.6h.01M588.5 593.3h.01M581.4 594.9h.01M618.1 577.5h.01M613.6 584.8h.01M613.9 605.3h.01M606.8 625.2h.01M604.0 623.5h.01M635.6 613.6h.01M609.5 569.9h.01M570.2 611.3h.01M662.2 654.5h.01M638.8 657.7h.01M638.4 587.0h.01M596.6 665.7h.01M596.9 666.7h.01M602.0 671.2h.01M612.9 682.4h.01M610.8 690.2h.01M630.7 611.9h.01M603.3 582.7h.01M629.1 592.7h.01M619.9 657.3h.01M614.8 611.0h.01" stroke="#8a1a3a" stroke-width="1.8" stroke-linecap="round" fill="none" stroke-opacity="0.85"/>
<path d="M628.3 589.9h.01M604.7 577.2h.01M614.2 572.3h.01M564.4 645.9h.01M621.3 611.9h.01M621.1 608.6h.01M605.6 618.1h.01M605.0 613.6h.01M637.5 609.7h.01M640.7 658.7h.01M634.7 667.8h.01M610.2 679.7h.01M612.2 680.6h.01M585.9 619.3h.01M616.8 661.4h.01M620.8 581.2h.01M605.4 585.8h.01M614.1 584.1h.01M623.9 592.1h.01M606.3 606.6h.01" stroke="#3a4ab8" stroke-width="1.4" stroke-linecap="round" fill="none" stroke-opacity="0.85"/>
<path d="M629.6 584.8h.01M598.3 577.5h.01M631.6 652.2h.01M656.5 574.6h.01M611.3 575.2h.01M606.1 570.3h.01M566.3 633.9h.01M570.3 604.2h.01M654.8 660.0h.01M625.7 654.1h.01M635.0 660.9h.01M585.5 594.5h.01M568.1 593.4h.01M614.5 582.8h.01M610.1 592.3h.01M608.0 599.4h.01M613.6 604.7h.01M608.5 624.0h.01M653.1 599.6h.01M652.1 596.5h.01M596.5 622.8h.01M603.2 617.4h.01M646.2 614.7h.01M605.9 567.3h.01M642.4 589.9h.01M618.8 572.8h.01M609.5 678.8h.01M612.5 687.7h.01M608.2 651.3h.01M592.9 568.6h.01M606.4 586.1h.01M621.6 588.3h.01M625.0 591.9h.01M624.5 584.5h.01M618.6 581.8h.01M616.5 582.3h.01M618.3 613.6h.01" stroke="#c81e2e" stroke-width="1.4" stroke-linecap="round" fill="none" stroke-opacity="0.85"/>
<path d="M629.1 583.9h.01M668.4 615.7h.01M652.3 573.5h.01M604.3 569.1h.01M561.7 636.1h.01M612.3 600.8h.01M618.3 624.5h.01M603.0 623.1h.01M653.4 601.7h.01M618.7 571.7h.01M600.2 669.9h.01M610.7 585.7h.01M622.8 592.5h.01M610.3 608.2h.01" stroke="#2a2a70" stroke-width="2.2" stroke-linecap="round" fill="none" stroke-opacity="0.85"/>
<path d="M667.7 612.6h.01M669.5 609.9h.01M569.6 647.7h.01M571.4 602.3h.01M568.4 605.2h.01M556.4 610.0h.01M632.9 660.8h.01M617.1 611.5h.01M618.5 627.5h.01M611.3 576.1h.01M609.2 572.9h.01M568.8 613.9h.01M569.9 613.9h.01M595.8 662.7h.01M613.0 685.7h.01M616.5 659.2h.01M624.6 579.3h.01M603.1 583.8h.01M619.0 586.3h.01M625.6 584.6h.01M660.1 638.8h.01" stroke="#5a3a90" stroke-width="1.8" stroke-linecap="round" fill="none" stroke-opacity="0.85"/>
<path d="M598.7 585.1h.01M664.9 662.9h.01M571.5 595.7h.01M615.1 581.9h.01M609.1 597.5h.01M620.0 608.5h.01M615.5 601.4h.01M620.0 617.1h.01M647.3 608.1h.01M641.7 608.4h.01M569.8 610.3h.01M567.8 613.4h.01M665.8 655.1h.01M607.2 651.0h.01M621.6 663.1h.01M601.5 568.9h.01M605.5 566.3h.01M625.3 577.3h.01M623.1 657.3h.01" stroke="#1e2a80" stroke-width="2.2" stroke-linecap="round" fill="none" stroke-opacity="0.85"/>
<path d="M597.0 579.9h.01M559.2 604.8h.01M558.6 605.7h.01M638.0 659.7h.01M641.9 654.5h.01M635.5 610.4h.01M572.7 625.1h.01M573.2 613.4h.01M641.5 654.4h.01M619.5 576.0h.01M621.8 592.2h.01M626.0 591.6h.01" stroke="#2a3aa0" stroke-width="1.4" stroke-linecap="round" fill="none" stroke-opacity="0.85"/>
<path d="M602.5 577.2h.01M603.5 568.3h.01M592.5 594.8h.01M580.4 595.4h.01M573.2 597.0h.01M569.6 594.6h.01M619.5 616.1h.01M613.2 635.5h.01M605.9 624.6h.01M653.2 603.8h.01M638.6 609.6h.01M604.7 573.6h.01M572.3 623.0h.01M618.1 568.5h.01M626.0 619.4h.01M626.0 622.4h.01M623.9 580.2h.01M617.9 658.0h.01M626.5 653.6h.01" stroke="#3a4ab8" stroke-width="2.2" stroke-linecap="round" fill="none" stroke-opacity="0.85"/>
<path d="M603.6 577.4h.01M629.2 656.8h.01M591.4 594.4h.01M615.2 605.9h.01M613.9 634.6h.01M640.7 609.0h.01M604.9 567.8h.01M602.5 571.4h.01M637.9 657.1h.01M606.6 675.6h.01M603.7 568.8h.01M629.0 648.9h.01" stroke="#2a2a70" stroke-width="1.8" stroke-linecap="round" fill="none" stroke-opacity="0.85"/>
<path d="M629.9 654.9h.01M627.3 661.6h.01M627.8 663.5h.01M562.4 634.0h.01M564.3 633.0h.01M565.3 633.3h.01M570.7 603.1h.01M656.5 662.8h.01M673.6 659.4h.01M629.5 656.6h.01M582.4 594.6h.01M578.3 595.9h.01M606.3 600.8h.01M609.3 631.4h.01M650.6 611.8h.01M571.0 618.9h.01M568.7 610.4h.01M638.4 588.1h.01M635.2 588.5h.01M634.5 587.6h.01M658.3 640.0h.01M641.0 663.8h.01M634.6 670.7h.01M618.6 570.7h.01M618.2 569.6h.01M596.7 667.8h.01M586.6 617.4h.01M626.7 615.2h.01M627.1 622.7h.01M615.6 656.1h.01M619.5 662.9h.01M624.8 578.3h.01M614.5 579.7h.01M622.6 583.3h.01M630.1 648.5h.01M611.0 609.0h.01M619.1 615.6h.01" stroke="#a81a2a" stroke-width="1.4" stroke-linecap="round" fill="none" stroke-opacity="0.85"/>
<path d="M629.9 656.0h.01M651.3 573.0h.01M608.4 645.1h.01M613.3 574.3h.01M662.8 662.7h.01M617.7 612.4h.01M648.3 572.4h.01M572.0 620.9h.01M628.0 623.3h.01M591.8 568.5h.01M605.8 564.2h.01M620.8 587.6h.01M658.0 639.3h.01" stroke="#3a4ab8" stroke-width="1.8" stroke-linecap="round" fill="none" stroke-opacity="0.85"/>
<path d="M638.1 567.2h.01M644.3 649.5h.01M613.3 584.6h.01M609.1 609.7h.01M573.4 651.1h.01M655.2 613.9h.01M638.6 591.0h.01M641.0 585.6h.01M643.7 648.0h.01M641.2 615.6h.01M588.5 572.0h.01M571.7 647.1h.01M576.0 638.8h.01M602.2 659.1h.01M634.2 604.4h.01M604.3 628.4h.01M624.5 573.7h.01M638.0 652.5h.01M606.7 597.5h.01M585.6 630.4h.01M619.3 619.8h.01M588.4 572.5h.01M600.1 621.1h.01M635.0 594.6h.01M584.1 643.0h.01M621.5 662.5h.01M630.4 585.4h.01M648.3 605.0h.01M618.7 656.7h.01M615.5 646.5h.01M661.0 597.0h.01M603.6 660.4h.01M576.2 654.6h.01M571.4 601.4h.01M584.5 607.1h.01M605.7 577.1h.01M597.8 598.8h.01M600.4 624.9h.01M613.4 606.0h.01M593.3 619.7h.01M635.2 593.4h.01M658.7 595.3h.01M655.5 654.6h.01M590.1 635.1h.01M619.9 579.6h.01M621.3 653.3h.01M577.2 591.4h.01M615.2 568.0h.01M584.3 584.5h.01M666.9 638.3h.01M644.2 649.8h.01M634.5 569.2h.01M600.4 597.6h.01M659.1 608.3h.01M626.7 566.2h.01M579.1 594.8h.01M580.4 639.9h.01M661.3 644.3h.01M572.4 622.0h.01M633.1 607.2h.01M660.1 622.7h.01M597.2 566.2h.01M663.4 622.4h.01M617.8 626.0h.01M587.4 636.3h.01M592.7 615.1h.01M576.5 654.6h.01M632.7 625.9h.01M648.2 641.8h.01M660.7 571.7h.01M630.3 578.8h.01M608.8 598.3h.01M628.0 635.4h.01M638.8 580.1h.01M583.9 597.6h.01" stroke="#2a2a70" stroke-width="1.0" stroke-linecap="round" fill="none" stroke-opacity="0.8"/>
<path d="M583.3 647.5h.01M656.9 637.8h.01M581.1 588.3h.01M657.4 582.5h.01M580.0 565.1h.01M604.9 582.9h.01M621.7 642.9h.01M587.2 621.4h.01M666.0 638.8h.01M654.5 622.9h.01M637.0 595.1h.01M619.5 656.8h.01M609.0 598.9h.01M583.4 661.1h.01M610.8 614.2h.01M599.2 616.4h.01M638.2 653.7h.01M598.1 617.0h.01M579.6 588.6h.01M617.2 647.5h.01M616.8 619.2h.01M617.9 647.0h.01M612.3 616.4h.01M571.5 622.4h.01M646.0 624.3h.01M658.9 641.8h.01M631.2 621.4h.01M592.0 630.9h.01M630.4 619.2h.01M609.7 613.6h.01M638.8 597.6h.01M633.4 585.2h.01M576.1 627.7h.01M582.1 605.1h.01M630.0 634.3h.01M619.6 565.1h.01M583.8 645.2h.01M582.5 606.3h.01M619.0 587.4h.01M607.7 636.6h.01M634.6 576.9h.01M580.6 590.6h.01M622.5 660.8h.01M582.8 644.7h.01M645.2 591.9h.01" stroke="#e03040" stroke-width="1.0" stroke-linecap="round" fill="none" stroke-opacity="0.8"/>
<path d="M642.9 567.7h.01M572.1 649.4h.01M652.1 628.7h.01M642.3 620.6h.01M664.5 636.2h.01M609.7 607.6h.01M599.1 568.7h.01M607.0 642.9h.01M611.5 659.1h.01M570.6 617.1h.01M589.7 570.0h.01M661.6 658.7h.01M647.4 648.1h.01M667.1 564.9h.01M618.2 643.4h.01M637.3 614.1h.01M662.8 649.6h.01M627.6 570.2h.01M614.5 626.2h.01M608.2 589.4h.01M638.0 576.9h.01M597.6 640.6h.01M628.1 614.1h.01M589.1 586.0h.01M622.9 605.7h.01M588.2 584.0h.01M620.2 592.0h.01M632.0 588.7h.01M581.4 581.1h.01M617.9 599.6h.01M658.0 578.9h.01M572.6 628.3h.01M577.4 622.7h.01M640.1 652.2h.01M579.7 604.0h.01M635.4 633.1h.01M587.9 575.1h.01M636.5 579.8h.01M592.8 656.5h.01M666.7 589.7h.01M647.4 658.1h.01M597.3 621.1h.01M642.2 621.6h.01M589.7 640.6h.01M625.4 566.6h.01M621.8 616.9h.01M644.0 636.7h.01M616.4 618.4h.01M638.2 656.7h.01M617.6 620.3h.01M640.7 660.2h.01M597.8 591.6h.01M581.9 658.4h.01M636.8 598.6h.01M614.3 641.4h.01M580.9 590.7h.01M607.8 585.7h.01M636.2 590.5h.01M658.4 602.3h.01M662.2 566.5h.01M600.5 567.8h.01M573.8 571.4h.01M597.8 649.5h.01M647.9 600.2h.01M656.5 597.4h.01M598.6 624.8h.01M631.7 629.4h.01M654.8 596.1h.01M623.7 661.8h.01M623.0 603.5h.01M611.4 567.5h.01M641.0 619.9h.01M593.9 623.2h.01M661.3 603.5h.01M587.0 627.4h.01M572.9 627.6h.01M623.2 640.4h.01M591.8 619.0h.01M636.8 601.2h.01M618.4 641.5h.01M600.2 608.2h.01M626.4 656.7h.01M571.9 605.7h.01M603.6 604.3h.01" stroke="#3a4ab8" stroke-width="1.0" stroke-linecap="round" fill="none" stroke-opacity="0.8"/>
<path d="M622.9 624.3h.01M601.4 650.5h.01M634.9 594.6h.01M595.5 620.3h.01M609.0 636.9h.01M601.3 614.3h.01M656.0 596.8h.01M649.2 618.6h.01M595.9 582.3h.01M597.4 608.5h.01M641.2 582.6h.01M575.8 573.0h.01M594.2 662.7h.01M634.1 646.5h.01M574.8 622.2h.01M581.8 577.5h.01M615.1 636.9h.01M589.3 566.1h.01M575.8 585.8h.01M613.2 650.4h.01M654.4 589.0h.01M631.2 592.6h.01M618.1 619.3h.01M607.5 602.0h.01M576.4 575.8h.01M640.4 632.0h.01M597.0 626.0h.01M644.7 613.4h.01M647.3 606.1h.01M649.0 614.6h.01M658.6 635.9h.01M650.3 645.2h.01M663.7 630.6h.01M584.5 624.7h.01M638.4 595.2h.01M606.7 578.2h.01M666.9 566.8h.01M595.5 575.7h.01M602.5 568.7h.01M580.9 591.1h.01M572.2 625.7h.01M608.2 581.5h.01M618.5 618.0h.01M660.5 636.0h.01M619.5 645.4h.01M637.6 641.7h.01M603.9 628.5h.01M658.6 587.4h.01M597.8 616.8h.01M578.7 620.1h.01M572.2 651.3h.01M587.6 609.0h.01M612.2 587.4h.01M602.5 643.9h.01M586.7 575.1h.01M604.1 577.1h.01M604.1 618.6h.01M609.5 630.1h.01M639.0 571.9h.01M645.8 612.0h.01M596.0 624.0h.01M608.3 658.3h.01M649.0 607.6h.01M643.3 606.4h.01M606.2 644.4h.01M578.0 622.6h.01M662.9 643.2h.01M641.8 641.7h.01M572.2 597.3h.01M608.3 645.5h.01M603.8 642.9h.01M579.2 600.7h.01M665.3 612.1h.01M645.6 582.2h.01M657.6 568.4h.01M657.6 620.2h.01M593.3 618.4h.01M660.6 651.2h.01M591.5 604.8h.01M574.9 622.3h.01M597.9 614.5h.01M635.8 587.9h.01M644.0 595.9h.01M575.1 644.3h.01" stroke="#2a3aa0" stroke-width="1.0" stroke-linecap="round" fill="none" stroke-opacity="0.8"/>
<path d="M646.2 565.4h.01M606.9 659.5h.01M660.9 618.4h.01M625.2 606.3h.01M582.8 600.1h.01M629.4 610.8h.01M624.0 622.4h.01M652.6 658.2h.01M640.4 581.4h.01M581.8 660.1h.01M628.3 660.5h.01M619.1 652.8h.01M586.6 585.1h.01M658.4 584.4h.01M652.7 573.6h.01M640.0 582.7h.01M622.8 630.5h.01M667.1 636.7h.01M570.7 581.4h.01M656.0 604.0h.01M639.5 604.9h.01M579.4 601.0h.01M589.1 610.5h.01M608.1 644.7h.01M624.5 655.4h.01M592.1 659.8h.01M617.2 644.0h.01M590.4 662.1h.01M578.5 565.2h.01M618.5 662.2h.01M588.9 658.7h.01M658.8 580.3h.01M641.9 570.9h.01M666.2 571.2h.01M663.0 591.1h.01M647.9 610.5h.01M612.5 587.5h.01M655.2 612.2h.01M619.4 620.0h.01M664.6 614.9h.01M595.4 570.9h.01M633.4 660.1h.01M655.8 650.9h.01M606.0 598.1h.01M613.7 633.4h.01M624.1 639.0h.01M577.4 608.0h.01M608.3 660.9h.01M663.9 632.1h.01M633.1 606.4h.01M639.5 645.4h.01M590.8 615.3h.01M645.7 661.0h.01M657.2 611.9h.01M643.3 570.1h.01M573.9 605.4h.01M629.9 633.3h.01M575.8 565.9h.01M577.9 593.1h.01M660.5 637.0h.01M572.5 584.9h.01M621.1 591.5h.01M662.4 567.4h.01M605.4 614.4h.01M630.5 632.5h.01M633.1 620.3h.01M598.8 587.0h.01M640.1 620.7h.01M588.1 661.9h.01M626.4 598.3h.01M582.8 618.1h.01" stroke="#5a3a90" stroke-width="1.0" stroke-linecap="round" fill="none" stroke-opacity="0.8"/>
<path d="M662.7 568.4h.01M641.7 589.6h.01M613.7 619.3h.01M585.7 660.1h.01M650.7 643.4h.01M653.3 641.3h.01M575.6 641.2h.01M589.9 644.4h.01M633.1 582.7h.01M584.7 609.2h.01M637.7 637.5h.01M602.1 598.2h.01M598.5 604.2h.01M579.1 625.0h.01M626.1 641.8h.01M594.9 601.1h.01M583.2 657.3h.01M576.7 620.1h.01M585.1 654.1h.01M606.5 593.7h.01M623.2 608.5h.01M612.9 576.0h.01M609.4 653.7h.01M594.0 647.0h.01M617.3 588.5h.01M611.3 585.5h.01M586.7 638.7h.01M579.3 625.9h.01M630.3 606.6h.01M624.5 647.5h.01" stroke="#8a1a3a" stroke-width="1.0" stroke-linecap="round" fill="none" stroke-opacity="0.8"/>
<path d="M661.7 578.6h.01M663.6 640.5h.01M609.6 653.4h.01M605.0 629.7h.01M603.6 570.3h.01M592.5 605.9h.01M635.7 583.6h.01M589.3 628.6h.01M592.9 569.7h.01M576.0 661.2h.01M576.1 614.0h.01M630.3 599.0h.01M586.4 590.5h.01M575.8 590.6h.01M660.1 605.0h.01M644.2 655.5h.01M621.0 634.5h.01M624.8 595.7h.01M606.7 641.4h.01M628.2 600.2h.01M590.7 632.5h.01M612.7 611.2h.01M583.7 581.0h.01M655.4 608.9h.01M610.1 582.5h.01M658.4 650.6h.01M661.2 636.6h.01M658.3 578.8h.01M609.0 603.0h.01M643.5 623.5h.01M597.0 643.9h.01M612.8 627.5h.01M608.9 635.6h.01" stroke="#a81a2a" stroke-width="1.0" stroke-linecap="round" fill="none" stroke-opacity="0.8"/>
<path d="M622.4 601.3h.01M589.8 575.9h.01M638.9 660.1h.01M599.2 592.1h.01M654.1 582.4h.01M622.9 579.4h.01M649.4 615.2h.01M640.0 611.7h.01M577.8 570.9h.01M623.8 587.4h.01M664.5 644.2h.01M665.0 644.4h.01M603.0 568.3h.01M660.2 646.2h.01M655.9 620.6h.01M661.3 576.3h.01M609.0 644.1h.01M655.1 640.5h.01M604.6 596.7h.01M655.4 582.2h.01M572.8 642.6h.01M588.7 616.4h.01M655.6 590.6h.01M637.5 593.7h.01M614.1 596.7h.01M648.8 595.2h.01M604.1 636.0h.01M571.0 638.4h.01M620.6 564.9h.01M627.5 566.0h.01M591.5 641.0h.01M572.5 651.3h.01M656.1 655.1h.01M606.5 583.1h.01M647.9 654.8h.01M595.8 600.7h.01M633.3 637.7h.01M643.5 661.8h.01" stroke="#c81e2e" stroke-width="1.0" stroke-linecap="round" fill="none" stroke-opacity="0.8"/>
<path d="M597.4 658.0h.01M571.4 653.7h.01M584.0 628.9h.01M599.6 597.0h.01M575.5 618.7h.01M618.4 655.0h.01M608.9 624.0h.01M610.9 658.6h.01M652.9 650.4h.01M634.8 585.3h.01M638.5 592.3h.01M642.0 613.8h.01M615.8 569.0h.01M647.6 647.6h.01M609.7 612.1h.01M612.8 609.3h.01M626.0 574.9h.01M609.6 612.8h.01M608.9 618.2h.01M660.8 646.8h.01M659.6 635.9h.01M572.8 597.1h.01M585.6 644.0h.01M649.2 651.2h.01M592.0 646.8h.01M590.7 587.0h.01M666.3 655.5h.01M650.4 588.5h.01M611.5 641.2h.01M576.5 578.5h.01M638.2 662.8h.01M570.9 622.7h.01M641.0 656.8h.01M639.5 606.0h.01M656.1 599.7h.01M600.0 607.2h.01M579.9 573.1h.01M641.6 627.6h.01M620.0 588.6h.01M611.4 578.8h.01M635.6 620.0h.01M588.6 596.7h.01M592.6 651.5h.01M654.1 590.6h.01M617.0 583.9h.01M594.3 608.8h.01M596.3 659.9h.01M631.4 577.3h.01M658.8 604.9h.01M637.7 624.0h.01M601.4 605.0h.01M571.8 619.6h.01M574.9 632.9h.01M646.8 655.8h.01M578.3 645.2h.01M605.3 611.5h.01M613.7 617.0h.01M611.7 611.2h.01M654.6 641.2h.01M634.7 639.2h.01" stroke="#1e2a80" stroke-width="1.0" stroke-linecap="round" fill="none" stroke-opacity="0.8"/>
</g>
<text transform="translate(568.7 661.0) rotate(-90)" font-size="7.9" fill="#2fb45a" textLength="23.0" lengthAdjust="spacingAndGlyphs">AGER</text>
<text transform="translate(568.7 626.6) rotate(-90)" font-size="7.9" fill="#e8303a" textLength="24.2" lengthAdjust="spacingAndGlyphs">NF-κB</text>
<text transform="translate(568.7 592.0) rotate(-90)" font-size="7.9" fill="#2ea8d8" textLength="19.0" lengthAdjust="spacingAndGlyphs">DAPI</text>
<text x="618.6" y="560.5" font-size="9.2" text-anchor="middle" >AT1<tspan font-size="5.5" dy="2.8">i</tspan></text>
<rect x="640.3" y="654.8" width="19.7" height="3.0" fill="#fff" />
<text x="650.1" y="651.1" font-size="7.6" text-anchor="middle" fill="#fff" >100 µm</text>
<text x="267.5" y="679" font-size="13.2" font-weight="bold" fill="#000" stroke="#000" stroke-width="0.35">l</text>
<text x="403" y="679" font-size="13.2" font-weight="bold" fill="#000" stroke="#000" stroke-width="0.35">m</text>
<text x="543" y="679" font-size="13.2" font-weight="bold" fill="#000" stroke="#000" stroke-width="0.35">n</text>
<text x="543.2" y="809.5" font-size="13.2" font-weight="bold" fill="#000" stroke="#000" stroke-width="0.35">r</text>
<line x1="302.7" y1="690.5" x2="302.7" y2="772.3" stroke="#6d6e70" stroke-width="0.6"/>
<line x1="302.4" y1="772.3" x2="389.6" y2="772.3" stroke="#6d6e70" stroke-width="0.6"/>
<line x1="300.7" y1="705.9" x2="302.7" y2="705.9" stroke="#6d6e70" stroke-width="0.6"/>
<text x="297.6" y="709.0" font-size="8.6" text-anchor="end" >0.75</text>
<line x1="300.7" y1="726.3" x2="302.7" y2="726.3" stroke="#6d6e70" stroke-width="0.6"/>
<text x="297.6" y="729.4" font-size="8.6" text-anchor="end" >0.50</text>
<line x1="300.7" y1="747.4" x2="302.7" y2="747.4" stroke="#6d6e70" stroke-width="0.6"/>
<text x="297.6" y="750.5" font-size="8.6" text-anchor="end" >0.25</text>
<line x1="300.7" y1="768.6" x2="302.7" y2="768.6" stroke="#6d6e70" stroke-width="0.6"/>
<text x="297.6" y="771.7" font-size="8.6" text-anchor="end" >0</text>
<line x1="319.0" y1="772.3" x2="319.0" y2="774.3" stroke="#6d6e70" stroke-width="0.6"/>
<text x="319.0" y="784.3" font-size="7.8" text-anchor="middle" >No</text>
<text x="319.0" y="793.6" font-size="7.8" text-anchor="middle" >COPD</text>
<line x1="346.0" y1="772.3" x2="346.0" y2="774.3" stroke="#6d6e70" stroke-width="0.6"/>
<text x="346.0" y="784.3" font-size="7.8" text-anchor="middle" >GOLD</text>
<text x="346.0" y="793.6" font-size="7.8" text-anchor="middle" >I,II</text>
<line x1="373.2" y1="772.3" x2="373.2" y2="774.3" stroke="#6d6e70" stroke-width="0.6"/>
<text x="373.2" y="784.3" font-size="7.8" text-anchor="middle" >GOLD</text>
<text x="373.2" y="793.6" font-size="7.8" text-anchor="middle" >III,IV</text>
<line x1="308.7" y1="768.6" x2="329.3" y2="768.6" stroke="#3a3a3a" stroke-width="0.7"/>
<circle cx="319.0" cy="726.3" r="1.15" fill="#111"/>
<circle cx="319.0" cy="729.5" r="1.15" fill="#111"/>
<circle cx="319.0" cy="731.5" r="1.15" fill="#111"/>
<circle cx="319.0" cy="733.5" r="1.15" fill="#111"/>
<circle cx="319.0" cy="735.0" r="1.15" fill="#111"/>
<circle cx="319.0" cy="736.5" r="1.15" fill="#111"/>
<circle cx="319.0" cy="751.2" r="1.15" fill="#111"/>
<line x1="345.9" y1="701.4" x2="345.9" y2="731.2" stroke="#8a8a8a" stroke-width="0.6"/>
<rect x="335.6" y="731.2" width="20.6" height="37.4" fill="#c995c3" stroke="#4a4a4a" stroke-width="0.5" />
<line x1="335.6" y1="758.2" x2="356.2" y2="758.2" stroke="#2a2a2a" stroke-width="0.9"/>
<line x1="373.4" y1="733.0" x2="373.4" y2="750.4" stroke="#8a8a8a" stroke-width="0.6"/>
<rect x="363.1" y="750.4" width="20.6" height="18.2" fill="#c995c3" stroke="#4a4a4a" stroke-width="0.5" />
<line x1="363.1" y1="757.2" x2="383.7" y2="757.2" stroke="#2a2a2a" stroke-width="0.9"/>
<line x1="318.6" y1="691.2" x2="373.2" y2="691.2" stroke="#6d6e70" stroke-width="0.6"/>
<text x="346.6" y="690.5" text-anchor="middle" font-size="6.2">5.67 × 10<tspan font-size="3.8" dy="-2.2">−7</tspan></text>
<line x1="318.6" y1="698.3" x2="346.0" y2="698.3" stroke="#6d6e70" stroke-width="0.6"/>
<text x="333.4" y="698.0" text-anchor="middle" font-size="6.2">3.63 × 10<tspan font-size="3.8" dy="-2.2">−5</tspan></text>
<text x="345.6" y="678.9" font-size="9.2" text-anchor="middle" >gCap<tspan font-size="5.5" dy="2.8">i</tspan></text>
<text transform="translate(274.3 731.2) rotate(-90)" text-anchor="middle" font-size="9.8">Proportion</text>
<line x1="435.5" y1="693.2" x2="435.5" y2="772.3" stroke="#6d6e70" stroke-width="0.6"/>
<line x1="435.2" y1="772.3" x2="522.3" y2="772.3" stroke="#6d6e70" stroke-width="0.6"/>
<line x1="433.5" y1="707.9" x2="435.5" y2="707.9" stroke="#6d6e70" stroke-width="0.6"/>
<text x="430.2" y="711.0" font-size="8.6" text-anchor="end" >0.9</text>
<line x1="433.5" y1="728.0" x2="435.5" y2="728.0" stroke="#6d6e70" stroke-width="0.6"/>
<text x="430.2" y="731.1" font-size="8.6" text-anchor="end" >0.6</text>
<line x1="433.5" y1="748.4" x2="435.5" y2="748.4" stroke="#6d6e70" stroke-width="0.6"/>
<text x="430.2" y="751.5" font-size="8.6" text-anchor="end" >0.3</text>
<line x1="433.5" y1="768.6" x2="435.5" y2="768.6" stroke="#6d6e70" stroke-width="0.6"/>
<text x="430.2" y="771.7" font-size="8.6" text-anchor="end" >0</text>
<line x1="451.8" y1="772.3" x2="451.8" y2="774.3" stroke="#6d6e70" stroke-width="0.6"/>
<text x="451.8" y="784.3" font-size="7.8" text-anchor="middle" >No</text>
<text x="451.8" y="793.6" font-size="7.8" text-anchor="middle" >COPD</text>
<line x1="478.8" y1="772.3" x2="478.8" y2="774.3" stroke="#6d6e70" stroke-width="0.6"/>
<text x="478.8" y="784.3" font-size="7.8" text-anchor="middle" >GOLD</text>
<text x="478.8" y="793.6" font-size="7.8" text-anchor="middle" >I,II</text>
<line x1="506.0" y1="772.3" x2="506.0" y2="774.3" stroke="#6d6e70" stroke-width="0.6"/>
<text x="506.0" y="784.3" font-size="7.8" text-anchor="middle" >GOLD</text>
<text x="506.0" y="793.6" font-size="7.8" text-anchor="middle" >III,IV</text>
<line x1="441.5" y1="768.6" x2="462.1" y2="768.6" stroke="#3a3a3a" stroke-width="0.7"/>
<circle cx="451.8" cy="735.3" r="1.15" fill="#111"/>
<circle cx="451.8" cy="736.8" r="1.15" fill="#111"/>
<circle cx="451.8" cy="738.3" r="1.15" fill="#111"/>
<circle cx="451.8" cy="739.8" r="1.15" fill="#111"/>
<circle cx="451.8" cy="741.3" r="1.15" fill="#111"/>
<circle cx="451.8" cy="742.8" r="1.15" fill="#111"/>
<circle cx="451.8" cy="744.3" r="1.15" fill="#111"/>
<circle cx="451.8" cy="745.8" r="1.15" fill="#111"/>
<circle cx="451.8" cy="747.3" r="1.15" fill="#111"/>
<circle cx="451.8" cy="748.8" r="1.15" fill="#111"/>
<line x1="478.8" y1="699.7" x2="478.8" y2="727.3" stroke="#8a8a8a" stroke-width="0.6"/>
<rect x="468.5" y="727.3" width="20.6" height="41.3" fill="#3659a8" stroke="#4a4a4a" stroke-width="0.5" />
<line x1="468.5" y1="741.2" x2="489.1" y2="741.2" stroke="#2a2a2a" stroke-width="0.9"/>
<line x1="505.9" y1="722.6" x2="505.9" y2="729.6" stroke="#8a8a8a" stroke-width="0.6"/>
<line x1="505.9" y1="742.7" x2="505.9" y2="747.8" stroke="#8a8a8a" stroke-width="0.6"/>
<rect x="495.6" y="729.6" width="20.6" height="13.1" fill="#3659a8" stroke="#4a4a4a" stroke-width="0.5" />
<line x1="495.6" y1="736.9" x2="516.2" y2="736.9" stroke="#2a2a2a" stroke-width="0.9"/>
<circle cx="505.9" cy="701.2" r="1.15" fill="#111"/>
<circle cx="505.9" cy="768.6" r="1.15" fill="#111"/>
<line x1="451.8" y1="692.2" x2="506.0" y2="692.2" stroke="#6d6e70" stroke-width="0.6"/>
<text x="479.2" y="691.4" text-anchor="middle" font-size="6.2">5.94 × 10<tspan font-size="3.8" dy="-2.2">−23</tspan></text>
<line x1="451.8" y1="699.3" x2="478.8" y2="699.3" stroke="#6d6e70" stroke-width="0.6"/>
<text x="465.9" y="698.8" text-anchor="middle" font-size="6.2">6.02 × 10<tspan font-size="3.8" dy="-2.2">−13</tspan></text>
<text x="478.8" y="678.9" font-size="9.2" text-anchor="middle" >AT2<tspan font-size="5.5" dy="2.8">i</tspan></text>
<text transform="translate(410.4 732.4) rotate(-90)" text-anchor="middle" font-size="9.8">Proportion</text>
<line x1="574.8" y1="694.4" x2="574.8" y2="772.0" stroke="#6d6e70" stroke-width="0.6"/>
<line x1="574.5" y1="772.0" x2="661.3" y2="772.0" stroke="#6d6e70" stroke-width="0.6"/>
<line x1="572.8" y1="707.3" x2="574.8" y2="707.3" stroke="#6d6e70" stroke-width="0.6"/>
<text x="569.4" y="710.4" font-size="8.6" text-anchor="end" >1.0</text>
<line x1="572.8" y1="737.9" x2="574.8" y2="737.9" stroke="#6d6e70" stroke-width="0.6"/>
<text x="569.4" y="741.0" font-size="8.6" text-anchor="end" >0.5</text>
<line x1="572.8" y1="768.6" x2="574.8" y2="768.6" stroke="#6d6e70" stroke-width="0.6"/>
<text x="569.4" y="771.7" font-size="8.6" text-anchor="end" >0</text>
<line x1="591.1" y1="772.0" x2="591.1" y2="774.0" stroke="#6d6e70" stroke-width="0.6"/>
<text x="591.1" y="784.3" font-size="7.8" text-anchor="middle" >No</text>
<text x="591.1" y="793.6" font-size="7.8" text-anchor="middle" >COPD</text>
<line x1="618.3" y1="772.0" x2="618.3" y2="774.0" stroke="#6d6e70" stroke-width="0.6"/>
<text x="618.3" y="784.3" font-size="7.8" text-anchor="middle" >GOLD</text>
<text x="618.3" y="793.6" font-size="7.8" text-anchor="middle" >I,II</text>
<line x1="645.4" y1="772.0" x2="645.4" y2="774.0" stroke="#6d6e70" stroke-width="0.6"/>
<text x="645.4" y="784.3" font-size="7.8" text-anchor="middle" >GOLD</text>
<text x="645.4" y="793.6" font-size="7.8" text-anchor="middle" >III,IV</text>
<line x1="580.8" y1="768.6" x2="601.4" y2="768.6" stroke="#3a3a3a" stroke-width="0.7"/>
<circle cx="591.1" cy="724.5" r="1.15" fill="#111"/>
<circle cx="591.1" cy="726.0" r="1.15" fill="#111"/>
<circle cx="591.1" cy="727.5" r="1.15" fill="#111"/>
<circle cx="591.1" cy="729.0" r="1.15" fill="#111"/>
<circle cx="591.1" cy="731.0" r="1.15" fill="#111"/>
<circle cx="591.1" cy="732.5" r="1.15" fill="#111"/>
<circle cx="591.1" cy="733.6" r="1.15" fill="#111"/>
<line x1="618.3" y1="717.5" x2="618.3" y2="729.5" stroke="#8a8a8a" stroke-width="0.6"/>
<rect x="608.0" y="729.5" width="20.6" height="39.1" fill="#007f80" stroke="#4a4a4a" stroke-width="0.5" />
<line x1="608.0" y1="732.9" x2="628.6" y2="732.9" stroke="#2a2a2a" stroke-width="0.9"/>
<line x1="645.6" y1="737.9" x2="645.6" y2="768.6" stroke="#8a8a8a" stroke-width="0.6"/>
<rect x="635.3" y="707.3" width="20.6" height="30.6" fill="#007f80" stroke="#4a4a4a" stroke-width="0.5" />
<line x1="635.3" y1="727.2" x2="655.9" y2="727.2" stroke="#2a2a2a" stroke-width="0.9"/>
<line x1="616.0" y1="692.6" x2="645.4" y2="692.6" stroke="#6d6e70" stroke-width="0.6"/>
<text x="631.8" y="691.7" text-anchor="middle" font-size="6.2">3.34 × 10<tspan font-size="3.8" dy="-2.2">−6</tspan></text>
<line x1="590.4" y1="700.0" x2="645.4" y2="700.0" stroke="#6d6e70" stroke-width="0.6"/>
<text x="618.3" y="699.2" text-anchor="middle" font-size="6.2">3.57 × 10<tspan font-size="3.8" dy="-2.2">−10</tspan></text>
<line x1="590.4" y1="707.3" x2="617.1" y2="707.3" stroke="#6d6e70" stroke-width="0.6"/>
<text x="604.2" y="707.1" text-anchor="middle" font-size="6.2">1.5 × 10<tspan font-size="3.8" dy="-2.2">−7</tspan></text>
<text x="618.3" y="678.9" font-size="9.2" text-anchor="middle" >Alv fibroblast<tspan font-size="5.5" dy="2.8">i</tspan></text>
<text transform="translate(550.4 732.9) rotate(-90)" text-anchor="middle" font-size="9.8">Proportion</text>
<line x1="575.3" y1="822.8" x2="575.3" y2="900.2" stroke="#6d6e70" stroke-width="0.6"/>
<line x1="575.0" y1="900.2" x2="662.4" y2="900.2" stroke="#6d6e70" stroke-width="0.6"/>
<line x1="573.3" y1="826.9" x2="575.3" y2="826.9" stroke="#6d6e70" stroke-width="0.6"/>
<text x="569.4" y="830.0" font-size="8.6" text-anchor="end" >0.9</text>
<line x1="573.3" y1="850.2" x2="575.3" y2="850.2" stroke="#6d6e70" stroke-width="0.6"/>
<text x="569.4" y="853.3" font-size="8.6" text-anchor="end" >0.6</text>
<line x1="573.3" y1="873.3" x2="575.3" y2="873.3" stroke="#6d6e70" stroke-width="0.6"/>
<text x="569.4" y="876.4" font-size="8.6" text-anchor="end" >0.3</text>
<line x1="573.3" y1="896.4" x2="575.3" y2="896.4" stroke="#6d6e70" stroke-width="0.6"/>
<text x="569.4" y="899.5" font-size="8.6" text-anchor="end" >0</text>
<line x1="591.6" y1="900.2" x2="591.6" y2="902.2" stroke="#6d6e70" stroke-width="0.6"/>
<text x="591.6" y="911.6" font-size="7.8" text-anchor="middle" >No</text>
<text x="591.6" y="920.9" font-size="7.8" text-anchor="middle" >COPD</text>
<line x1="618.7" y1="900.2" x2="618.7" y2="902.2" stroke="#6d6e70" stroke-width="0.6"/>
<text x="618.7" y="911.6" font-size="7.8" text-anchor="middle" >GOLD</text>
<text x="618.7" y="920.9" font-size="7.8" text-anchor="middle" >I,II</text>
<line x1="645.9" y1="900.2" x2="645.9" y2="902.2" stroke="#6d6e70" stroke-width="0.6"/>
<text x="645.9" y="911.6" font-size="7.8" text-anchor="middle" >GOLD</text>
<text x="645.9" y="920.9" font-size="7.8" text-anchor="middle" >III,IV</text>
<rect x="581.2" y="892.3" width="20.6" height="4.1" fill="#884422" stroke="#4a4a4a" stroke-width="0.5" />
<line x1="581.2" y1="896.2" x2="601.8" y2="896.2" stroke="#2a2a2a" stroke-width="0.9"/>
<circle cx="591.5" cy="869.7" r="1.15" fill="#111"/>
<circle cx="591.5" cy="877.5" r="1.15" fill="#111"/>
<circle cx="591.5" cy="879.0" r="1.15" fill="#111"/>
<circle cx="591.5" cy="880.5" r="1.15" fill="#111"/>
<circle cx="591.5" cy="882.0" r="1.15" fill="#111"/>
<circle cx="591.5" cy="883.5" r="1.15" fill="#111"/>
<circle cx="591.5" cy="885.0" r="1.15" fill="#111"/>
<line x1="618.6" y1="851.1" x2="618.6" y2="866.9" stroke="#8a8a8a" stroke-width="0.6"/>
<rect x="608.3" y="866.9" width="20.6" height="29.5" fill="#884422" stroke="#4a4a4a" stroke-width="0.5" />
<line x1="608.3" y1="873.3" x2="628.9" y2="873.3" stroke="#2a2a2a" stroke-width="0.9"/>
<line x1="646.0" y1="827.3" x2="646.0" y2="861.5" stroke="#8a8a8a" stroke-width="0.6"/>
<rect x="635.7" y="861.5" width="20.6" height="34.9" fill="#884422" stroke="#4a4a4a" stroke-width="0.5" />
<line x1="635.7" y1="881.7" x2="656.3" y2="881.7" stroke="#2a2a2a" stroke-width="0.9"/>
<line x1="591.1" y1="827.3" x2="645.9" y2="827.3" stroke="#6d6e70" stroke-width="0.6"/>
<text x="618.9" y="826.4" text-anchor="middle" font-size="6.2">3.66 × 10<tspan font-size="3.8" dy="-2.2">−7</tspan></text>
<line x1="591.1" y1="834.6" x2="618.7" y2="834.6" stroke="#6d6e70" stroke-width="0.6"/>
<text x="605.4" y="834.4" text-anchor="middle" font-size="6.2">1.12 × 10<tspan font-size="3.8" dy="-2.2">−6</tspan></text>
<text x="618.7" y="815.9" font-size="9.2" text-anchor="middle" >CTHRC1 fibroblast</text>
<text transform="translate(551.9 861.3) rotate(-90)" text-anchor="middle" font-size="9.8">Proportion</text>
<text x="0" y="810" font-size="13.2" font-weight="bold" fill="#000" stroke="#000" stroke-width="0.35">o</text>
<rect x="16.8" y="809.7" width="94.6" height="100.8" fill="#000" />
<path d="M24.5 845.3L30.0 838.1L40.9 834.0L52.1 830.8L57.2 823.2L60.5 824.0L60.9 835.9L60.5 850.2L58.9 866.5L55.6 882.9L50.1 900.3L40.9 904.3L30.7 902.3L24.9 891.1L22.5 872.7L22.5 856.3Z" fill="#4e2a7e" stroke="#4e2a7e" stroke-width="4" stroke-linejoin="round" filter="url(#dust)"/>
<path d="M54.8 848.5L69.5 838.3L81.7 836.9L89.9 838.9L96.1 844.0L102.2 846.1L105.3 853.2L102.2 861.4L97.1 862.4L93.0 856.3L81.7 858.4L69.5 863.3L60.5 866.9L54.8 860.4Z" fill="#4e2a7e" stroke="#4e2a7e" stroke-width="5" stroke-linejoin="round" filter="url(#dust)"/>
<path d="M93.0 819.5L95.6 819.9L96.1 829.7L94.4 841.0L91.6 842.0L92.0 829.7Z" fill="#4e2a7e" stroke="#4e2a7e" stroke-width="2" stroke-linejoin="round" filter="url(#dust)"/>
<path d="M59.3 846.1L63.4 846.1L61.3 880.8L55.2 891.1Z" fill="#4e2a7e" stroke="#4e2a7e" stroke-width="6" stroke-linejoin="round" filter="url(#dust2)"/>
<g filter="url(#blur1)">
<path d="M24.5 845.3C25.8 842.2 27.3 840.0 30.0 838.1C32.8 836.2 37.2 835.3 40.9 834.0C44.6 832.8 49.4 832.6 52.1 830.8C54.8 829.0 55.8 824.3 57.2 823.2C58.6 822.1 59.9 821.9 60.5 824.0C61.1 826.1 60.9 831.5 60.9 835.9C60.9 840.2 60.8 845.1 60.5 850.2C60.2 855.3 59.7 861.1 58.9 866.5C58.0 872.0 57.1 877.3 55.6 882.9C54.1 888.5 52.5 896.7 50.1 900.3C47.6 903.8 44.1 904.0 40.9 904.3C37.6 904.7 33.3 904.5 30.7 902.3C28.0 900.1 26.3 896.0 24.9 891.1C23.6 886.1 22.9 878.5 22.5 872.7C22.1 866.9 22.1 860.9 22.5 856.3C22.8 851.7 23.3 848.3 24.5 845.3Z" fill="url(#oA)" />
<path d="M54.8 848.5C57.2 844.9 65.0 840.3 69.5 838.3C74.0 836.4 78.3 836.8 81.7 836.9C85.2 837.0 87.5 837.7 89.9 838.9C92.3 840.1 94.0 842.9 96.1 844.0C98.1 845.2 100.7 844.6 102.2 846.1C103.7 847.6 105.3 850.7 105.3 853.2C105.3 855.8 103.5 859.9 102.2 861.4C100.8 863.0 98.6 863.3 97.1 862.4C95.5 861.6 95.5 857.0 93.0 856.3C90.4 855.6 85.7 857.2 81.7 858.4C77.8 859.5 73.0 861.8 69.5 863.3C65.9 864.7 62.9 867.4 60.5 866.9C58.0 866.5 55.7 863.5 54.8 860.4C53.8 857.3 52.3 852.2 54.8 848.5Z" fill="url(#oB)" />
<path d="M93.0 819.5C93.6 817.9 95.1 818.2 95.6 819.9C96.2 821.6 96.3 826.2 96.1 829.7C95.9 833.3 95.2 838.9 94.4 841.0C93.7 843.0 92.0 843.9 91.6 842.0C91.2 840.1 91.7 833.5 92.0 829.7C92.2 826.0 92.4 821.2 93.0 819.5Z" fill="#4e2a7e" />
</g>
<rect x="147.8" y="809.7" width="94.2" height="100.8" fill="#000" />
<path d="M155.4 845.3L160.9 838.1L171.8 834.0L183.0 830.8L188.1 823.2L191.4 824.0L191.8 835.9L191.4 850.2L189.8 866.5L186.5 882.9L181.0 900.3L171.8 904.3L161.6 902.3L155.8 891.1L153.4 872.7L153.4 856.3Z" fill="#4e2a7e" stroke="#4e2a7e" stroke-width="4" stroke-linejoin="round" filter="url(#dust)"/>
<path d="M185.7 848.5L200.4 838.3L212.6 836.9L220.8 838.9L227.0 844.0L233.1 846.1L236.2 853.2L233.1 861.4L228.0 862.4L223.9 856.3L212.6 858.4L200.4 863.3L191.4 866.9L185.7 860.4Z" fill="#4e2a7e" stroke="#4e2a7e" stroke-width="5" stroke-linejoin="round" filter="url(#dust)"/>
<path d="M223.9 819.5L226.5 819.9L227.0 829.7L225.3 841.0L222.5 842.0L222.9 829.7Z" fill="#4e2a7e" stroke="#4e2a7e" stroke-width="2" stroke-linejoin="round" filter="url(#dust)"/>
<path d="M190.2 846.1L194.3 846.1L192.2 880.8L186.1 891.1Z" fill="#4e2a7e" stroke="#4e2a7e" stroke-width="6" stroke-linejoin="round" filter="url(#dust2)"/>
<g filter="url(#blur1)">
<path d="M155.4 845.3C156.7 842.2 158.2 840.0 160.9 838.1C163.7 836.2 168.1 835.3 171.8 834.0C175.5 832.8 180.3 832.6 183.0 830.8C185.7 829.0 186.7 824.3 188.1 823.2C189.5 822.1 190.8 821.9 191.4 824.0C192.0 826.1 191.8 831.5 191.8 835.9C191.8 840.2 191.7 845.1 191.4 850.2C191.1 855.3 190.6 861.1 189.8 866.5C188.9 872.0 188.0 877.3 186.5 882.9C185.0 888.5 183.4 896.7 181.0 900.3C178.5 903.8 175.0 904.0 171.8 904.3C168.5 904.7 164.2 904.5 161.6 902.3C158.9 900.1 157.2 896.0 155.8 891.1C154.5 886.1 153.8 878.5 153.4 872.7C153.0 866.9 153.0 860.9 153.4 856.3C153.7 851.7 154.2 848.3 155.4 845.3Z" fill="url(#oC)" />
<path d="M185.7 848.5C188.1 844.9 195.9 840.3 200.4 838.3C204.9 836.4 209.2 836.8 212.6 836.9C216.1 837.0 218.4 837.7 220.8 838.9C223.2 840.1 224.9 842.9 227.0 844.0C229.0 845.2 231.6 844.6 233.1 846.1C234.6 847.6 236.2 850.7 236.2 853.2C236.2 855.8 234.4 859.9 233.1 861.4C231.7 863.0 229.5 863.3 228.0 862.4C226.4 861.6 226.4 857.0 223.9 856.3C221.3 855.6 216.6 857.2 212.6 858.4C208.7 859.5 203.9 861.8 200.4 863.3C196.8 864.7 193.8 867.4 191.4 866.9C188.9 866.5 186.6 863.5 185.7 860.4C184.7 857.3 183.2 852.2 185.7 848.5Z" fill="url(#oD)" />
<path d="M223.9 819.5C224.5 817.9 226.0 818.2 226.5 819.9C227.1 821.6 227.2 826.2 227.0 829.7C226.8 833.3 226.1 838.9 225.3 841.0C224.6 843.0 222.9 843.9 222.5 842.0C222.1 840.1 222.6 833.5 222.9 829.7C223.1 826.0 223.3 821.2 223.9 819.5Z" fill="#4e2a7e" />
</g>
<text x="106.3" y="906.5" font-size="8.8" text-anchor="end" fill="#e8e8e8" font-style="italic" >LAMP3</text>
<text x="237.0" y="906.5" font-size="8.8" text-anchor="end" fill="#e8e8e8" font-style="italic" >SCGB3A2</text>
<rect x="113.8" y="846.1" width="7.8" height="37.8" fill="url(#virV)" />
<line x1="119.8" y1="850.6" x2="121.6" y2="850.6" stroke="#fff" stroke-width="0.4"/>
<text x="125.3" y="853.4" font-size="7.8" >5</text>
<line x1="119.8" y1="859.4" x2="121.6" y2="859.4" stroke="#fff" stroke-width="0.4"/>
<text x="125.3" y="862.2" font-size="7.8" >4</text>
<line x1="119.8" y1="867.6" x2="121.6" y2="867.6" stroke="#fff" stroke-width="0.4"/>
<text x="125.3" y="870.4" font-size="7.8" >3</text>
<line x1="119.8" y1="875.7" x2="121.6" y2="875.7" stroke="#fff" stroke-width="0.4"/>
<text x="125.3" y="878.5" font-size="7.8" >2</text>
<line x1="119.8" y1="883.9" x2="121.6" y2="883.9" stroke="#fff" stroke-width="0.4"/>
<text x="125.3" y="886.7" font-size="7.8" >1</text>
<rect x="245.1" y="847.1" width="7.5" height="36.2" fill="url(#virV)" />
<line x1="250.8" y1="855.7" x2="252.6" y2="855.7" stroke="#fff" stroke-width="0.4"/>
<text x="256.3" y="858.5" font-size="7.8" >4</text>
<line x1="250.8" y1="865.1" x2="252.6" y2="865.1" stroke="#fff" stroke-width="0.4"/>
<text x="256.3" y="867.9" font-size="7.8" >3</text>
<line x1="250.8" y1="874.1" x2="252.6" y2="874.1" stroke="#fff" stroke-width="0.4"/>
<text x="256.3" y="876.9" font-size="7.8" >2</text>
<line x1="250.8" y1="883.3" x2="252.6" y2="883.3" stroke="#fff" stroke-width="0.4"/>
<text x="256.3" y="886.1" font-size="7.8" >1</text>
<text x="266.5" y="810" font-size="13.2" font-weight="bold" fill="#000" stroke="#000" stroke-width="0.35">p</text>
<text x="403.5" y="810" font-size="13.2" font-weight="bold" fill="#000" stroke="#000" stroke-width="0.35">q</text>
<rect x="291.7" y="809.3" width="98.7" height="104.9" fill="#000" />
<rect x="291.7" y="809.3" width="10.2" height="104.9" fill="#231f20" />
<g clip-path="url(#clipm7)"><clipPath id="clipm7"><rect x="301.9" y="809.3" width="88.5" height="104.9"/></clipPath>
<g filter="url(#patch)">
<path d="M309.9 819.6C311.3 817.8 313.5 817.3 315.3 817.3C317.1 817.3 318.4 819.2 320.7 819.6C323.0 819.9 327.5 818.7 329.1 819.6C330.7 820.5 330.5 823.5 330.2 824.9C329.8 826.3 328.4 827.9 326.8 828.0C325.2 828.1 322.4 825.7 320.7 825.7C318.9 825.7 317.8 826.6 316.1 828.0C314.3 829.4 311.8 832.2 309.9 834.1C308.0 836.0 305.7 839.2 304.6 839.5C303.4 839.7 302.6 837.6 303.0 835.7C303.4 833.7 305.7 830.7 306.9 828.0C308.0 825.3 308.5 821.3 309.9 819.6Z" fill="#16207a" />
<path d="M328.3 834.1C328.7 831.9 330.4 831.4 332.2 831.4C333.9 831.4 336.9 833.4 339.0 834.1C341.2 834.8 343.3 835.7 345.2 835.7C347.1 835.6 349.2 833.4 350.5 833.8C351.9 834.2 353.0 835.3 353.2 838.0C353.3 840.6 352.0 846.0 351.3 849.5C350.6 852.9 349.0 855.8 349.0 858.6C349.0 861.5 350.7 863.8 351.3 866.3C352.0 868.9 353.4 871.4 352.8 874.0C352.3 876.5 350.3 879.3 348.2 881.6C346.2 883.9 342.6 885.2 340.6 887.8C338.5 890.3 337.3 893.1 336.0 897.0C334.7 900.8 338.3 908.2 332.9 910.8C327.6 913.3 308.8 914.6 303.8 912.3C298.8 910.0 302.5 901.3 303.0 897.0C303.5 892.6 304.7 888.5 306.9 886.2C309.0 883.9 313.0 884.7 316.1 883.2C319.1 881.6 323.1 879.9 325.3 877.0C327.4 874.2 328.3 869.9 329.1 866.3C329.9 862.7 329.7 859.2 329.9 855.6C330.0 852.0 330.4 848.4 330.2 844.9C329.9 841.3 328.0 836.4 328.3 834.1Z" fill="#16207a" />
<path d="M369.7 829.5C371.7 826.8 376.3 823.5 378.9 822.6C381.5 821.7 383.7 822.8 385.0 824.2C386.4 825.6 387.1 828.6 386.9 831.1C386.6 833.5 384.7 836.2 383.5 838.7C382.3 841.3 381.5 843.3 379.7 846.4C377.9 849.5 375.5 853.8 372.8 857.1C370.1 860.4 366.1 864.0 363.6 866.3C361.0 868.6 359.2 870.9 357.4 870.9C355.7 870.9 353.1 868.6 352.8 866.3C352.6 864.0 354.4 860.2 355.9 857.1C357.4 854.0 360.3 851.0 362.0 847.9C363.8 844.9 365.4 841.8 366.6 838.7C367.9 835.7 367.7 832.2 369.7 829.5Z" fill="#16207a" />
<path d="M355.9 809.6C361.4 808.8 384.7 807.8 390.4 809.6C396.1 811.4 392.3 818.7 390.4 820.3C388.5 822.0 382.4 819.3 378.9 819.6C375.5 819.8 372.5 822.0 369.7 821.9C366.9 821.7 364.1 820.1 362.0 818.8C360.0 817.5 358.5 815.7 357.4 814.2C356.4 812.7 350.4 810.4 355.9 809.6Z" fill="#16207a" />
<path d="M385.0 838.0C385.7 837.1 389.5 837.6 390.4 839.5C391.3 841.4 391.0 848.6 390.4 849.5C389.8 850.3 387.5 846.8 386.6 844.9C385.7 842.9 384.4 838.8 385.0 838.0Z" fill="#16207a" />
<path d="M302.3 810.8C305.1 810.4 315.0 811.1 319.1 811.9C323.2 812.7 326.5 814.8 326.8 815.7C327.0 816.6 323.7 817.5 320.7 817.3C317.6 817.0 311.5 814.7 308.4 814.2C305.3 813.7 303.3 814.8 302.3 814.2C301.2 813.6 299.5 811.2 302.3 810.8Z" fill="#16207a" />
</g>
<path d="M330.6 825.1h.01M334.3 815.4h.01M339.0 866.0h.01M328.4 892.6h.01M348.4 901.1h.01M387.0 817.4h.01M385.5 859.0h.01M327.1 849.8h.01M321.2 839.5h.01M309.0 856.4h.01M326.9 824.6h.01M363.0 863.4h.01M381.5 891.1h.01M340.9 820.8h.01M349.4 908.8h.01M304.2 901.0h.01M344.3 881.9h.01M303.9 909.1h.01M369.0 840.6h.01M370.2 865.2h.01M373.2 895.1h.01M320.0 874.8h.01M376.3 859.6h.01M332.3 876.8h.01M312.5 850.1h.01M373.3 824.6h.01M303.2 911.1h.01M304.4 831.6h.01M360.5 894.8h.01M339.1 905.6h.01M313.5 825.2h.01M317.2 859.0h.01M312.5 815.8h.01M326.4 890.3h.01M341.1 873.6h.01M346.8 835.3h.01M336.6 842.4h.01M323.2 817.0h.01M380.2 826.4h.01M319.2 842.7h.01M337.8 865.6h.01M356.9 813.8h.01M305.2 811.2h.01M323.6 856.2h.01M350.2 902.5h.01M332.2 896.6h.01M340.0 815.1h.01M376.4 900.6h.01M387.8 872.1h.01M387.0 911.3h.01M335.7 859.1h.01M360.1 884.4h.01M315.1 885.3h.01M314.7 895.8h.01M380.8 875.1h.01M363.9 862.3h.01M375.0 870.6h.01M309.4 813.7h.01M351.3 875.2h.01M302.2 893.0h.01M360.2 816.2h.01M376.7 817.4h.01M327.3 814.2h.01M331.3 877.6h.01M344.6 860.3h.01M343.1 889.8h.01M303.4 857.4h.01M308.5 818.8h.01M362.2 851.8h.01M307.7 850.2h.01M324.0 837.2h.01M380.2 894.5h.01M337.3 901.2h.01M384.5 852.4h.01M344.9 905.0h.01M326.8 836.1h.01M388.3 836.6h.01M323.0 860.0h.01M313.0 862.1h.01M336.5 906.5h.01M348.1 880.8h.01M336.2 832.8h.01M304.5 852.5h.01M319.4 892.9h.01M311.5 874.7h.01M382.5 815.2h.01M331.0 828.8h.01M367.9 812.6h.01M304.6 852.4h.01M324.6 887.7h.01M331.9 837.9h.01M305.8 887.6h.01M365.8 871.8h.01M384.0 828.5h.01M342.7 891.5h.01M356.8 880.0h.01M352.1 848.4h.01M323.6 825.4h.01M322.5 814.6h.01M355.3 890.6h.01M385.6 820.4h.01M390.4 813.3h.01M360.7 825.5h.01M310.0 826.5h.01M325.9 913.0h.01M352.6 906.6h.01M358.6 899.2h.01M312.8 835.2h.01M374.1 829.5h.01M376.5 879.8h.01M376.1 821.6h.01M334.2 893.5h.01M347.0 813.6h.01M368.5 903.2h.01M372.0 837.0h.01M358.5 912.5h.01M384.1 903.3h.01M328.8 864.2h.01M321.7 870.5h.01M354.5 870.0h.01M314.5 830.2h.01M307.5 875.0h.01M358.9 822.2h.01M364.9 837.2h.01M362.0 881.2h.01M324.9 834.1h.01M318.9 850.1h.01M323.1 904.5h.01M383.5 912.3h.01M343.5 897.4h.01M302.5 812.1h.01M336.6 870.7h.01M304.6 823.8h.01M358.0 882.4h.01M319.5 909.4h.01M380.8 816.2h.01M319.9 812.9h.01M309.6 888.1h.01M371.7 812.6h.01M370.3 845.7h.01M306.2 868.7h.01M354.3 909.7h.01M346.0 820.8h.01M369.8 860.7h.01M328.7 854.2h.01M346.3 849.1h.01M322.6 857.6h.01M354.5 881.6h.01M358.8 882.4h.01M318.9 840.9h.01M375.0 874.1h.01M330.9 829.2h.01M390.0 826.6h.01M363.3 861.8h.01M355.3 851.8h.01M323.3 898.8h.01M376.8 879.4h.01M379.8 890.5h.01M323.4 851.3h.01M347.9 819.9h.01M347.4 907.1h.01M357.5 880.1h.01M325.4 832.8h.01M343.3 840.2h.01M362.0 859.8h.01M372.6 846.9h.01M372.0 826.9h.01M355.7 891.3h.01M381.7 866.8h.01M376.1 830.0h.01M323.7 826.6h.01M343.3 868.3h.01M317.9 847.1h.01M304.4 873.3h.01M304.9 884.6h.01M313.1 819.2h.01M334.3 859.1h.01M340.4 853.6h.01M375.2 851.7h.01M371.3 813.5h.01M351.0 851.9h.01M355.8 878.3h.01M382.4 873.5h.01M314.9 880.0h.01M305.4 875.8h.01M370.4 853.5h.01M362.1 871.6h.01M339.7 810.3h.01M334.3 887.7h.01M302.9 810.8h.01M386.7 896.9h.01M307.2 847.9h.01M385.5 891.6h.01M331.4 838.7h.01M388.1 883.1h.01M335.2 881.1h.01M327.4 824.1h.01M314.9 911.6h.01M372.5 830.3h.01M384.4 833.8h.01M307.0 850.8h.01M318.9 828.3h.01M335.0 820.4h.01M354.8 845.5h.01M339.6 908.6h.01M351.9 876.5h.01M334.7 834.0h.01M385.2 815.5h.01M324.7 863.1h.01M354.1 855.6h.01M384.6 900.2h.01M338.7 826.3h.01M388.5 824.4h.01M347.1 855.8h.01M382.6 832.2h.01M317.9 897.8h.01M355.1 896.3h.01M320.1 873.5h.01M319.8 816.2h.01M305.1 883.0h.01M354.5 809.8h.01M370.9 900.4h.01M386.3 861.2h.01M303.6 906.5h.01M319.2 811.2h.01M314.9 869.4h.01M365.2 897.7h.01M376.9 814.9h.01M324.0 853.6h.01M308.0 854.7h.01M383.1 874.7h.01M349.9 906.3h.01M312.6 871.6h.01M381.7 818.2h.01M353.0 838.1h.01M355.9 869.1h.01M342.7 866.8h.01M323.3 832.5h.01M306.9 811.6h.01M333.2 889.3h.01M321.8 909.9h.01M384.6 853.0h.01M333.1 880.1h.01M356.0 838.3h.01M325.7 875.5h.01M302.3 889.6h.01M312.3 851.0h.01M348.5 871.8h.01M335.6 840.8h.01M328.8 824.5h.01M349.6 914.0h.01M336.4 846.8h.01M338.1 861.8h.01M369.8 903.6h.01M357.8 864.3h.01M318.0 875.4h.01M311.3 869.1h.01M302.8 809.6h.01M370.0 868.8h.01M314.8 863.7h.01M359.4 881.1h.01M326.3 812.8h.01M310.7 904.1h.01M307.5 829.4h.01M388.6 816.4h.01M338.5 851.1h.01M322.9 813.0h.01M350.1 891.9h.01M316.0 846.3h.01M337.8 875.3h.01M320.3 909.1h.01M320.0 899.3h.01M349.2 851.7h.01M303.2 883.9h.01M351.6 847.2h.01M369.0 829.5h.01M337.6 904.6h.01M381.3 812.0h.01M327.7 837.7h.01M367.2 867.2h.01M383.8 879.6h.01M332.8 809.4h.01M327.2 813.8h.01M320.5 905.2h.01M382.8 853.1h.01M341.1 845.0h.01M367.3 896.4h.01" stroke="#000" stroke-width="2.0" stroke-linecap="round" fill="none" stroke-opacity="0.4"/>
<path d="M306.2 895.5h.01M307.1 868.6h.01M357.7 870.5h.01M353.0 850.9h.01M329.2 894.9h.01M311.0 869.2h.01M334.9 866.8h.01M341.6 873.2h.01M315.4 860.6h.01M353.2 857.2h.01M316.8 821.6h.01M386.7 825.1h.01M315.3 878.4h.01M334.6 868.7h.01M307.4 816.4h.01M306.6 809.3h.01M355.2 859.0h.01M344.4 842.0h.01M333.9 881.7h.01M331.1 832.7h.01M333.4 812.3h.01M371.8 858.8h.01M386.4 847.6h.01M368.3 859.4h.01M340.3 876.0h.01M342.9 887.3h.01M366.0 827.1h.01M315.7 866.8h.01M311.0 887.9h.01M340.3 900.7h.01M350.1 896.8h.01M303.6 855.5h.01M355.8 890.7h.01M347.8 867.6h.01M380.1 815.3h.01M341.9 812.2h.01M383.6 902.9h.01M376.2 823.7h.01M328.7 822.1h.01M347.7 840.3h.01M311.9 905.7h.01M326.0 904.3h.01M352.4 882.8h.01M326.6 893.2h.01M339.5 816.9h.01M358.0 893.4h.01M323.0 820.8h.01M357.5 865.0h.01M327.6 861.8h.01M329.1 831.9h.01M388.8 897.1h.01M327.8 857.5h.01M360.0 835.3h.01M309.9 895.0h.01M337.3 813.7h.01M328.4 875.4h.01M353.7 864.8h.01M368.5 868.9h.01M362.3 882.0h.01M384.4 903.5h.01M322.7 888.7h.01M358.8 817.4h.01M328.8 868.9h.01M336.1 905.4h.01M348.3 909.2h.01M380.4 883.1h.01M368.3 897.3h.01M385.1 829.8h.01M377.5 838.7h.01M375.8 839.3h.01M350.5 884.8h.01M336.8 826.9h.01M390.1 856.5h.01M350.4 834.9h.01M332.2 818.9h.01M334.5 894.2h.01M335.8 887.5h.01M335.3 844.8h.01M371.8 898.3h.01M377.0 900.9h.01M387.6 860.7h.01M377.6 911.3h.01M371.2 832.8h.01M309.4 890.8h.01M371.1 833.7h.01M359.0 841.2h.01M363.7 821.1h.01M328.5 908.3h.01M326.6 842.5h.01M344.0 833.9h.01M380.2 877.2h.01M387.7 842.0h.01M314.9 850.6h.01M366.7 913.9h.01M341.1 820.7h.01M326.7 846.2h.01M309.7 883.3h.01M334.9 905.8h.01M369.8 813.6h.01M343.0 893.6h.01M329.9 838.2h.01M385.7 816.2h.01M382.7 894.8h.01M328.7 881.9h.01M308.9 830.0h.01M323.8 816.1h.01M344.5 866.4h.01M388.7 902.0h.01M325.3 818.1h.01M349.6 890.5h.01M324.9 855.4h.01M389.7 862.5h.01M388.0 870.5h.01M364.7 846.0h.01M334.5 824.1h.01M359.6 830.6h.01M318.3 842.0h.01M319.9 809.9h.01M353.0 847.6h.01M313.4 814.7h.01M358.6 904.7h.01M316.2 827.3h.01M311.5 860.8h.01M328.6 897.1h.01M388.2 859.9h.01M355.7 876.1h.01M381.9 874.4h.01M359.3 841.6h.01M346.5 828.1h.01M356.7 860.6h.01M370.7 863.0h.01M386.1 823.6h.01M390.1 886.1h.01M327.4 894.4h.01M362.6 884.9h.01M346.3 905.8h.01M354.3 873.9h.01M330.1 813.2h.01M362.1 903.2h.01M351.0 870.1h.01M331.2 817.8h.01M317.5 887.3h.01M302.1 812.8h.01M347.3 903.2h.01M345.1 873.6h.01M315.9 810.8h.01M364.5 856.6h.01M337.5 837.0h.01M384.8 886.2h.01M316.5 809.3h.01M348.9 851.9h.01M316.0 904.9h.01M303.0 867.1h.01M371.2 884.3h.01M309.0 878.1h.01M321.9 820.3h.01M387.9 840.3h.01M309.5 862.5h.01M322.6 902.1h.01M382.5 824.5h.01M311.8 874.5h.01M332.4 824.2h.01M385.5 820.5h.01M327.3 819.8h.01M330.1 853.8h.01M333.0 906.9h.01M377.2 874.2h.01M317.0 809.4h.01M327.4 888.0h.01M374.0 907.7h.01M380.5 811.9h.01M360.5 887.1h.01M355.3 845.9h.01M310.9 849.6h.01M326.1 820.8h.01M353.6 833.3h.01M347.8 878.6h.01M381.1 843.7h.01M336.3 860.7h.01M305.3 866.3h.01M365.3 909.1h.01M389.0 846.6h.01M324.2 849.4h.01M337.3 909.3h.01M320.7 822.9h.01M358.7 884.9h.01M357.9 810.9h.01M324.0 819.9h.01M361.3 821.6h.01M325.3 833.9h.01M339.0 910.1h.01M367.1 914.1h.01M347.1 860.1h.01M388.2 878.0h.01M313.2 911.3h.01M306.3 840.8h.01M354.7 880.7h.01M369.4 819.9h.01M378.8 853.5h.01M318.3 812.9h.01M340.0 876.6h.01M346.0 864.1h.01M383.2 856.1h.01M320.7 825.2h.01M312.7 910.7h.01M303.5 884.8h.01M341.8 887.4h.01M377.6 885.8h.01M382.7 814.8h.01M329.4 885.8h.01M366.3 858.6h.01M331.3 872.9h.01M353.6 911.7h.01M325.6 825.8h.01M320.2 836.0h.01M372.0 857.5h.01M349.3 846.6h.01M346.7 830.5h.01M337.5 863.6h.01M355.6 819.2h.01M376.6 844.8h.01M335.4 812.2h.01M345.0 898.0h.01M378.3 876.4h.01M346.7 828.5h.01M382.0 897.1h.01M359.1 912.7h.01M310.8 842.6h.01M316.8 834.3h.01M365.4 829.8h.01M315.8 896.7h.01M314.3 856.2h.01M383.8 849.7h.01M330.4 833.8h.01M357.5 824.3h.01M350.9 824.5h.01M325.5 852.5h.01M312.0 912.0h.01M357.7 891.9h.01M351.5 896.9h.01M340.1 836.7h.01M327.2 847.1h.01M370.1 883.9h.01M366.6 889.2h.01M347.9 897.5h.01M313.7 879.1h.01M384.4 910.9h.01M368.4 815.7h.01M304.2 893.7h.01M303.7 910.8h.01M324.1 895.0h.01M358.3 858.0h.01M364.1 820.1h.01M365.4 814.0h.01M311.6 822.0h.01M349.8 833.2h.01M337.0 908.8h.01M354.7 872.5h.01M302.9 820.7h.01M357.9 894.2h.01M310.8 822.1h.01M311.9 845.8h.01M349.1 824.9h.01M344.2 895.2h.01M303.0 846.3h.01M382.9 822.7h.01M330.6 897.8h.01M380.8 909.6h.01M361.7 856.8h.01M361.8 864.4h.01M351.6 869.5h.01M332.3 864.9h.01M317.0 842.7h.01M375.0 863.1h.01M337.1 819.6h.01M381.2 863.3h.01M352.7 852.4h.01M311.3 819.8h.01M356.2 893.9h.01M306.7 834.3h.01M305.8 906.9h.01M336.4 884.7h.01M344.8 892.5h.01M375.0 846.1h.01M304.1 893.7h.01M341.1 897.0h.01M320.7 900.8h.01M367.0 889.5h.01M318.6 902.8h.01M329.4 833.1h.01M380.0 899.6h.01M333.1 875.3h.01M366.9 884.1h.01M358.4 828.1h.01M355.7 814.3h.01M336.7 887.7h.01" stroke="#000" stroke-width="1.2" stroke-linecap="round" fill="none" stroke-opacity="0.4"/>
<path d="M320.9 818.3h.01M308.1 818.8h.01M306.0 899.4h.01M351.8 874.2h.01M362.1 854.2h.01M343.1 906.2h.01M370.9 817.9h.01M312.3 853.2h.01M352.6 901.1h.01M332.0 846.0h.01M307.7 886.0h.01M359.2 913.5h.01M332.6 908.0h.01M323.8 850.3h.01M326.5 823.7h.01M378.4 838.5h.01M389.2 880.9h.01M344.8 871.1h.01M359.9 886.9h.01M372.5 850.5h.01M336.8 859.8h.01M335.2 875.8h.01M377.0 913.5h.01M310.9 845.2h.01M378.3 882.3h.01M347.8 904.6h.01M373.0 830.3h.01M363.2 909.6h.01M373.5 885.2h.01M310.9 858.6h.01M372.8 911.2h.01M304.3 871.3h.01M388.7 878.2h.01M323.2 870.8h.01M382.4 846.4h.01M355.5 830.2h.01M341.9 865.2h.01M379.5 908.1h.01M385.0 876.8h.01M314.6 901.9h.01M321.3 909.2h.01M375.6 826.2h.01M389.9 851.7h.01M334.3 844.8h.01M340.9 811.2h.01M387.9 820.3h.01M325.8 822.9h.01M377.1 880.2h.01M355.7 832.6h.01M378.3 856.9h.01M389.9 853.1h.01M325.1 828.3h.01M325.8 893.6h.01M350.7 829.2h.01M374.4 854.6h.01M366.4 824.0h.01M308.2 887.0h.01M325.7 809.7h.01M330.5 812.9h.01M321.2 828.5h.01M336.4 843.5h.01M333.8 820.3h.01M348.9 835.0h.01M343.8 894.2h.01M367.4 911.7h.01M310.7 832.1h.01M327.6 863.5h.01M319.5 911.9h.01M387.6 856.4h.01M355.3 875.6h.01M346.0 901.2h.01M304.1 809.7h.01M314.4 845.4h.01M312.6 844.1h.01M381.7 839.7h.01M308.7 906.4h.01M329.8 890.4h.01M368.5 876.9h.01M313.2 858.8h.01M308.6 861.8h.01M350.6 856.8h.01M380.4 887.9h.01M346.0 869.5h.01M325.9 835.4h.01M359.1 854.6h.01M313.2 853.9h.01M363.9 898.1h.01M357.3 864.7h.01M302.0 865.7h.01M329.1 811.6h.01M324.7 879.3h.01M322.0 812.9h.01M365.5 847.3h.01M376.7 816.4h.01M322.3 832.5h.01M318.5 832.7h.01M304.0 871.8h.01M306.5 815.6h.01M341.7 884.0h.01M366.1 897.3h.01M351.6 888.9h.01M333.5 895.5h.01M330.5 886.6h.01M311.4 884.4h.01M386.3 849.8h.01M355.6 843.7h.01M339.2 913.0h.01M317.2 823.2h.01M370.9 840.1h.01M318.6 816.1h.01M359.4 819.8h.01M389.6 820.0h.01M380.0 833.5h.01M382.8 813.5h.01M334.8 900.2h.01M374.4 852.2h.01M304.7 861.3h.01M307.5 819.9h.01M329.1 909.3h.01M367.9 902.0h.01M338.8 900.0h.01M358.9 850.3h.01M339.4 895.4h.01M346.5 824.6h.01M337.7 898.1h.01M318.1 832.2h.01M385.0 825.7h.01M342.2 898.4h.01M339.6 878.4h.01M341.4 874.2h.01M375.9 894.3h.01M311.4 822.8h.01M313.4 906.0h.01M319.0 912.3h.01M307.7 846.1h.01M316.0 903.3h.01M382.0 857.2h.01M337.6 876.1h.01M306.2 899.3h.01M324.2 865.5h.01M367.2 848.3h.01M389.6 869.9h.01M328.1 863.4h.01M327.7 874.9h.01M303.9 809.6h.01M313.7 847.7h.01M358.4 900.7h.01M306.9 895.4h.01M358.8 877.2h.01M373.9 827.6h.01M335.1 855.1h.01M383.8 908.2h.01M319.8 826.0h.01M306.0 899.1h.01M372.0 877.1h.01M365.2 847.9h.01M370.0 872.5h.01M378.2 818.8h.01M302.3 860.8h.01M363.4 895.9h.01M325.0 908.3h.01M351.6 820.3h.01M333.4 851.4h.01M380.8 887.5h.01M359.1 845.9h.01M348.1 900.4h.01M342.9 881.6h.01M353.2 822.5h.01M315.7 835.3h.01M372.2 886.2h.01M326.8 902.2h.01M304.9 851.2h.01M328.1 811.6h.01M352.7 887.9h.01M358.7 856.9h.01M324.9 882.8h.01M357.6 835.5h.01M344.6 811.4h.01M342.3 830.8h.01M347.2 876.4h.01M348.1 852.3h.01M320.5 881.1h.01M303.1 853.2h.01M389.9 910.1h.01M373.5 875.8h.01M333.2 876.3h.01M359.4 891.1h.01M333.3 898.5h.01M364.2 881.4h.01M328.6 859.6h.01M357.1 818.3h.01M315.4 841.1h.01M307.0 896.1h.01M371.3 824.0h.01M320.5 816.9h.01M377.5 828.8h.01M332.6 825.3h.01M320.8 817.5h.01M343.8 867.8h.01M343.2 824.4h.01M378.3 810.0h.01M328.2 858.2h.01M350.9 905.0h.01M306.6 839.6h.01M389.0 900.9h.01M331.2 842.6h.01M306.0 895.5h.01M382.8 878.1h.01M379.1 823.8h.01M351.6 836.4h.01M388.7 859.2h.01M350.5 818.0h.01M321.2 822.0h.01M327.8 867.8h.01M342.7 907.1h.01M362.7 874.2h.01M314.7 892.9h.01M386.3 826.5h.01M344.1 890.9h.01M375.5 872.4h.01M370.2 833.9h.01M327.0 809.5h.01M362.5 905.2h.01M349.2 865.9h.01M322.5 870.1h.01M380.2 864.0h.01M327.5 869.9h.01M323.7 906.1h.01M342.9 817.9h.01M389.6 900.2h.01M353.8 831.7h.01M374.4 910.4h.01M351.2 900.6h.01M364.4 818.7h.01M321.5 813.4h.01M385.0 880.3h.01M311.2 843.3h.01M336.4 848.6h.01M382.8 902.9h.01M357.5 856.7h.01M367.0 828.2h.01M304.1 869.2h.01M331.5 826.9h.01M311.6 857.2h.01M324.7 830.5h.01M383.8 819.5h.01M303.3 894.0h.01M357.5 829.5h.01M347.8 845.8h.01M376.4 900.0h.01M309.9 852.3h.01M318.4 896.5h.01M312.6 884.3h.01M356.7 826.9h.01M343.0 870.8h.01M384.9 850.1h.01M336.9 908.0h.01M331.9 834.5h.01M373.1 905.0h.01M314.9 880.6h.01M361.1 833.0h.01M387.7 890.8h.01M304.9 876.6h.01M340.3 909.0h.01M347.2 902.2h.01M309.7 866.6h.01M336.1 866.8h.01M350.2 911.0h.01M330.6 843.4h.01M327.1 912.9h.01M307.8 900.7h.01M360.1 863.5h.01M310.3 899.1h.01M315.1 898.5h.01M379.1 873.0h.01M377.3 882.0h.01M365.9 840.0h.01M330.4 891.9h.01M335.3 833.6h.01M386.8 830.7h.01M306.1 868.6h.01M328.4 865.6h.01M375.0 885.6h.01M387.3 860.4h.01M359.9 840.2h.01M374.5 913.2h.01M320.3 903.0h.01M358.2 813.7h.01M363.0 809.7h.01M361.0 829.9h.01M385.8 860.7h.01M330.5 884.4h.01M336.0 815.0h.01M353.5 910.0h.01M329.8 903.6h.01M328.8 872.5h.01M309.6 827.1h.01M318.4 911.2h.01M336.9 847.4h.01M349.1 849.7h.01M359.5 910.1h.01M336.2 858.3h.01M364.4 819.0h.01M313.5 883.4h.01M354.6 855.5h.01M361.9 818.9h.01M360.1 868.8h.01M317.6 898.6h.01M374.2 851.2h.01M384.8 827.8h.01M362.0 878.9h.01M363.8 835.4h.01M337.7 873.1h.01M319.4 841.1h.01M352.4 884.5h.01M362.2 813.2h.01M326.8 818.7h.01" stroke="#000" stroke-width="1.6" stroke-linecap="round" fill="none" stroke-opacity="0.4"/>
<polyline points="328.3,835.7 330.2,832.3 336.0,832.6 340.6,834.9 345.9,835.7 350.5,833.8 352.8,837.2 352.1,844.9" fill="none" stroke="#e0283a" stroke-width="0.9" stroke-linecap="round" stroke-linejoin="round"/>
<polyline points="329.1,838.7 329.5,847.9" fill="none" stroke="#e0283a" stroke-width="0.9" stroke-linecap="round" stroke-linejoin="round"/>
<polyline points="309.9,819.9 315.3,817.6 319.9,819.6 320.7,823.4" fill="none" stroke="#e0283a" stroke-width="0.9" stroke-linecap="round" stroke-linejoin="round"/>
<polyline points="369.7,829.5 378.9,822.9 384.7,824.2" fill="none" stroke="#e0283a" stroke-width="0.9" stroke-linecap="round" stroke-linejoin="round"/>
<polyline points="357.4,870.1 366.6,863.2 372.8,857.1" fill="none" stroke="#e0283a" stroke-width="0.9" stroke-linecap="round" stroke-linejoin="round"/>
<polyline points="387.3,843.3 389.9,848.7" fill="none" stroke="#e0283a" stroke-width="0.9" stroke-linecap="round" stroke-linejoin="round"/>
<polyline points="375.8,812.7 378.1,820.3" fill="none" stroke="#e0283a" stroke-width="0.9" stroke-linecap="round" stroke-linejoin="round"/>
<circle cx="327.6" cy="841.8" r="0.90" fill="#30c050"/>
<circle cx="340.6" cy="845.6" r="0.90" fill="#30c050"/>
<circle cx="348.2" cy="857.9" r="0.90" fill="#30c050"/>
<circle cx="350.5" cy="859.4" r="0.90" fill="#30c050"/>
<circle cx="354.4" cy="849.5" r="0.90" fill="#30c050"/>
<circle cx="355.9" cy="847.2" r="0.90" fill="#30c050"/>
<circle cx="343.6" cy="851.0" r="0.90" fill="#30c050"/>
<circle cx="334.5" cy="866.3" r="0.90" fill="#30c050"/>
<circle cx="331.4" cy="880.1" r="0.90" fill="#30c050"/>
<circle cx="332.9" cy="883.2" r="0.90" fill="#30c050"/>
<circle cx="330.6" cy="884.7" r="0.90" fill="#30c050"/>
<circle cx="322.2" cy="897.0" r="0.90" fill="#30c050"/>
<circle cx="325.3" cy="898.5" r="0.90" fill="#30c050"/>
<circle cx="366.6" cy="835.7" r="0.90" fill="#30c050"/>
<circle cx="367.4" cy="838.0" r="0.90" fill="#30c050"/>
<circle cx="372.8" cy="857.1" r="0.90" fill="#30c050"/>
<circle cx="377.4" cy="854.0" r="0.90" fill="#30c050"/>
<circle cx="378.9" cy="850.2" r="0.90" fill="#30c050"/>
<circle cx="384.3" cy="836.4" r="0.90" fill="#30c050"/>
<circle cx="386.3" cy="833.4" r="0.90" fill="#30c050"/>
<circle cx="309.2" cy="824.2" r="0.90" fill="#30c050"/>
<circle cx="357.4" cy="867.8" r="0.90" fill="#30c050"/>
</g>
<text transform="translate(300.0 909.5) rotate(-90)" font-size="7.9" fill="#2fb45a" textLength="22.5" lengthAdjust="spacingAndGlyphs">CPA6</text>
<text transform="translate(300.0 872.7) rotate(-90)" font-size="7.9" fill="#e8303a" textLength="25.6" lengthAdjust="spacingAndGlyphs">KRT17</text>
<text transform="translate(300.0 836.9) rotate(-90)" font-size="7.9" fill="#2ea8d8" textLength="20.4" lengthAdjust="spacingAndGlyphs">DAPI</text>
<rect x="360.1" y="906.4" width="26.6" height="2.6" fill="#fff" />
<text x="373.4" y="903.6" font-size="7.6" text-anchor="middle" fill="#fff" >100 µm</text>
<rect x="432.9" y="809.3" width="88.9" height="104.9" fill="#000" />
<rect x="432.9" y="809.3" width="10.6" height="104.9" fill="#231f20" />
<g clip-path="url(#clipm8)"><clipPath id="clipm8"><rect x="443.5" y="809.3" width="78.3" height="104.9"/></clipPath>
<g filter="url(#patch)">
<path d="M448.0 817.5C449.5 815.3 452.4 813.3 455.0 812.6C457.5 811.9 461.2 812.1 463.3 813.3C465.4 814.6 466.9 817.5 467.4 820.3C468.0 823.0 466.6 826.5 466.8 830.0C466.9 833.4 467.3 837.4 468.1 841.1C469.0 844.8 470.6 848.5 471.6 852.2C472.6 855.9 473.2 859.6 474.4 863.3C475.5 867.0 477.2 871.1 478.5 874.3C479.9 877.6 481.8 879.4 482.7 882.7C483.6 885.9 484.3 890.1 484.1 893.8C483.9 897.5 482.7 901.4 481.3 904.9C479.9 908.3 479.7 913.0 475.8 914.6C471.8 916.2 460.7 916.7 457.7 914.6C454.7 912.5 456.6 906.0 457.7 902.1C458.9 898.2 463.1 894.7 464.7 891.0C466.3 887.3 467.4 883.6 467.4 879.9C467.4 876.2 466.3 872.5 464.7 868.8C463.1 865.1 460.1 861.2 457.7 857.7C455.4 854.2 452.7 851.5 450.8 848.0C449.0 844.5 447.5 840.6 446.6 836.9C445.8 833.2 445.7 829.0 446.0 825.8C446.2 822.6 446.5 819.7 448.0 817.5Z" fill="#16207a" />
<path d="M484.1 828.6C484.7 827.0 486.4 824.1 488.3 823.0C490.1 822.0 492.4 822.3 495.2 822.3C498.0 822.3 501.9 822.6 504.9 823.0C507.9 823.5 510.2 824.2 513.2 825.1C516.2 826.0 521.3 822.2 522.9 828.6C524.5 834.9 524.5 857.9 522.9 863.3C521.3 868.6 516.2 860.5 513.2 860.5C510.2 860.5 507.7 863.3 504.9 863.3C502.1 863.3 498.7 861.9 496.6 860.5C494.5 859.1 493.3 857.2 492.4 854.9C491.5 852.6 490.8 848.9 491.0 846.6C491.3 844.3 494.3 842.4 493.8 841.1C493.3 839.7 489.8 839.7 488.3 838.3C486.7 836.9 485.5 834.4 484.8 832.7C484.1 831.1 483.5 830.2 484.1 828.6Z" fill="#16207a" />
<path d="M489.6 893.8C491.5 891.2 494.0 889.1 496.6 886.8C499.1 884.5 502.1 882.0 504.9 879.9C507.7 877.8 510.2 876.0 513.2 874.3C516.2 872.7 521.3 863.5 522.9 870.2C524.5 876.9 529.6 907.2 522.9 914.6C516.2 922.0 488.9 916.7 482.7 914.6C476.5 912.5 484.3 905.6 485.5 902.1C486.6 898.6 487.8 896.3 489.6 893.8Z" fill="#16207a" />
<path d="M476.5 854.9C477.0 854.1 479.9 853.7 480.6 854.2C481.4 854.8 481.6 857.6 481.0 858.4C480.5 859.2 477.9 859.7 477.2 859.1C476.4 858.5 475.9 855.7 476.5 854.9Z" fill="#16207a" />
<path d="M485.2 885.4C485.7 884.8 487.9 884.7 488.5 885.2C489.1 885.7 489.3 887.9 488.8 888.5C488.3 889.1 486.1 889.3 485.5 888.8C484.9 888.3 484.7 886.0 485.2 885.4Z" fill="#16207a" />
<path d="M492.4 848.7C493.2 847.8 497.0 847.2 498.0 848.0C498.9 848.8 499.0 852.3 498.2 853.3C497.4 854.2 494.1 854.3 493.1 853.5C492.1 852.8 491.6 849.6 492.4 848.7Z" fill="#16207a" />
</g>
<path d="M461.3 910.2h.01M458.6 813.9h.01M462.9 914.1h.01M479.0 861.2h.01M500.3 878.8h.01M508.5 820.6h.01M514.2 863.5h.01M489.0 824.2h.01M454.1 889.5h.01M484.9 862.8h.01M486.2 845.4h.01M466.7 832.4h.01M452.6 907.1h.01M449.0 884.5h.01M448.4 811.1h.01M470.2 878.3h.01M443.7 897.0h.01M461.0 894.4h.01M452.2 831.5h.01M499.0 873.4h.01M482.9 883.3h.01M501.8 877.2h.01M466.2 840.4h.01M489.3 879.9h.01M481.9 864.8h.01M511.3 913.0h.01M462.6 835.1h.01M505.4 887.7h.01M508.5 847.9h.01M515.6 891.8h.01M514.4 906.4h.01M448.7 892.2h.01M521.4 817.2h.01M491.2 854.9h.01M460.9 840.1h.01M469.9 830.2h.01M448.0 891.8h.01M481.0 868.3h.01M521.6 907.0h.01M461.1 832.2h.01M456.7 889.2h.01M505.3 863.0h.01M488.0 850.3h.01M508.1 877.2h.01M498.2 874.5h.01M508.5 810.8h.01M487.7 870.0h.01M451.8 842.8h.01M480.8 827.1h.01M492.7 813.3h.01M468.0 812.7h.01M457.1 824.6h.01M517.7 893.1h.01M444.6 855.8h.01M468.3 812.2h.01M467.2 841.9h.01M507.1 843.8h.01M476.0 904.9h.01M507.6 853.5h.01M476.8 824.8h.01M490.7 851.9h.01M498.6 882.2h.01M455.7 895.8h.01M505.9 873.3h.01M500.1 872.0h.01M474.8 890.0h.01M510.7 852.4h.01M481.7 866.8h.01M498.7 901.2h.01M465.1 866.7h.01M462.9 905.9h.01M501.2 838.1h.01M480.9 858.4h.01M480.6 893.5h.01M492.4 856.2h.01M491.0 838.2h.01M480.4 839.2h.01M480.8 816.2h.01M492.8 840.0h.01M474.4 866.7h.01M462.1 829.6h.01M500.5 836.0h.01M487.9 819.8h.01M491.0 897.2h.01M520.6 847.6h.01M517.2 840.8h.01M473.0 810.7h.01M514.1 832.5h.01M477.6 860.1h.01M471.9 883.1h.01M472.5 877.5h.01M492.3 866.5h.01M482.9 814.8h.01M495.4 846.9h.01M451.2 905.9h.01M468.3 861.8h.01M483.6 889.3h.01M492.7 841.2h.01M497.9 885.9h.01M467.2 902.8h.01M492.6 866.6h.01M512.4 870.3h.01M510.0 881.9h.01M486.2 872.5h.01M459.0 833.8h.01M486.6 893.3h.01M514.9 846.9h.01M511.7 826.1h.01M494.4 869.2h.01M487.7 902.0h.01M495.4 840.2h.01M497.4 817.6h.01M465.9 886.0h.01M456.0 851.7h.01M518.9 816.6h.01M448.1 810.2h.01M494.5 833.2h.01M491.7 871.8h.01M521.6 817.2h.01M461.8 815.9h.01M477.9 814.4h.01M485.4 869.9h.01M511.8 841.2h.01M453.0 885.2h.01M497.4 825.8h.01M504.7 857.0h.01M493.4 902.6h.01M504.0 852.6h.01M476.2 813.7h.01M520.9 825.1h.01M516.8 889.3h.01M505.1 817.6h.01M503.3 818.6h.01M453.4 867.6h.01M495.2 908.9h.01M488.0 852.0h.01M479.4 817.6h.01M497.7 904.9h.01M446.3 907.5h.01M451.6 813.4h.01M454.3 827.5h.01M446.8 861.1h.01M518.1 857.0h.01M475.6 823.8h.01M484.8 886.3h.01M455.0 895.0h.01M466.2 872.5h.01M504.2 835.4h.01M451.1 851.2h.01M490.6 912.1h.01M454.2 890.7h.01M463.1 855.7h.01M498.8 810.7h.01M461.4 869.8h.01M501.5 887.0h.01M458.1 859.0h.01M457.2 911.1h.01M489.5 904.1h.01M463.0 852.9h.01M445.8 838.7h.01M494.7 910.9h.01M447.1 868.1h.01M498.5 905.1h.01M514.6 888.5h.01M456.3 884.0h.01M499.2 873.3h.01M451.5 889.4h.01M467.5 828.6h.01M476.8 820.8h.01M488.3 833.4h.01M452.3 816.1h.01M495.2 826.5h.01M513.1 867.5h.01M466.5 891.7h.01M450.0 906.2h.01M503.7 860.3h.01M450.3 862.2h.01M482.9 910.4h.01M450.4 844.6h.01M500.8 841.9h.01M457.7 824.1h.01M457.6 888.1h.01M488.2 827.2h.01M469.8 872.8h.01M501.4 895.5h.01M450.1 848.6h.01M462.4 907.4h.01M502.2 910.5h.01M502.3 879.7h.01M479.8 843.3h.01M467.0 824.5h.01M484.3 852.8h.01M461.3 887.7h.01M489.1 830.1h.01M511.5 861.8h.01M488.7 862.3h.01M500.3 840.0h.01M466.1 829.5h.01M466.7 877.6h.01M509.9 863.7h.01M483.1 822.3h.01M496.8 848.3h.01M502.8 866.5h.01M455.1 880.9h.01M520.3 868.8h.01M519.8 834.6h.01M494.7 904.0h.01M497.2 853.4h.01M467.1 871.7h.01M517.0 848.6h.01M484.8 906.4h.01M487.6 885.0h.01M483.5 820.4h.01M494.9 852.1h.01M469.2 811.1h.01M506.0 825.0h.01M510.7 866.0h.01M498.5 822.3h.01M456.1 841.2h.01M502.3 823.1h.01M479.3 866.0h.01M483.4 812.1h.01M464.0 814.2h.01M494.6 905.8h.01M509.6 839.8h.01M475.4 855.3h.01M464.1 835.8h.01M481.9 814.4h.01M471.1 819.0h.01M515.1 894.7h.01M513.1 842.5h.01M471.2 903.3h.01M517.5 851.4h.01M484.3 901.1h.01M455.2 902.0h.01M477.8 894.4h.01M479.1 852.6h.01M468.9 884.1h.01M519.5 901.8h.01M472.5 857.6h.01M517.9 886.8h.01M496.1 887.3h.01M471.6 849.5h.01M471.4 817.5h.01M457.9 882.6h.01M511.1 827.1h.01M458.7 897.2h.01M501.2 813.2h.01M519.5 821.1h.01M486.0 828.5h.01M469.5 885.8h.01M471.6 875.2h.01M447.6 832.4h.01M470.6 907.3h.01M474.9 809.4h.01M505.8 879.1h.01M507.6 844.6h.01M484.1 895.3h.01M462.0 876.3h.01M470.5 873.8h.01M498.7 850.6h.01M494.3 900.8h.01M474.7 882.7h.01M515.1 913.8h.01M489.7 878.8h.01M510.8 833.8h.01M461.8 861.9h.01M500.5 854.8h.01M449.4 868.4h.01M509.1 880.1h.01M464.2 844.7h.01M458.9 879.7h.01M466.3 816.7h.01M480.1 895.8h.01M463.9 907.2h.01M493.2 841.6h.01M459.9 872.0h.01M512.5 897.8h.01M504.0 857.8h.01M445.5 904.8h.01M449.9 896.5h.01M512.7 854.8h.01M497.4 906.8h.01M481.6 815.2h.01M470.9 901.4h.01M511.2 829.0h.01M458.9 878.6h.01M459.6 904.9h.01M486.4 841.2h.01M517.8 835.5h.01M466.9 865.2h.01M459.8 826.6h.01M466.3 811.0h.01M507.8 833.1h.01M507.7 907.3h.01M484.5 848.7h.01M465.6 844.1h.01M498.3 884.9h.01M458.5 810.0h.01M506.3 896.6h.01M515.6 820.5h.01M500.8 907.8h.01M495.4 858.0h.01M517.5 850.1h.01M469.3 873.9h.01M468.6 833.1h.01M518.8 820.6h.01M465.6 900.4h.01M488.3 826.0h.01M505.0 854.0h.01M473.9 817.4h.01M456.2 889.3h.01M459.6 913.0h.01M488.5 869.0h.01M450.6 890.2h.01M484.4 896.8h.01M507.5 867.8h.01M515.7 836.9h.01M493.1 912.9h.01" stroke="#000" stroke-width="1.2" stroke-linecap="round" fill="none" stroke-opacity="0.4"/>
<path d="M474.9 812.5h.01M513.8 851.5h.01M461.8 811.4h.01M484.2 859.1h.01M470.0 881.8h.01M479.2 870.6h.01M465.9 846.7h.01M485.1 842.2h.01M492.4 841.7h.01M513.3 827.7h.01M459.3 889.7h.01M452.6 892.8h.01M470.3 827.1h.01M501.7 846.2h.01M457.0 844.7h.01M478.9 822.6h.01M483.8 818.8h.01M487.7 894.9h.01M461.2 830.0h.01M482.8 843.3h.01M501.7 906.6h.01M508.6 846.7h.01M494.5 820.8h.01M472.5 909.9h.01M459.6 850.9h.01M492.4 895.8h.01M465.0 895.9h.01M465.2 902.5h.01M456.9 868.8h.01M445.2 829.4h.01M510.8 877.9h.01M500.2 872.2h.01M460.9 887.4h.01M463.5 850.1h.01M508.1 868.0h.01M491.6 852.8h.01M488.8 903.3h.01M497.7 912.5h.01M458.2 837.2h.01M508.7 897.3h.01M466.3 812.7h.01M483.2 840.4h.01M478.7 908.7h.01M499.5 848.0h.01M480.8 869.8h.01M483.4 860.0h.01M464.4 811.7h.01M501.6 870.6h.01M479.1 840.4h.01M450.5 903.5h.01M479.2 858.6h.01M450.4 892.5h.01M460.5 876.0h.01M498.7 907.5h.01M495.5 913.2h.01M467.7 841.6h.01M521.1 907.5h.01M494.7 817.9h.01M487.0 908.1h.01M469.9 822.8h.01M474.6 811.5h.01M491.1 861.8h.01M491.4 821.3h.01M469.8 849.7h.01M515.9 872.8h.01M483.5 882.4h.01M501.1 868.7h.01M466.8 887.8h.01M471.1 815.2h.01M503.6 812.4h.01M467.4 864.6h.01M488.3 870.5h.01M451.7 900.8h.01M445.7 822.5h.01M476.7 820.9h.01M480.3 880.2h.01M457.7 855.9h.01M460.1 864.0h.01M483.1 868.3h.01M473.8 855.5h.01M518.5 849.6h.01M468.5 835.5h.01M515.3 862.7h.01M458.5 821.1h.01M520.0 907.2h.01M484.8 874.7h.01M506.6 867.9h.01M516.9 860.7h.01M489.1 900.3h.01M509.3 891.8h.01M485.0 853.9h.01M473.9 842.5h.01M511.0 834.1h.01M485.5 897.9h.01M491.3 863.0h.01M499.2 876.6h.01M512.8 858.4h.01M475.1 879.0h.01M489.8 858.4h.01M515.0 852.3h.01M469.3 886.8h.01M447.8 840.0h.01M508.1 902.1h.01M505.8 897.2h.01M516.2 817.7h.01M477.5 867.3h.01M452.5 882.8h.01M509.8 881.2h.01M481.4 817.1h.01M470.2 843.5h.01M514.7 864.3h.01M511.5 856.5h.01M466.4 828.4h.01M451.3 906.3h.01M462.9 849.3h.01M491.5 904.1h.01M471.3 856.7h.01M465.1 813.2h.01M518.9 823.9h.01M502.2 849.9h.01M508.1 870.0h.01M444.7 885.5h.01M467.1 818.7h.01M454.2 874.2h.01M512.4 899.2h.01M459.2 912.1h.01M482.6 889.5h.01M474.7 853.2h.01M445.1 833.4h.01M453.4 847.7h.01M450.0 864.2h.01M487.4 891.3h.01M469.8 830.7h.01M503.9 905.4h.01M490.3 904.2h.01M519.3 912.2h.01M520.8 825.5h.01M506.4 906.4h.01M494.5 851.2h.01M483.7 827.7h.01M491.2 863.1h.01M471.2 882.9h.01M448.6 827.7h.01M519.2 879.2h.01M513.1 877.1h.01M488.1 898.3h.01M456.1 903.7h.01M445.0 868.9h.01M521.8 827.8h.01M449.4 893.4h.01M468.2 864.5h.01M480.5 880.0h.01M455.0 901.9h.01M490.6 881.1h.01M505.1 830.5h.01M478.0 890.6h.01M499.1 833.5h.01M489.7 816.6h.01M466.3 821.8h.01M504.0 890.1h.01M512.9 866.2h.01M472.7 885.9h.01M458.9 891.2h.01M449.6 878.2h.01M485.8 815.6h.01M516.9 815.6h.01M501.0 834.2h.01M506.0 899.4h.01M469.6 913.7h.01M450.5 817.1h.01M451.8 887.4h.01M444.3 836.8h.01M476.8 902.5h.01M498.3 887.8h.01M449.0 850.4h.01M450.6 900.0h.01M468.1 840.6h.01M515.4 891.1h.01M509.4 883.0h.01M472.6 885.7h.01M490.8 852.6h.01M453.3 834.2h.01M505.1 866.0h.01M474.9 904.1h.01M500.2 831.3h.01M460.9 826.2h.01M462.0 876.4h.01M469.1 831.1h.01M488.8 831.1h.01M462.1 865.4h.01M505.3 873.4h.01M468.8 891.9h.01M479.3 839.8h.01M493.8 860.2h.01M455.4 878.7h.01M493.2 823.2h.01M494.9 870.1h.01M449.9 849.0h.01M454.4 879.2h.01M511.0 853.0h.01M446.4 896.2h.01M514.2 837.1h.01M454.0 811.5h.01M443.6 848.5h.01M452.3 887.3h.01M517.7 902.6h.01M465.9 831.0h.01M491.5 870.0h.01M504.1 875.3h.01M482.1 877.7h.01M474.5 841.7h.01M489.9 852.0h.01M479.7 902.5h.01M507.1 814.5h.01M490.3 862.4h.01M475.9 846.6h.01M448.9 878.1h.01M492.6 818.3h.01M502.1 843.4h.01M501.0 859.8h.01M470.3 894.1h.01M477.3 845.3h.01M461.3 865.6h.01M471.7 896.6h.01M502.8 904.4h.01M518.4 908.8h.01M464.0 847.3h.01M491.9 851.3h.01M502.3 900.8h.01M477.7 890.5h.01M496.7 835.3h.01M445.8 827.3h.01M460.7 858.7h.01M503.1 827.8h.01M505.5 898.3h.01M479.4 841.3h.01M500.3 823.0h.01M486.2 859.5h.01M446.0 825.3h.01M454.5 868.4h.01M449.4 889.7h.01M506.7 828.4h.01M472.7 842.1h.01M505.6 826.6h.01M456.4 815.2h.01M460.2 829.4h.01M520.1 831.4h.01M511.2 894.1h.01M512.3 818.1h.01M458.6 879.6h.01M519.9 857.7h.01M464.9 836.6h.01M490.3 881.5h.01M473.5 896.9h.01M457.2 848.1h.01M492.5 833.3h.01M444.8 810.9h.01M519.9 883.9h.01M459.3 823.5h.01M446.0 858.0h.01M450.7 860.2h.01M464.7 867.7h.01M486.5 877.6h.01M458.0 879.7h.01M485.3 871.4h.01M507.2 815.7h.01M487.2 910.3h.01M478.6 823.7h.01M491.6 855.0h.01M467.0 888.9h.01M470.2 893.4h.01M498.0 868.7h.01M470.0 891.3h.01M443.6 888.9h.01M511.1 909.2h.01M492.0 848.6h.01M445.3 811.0h.01M519.6 822.8h.01M445.7 865.8h.01M473.9 869.2h.01M474.3 845.6h.01M461.5 874.5h.01M464.2 906.7h.01M513.4 888.5h.01M515.3 872.4h.01M512.8 829.2h.01M479.0 839.0h.01M508.8 809.5h.01M478.4 912.9h.01M464.0 876.8h.01M482.0 890.5h.01M499.2 869.0h.01M465.1 818.9h.01M473.7 873.3h.01M457.9 819.9h.01M479.4 843.4h.01M499.5 833.3h.01M491.3 886.4h.01" stroke="#000" stroke-width="1.6" stroke-linecap="round" fill="none" stroke-opacity="0.4"/>
<path d="M521.1 815.9h.01M485.8 813.2h.01M458.7 908.5h.01M517.9 897.8h.01M506.8 899.2h.01M476.7 848.8h.01M514.4 823.9h.01M478.4 853.1h.01M450.2 820.5h.01M484.8 825.4h.01M481.7 824.9h.01M448.3 874.1h.01M478.1 818.0h.01M473.3 820.7h.01M494.8 896.3h.01M450.8 910.8h.01M461.0 840.4h.01M476.3 887.4h.01M510.1 863.5h.01M509.5 881.1h.01M500.5 895.4h.01M464.6 816.5h.01M461.8 894.4h.01M505.6 850.0h.01M450.3 857.8h.01M453.4 846.8h.01M448.7 903.7h.01M500.5 816.1h.01M466.6 834.7h.01M497.9 856.3h.01M511.5 886.3h.01M482.6 911.2h.01M472.7 862.0h.01M502.5 854.4h.01M516.2 878.8h.01M487.5 841.0h.01M510.8 856.2h.01M470.2 870.0h.01M452.0 884.6h.01M459.4 864.2h.01M501.1 886.7h.01M511.6 880.8h.01M483.5 859.8h.01M495.0 891.0h.01M494.9 835.8h.01M448.5 860.5h.01M456.1 815.1h.01M458.3 894.0h.01M513.4 895.8h.01M497.0 904.7h.01M519.5 874.1h.01M456.5 819.5h.01M449.1 843.2h.01M454.5 834.1h.01M452.7 880.4h.01M444.8 810.9h.01M512.4 866.1h.01M504.8 815.4h.01M494.4 907.9h.01M520.5 869.5h.01M486.7 884.2h.01M457.9 860.2h.01M513.8 879.6h.01M508.7 890.8h.01M493.9 861.2h.01M467.8 912.1h.01M496.6 811.5h.01M500.3 913.9h.01M509.6 846.5h.01M462.4 900.7h.01M510.7 843.0h.01M486.8 840.9h.01M490.5 812.1h.01M446.8 863.7h.01M453.8 838.0h.01M519.0 836.6h.01M472.0 856.0h.01M497.9 888.7h.01M485.1 909.8h.01M443.6 839.5h.01M452.7 810.9h.01M480.1 851.4h.01M509.1 867.9h.01M460.8 848.8h.01M475.2 908.2h.01M518.2 896.4h.01M448.3 874.6h.01M458.4 815.7h.01M504.3 877.6h.01M489.0 896.4h.01M505.1 881.3h.01M448.2 876.7h.01M517.9 861.1h.01M486.9 839.4h.01M483.0 841.6h.01M511.5 885.2h.01M505.7 848.8h.01M466.0 856.4h.01M462.9 837.0h.01M446.1 810.3h.01M466.5 818.4h.01M504.6 812.3h.01M497.6 867.1h.01M454.8 823.9h.01M478.6 900.0h.01M493.3 822.9h.01M478.8 836.8h.01M446.7 858.6h.01M467.2 885.4h.01M446.8 858.2h.01M458.1 832.2h.01M449.4 896.4h.01M482.1 875.2h.01M473.3 826.2h.01M472.2 895.5h.01M482.0 863.7h.01M503.2 870.7h.01M482.3 867.5h.01M521.5 911.1h.01M455.4 876.8h.01M453.1 877.2h.01M488.5 913.4h.01M510.1 883.4h.01M465.8 892.5h.01M481.4 852.6h.01M468.1 816.2h.01M459.4 814.6h.01M506.4 880.5h.01M473.0 817.8h.01M513.1 880.2h.01M506.4 834.1h.01M473.2 883.3h.01M506.8 898.5h.01M466.0 862.8h.01M519.8 826.3h.01M491.1 878.8h.01M491.8 864.3h.01M475.5 866.6h.01M463.8 822.2h.01M469.4 858.7h.01M518.6 831.7h.01M508.0 878.5h.01M471.8 857.7h.01M450.5 811.2h.01M445.4 873.7h.01M479.8 848.0h.01M467.9 903.2h.01M493.6 881.4h.01M463.6 877.7h.01M454.9 885.4h.01M513.1 872.2h.01M461.0 865.0h.01M473.0 876.0h.01M483.1 868.2h.01M494.8 834.6h.01M486.4 817.8h.01M483.4 908.3h.01M510.7 908.4h.01M517.1 832.6h.01M501.1 813.7h.01M460.2 905.7h.01M443.6 868.2h.01M450.1 865.6h.01M495.9 817.7h.01M516.6 889.3h.01M449.8 900.5h.01M502.2 868.2h.01M519.6 913.6h.01M489.8 866.0h.01M461.6 849.1h.01M472.5 832.4h.01M491.2 849.1h.01M488.5 907.8h.01M444.0 875.3h.01M521.0 824.0h.01M513.3 825.6h.01M474.9 906.8h.01M518.9 812.0h.01M475.5 855.9h.01M488.8 838.3h.01M483.9 838.4h.01M512.2 872.2h.01M490.4 844.9h.01M458.2 864.3h.01M509.3 844.5h.01M462.3 913.5h.01M453.2 886.8h.01M450.0 838.5h.01M465.4 902.3h.01M489.9 830.6h.01M501.2 867.1h.01M502.5 812.3h.01M507.5 887.6h.01M467.8 840.4h.01M467.3 873.8h.01M491.1 905.1h.01M465.4 881.2h.01M500.5 891.3h.01M517.4 847.5h.01M521.5 904.2h.01M461.6 902.9h.01M450.5 846.4h.01M514.5 823.3h.01M450.6 874.7h.01M517.9 868.3h.01M458.9 834.6h.01M518.9 888.0h.01M471.5 912.2h.01M446.4 855.9h.01M444.0 818.1h.01M507.0 821.6h.01M449.8 893.8h.01M507.7 865.3h.01M466.1 811.7h.01M475.0 893.7h.01M449.6 901.1h.01M481.0 885.6h.01M457.7 911.6h.01M512.0 913.4h.01M464.6 886.0h.01M480.2 838.4h.01M504.8 834.2h.01M520.5 829.8h.01M444.9 900.2h.01M513.9 815.6h.01M482.8 820.7h.01M472.2 893.3h.01M481.2 868.1h.01M455.7 877.0h.01M503.7 877.6h.01M486.5 864.9h.01M502.9 828.5h.01M516.1 840.7h.01M466.1 812.5h.01M462.1 810.1h.01M476.0 831.9h.01M469.0 819.4h.01M489.8 907.1h.01M516.9 875.4h.01M514.9 866.8h.01M457.4 839.1h.01M481.0 902.0h.01M475.7 869.6h.01M455.3 869.8h.01M466.5 823.9h.01M453.3 868.9h.01M456.3 909.8h.01M486.8 872.9h.01M460.8 825.2h.01M454.7 898.5h.01M484.2 846.9h.01M495.8 887.1h.01M463.2 851.1h.01M459.1 898.4h.01M501.1 887.1h.01M473.5 861.9h.01M455.9 904.4h.01M479.1 848.7h.01M479.2 862.8h.01M463.8 914.1h.01M457.7 856.9h.01M485.4 880.9h.01M505.0 912.7h.01M484.2 872.9h.01M473.2 857.2h.01M516.4 838.5h.01M513.2 908.2h.01M498.5 819.5h.01M504.2 814.1h.01M461.4 846.0h.01M479.3 842.0h.01M509.3 830.3h.01M514.9 896.7h.01M478.1 908.7h.01M456.6 832.6h.01M466.2 836.2h.01M478.4 907.3h.01M449.2 829.4h.01M494.8 836.1h.01M448.1 828.1h.01M514.7 836.3h.01M500.2 875.8h.01M495.2 872.2h.01" stroke="#000" stroke-width="2.0" stroke-linecap="round" fill="none" stroke-opacity="0.4"/>
<polyline points="456.4,825.8 458.4,830.7 457.0,834.1" fill="none" stroke="#e0283a" stroke-width="0.9" stroke-linecap="round" stroke-linejoin="round"/>
<polyline points="459.8,818.9 461.6,822.3" fill="none" stroke="#e0283a" stroke-width="0.9" stroke-linecap="round" stroke-linejoin="round"/>
<polyline points="454.3,836.2 455.7,839.0" fill="none" stroke="#e0283a" stroke-width="0.9" stroke-linecap="round" stroke-linejoin="round"/>
<polyline points="457.7,845.9 459.4,848.0" fill="none" stroke="#e0283a" stroke-width="0.9" stroke-linecap="round" stroke-linejoin="round"/>
<polyline points="463.3,858.4 464.1,860.5" fill="none" stroke="#e0283a" stroke-width="0.9" stroke-linecap="round" stroke-linejoin="round"/>
<polyline points="464.4,864.9 465.5,866.9" fill="none" stroke="#e0283a" stroke-width="0.9" stroke-linecap="round" stroke-linejoin="round"/>
<polyline points="461.2,827.2 462.6,830.7" fill="none" stroke="#e0283a" stroke-width="0.9" stroke-linecap="round" stroke-linejoin="round"/>
<polyline points="452.2,821.6 453.9,824.4" fill="none" stroke="#e0283a" stroke-width="0.9" stroke-linecap="round" stroke-linejoin="round"/>
<polyline points="446.4,828.6 447.3,839.7 450.8,848.0 456.4,856.3" fill="none" stroke="#40c848" stroke-width="0.9" stroke-linecap="round"/>
<polyline points="466.8,821.6 466.3,832.7 468.8,843.8 471.6,852.2" fill="none" stroke="#40c848" stroke-width="0.9" stroke-linecap="round"/>
<polyline points="484.8,832.7 486.2,827.2 491.0,821.9 493.1,821.4" fill="none" stroke="#40c848" stroke-width="0.9" stroke-linecap="round"/>
<polyline points="496.9,818.2 498.0,819.6" fill="none" stroke="#40c848" stroke-width="0.9" stroke-linecap="round"/>
<polyline points="450.5,891.0 451.4,892.7" fill="none" stroke="#40c848" stroke-width="0.9" stroke-linecap="round"/>
</g>
<text transform="translate(441.6 908.4) rotate(-90)" font-size="7.9" fill="#2fb45a" textLength="24.5" lengthAdjust="spacingAndGlyphs">KRT17</text>
<text transform="translate(441.6 876.3) rotate(-90)" font-size="7.9" fill="#e8303a" textLength="33.3" lengthAdjust="spacingAndGlyphs">CTHRC1</text>
<text transform="translate(441.6 836.9) rotate(-90)" font-size="7.9" fill="#2ea8d8" textLength="20.4" lengthAdjust="spacingAndGlyphs">DAPI</text>
<rect x="491.2" y="906.4" width="26.5" height="2.6" fill="#fff" />
<text x="504.5" y="903.6" font-size="7.6" text-anchor="middle" fill="#fff" >50 µm</text>
</svg>
</body></html>
